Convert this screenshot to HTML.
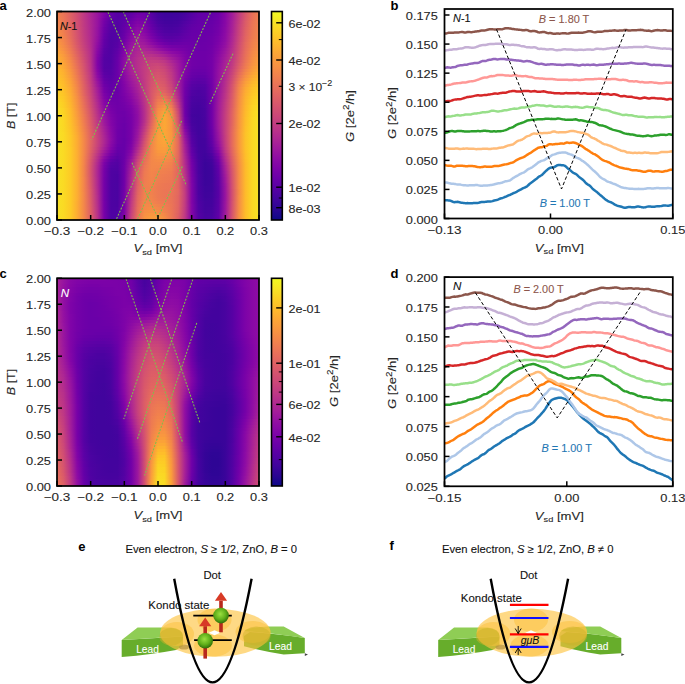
<!DOCTYPE html>
<html><head><meta charset="utf-8"><style>
html,body{margin:0;padding:0;background:#fff;width:685px;height:684px;overflow:hidden}
svg{display:block;font-family:"Liberation Sans", sans-serif}
</style></head><body>
<svg width="685" height="684" viewBox="0 0 685 684">
<defs><linearGradient id="ga0"><stop offset="0.000" stop-color="#f1814d"/><stop offset="0.033" stop-color="#ea7457"/><stop offset="0.067" stop-color="#df6263"/><stop offset="0.100" stop-color="#d14e72"/><stop offset="0.133" stop-color="#bf3984"/><stop offset="0.167" stop-color="#ac2694"/><stop offset="0.200" stop-color="#99159f"/><stop offset="0.233" stop-color="#8004a8"/><stop offset="0.267" stop-color="#6300a7"/><stop offset="0.300" stop-color="#5601a4"/><stop offset="0.333" stop-color="#5801a4"/><stop offset="0.367" stop-color="#6001a6"/><stop offset="0.400" stop-color="#6f00a8"/><stop offset="0.433" stop-color="#6e00a8"/><stop offset="0.467" stop-color="#5801a4"/><stop offset="0.500" stop-color="#44039e"/><stop offset="0.533" stop-color="#3e049c"/><stop offset="0.567" stop-color="#3e049c"/><stop offset="0.600" stop-color="#3f049c"/><stop offset="0.633" stop-color="#46039f"/><stop offset="0.667" stop-color="#5302a3"/><stop offset="0.700" stop-color="#6001a6"/><stop offset="0.733" stop-color="#6300a7"/><stop offset="0.767" stop-color="#6300a7"/><stop offset="0.800" stop-color="#6c00a8"/><stop offset="0.833" stop-color="#8606a6"/><stop offset="0.867" stop-color="#a21d9a"/><stop offset="0.900" stop-color="#c03a83"/><stop offset="0.933" stop-color="#d8576b"/><stop offset="0.967" stop-color="#e87059"/><stop offset="1.000" stop-color="#f0804e"/></linearGradient><linearGradient id="ga1"><stop offset="0.000" stop-color="#f1834c"/><stop offset="0.033" stop-color="#eb7556"/><stop offset="0.067" stop-color="#df6263"/><stop offset="0.100" stop-color="#d14e72"/><stop offset="0.133" stop-color="#bf3984"/><stop offset="0.167" stop-color="#ac2694"/><stop offset="0.200" stop-color="#99159f"/><stop offset="0.233" stop-color="#7d03a8"/><stop offset="0.267" stop-color="#6001a6"/><stop offset="0.300" stop-color="#5601a4"/><stop offset="0.333" stop-color="#5901a5"/><stop offset="0.367" stop-color="#6400a7"/><stop offset="0.400" stop-color="#7501a8"/><stop offset="0.433" stop-color="#7100a8"/><stop offset="0.467" stop-color="#5901a5"/><stop offset="0.500" stop-color="#46039f"/><stop offset="0.533" stop-color="#3f049c"/><stop offset="0.567" stop-color="#3f049c"/><stop offset="0.600" stop-color="#41049d"/><stop offset="0.633" stop-color="#4903a0"/><stop offset="0.667" stop-color="#5601a4"/><stop offset="0.700" stop-color="#6100a7"/><stop offset="0.733" stop-color="#6400a7"/><stop offset="0.767" stop-color="#6400a7"/><stop offset="0.800" stop-color="#6e00a8"/><stop offset="0.833" stop-color="#8606a6"/><stop offset="0.867" stop-color="#a21d9a"/><stop offset="0.900" stop-color="#c13b82"/><stop offset="0.933" stop-color="#d9586a"/><stop offset="0.967" stop-color="#e97158"/><stop offset="1.000" stop-color="#f0804e"/></linearGradient><linearGradient id="ga2"><stop offset="0.000" stop-color="#f2844b"/><stop offset="0.033" stop-color="#eb7655"/><stop offset="0.067" stop-color="#e06363"/><stop offset="0.100" stop-color="#d14e72"/><stop offset="0.133" stop-color="#bf3984"/><stop offset="0.167" stop-color="#ad2793"/><stop offset="0.200" stop-color="#9814a0"/><stop offset="0.233" stop-color="#7801a8"/><stop offset="0.267" stop-color="#5c01a6"/><stop offset="0.300" stop-color="#5502a4"/><stop offset="0.333" stop-color="#5c01a6"/><stop offset="0.367" stop-color="#6a00a8"/><stop offset="0.400" stop-color="#7b02a8"/><stop offset="0.433" stop-color="#7501a8"/><stop offset="0.467" stop-color="#5c01a6"/><stop offset="0.500" stop-color="#48039f"/><stop offset="0.533" stop-color="#41049d"/><stop offset="0.567" stop-color="#41049d"/><stop offset="0.600" stop-color="#43039e"/><stop offset="0.633" stop-color="#4c02a1"/><stop offset="0.667" stop-color="#5901a5"/><stop offset="0.700" stop-color="#6300a7"/><stop offset="0.733" stop-color="#6400a7"/><stop offset="0.767" stop-color="#6600a7"/><stop offset="0.800" stop-color="#6f00a8"/><stop offset="0.833" stop-color="#8707a6"/><stop offset="0.867" stop-color="#a31e9a"/><stop offset="0.900" stop-color="#c23c81"/><stop offset="0.933" stop-color="#da5a6a"/><stop offset="0.967" stop-color="#e97257"/><stop offset="1.000" stop-color="#f1814d"/></linearGradient><linearGradient id="ga3"><stop offset="0.000" stop-color="#f3854b"/><stop offset="0.033" stop-color="#ec7754"/><stop offset="0.067" stop-color="#e16462"/><stop offset="0.100" stop-color="#d24f71"/><stop offset="0.133" stop-color="#c03a83"/><stop offset="0.167" stop-color="#ad2793"/><stop offset="0.200" stop-color="#9814a0"/><stop offset="0.233" stop-color="#7501a8"/><stop offset="0.267" stop-color="#5901a5"/><stop offset="0.300" stop-color="#5502a4"/><stop offset="0.333" stop-color="#5e01a6"/><stop offset="0.367" stop-color="#7100a8"/><stop offset="0.400" stop-color="#8104a7"/><stop offset="0.433" stop-color="#7a02a8"/><stop offset="0.467" stop-color="#6100a7"/><stop offset="0.500" stop-color="#4b03a1"/><stop offset="0.533" stop-color="#44039e"/><stop offset="0.567" stop-color="#43039e"/><stop offset="0.600" stop-color="#46039f"/><stop offset="0.633" stop-color="#5102a3"/><stop offset="0.667" stop-color="#5c01a6"/><stop offset="0.700" stop-color="#6400a7"/><stop offset="0.733" stop-color="#6600a7"/><stop offset="0.767" stop-color="#6700a8"/><stop offset="0.800" stop-color="#7100a8"/><stop offset="0.833" stop-color="#8707a6"/><stop offset="0.867" stop-color="#a51f99"/><stop offset="0.900" stop-color="#c33d80"/><stop offset="0.933" stop-color="#db5c68"/><stop offset="0.967" stop-color="#ea7457"/><stop offset="1.000" stop-color="#f1814d"/></linearGradient><linearGradient id="ga4"><stop offset="0.000" stop-color="#f48849"/><stop offset="0.033" stop-color="#ed7a52"/><stop offset="0.067" stop-color="#e26561"/><stop offset="0.100" stop-color="#d24f71"/><stop offset="0.133" stop-color="#c03a83"/><stop offset="0.167" stop-color="#ae2892"/><stop offset="0.200" stop-color="#9814a0"/><stop offset="0.233" stop-color="#7201a8"/><stop offset="0.267" stop-color="#5601a4"/><stop offset="0.300" stop-color="#5302a3"/><stop offset="0.333" stop-color="#6100a7"/><stop offset="0.367" stop-color="#7501a8"/><stop offset="0.400" stop-color="#8707a6"/><stop offset="0.433" stop-color="#7e03a8"/><stop offset="0.467" stop-color="#6600a7"/><stop offset="0.500" stop-color="#5002a2"/><stop offset="0.533" stop-color="#48039f"/><stop offset="0.567" stop-color="#46039f"/><stop offset="0.600" stop-color="#4903a0"/><stop offset="0.633" stop-color="#5502a4"/><stop offset="0.667" stop-color="#6001a6"/><stop offset="0.700" stop-color="#6600a7"/><stop offset="0.733" stop-color="#6700a8"/><stop offset="0.767" stop-color="#6900a8"/><stop offset="0.800" stop-color="#7201a8"/><stop offset="0.833" stop-color="#8808a6"/><stop offset="0.867" stop-color="#a62098"/><stop offset="0.900" stop-color="#c5407e"/><stop offset="0.933" stop-color="#dc5d67"/><stop offset="0.967" stop-color="#eb7556"/><stop offset="1.000" stop-color="#f1834c"/></linearGradient><linearGradient id="ga5"><stop offset="0.000" stop-color="#f48948"/><stop offset="0.033" stop-color="#ee7b51"/><stop offset="0.067" stop-color="#e3685f"/><stop offset="0.100" stop-color="#d35171"/><stop offset="0.133" stop-color="#c13b82"/><stop offset="0.167" stop-color="#ae2892"/><stop offset="0.200" stop-color="#9613a1"/><stop offset="0.233" stop-color="#6f00a8"/><stop offset="0.267" stop-color="#5502a4"/><stop offset="0.300" stop-color="#5302a3"/><stop offset="0.333" stop-color="#6400a7"/><stop offset="0.367" stop-color="#7b02a8"/><stop offset="0.400" stop-color="#8d0ba5"/><stop offset="0.433" stop-color="#8305a7"/><stop offset="0.467" stop-color="#6a00a8"/><stop offset="0.500" stop-color="#5502a4"/><stop offset="0.533" stop-color="#4b03a1"/><stop offset="0.567" stop-color="#4903a0"/><stop offset="0.600" stop-color="#4e02a2"/><stop offset="0.633" stop-color="#5801a4"/><stop offset="0.667" stop-color="#6300a7"/><stop offset="0.700" stop-color="#6700a8"/><stop offset="0.733" stop-color="#6700a8"/><stop offset="0.767" stop-color="#6a00a8"/><stop offset="0.800" stop-color="#7401a8"/><stop offset="0.833" stop-color="#8a09a5"/><stop offset="0.867" stop-color="#a72197"/><stop offset="0.900" stop-color="#c6417d"/><stop offset="0.933" stop-color="#de5f65"/><stop offset="0.967" stop-color="#eb7655"/><stop offset="1.000" stop-color="#f2844b"/></linearGradient><linearGradient id="ga6"><stop offset="0.000" stop-color="#f58c46"/><stop offset="0.033" stop-color="#ef7e50"/><stop offset="0.067" stop-color="#e4695e"/><stop offset="0.100" stop-color="#d45270"/><stop offset="0.133" stop-color="#c13b82"/><stop offset="0.167" stop-color="#b02991"/><stop offset="0.200" stop-color="#9613a1"/><stop offset="0.233" stop-color="#6c00a8"/><stop offset="0.267" stop-color="#5302a3"/><stop offset="0.300" stop-color="#5302a3"/><stop offset="0.333" stop-color="#6600a7"/><stop offset="0.367" stop-color="#8004a8"/><stop offset="0.400" stop-color="#920fa3"/><stop offset="0.433" stop-color="#8707a6"/><stop offset="0.467" stop-color="#7100a8"/><stop offset="0.500" stop-color="#5b01a5"/><stop offset="0.533" stop-color="#5002a2"/><stop offset="0.567" stop-color="#4e02a2"/><stop offset="0.600" stop-color="#5102a3"/><stop offset="0.633" stop-color="#5c01a6"/><stop offset="0.667" stop-color="#6600a7"/><stop offset="0.700" stop-color="#6700a8"/><stop offset="0.733" stop-color="#6900a8"/><stop offset="0.767" stop-color="#6a00a8"/><stop offset="0.800" stop-color="#7501a8"/><stop offset="0.833" stop-color="#8b0aa5"/><stop offset="0.867" stop-color="#a82296"/><stop offset="0.900" stop-color="#c8437b"/><stop offset="0.933" stop-color="#df6263"/><stop offset="0.967" stop-color="#ed7953"/><stop offset="1.000" stop-color="#f3854b"/></linearGradient><linearGradient id="ga7"><stop offset="0.000" stop-color="#f68f44"/><stop offset="0.033" stop-color="#f0804e"/><stop offset="0.067" stop-color="#e56a5d"/><stop offset="0.100" stop-color="#d5536f"/><stop offset="0.133" stop-color="#c23c81"/><stop offset="0.167" stop-color="#b02991"/><stop offset="0.200" stop-color="#9613a1"/><stop offset="0.233" stop-color="#6900a8"/><stop offset="0.267" stop-color="#5102a3"/><stop offset="0.300" stop-color="#5302a3"/><stop offset="0.333" stop-color="#6900a8"/><stop offset="0.367" stop-color="#8606a6"/><stop offset="0.400" stop-color="#9613a1"/><stop offset="0.433" stop-color="#8d0ba5"/><stop offset="0.467" stop-color="#7701a8"/><stop offset="0.500" stop-color="#6100a7"/><stop offset="0.533" stop-color="#5502a4"/><stop offset="0.567" stop-color="#5302a3"/><stop offset="0.600" stop-color="#5601a4"/><stop offset="0.633" stop-color="#6001a6"/><stop offset="0.667" stop-color="#6700a8"/><stop offset="0.700" stop-color="#6900a8"/><stop offset="0.733" stop-color="#6900a8"/><stop offset="0.767" stop-color="#6c00a8"/><stop offset="0.800" stop-color="#7701a8"/><stop offset="0.833" stop-color="#8d0ba5"/><stop offset="0.867" stop-color="#ab2494"/><stop offset="0.900" stop-color="#c9447a"/><stop offset="0.933" stop-color="#e06363"/><stop offset="0.967" stop-color="#ed7a52"/><stop offset="1.000" stop-color="#f3874a"/></linearGradient><linearGradient id="ga8"><stop offset="0.000" stop-color="#f79143"/><stop offset="0.033" stop-color="#f1834c"/><stop offset="0.067" stop-color="#e66c5c"/><stop offset="0.100" stop-color="#d5546e"/><stop offset="0.133" stop-color="#c33d80"/><stop offset="0.167" stop-color="#b12a90"/><stop offset="0.200" stop-color="#9511a1"/><stop offset="0.233" stop-color="#6700a8"/><stop offset="0.267" stop-color="#5002a2"/><stop offset="0.300" stop-color="#5502a4"/><stop offset="0.333" stop-color="#6c00a8"/><stop offset="0.367" stop-color="#8a09a5"/><stop offset="0.400" stop-color="#9c179e"/><stop offset="0.433" stop-color="#920fa3"/><stop offset="0.467" stop-color="#7d03a8"/><stop offset="0.500" stop-color="#6900a8"/><stop offset="0.533" stop-color="#5b01a5"/><stop offset="0.567" stop-color="#5801a4"/><stop offset="0.600" stop-color="#5c01a6"/><stop offset="0.633" stop-color="#6300a7"/><stop offset="0.667" stop-color="#6900a8"/><stop offset="0.700" stop-color="#6a00a8"/><stop offset="0.733" stop-color="#6a00a8"/><stop offset="0.767" stop-color="#6e00a8"/><stop offset="0.800" stop-color="#7a02a8"/><stop offset="0.833" stop-color="#8e0ca4"/><stop offset="0.867" stop-color="#ac2694"/><stop offset="0.900" stop-color="#cb4679"/><stop offset="0.933" stop-color="#e26561"/><stop offset="0.967" stop-color="#ee7b51"/><stop offset="1.000" stop-color="#f48849"/></linearGradient><linearGradient id="ga9"><stop offset="0.000" stop-color="#f89441"/><stop offset="0.033" stop-color="#f3854b"/><stop offset="0.067" stop-color="#e76f5a"/><stop offset="0.100" stop-color="#d6556d"/><stop offset="0.133" stop-color="#c43e7f"/><stop offset="0.167" stop-color="#b12a90"/><stop offset="0.200" stop-color="#9410a2"/><stop offset="0.233" stop-color="#6400a7"/><stop offset="0.267" stop-color="#5002a2"/><stop offset="0.300" stop-color="#5502a4"/><stop offset="0.333" stop-color="#7100a8"/><stop offset="0.367" stop-color="#8e0ca4"/><stop offset="0.400" stop-color="#a01a9c"/><stop offset="0.433" stop-color="#9814a0"/><stop offset="0.467" stop-color="#8606a6"/><stop offset="0.500" stop-color="#7100a8"/><stop offset="0.533" stop-color="#6400a7"/><stop offset="0.567" stop-color="#5e01a6"/><stop offset="0.600" stop-color="#6100a7"/><stop offset="0.633" stop-color="#6700a8"/><stop offset="0.667" stop-color="#6a00a8"/><stop offset="0.700" stop-color="#6a00a8"/><stop offset="0.733" stop-color="#6a00a8"/><stop offset="0.767" stop-color="#6f00a8"/><stop offset="0.800" stop-color="#7b02a8"/><stop offset="0.833" stop-color="#8f0da4"/><stop offset="0.867" stop-color="#ad2793"/><stop offset="0.900" stop-color="#cc4778"/><stop offset="0.933" stop-color="#e26660"/><stop offset="0.967" stop-color="#ef7e50"/><stop offset="1.000" stop-color="#f48948"/></linearGradient><linearGradient id="ga10"><stop offset="0.000" stop-color="#f9983e"/><stop offset="0.033" stop-color="#f48849"/><stop offset="0.067" stop-color="#e97158"/><stop offset="0.100" stop-color="#d8576b"/><stop offset="0.133" stop-color="#c5407e"/><stop offset="0.167" stop-color="#b22b8f"/><stop offset="0.200" stop-color="#910ea3"/><stop offset="0.233" stop-color="#6300a7"/><stop offset="0.267" stop-color="#5002a2"/><stop offset="0.300" stop-color="#5801a4"/><stop offset="0.333" stop-color="#7501a8"/><stop offset="0.367" stop-color="#9410a2"/><stop offset="0.400" stop-color="#a31e9a"/><stop offset="0.433" stop-color="#9e199d"/><stop offset="0.467" stop-color="#8e0ca4"/><stop offset="0.500" stop-color="#7d03a8"/><stop offset="0.533" stop-color="#6f00a8"/><stop offset="0.567" stop-color="#6700a8"/><stop offset="0.600" stop-color="#6900a8"/><stop offset="0.633" stop-color="#6c00a8"/><stop offset="0.667" stop-color="#6c00a8"/><stop offset="0.700" stop-color="#6a00a8"/><stop offset="0.733" stop-color="#6c00a8"/><stop offset="0.767" stop-color="#6f00a8"/><stop offset="0.800" stop-color="#7e03a8"/><stop offset="0.833" stop-color="#920fa3"/><stop offset="0.867" stop-color="#b02991"/><stop offset="0.900" stop-color="#cd4a76"/><stop offset="0.933" stop-color="#e4695e"/><stop offset="0.967" stop-color="#f0804e"/><stop offset="1.000" stop-color="#f58c46"/></linearGradient><linearGradient id="ga11"><stop offset="0.000" stop-color="#fa9c3c"/><stop offset="0.033" stop-color="#f58c46"/><stop offset="0.067" stop-color="#eb7556"/><stop offset="0.100" stop-color="#da5a6a"/><stop offset="0.133" stop-color="#c7427c"/><stop offset="0.167" stop-color="#b32c8e"/><stop offset="0.200" stop-color="#8e0ca4"/><stop offset="0.233" stop-color="#6001a6"/><stop offset="0.267" stop-color="#5002a2"/><stop offset="0.300" stop-color="#5901a5"/><stop offset="0.333" stop-color="#7a02a8"/><stop offset="0.367" stop-color="#9814a0"/><stop offset="0.400" stop-color="#a82296"/><stop offset="0.433" stop-color="#a51f99"/><stop offset="0.467" stop-color="#99159f"/><stop offset="0.500" stop-color="#8a09a5"/><stop offset="0.533" stop-color="#7d03a8"/><stop offset="0.567" stop-color="#7401a8"/><stop offset="0.600" stop-color="#7201a8"/><stop offset="0.633" stop-color="#7100a8"/><stop offset="0.667" stop-color="#6e00a8"/><stop offset="0.700" stop-color="#6c00a8"/><stop offset="0.733" stop-color="#6c00a8"/><stop offset="0.767" stop-color="#7100a8"/><stop offset="0.800" stop-color="#8104a7"/><stop offset="0.833" stop-color="#9511a1"/><stop offset="0.867" stop-color="#b22b8f"/><stop offset="0.900" stop-color="#cf4c74"/><stop offset="0.933" stop-color="#e56a5d"/><stop offset="0.967" stop-color="#f1814d"/><stop offset="1.000" stop-color="#f68f44"/></linearGradient><linearGradient id="ga12"><stop offset="0.000" stop-color="#fba139"/><stop offset="0.033" stop-color="#f79044"/><stop offset="0.067" stop-color="#ed7953"/><stop offset="0.100" stop-color="#dc5d67"/><stop offset="0.133" stop-color="#c9447a"/><stop offset="0.167" stop-color="#b42e8d"/><stop offset="0.200" stop-color="#8b0aa5"/><stop offset="0.233" stop-color="#5c01a6"/><stop offset="0.267" stop-color="#5002a2"/><stop offset="0.300" stop-color="#5e01a6"/><stop offset="0.333" stop-color="#7e03a8"/><stop offset="0.367" stop-color="#9d189d"/><stop offset="0.400" stop-color="#ac2694"/><stop offset="0.433" stop-color="#ac2694"/><stop offset="0.467" stop-color="#a51f99"/><stop offset="0.500" stop-color="#9814a0"/><stop offset="0.533" stop-color="#8b0aa5"/><stop offset="0.567" stop-color="#8004a8"/><stop offset="0.600" stop-color="#7b02a8"/><stop offset="0.633" stop-color="#7501a8"/><stop offset="0.667" stop-color="#6e00a8"/><stop offset="0.700" stop-color="#6c00a8"/><stop offset="0.733" stop-color="#6c00a8"/><stop offset="0.767" stop-color="#7201a8"/><stop offset="0.800" stop-color="#8405a7"/><stop offset="0.833" stop-color="#99159f"/><stop offset="0.867" stop-color="#b42e8d"/><stop offset="0.900" stop-color="#d04d73"/><stop offset="0.933" stop-color="#e66c5c"/><stop offset="0.967" stop-color="#f2844b"/><stop offset="1.000" stop-color="#f79143"/></linearGradient><linearGradient id="ga13"><stop offset="0.000" stop-color="#fca537"/><stop offset="0.033" stop-color="#f89540"/><stop offset="0.067" stop-color="#ef7c51"/><stop offset="0.100" stop-color="#de6164"/><stop offset="0.133" stop-color="#cc4778"/><stop offset="0.167" stop-color="#b52f8c"/><stop offset="0.200" stop-color="#8808a6"/><stop offset="0.233" stop-color="#5b01a5"/><stop offset="0.267" stop-color="#5002a2"/><stop offset="0.300" stop-color="#6100a7"/><stop offset="0.333" stop-color="#8305a7"/><stop offset="0.367" stop-color="#a11b9b"/><stop offset="0.400" stop-color="#b02991"/><stop offset="0.433" stop-color="#b32c8e"/><stop offset="0.467" stop-color="#ae2892"/><stop offset="0.500" stop-color="#a62098"/><stop offset="0.533" stop-color="#9a169f"/><stop offset="0.567" stop-color="#8d0ba5"/><stop offset="0.600" stop-color="#8606a6"/><stop offset="0.633" stop-color="#7a02a8"/><stop offset="0.667" stop-color="#6f00a8"/><stop offset="0.700" stop-color="#6e00a8"/><stop offset="0.733" stop-color="#6e00a8"/><stop offset="0.767" stop-color="#7201a8"/><stop offset="0.800" stop-color="#8707a6"/><stop offset="0.833" stop-color="#9c179e"/><stop offset="0.867" stop-color="#b6308b"/><stop offset="0.900" stop-color="#d24f71"/><stop offset="0.933" stop-color="#e76e5b"/><stop offset="0.967" stop-color="#f3874a"/><stop offset="1.000" stop-color="#f89540"/></linearGradient><linearGradient id="ga14"><stop offset="0.000" stop-color="#fdab33"/><stop offset="0.033" stop-color="#f99a3e"/><stop offset="0.067" stop-color="#f1814d"/><stop offset="0.100" stop-color="#e16462"/><stop offset="0.133" stop-color="#cd4a76"/><stop offset="0.167" stop-color="#b6308b"/><stop offset="0.200" stop-color="#8606a6"/><stop offset="0.233" stop-color="#5801a4"/><stop offset="0.267" stop-color="#5102a3"/><stop offset="0.300" stop-color="#6400a7"/><stop offset="0.333" stop-color="#8707a6"/><stop offset="0.367" stop-color="#a31e9a"/><stop offset="0.400" stop-color="#b22b8f"/><stop offset="0.433" stop-color="#b7318a"/><stop offset="0.467" stop-color="#b83289"/><stop offset="0.500" stop-color="#b22b8f"/><stop offset="0.533" stop-color="#a82296"/><stop offset="0.567" stop-color="#99159f"/><stop offset="0.600" stop-color="#8e0ca4"/><stop offset="0.633" stop-color="#7e03a8"/><stop offset="0.667" stop-color="#6f00a8"/><stop offset="0.700" stop-color="#6e00a8"/><stop offset="0.733" stop-color="#6e00a8"/><stop offset="0.767" stop-color="#7401a8"/><stop offset="0.800" stop-color="#8a09a5"/><stop offset="0.833" stop-color="#a01a9c"/><stop offset="0.867" stop-color="#b83289"/><stop offset="0.900" stop-color="#d45270"/><stop offset="0.933" stop-color="#e87059"/><stop offset="0.967" stop-color="#f48948"/><stop offset="1.000" stop-color="#f9983e"/></linearGradient><linearGradient id="ga15"><stop offset="0.000" stop-color="#fdaf31"/><stop offset="0.033" stop-color="#fa9e3b"/><stop offset="0.067" stop-color="#f3854b"/><stop offset="0.100" stop-color="#e3685f"/><stop offset="0.133" stop-color="#cf4c74"/><stop offset="0.167" stop-color="#b7318a"/><stop offset="0.200" stop-color="#8305a7"/><stop offset="0.233" stop-color="#5601a4"/><stop offset="0.267" stop-color="#5102a3"/><stop offset="0.300" stop-color="#6600a7"/><stop offset="0.333" stop-color="#8b0aa5"/><stop offset="0.367" stop-color="#a72197"/><stop offset="0.400" stop-color="#b42e8d"/><stop offset="0.433" stop-color="#bd3786"/><stop offset="0.467" stop-color="#c03a83"/><stop offset="0.500" stop-color="#bd3786"/><stop offset="0.533" stop-color="#b42e8d"/><stop offset="0.567" stop-color="#a31e9a"/><stop offset="0.600" stop-color="#9511a1"/><stop offset="0.633" stop-color="#8104a7"/><stop offset="0.667" stop-color="#7100a8"/><stop offset="0.700" stop-color="#6e00a8"/><stop offset="0.733" stop-color="#6e00a8"/><stop offset="0.767" stop-color="#7501a8"/><stop offset="0.800" stop-color="#8d0ba5"/><stop offset="0.833" stop-color="#a21d9a"/><stop offset="0.867" stop-color="#bb3488"/><stop offset="0.900" stop-color="#d5546e"/><stop offset="0.933" stop-color="#e97257"/><stop offset="0.967" stop-color="#f58c46"/><stop offset="1.000" stop-color="#fa9c3c"/></linearGradient><linearGradient id="ga16"><stop offset="0.000" stop-color="#fdb42f"/><stop offset="0.033" stop-color="#fba238"/><stop offset="0.067" stop-color="#f48948"/><stop offset="0.100" stop-color="#e56b5d"/><stop offset="0.133" stop-color="#d24f71"/><stop offset="0.167" stop-color="#b83289"/><stop offset="0.200" stop-color="#8104a7"/><stop offset="0.233" stop-color="#5502a4"/><stop offset="0.267" stop-color="#5102a3"/><stop offset="0.300" stop-color="#6900a8"/><stop offset="0.333" stop-color="#8d0ba5"/><stop offset="0.367" stop-color="#a82296"/><stop offset="0.400" stop-color="#b6308b"/><stop offset="0.433" stop-color="#bf3984"/><stop offset="0.467" stop-color="#c5407e"/><stop offset="0.500" stop-color="#c43e7f"/><stop offset="0.533" stop-color="#bd3786"/><stop offset="0.567" stop-color="#ac2694"/><stop offset="0.600" stop-color="#9a169f"/><stop offset="0.633" stop-color="#8305a7"/><stop offset="0.667" stop-color="#7100a8"/><stop offset="0.700" stop-color="#6e00a8"/><stop offset="0.733" stop-color="#6e00a8"/><stop offset="0.767" stop-color="#7501a8"/><stop offset="0.800" stop-color="#8e0ca4"/><stop offset="0.833" stop-color="#a62098"/><stop offset="0.867" stop-color="#be3885"/><stop offset="0.900" stop-color="#d7566c"/><stop offset="0.933" stop-color="#eb7556"/><stop offset="0.967" stop-color="#f79044"/><stop offset="1.000" stop-color="#fba139"/></linearGradient><linearGradient id="ga17"><stop offset="0.000" stop-color="#feb72d"/><stop offset="0.033" stop-color="#fca636"/><stop offset="0.067" stop-color="#f68d45"/><stop offset="0.100" stop-color="#e76e5b"/><stop offset="0.133" stop-color="#d45270"/><stop offset="0.167" stop-color="#ba3388"/><stop offset="0.200" stop-color="#8104a7"/><stop offset="0.233" stop-color="#5502a4"/><stop offset="0.267" stop-color="#5302a3"/><stop offset="0.300" stop-color="#6900a8"/><stop offset="0.333" stop-color="#8e0ca4"/><stop offset="0.367" stop-color="#a82296"/><stop offset="0.400" stop-color="#b6308b"/><stop offset="0.433" stop-color="#c13b82"/><stop offset="0.467" stop-color="#c9447a"/><stop offset="0.500" stop-color="#cb4679"/><stop offset="0.533" stop-color="#c33d80"/><stop offset="0.567" stop-color="#b32c8e"/><stop offset="0.600" stop-color="#9e199d"/><stop offset="0.633" stop-color="#8405a7"/><stop offset="0.667" stop-color="#7100a8"/><stop offset="0.700" stop-color="#6e00a8"/><stop offset="0.733" stop-color="#6e00a8"/><stop offset="0.767" stop-color="#7501a8"/><stop offset="0.800" stop-color="#910ea3"/><stop offset="0.833" stop-color="#a82296"/><stop offset="0.867" stop-color="#c03a83"/><stop offset="0.900" stop-color="#da5a6a"/><stop offset="0.933" stop-color="#ed7953"/><stop offset="0.967" stop-color="#f79342"/><stop offset="1.000" stop-color="#fca338"/></linearGradient><linearGradient id="ga18"><stop offset="0.000" stop-color="#feba2c"/><stop offset="0.033" stop-color="#fca934"/><stop offset="0.067" stop-color="#f79044"/><stop offset="0.100" stop-color="#e97158"/><stop offset="0.133" stop-color="#d5546e"/><stop offset="0.167" stop-color="#bb3488"/><stop offset="0.200" stop-color="#8305a7"/><stop offset="0.233" stop-color="#5601a4"/><stop offset="0.267" stop-color="#5302a3"/><stop offset="0.300" stop-color="#6a00a8"/><stop offset="0.333" stop-color="#8e0ca4"/><stop offset="0.367" stop-color="#a82296"/><stop offset="0.400" stop-color="#b6308b"/><stop offset="0.433" stop-color="#c23c81"/><stop offset="0.467" stop-color="#cc4778"/><stop offset="0.500" stop-color="#ce4b75"/><stop offset="0.533" stop-color="#c8437b"/><stop offset="0.567" stop-color="#b7318a"/><stop offset="0.600" stop-color="#a01a9c"/><stop offset="0.633" stop-color="#8305a7"/><stop offset="0.667" stop-color="#6f00a8"/><stop offset="0.700" stop-color="#6c00a8"/><stop offset="0.733" stop-color="#6c00a8"/><stop offset="0.767" stop-color="#7501a8"/><stop offset="0.800" stop-color="#920fa3"/><stop offset="0.833" stop-color="#aa2395"/><stop offset="0.867" stop-color="#c33d80"/><stop offset="0.900" stop-color="#dd5e66"/><stop offset="0.933" stop-color="#ef7c51"/><stop offset="0.967" stop-color="#f9983e"/><stop offset="1.000" stop-color="#fca835"/></linearGradient><linearGradient id="ga19"><stop offset="0.000" stop-color="#febd2a"/><stop offset="0.033" stop-color="#fdae32"/><stop offset="0.067" stop-color="#f89441"/><stop offset="0.100" stop-color="#eb7556"/><stop offset="0.133" stop-color="#d6556d"/><stop offset="0.167" stop-color="#bc3587"/><stop offset="0.200" stop-color="#8606a6"/><stop offset="0.233" stop-color="#5801a4"/><stop offset="0.267" stop-color="#5502a4"/><stop offset="0.300" stop-color="#6a00a8"/><stop offset="0.333" stop-color="#8d0ba5"/><stop offset="0.367" stop-color="#a72197"/><stop offset="0.400" stop-color="#b52f8c"/><stop offset="0.433" stop-color="#c23c81"/><stop offset="0.467" stop-color="#cd4a76"/><stop offset="0.500" stop-color="#d24f71"/><stop offset="0.533" stop-color="#cc4778"/><stop offset="0.567" stop-color="#bb3488"/><stop offset="0.600" stop-color="#a11b9b"/><stop offset="0.633" stop-color="#8305a7"/><stop offset="0.667" stop-color="#6c00a8"/><stop offset="0.700" stop-color="#6900a8"/><stop offset="0.733" stop-color="#6a00a8"/><stop offset="0.767" stop-color="#7501a8"/><stop offset="0.800" stop-color="#9410a2"/><stop offset="0.833" stop-color="#ac2694"/><stop offset="0.867" stop-color="#c6417d"/><stop offset="0.900" stop-color="#e06363"/><stop offset="0.933" stop-color="#f1834c"/><stop offset="0.967" stop-color="#fa9c3c"/><stop offset="1.000" stop-color="#fdac33"/></linearGradient><linearGradient id="ga20"><stop offset="0.000" stop-color="#febe2a"/><stop offset="0.033" stop-color="#fdb130"/><stop offset="0.067" stop-color="#f9983e"/><stop offset="0.100" stop-color="#ec7754"/><stop offset="0.133" stop-color="#d8576b"/><stop offset="0.167" stop-color="#be3885"/><stop offset="0.200" stop-color="#8a09a5"/><stop offset="0.233" stop-color="#5c01a6"/><stop offset="0.267" stop-color="#5601a4"/><stop offset="0.300" stop-color="#6a00a8"/><stop offset="0.333" stop-color="#8b0aa5"/><stop offset="0.367" stop-color="#a51f99"/><stop offset="0.400" stop-color="#b42e8d"/><stop offset="0.433" stop-color="#c23c81"/><stop offset="0.467" stop-color="#cf4c74"/><stop offset="0.500" stop-color="#d5536f"/><stop offset="0.533" stop-color="#ce4b75"/><stop offset="0.567" stop-color="#be3885"/><stop offset="0.600" stop-color="#a21d9a"/><stop offset="0.633" stop-color="#8004a8"/><stop offset="0.667" stop-color="#6900a8"/><stop offset="0.700" stop-color="#6600a7"/><stop offset="0.733" stop-color="#6700a8"/><stop offset="0.767" stop-color="#7501a8"/><stop offset="0.800" stop-color="#9511a1"/><stop offset="0.833" stop-color="#ae2892"/><stop offset="0.867" stop-color="#c9447a"/><stop offset="0.900" stop-color="#e4695e"/><stop offset="0.933" stop-color="#f48948"/><stop offset="0.967" stop-color="#fba238"/><stop offset="1.000" stop-color="#fdb22f"/></linearGradient><linearGradient id="ga21"><stop offset="0.000" stop-color="#fdc229"/><stop offset="0.033" stop-color="#fdb42f"/><stop offset="0.067" stop-color="#fa9b3d"/><stop offset="0.100" stop-color="#ee7b51"/><stop offset="0.133" stop-color="#da5a6a"/><stop offset="0.167" stop-color="#c03a83"/><stop offset="0.200" stop-color="#8e0ca4"/><stop offset="0.233" stop-color="#6100a7"/><stop offset="0.267" stop-color="#5901a5"/><stop offset="0.300" stop-color="#6a00a8"/><stop offset="0.333" stop-color="#8808a6"/><stop offset="0.367" stop-color="#a11b9b"/><stop offset="0.400" stop-color="#b22b8f"/><stop offset="0.433" stop-color="#c23c81"/><stop offset="0.467" stop-color="#d14e72"/><stop offset="0.500" stop-color="#d7566c"/><stop offset="0.533" stop-color="#d14e72"/><stop offset="0.567" stop-color="#c03a83"/><stop offset="0.600" stop-color="#a31e9a"/><stop offset="0.633" stop-color="#7d03a8"/><stop offset="0.667" stop-color="#6600a7"/><stop offset="0.700" stop-color="#6100a7"/><stop offset="0.733" stop-color="#6300a7"/><stop offset="0.767" stop-color="#7401a8"/><stop offset="0.800" stop-color="#9511a1"/><stop offset="0.833" stop-color="#b02991"/><stop offset="0.867" stop-color="#cc4977"/><stop offset="0.900" stop-color="#e76f5a"/><stop offset="0.933" stop-color="#f79044"/><stop offset="0.967" stop-color="#fca934"/><stop offset="1.000" stop-color="#feb72d"/></linearGradient><linearGradient id="ga22"><stop offset="0.000" stop-color="#fdc527"/><stop offset="0.033" stop-color="#feb72d"/><stop offset="0.067" stop-color="#fb9f3a"/><stop offset="0.100" stop-color="#ef7e50"/><stop offset="0.133" stop-color="#db5c68"/><stop offset="0.167" stop-color="#c13b82"/><stop offset="0.200" stop-color="#9410a2"/><stop offset="0.233" stop-color="#6600a7"/><stop offset="0.267" stop-color="#5b01a5"/><stop offset="0.300" stop-color="#6a00a8"/><stop offset="0.333" stop-color="#8707a6"/><stop offset="0.367" stop-color="#9e199d"/><stop offset="0.400" stop-color="#b02991"/><stop offset="0.433" stop-color="#c13b82"/><stop offset="0.467" stop-color="#d24f71"/><stop offset="0.500" stop-color="#d9586a"/><stop offset="0.533" stop-color="#d45270"/><stop offset="0.567" stop-color="#c23c81"/><stop offset="0.600" stop-color="#a31e9a"/><stop offset="0.633" stop-color="#7a02a8"/><stop offset="0.667" stop-color="#6100a7"/><stop offset="0.700" stop-color="#5c01a6"/><stop offset="0.733" stop-color="#5e01a6"/><stop offset="0.767" stop-color="#7201a8"/><stop offset="0.800" stop-color="#9613a1"/><stop offset="0.833" stop-color="#b22b8f"/><stop offset="0.867" stop-color="#cf4c74"/><stop offset="0.900" stop-color="#eb7556"/><stop offset="0.933" stop-color="#f9973f"/><stop offset="0.967" stop-color="#fdaf31"/><stop offset="1.000" stop-color="#febd2a"/></linearGradient><linearGradient id="ga23"><stop offset="0.000" stop-color="#fdc627"/><stop offset="0.033" stop-color="#feba2c"/><stop offset="0.067" stop-color="#fba238"/><stop offset="0.100" stop-color="#f1814d"/><stop offset="0.133" stop-color="#dd5e66"/><stop offset="0.167" stop-color="#c33d80"/><stop offset="0.200" stop-color="#99159f"/><stop offset="0.233" stop-color="#6a00a8"/><stop offset="0.267" stop-color="#5e01a6"/><stop offset="0.300" stop-color="#6a00a8"/><stop offset="0.333" stop-color="#8405a7"/><stop offset="0.367" stop-color="#9a169f"/><stop offset="0.400" stop-color="#ad2793"/><stop offset="0.433" stop-color="#c13b82"/><stop offset="0.467" stop-color="#d35171"/><stop offset="0.500" stop-color="#db5c68"/><stop offset="0.533" stop-color="#d6556d"/><stop offset="0.567" stop-color="#c5407e"/><stop offset="0.600" stop-color="#a51f99"/><stop offset="0.633" stop-color="#7701a8"/><stop offset="0.667" stop-color="#5c01a6"/><stop offset="0.700" stop-color="#5801a4"/><stop offset="0.733" stop-color="#5b01a5"/><stop offset="0.767" stop-color="#7201a8"/><stop offset="0.800" stop-color="#9814a0"/><stop offset="0.833" stop-color="#b42e8d"/><stop offset="0.867" stop-color="#d24f71"/><stop offset="0.900" stop-color="#ee7b51"/><stop offset="0.933" stop-color="#fa9e3b"/><stop offset="0.967" stop-color="#fdb52e"/><stop offset="1.000" stop-color="#fdc229"/></linearGradient><linearGradient id="ga24"><stop offset="0.000" stop-color="#fdca26"/><stop offset="0.033" stop-color="#febd2a"/><stop offset="0.067" stop-color="#fca537"/><stop offset="0.100" stop-color="#f2844b"/><stop offset="0.133" stop-color="#de6164"/><stop offset="0.167" stop-color="#c5407e"/><stop offset="0.200" stop-color="#9d189d"/><stop offset="0.233" stop-color="#6f00a8"/><stop offset="0.267" stop-color="#6100a7"/><stop offset="0.300" stop-color="#6a00a8"/><stop offset="0.333" stop-color="#8104a7"/><stop offset="0.367" stop-color="#9814a0"/><stop offset="0.400" stop-color="#ab2494"/><stop offset="0.433" stop-color="#c03a83"/><stop offset="0.467" stop-color="#d45270"/><stop offset="0.500" stop-color="#de5f65"/><stop offset="0.533" stop-color="#d9586a"/><stop offset="0.567" stop-color="#c8437b"/><stop offset="0.600" stop-color="#a51f99"/><stop offset="0.633" stop-color="#7501a8"/><stop offset="0.667" stop-color="#5801a4"/><stop offset="0.700" stop-color="#5302a3"/><stop offset="0.733" stop-color="#5601a4"/><stop offset="0.767" stop-color="#7100a8"/><stop offset="0.800" stop-color="#9814a0"/><stop offset="0.833" stop-color="#b52f8c"/><stop offset="0.867" stop-color="#d5536f"/><stop offset="0.900" stop-color="#f0804e"/><stop offset="0.933" stop-color="#fca338"/><stop offset="0.967" stop-color="#febb2b"/><stop offset="1.000" stop-color="#fdc627"/></linearGradient><linearGradient id="ga25"><stop offset="0.000" stop-color="#fdcb26"/><stop offset="0.033" stop-color="#fec029"/><stop offset="0.067" stop-color="#fca934"/><stop offset="0.100" stop-color="#f3874a"/><stop offset="0.133" stop-color="#df6263"/><stop offset="0.167" stop-color="#c7427c"/><stop offset="0.200" stop-color="#a21d9a"/><stop offset="0.233" stop-color="#7401a8"/><stop offset="0.267" stop-color="#6300a7"/><stop offset="0.300" stop-color="#6a00a8"/><stop offset="0.333" stop-color="#8004a8"/><stop offset="0.367" stop-color="#9410a2"/><stop offset="0.400" stop-color="#a82296"/><stop offset="0.433" stop-color="#c03a83"/><stop offset="0.467" stop-color="#d5546e"/><stop offset="0.500" stop-color="#e06363"/><stop offset="0.533" stop-color="#dc5d67"/><stop offset="0.567" stop-color="#cb4679"/><stop offset="0.600" stop-color="#a72197"/><stop offset="0.633" stop-color="#7201a8"/><stop offset="0.667" stop-color="#5502a4"/><stop offset="0.700" stop-color="#5002a2"/><stop offset="0.733" stop-color="#5302a3"/><stop offset="0.767" stop-color="#7100a8"/><stop offset="0.800" stop-color="#99159f"/><stop offset="0.833" stop-color="#b7318a"/><stop offset="0.867" stop-color="#d6556d"/><stop offset="0.900" stop-color="#f2844b"/><stop offset="0.933" stop-color="#fca934"/><stop offset="0.967" stop-color="#fec029"/><stop offset="1.000" stop-color="#fdcb26"/></linearGradient><linearGradient id="ga26"><stop offset="0.000" stop-color="#fcce25"/><stop offset="0.033" stop-color="#fdc229"/><stop offset="0.067" stop-color="#fdab33"/><stop offset="0.100" stop-color="#f48948"/><stop offset="0.133" stop-color="#e16462"/><stop offset="0.167" stop-color="#c9447a"/><stop offset="0.200" stop-color="#a51f99"/><stop offset="0.233" stop-color="#7801a8"/><stop offset="0.267" stop-color="#6600a7"/><stop offset="0.300" stop-color="#6a00a8"/><stop offset="0.333" stop-color="#7d03a8"/><stop offset="0.367" stop-color="#910ea3"/><stop offset="0.400" stop-color="#a62098"/><stop offset="0.433" stop-color="#bf3984"/><stop offset="0.467" stop-color="#d6556d"/><stop offset="0.500" stop-color="#e3685f"/><stop offset="0.533" stop-color="#e06363"/><stop offset="0.567" stop-color="#cf4c74"/><stop offset="0.600" stop-color="#aa2395"/><stop offset="0.633" stop-color="#7100a8"/><stop offset="0.667" stop-color="#5102a3"/><stop offset="0.700" stop-color="#4c02a1"/><stop offset="0.733" stop-color="#5102a3"/><stop offset="0.767" stop-color="#7100a8"/><stop offset="0.800" stop-color="#9a169f"/><stop offset="0.833" stop-color="#b83289"/><stop offset="0.867" stop-color="#d8576b"/><stop offset="0.900" stop-color="#f3874a"/><stop offset="0.933" stop-color="#fdac33"/><stop offset="0.967" stop-color="#fdc328"/><stop offset="1.000" stop-color="#fcce25"/></linearGradient><linearGradient id="ga27"><stop offset="0.000" stop-color="#fcd025"/><stop offset="0.033" stop-color="#fdc527"/><stop offset="0.067" stop-color="#fdae32"/><stop offset="0.100" stop-color="#f58c46"/><stop offset="0.133" stop-color="#e26660"/><stop offset="0.167" stop-color="#cb4679"/><stop offset="0.200" stop-color="#a82296"/><stop offset="0.233" stop-color="#7d03a8"/><stop offset="0.267" stop-color="#6900a8"/><stop offset="0.300" stop-color="#6c00a8"/><stop offset="0.333" stop-color="#7b02a8"/><stop offset="0.367" stop-color="#8d0ba5"/><stop offset="0.400" stop-color="#a21d9a"/><stop offset="0.433" stop-color="#be3885"/><stop offset="0.467" stop-color="#d7566c"/><stop offset="0.500" stop-color="#e66c5c"/><stop offset="0.533" stop-color="#e56a5d"/><stop offset="0.567" stop-color="#d5536f"/><stop offset="0.600" stop-color="#ad2793"/><stop offset="0.633" stop-color="#7100a8"/><stop offset="0.667" stop-color="#5002a2"/><stop offset="0.700" stop-color="#4b03a1"/><stop offset="0.733" stop-color="#5002a2"/><stop offset="0.767" stop-color="#7100a8"/><stop offset="0.800" stop-color="#9c179e"/><stop offset="0.833" stop-color="#bb3488"/><stop offset="0.867" stop-color="#da5a6a"/><stop offset="0.900" stop-color="#f48948"/><stop offset="0.933" stop-color="#fdaf31"/><stop offset="0.967" stop-color="#fdc627"/><stop offset="1.000" stop-color="#fcd225"/></linearGradient><linearGradient id="ga28"><stop offset="0.000" stop-color="#fbd324"/><stop offset="0.033" stop-color="#fdc827"/><stop offset="0.067" stop-color="#fdb130"/><stop offset="0.100" stop-color="#f68f44"/><stop offset="0.133" stop-color="#e56a5d"/><stop offset="0.167" stop-color="#cc4977"/><stop offset="0.200" stop-color="#ab2494"/><stop offset="0.233" stop-color="#8104a7"/><stop offset="0.267" stop-color="#6c00a8"/><stop offset="0.300" stop-color="#6c00a8"/><stop offset="0.333" stop-color="#7801a8"/><stop offset="0.367" stop-color="#8a09a5"/><stop offset="0.400" stop-color="#a01a9c"/><stop offset="0.433" stop-color="#bc3587"/><stop offset="0.467" stop-color="#d7566c"/><stop offset="0.500" stop-color="#e97257"/><stop offset="0.533" stop-color="#ea7457"/><stop offset="0.567" stop-color="#db5c68"/><stop offset="0.600" stop-color="#b22b8f"/><stop offset="0.633" stop-color="#6f00a8"/><stop offset="0.667" stop-color="#4c02a1"/><stop offset="0.700" stop-color="#4903a0"/><stop offset="0.733" stop-color="#4e02a2"/><stop offset="0.767" stop-color="#7100a8"/><stop offset="0.800" stop-color="#9d189d"/><stop offset="0.833" stop-color="#bc3587"/><stop offset="0.867" stop-color="#da5b69"/><stop offset="0.900" stop-color="#f58b47"/><stop offset="0.933" stop-color="#fdb22f"/><stop offset="0.967" stop-color="#fdca26"/><stop offset="1.000" stop-color="#fbd524"/></linearGradient><linearGradient id="ga29"><stop offset="0.000" stop-color="#fbd724"/><stop offset="0.033" stop-color="#fdca26"/><stop offset="0.067" stop-color="#fdb22f"/><stop offset="0.100" stop-color="#f79143"/><stop offset="0.133" stop-color="#e66c5c"/><stop offset="0.167" stop-color="#ce4b75"/><stop offset="0.200" stop-color="#ad2793"/><stop offset="0.233" stop-color="#8606a6"/><stop offset="0.267" stop-color="#6f00a8"/><stop offset="0.300" stop-color="#6e00a8"/><stop offset="0.333" stop-color="#7701a8"/><stop offset="0.367" stop-color="#8606a6"/><stop offset="0.400" stop-color="#9c179e"/><stop offset="0.433" stop-color="#bb3488"/><stop offset="0.467" stop-color="#d8576b"/><stop offset="0.500" stop-color="#ed7953"/><stop offset="0.533" stop-color="#ef7e50"/><stop offset="0.567" stop-color="#e26660"/><stop offset="0.600" stop-color="#b7318a"/><stop offset="0.633" stop-color="#6f00a8"/><stop offset="0.667" stop-color="#4b03a1"/><stop offset="0.700" stop-color="#48039f"/><stop offset="0.733" stop-color="#4c02a1"/><stop offset="0.767" stop-color="#7100a8"/><stop offset="0.800" stop-color="#9e199d"/><stop offset="0.833" stop-color="#be3885"/><stop offset="0.867" stop-color="#dc5d67"/><stop offset="0.900" stop-color="#f58c46"/><stop offset="0.933" stop-color="#fdb42f"/><stop offset="0.967" stop-color="#fccd25"/><stop offset="1.000" stop-color="#fad824"/></linearGradient><linearGradient id="ga30"><stop offset="0.000" stop-color="#fada24"/><stop offset="0.033" stop-color="#fccd25"/><stop offset="0.067" stop-color="#fdb52e"/><stop offset="0.100" stop-color="#f79342"/><stop offset="0.133" stop-color="#e76f5a"/><stop offset="0.167" stop-color="#d04d73"/><stop offset="0.200" stop-color="#b12a90"/><stop offset="0.233" stop-color="#8808a6"/><stop offset="0.267" stop-color="#7201a8"/><stop offset="0.300" stop-color="#6e00a8"/><stop offset="0.333" stop-color="#7401a8"/><stop offset="0.367" stop-color="#8305a7"/><stop offset="0.400" stop-color="#99159f"/><stop offset="0.433" stop-color="#b83289"/><stop offset="0.467" stop-color="#d9586a"/><stop offset="0.500" stop-color="#f07f4f"/><stop offset="0.533" stop-color="#f48849"/><stop offset="0.567" stop-color="#e97158"/><stop offset="0.600" stop-color="#be3885"/><stop offset="0.633" stop-color="#6f00a8"/><stop offset="0.667" stop-color="#4903a0"/><stop offset="0.700" stop-color="#46039f"/><stop offset="0.733" stop-color="#4c02a1"/><stop offset="0.767" stop-color="#7100a8"/><stop offset="0.800" stop-color="#a01a9c"/><stop offset="0.833" stop-color="#c03a83"/><stop offset="0.867" stop-color="#dd5e66"/><stop offset="0.900" stop-color="#f68d45"/><stop offset="0.933" stop-color="#fdb52e"/><stop offset="0.967" stop-color="#fcce25"/><stop offset="1.000" stop-color="#fada24"/></linearGradient><linearGradient id="ga31"><stop offset="0.000" stop-color="#f9dc24"/><stop offset="0.033" stop-color="#fcce25"/><stop offset="0.067" stop-color="#feb72d"/><stop offset="0.100" stop-color="#f89540"/><stop offset="0.133" stop-color="#e97158"/><stop offset="0.167" stop-color="#d24f71"/><stop offset="0.200" stop-color="#b32c8e"/><stop offset="0.233" stop-color="#8d0ba5"/><stop offset="0.267" stop-color="#7501a8"/><stop offset="0.300" stop-color="#6f00a8"/><stop offset="0.333" stop-color="#7201a8"/><stop offset="0.367" stop-color="#7e03a8"/><stop offset="0.400" stop-color="#9511a1"/><stop offset="0.433" stop-color="#b6308b"/><stop offset="0.467" stop-color="#d9586a"/><stop offset="0.500" stop-color="#f2844b"/><stop offset="0.533" stop-color="#f79342"/><stop offset="0.567" stop-color="#ee7b51"/><stop offset="0.600" stop-color="#c33d80"/><stop offset="0.633" stop-color="#6f00a8"/><stop offset="0.667" stop-color="#48039f"/><stop offset="0.700" stop-color="#44039e"/><stop offset="0.733" stop-color="#4b03a1"/><stop offset="0.767" stop-color="#7100a8"/><stop offset="0.800" stop-color="#a11b9b"/><stop offset="0.833" stop-color="#c13b82"/><stop offset="0.867" stop-color="#de5f65"/><stop offset="0.900" stop-color="#f68f44"/><stop offset="0.933" stop-color="#feb72d"/><stop offset="0.967" stop-color="#fcd225"/><stop offset="1.000" stop-color="#f9dd25"/></linearGradient><linearGradient id="ga32"><stop offset="0.000" stop-color="#f8df25"/><stop offset="0.033" stop-color="#fcd225"/><stop offset="0.067" stop-color="#feba2c"/><stop offset="0.100" stop-color="#f9973f"/><stop offset="0.133" stop-color="#ea7457"/><stop offset="0.167" stop-color="#d45270"/><stop offset="0.200" stop-color="#b52f8c"/><stop offset="0.233" stop-color="#910ea3"/><stop offset="0.267" stop-color="#7801a8"/><stop offset="0.300" stop-color="#6f00a8"/><stop offset="0.333" stop-color="#7100a8"/><stop offset="0.367" stop-color="#7b02a8"/><stop offset="0.400" stop-color="#920fa3"/><stop offset="0.433" stop-color="#b52f8c"/><stop offset="0.467" stop-color="#da5a6a"/><stop offset="0.500" stop-color="#f58b47"/><stop offset="0.533" stop-color="#fa9b3d"/><stop offset="0.567" stop-color="#f3854b"/><stop offset="0.600" stop-color="#c9447a"/><stop offset="0.633" stop-color="#6f00a8"/><stop offset="0.667" stop-color="#46039f"/><stop offset="0.700" stop-color="#43039e"/><stop offset="0.733" stop-color="#4903a0"/><stop offset="0.767" stop-color="#7100a8"/><stop offset="0.800" stop-color="#a11b9b"/><stop offset="0.833" stop-color="#c23c81"/><stop offset="0.867" stop-color="#df6263"/><stop offset="0.900" stop-color="#f79044"/><stop offset="0.933" stop-color="#feb82c"/><stop offset="0.967" stop-color="#fbd324"/><stop offset="1.000" stop-color="#f8df25"/></linearGradient><linearGradient id="ga33"><stop offset="0.000" stop-color="#f8e125"/><stop offset="0.033" stop-color="#fbd324"/><stop offset="0.067" stop-color="#febb2b"/><stop offset="0.100" stop-color="#f99a3e"/><stop offset="0.133" stop-color="#eb7655"/><stop offset="0.167" stop-color="#d5546e"/><stop offset="0.200" stop-color="#b7318a"/><stop offset="0.233" stop-color="#9410a2"/><stop offset="0.267" stop-color="#7b02a8"/><stop offset="0.300" stop-color="#6f00a8"/><stop offset="0.333" stop-color="#6e00a8"/><stop offset="0.367" stop-color="#7a02a8"/><stop offset="0.400" stop-color="#910ea3"/><stop offset="0.433" stop-color="#b42e8d"/><stop offset="0.467" stop-color="#da5b69"/><stop offset="0.500" stop-color="#f68f44"/><stop offset="0.533" stop-color="#fba238"/><stop offset="0.567" stop-color="#f58c46"/><stop offset="0.600" stop-color="#cc4977"/><stop offset="0.633" stop-color="#6f00a8"/><stop offset="0.667" stop-color="#46039f"/><stop offset="0.700" stop-color="#43039e"/><stop offset="0.733" stop-color="#4903a0"/><stop offset="0.767" stop-color="#7100a8"/><stop offset="0.800" stop-color="#a21d9a"/><stop offset="0.833" stop-color="#c33d80"/><stop offset="0.867" stop-color="#e06363"/><stop offset="0.900" stop-color="#f79143"/><stop offset="0.933" stop-color="#feba2c"/><stop offset="0.967" stop-color="#fbd524"/><stop offset="1.000" stop-color="#f8e125"/></linearGradient><linearGradient id="ga34"><stop offset="0.000" stop-color="#f8e125"/><stop offset="0.033" stop-color="#fbd524"/><stop offset="0.067" stop-color="#febd2a"/><stop offset="0.100" stop-color="#fa9b3d"/><stop offset="0.133" stop-color="#ed7953"/><stop offset="0.167" stop-color="#d7566c"/><stop offset="0.200" stop-color="#ba3388"/><stop offset="0.233" stop-color="#9814a0"/><stop offset="0.267" stop-color="#7e03a8"/><stop offset="0.300" stop-color="#7100a8"/><stop offset="0.333" stop-color="#6e00a8"/><stop offset="0.367" stop-color="#7801a8"/><stop offset="0.400" stop-color="#8f0da4"/><stop offset="0.433" stop-color="#b42e8d"/><stop offset="0.467" stop-color="#db5c68"/><stop offset="0.500" stop-color="#f79143"/><stop offset="0.533" stop-color="#fca636"/><stop offset="0.567" stop-color="#f79044"/><stop offset="0.600" stop-color="#d04d73"/><stop offset="0.633" stop-color="#7100a8"/><stop offset="0.667" stop-color="#44039e"/><stop offset="0.700" stop-color="#41049d"/><stop offset="0.733" stop-color="#4903a0"/><stop offset="0.767" stop-color="#7100a8"/><stop offset="0.800" stop-color="#a21d9a"/><stop offset="0.833" stop-color="#c43e7f"/><stop offset="0.867" stop-color="#e16462"/><stop offset="0.900" stop-color="#f79342"/><stop offset="0.933" stop-color="#febb2b"/><stop offset="0.967" stop-color="#fbd524"/><stop offset="1.000" stop-color="#f8e125"/></linearGradient><linearGradient id="ga35"><stop offset="0.000" stop-color="#f8e125"/><stop offset="0.033" stop-color="#fbd524"/><stop offset="0.067" stop-color="#febe2a"/><stop offset="0.100" stop-color="#fa9e3b"/><stop offset="0.133" stop-color="#ee7b51"/><stop offset="0.167" stop-color="#d9586a"/><stop offset="0.200" stop-color="#bc3587"/><stop offset="0.233" stop-color="#9a169f"/><stop offset="0.267" stop-color="#8004a8"/><stop offset="0.300" stop-color="#7100a8"/><stop offset="0.333" stop-color="#6c00a8"/><stop offset="0.367" stop-color="#7701a8"/><stop offset="0.400" stop-color="#8f0da4"/><stop offset="0.433" stop-color="#b42e8d"/><stop offset="0.467" stop-color="#dd5e66"/><stop offset="0.500" stop-color="#f89441"/><stop offset="0.533" stop-color="#fca835"/><stop offset="0.567" stop-color="#f79342"/><stop offset="0.600" stop-color="#d35171"/><stop offset="0.633" stop-color="#7401a8"/><stop offset="0.667" stop-color="#46039f"/><stop offset="0.700" stop-color="#41049d"/><stop offset="0.733" stop-color="#48039f"/><stop offset="0.767" stop-color="#7100a8"/><stop offset="0.800" stop-color="#a21d9a"/><stop offset="0.833" stop-color="#c43e7f"/><stop offset="0.867" stop-color="#e16462"/><stop offset="0.900" stop-color="#f79342"/><stop offset="0.933" stop-color="#febd2a"/><stop offset="0.967" stop-color="#fbd724"/><stop offset="1.000" stop-color="#f7e225"/></linearGradient><linearGradient id="ga36"><stop offset="0.000" stop-color="#f7e225"/><stop offset="0.033" stop-color="#fbd724"/><stop offset="0.067" stop-color="#fec029"/><stop offset="0.100" stop-color="#fba139"/><stop offset="0.133" stop-color="#ef7c51"/><stop offset="0.167" stop-color="#da5b69"/><stop offset="0.200" stop-color="#be3885"/><stop offset="0.233" stop-color="#9e199d"/><stop offset="0.267" stop-color="#8305a7"/><stop offset="0.300" stop-color="#7100a8"/><stop offset="0.333" stop-color="#6c00a8"/><stop offset="0.367" stop-color="#7701a8"/><stop offset="0.400" stop-color="#910ea3"/><stop offset="0.433" stop-color="#b6308b"/><stop offset="0.467" stop-color="#df6263"/><stop offset="0.500" stop-color="#f89540"/><stop offset="0.533" stop-color="#fca835"/><stop offset="0.567" stop-color="#f89441"/><stop offset="0.600" stop-color="#d5546e"/><stop offset="0.633" stop-color="#7701a8"/><stop offset="0.667" stop-color="#46039f"/><stop offset="0.700" stop-color="#41049d"/><stop offset="0.733" stop-color="#48039f"/><stop offset="0.767" stop-color="#6f00a8"/><stop offset="0.800" stop-color="#a11b9b"/><stop offset="0.833" stop-color="#c5407e"/><stop offset="0.867" stop-color="#e26561"/><stop offset="0.900" stop-color="#f89441"/><stop offset="0.933" stop-color="#febd2a"/><stop offset="0.967" stop-color="#fbd724"/><stop offset="1.000" stop-color="#f7e225"/></linearGradient><linearGradient id="ga37"><stop offset="0.000" stop-color="#f7e225"/><stop offset="0.033" stop-color="#fbd724"/><stop offset="0.067" stop-color="#fdc229"/><stop offset="0.100" stop-color="#fba238"/><stop offset="0.133" stop-color="#f07f4f"/><stop offset="0.167" stop-color="#db5c68"/><stop offset="0.200" stop-color="#c03a83"/><stop offset="0.233" stop-color="#a11b9b"/><stop offset="0.267" stop-color="#8405a7"/><stop offset="0.300" stop-color="#7100a8"/><stop offset="0.333" stop-color="#6a00a8"/><stop offset="0.367" stop-color="#7701a8"/><stop offset="0.400" stop-color="#920fa3"/><stop offset="0.433" stop-color="#ba3388"/><stop offset="0.467" stop-color="#e26660"/><stop offset="0.500" stop-color="#f9983e"/><stop offset="0.533" stop-color="#fca835"/><stop offset="0.567" stop-color="#f89540"/><stop offset="0.600" stop-color="#d9586a"/><stop offset="0.633" stop-color="#7d03a8"/><stop offset="0.667" stop-color="#48039f"/><stop offset="0.700" stop-color="#41049d"/><stop offset="0.733" stop-color="#48039f"/><stop offset="0.767" stop-color="#6e00a8"/><stop offset="0.800" stop-color="#a11b9b"/><stop offset="0.833" stop-color="#c5407e"/><stop offset="0.867" stop-color="#e26660"/><stop offset="0.900" stop-color="#f89540"/><stop offset="0.933" stop-color="#febe2a"/><stop offset="0.967" stop-color="#fbd724"/><stop offset="1.000" stop-color="#f7e225"/></linearGradient><linearGradient id="ga38"><stop offset="0.000" stop-color="#f7e225"/><stop offset="0.033" stop-color="#fad824"/><stop offset="0.067" stop-color="#fdc328"/><stop offset="0.100" stop-color="#fca537"/><stop offset="0.133" stop-color="#f1814d"/><stop offset="0.167" stop-color="#dd5e66"/><stop offset="0.200" stop-color="#c33d80"/><stop offset="0.233" stop-color="#a51f99"/><stop offset="0.267" stop-color="#8707a6"/><stop offset="0.300" stop-color="#7100a8"/><stop offset="0.333" stop-color="#6a00a8"/><stop offset="0.367" stop-color="#7701a8"/><stop offset="0.400" stop-color="#9511a1"/><stop offset="0.433" stop-color="#be3885"/><stop offset="0.467" stop-color="#e56b5d"/><stop offset="0.500" stop-color="#f99a3e"/><stop offset="0.533" stop-color="#fca835"/><stop offset="0.567" stop-color="#f89540"/><stop offset="0.600" stop-color="#db5c68"/><stop offset="0.633" stop-color="#8405a7"/><stop offset="0.667" stop-color="#4b03a1"/><stop offset="0.700" stop-color="#41049d"/><stop offset="0.733" stop-color="#48039f"/><stop offset="0.767" stop-color="#6c00a8"/><stop offset="0.800" stop-color="#a01a9c"/><stop offset="0.833" stop-color="#c5407e"/><stop offset="0.867" stop-color="#e3685f"/><stop offset="0.900" stop-color="#f89540"/><stop offset="0.933" stop-color="#fec029"/><stop offset="0.967" stop-color="#fad824"/><stop offset="1.000" stop-color="#f7e225"/></linearGradient><linearGradient id="ga39"><stop offset="0.000" stop-color="#f7e225"/><stop offset="0.033" stop-color="#fad824"/><stop offset="0.067" stop-color="#fdc527"/><stop offset="0.100" stop-color="#fca636"/><stop offset="0.133" stop-color="#f1834c"/><stop offset="0.167" stop-color="#de6164"/><stop offset="0.200" stop-color="#c5407e"/><stop offset="0.233" stop-color="#a72197"/><stop offset="0.267" stop-color="#8808a6"/><stop offset="0.300" stop-color="#6f00a8"/><stop offset="0.333" stop-color="#6900a8"/><stop offset="0.367" stop-color="#7701a8"/><stop offset="0.400" stop-color="#9814a0"/><stop offset="0.433" stop-color="#c23c81"/><stop offset="0.467" stop-color="#e97158"/><stop offset="0.500" stop-color="#fa9b3d"/><stop offset="0.533" stop-color="#fca636"/><stop offset="0.567" stop-color="#f89540"/><stop offset="0.600" stop-color="#de6164"/><stop offset="0.633" stop-color="#8b0aa5"/><stop offset="0.667" stop-color="#4c02a1"/><stop offset="0.700" stop-color="#41049d"/><stop offset="0.733" stop-color="#46039f"/><stop offset="0.767" stop-color="#6a00a8"/><stop offset="0.800" stop-color="#9e199d"/><stop offset="0.833" stop-color="#c5407e"/><stop offset="0.867" stop-color="#e4695e"/><stop offset="0.900" stop-color="#f9973f"/><stop offset="0.933" stop-color="#fec029"/><stop offset="0.967" stop-color="#fad824"/><stop offset="1.000" stop-color="#f7e225"/></linearGradient><linearGradient id="ga40"><stop offset="0.000" stop-color="#f7e225"/><stop offset="0.033" stop-color="#fada24"/><stop offset="0.067" stop-color="#fdc627"/><stop offset="0.100" stop-color="#fca934"/><stop offset="0.133" stop-color="#f3854b"/><stop offset="0.167" stop-color="#df6263"/><stop offset="0.200" stop-color="#c7427c"/><stop offset="0.233" stop-color="#aa2395"/><stop offset="0.267" stop-color="#8a09a5"/><stop offset="0.300" stop-color="#6f00a8"/><stop offset="0.333" stop-color="#6900a8"/><stop offset="0.367" stop-color="#7701a8"/><stop offset="0.400" stop-color="#9a169f"/><stop offset="0.433" stop-color="#c7427c"/><stop offset="0.467" stop-color="#eb7655"/><stop offset="0.500" stop-color="#fa9c3c"/><stop offset="0.533" stop-color="#fca636"/><stop offset="0.567" stop-color="#f9973f"/><stop offset="0.600" stop-color="#e16462"/><stop offset="0.633" stop-color="#920fa3"/><stop offset="0.667" stop-color="#5002a2"/><stop offset="0.700" stop-color="#41049d"/><stop offset="0.733" stop-color="#46039f"/><stop offset="0.767" stop-color="#6900a8"/><stop offset="0.800" stop-color="#9c179e"/><stop offset="0.833" stop-color="#c5407e"/><stop offset="0.867" stop-color="#e56a5d"/><stop offset="0.900" stop-color="#f9983e"/><stop offset="0.933" stop-color="#fdc229"/><stop offset="0.967" stop-color="#fad824"/><stop offset="1.000" stop-color="#f7e225"/></linearGradient><linearGradient id="ga41"><stop offset="0.000" stop-color="#f7e225"/><stop offset="0.033" stop-color="#fada24"/><stop offset="0.067" stop-color="#fdc827"/><stop offset="0.100" stop-color="#fdab33"/><stop offset="0.133" stop-color="#f3874a"/><stop offset="0.167" stop-color="#e06363"/><stop offset="0.200" stop-color="#c8437b"/><stop offset="0.233" stop-color="#ac2694"/><stop offset="0.267" stop-color="#8b0aa5"/><stop offset="0.300" stop-color="#6f00a8"/><stop offset="0.333" stop-color="#6900a8"/><stop offset="0.367" stop-color="#7801a8"/><stop offset="0.400" stop-color="#9d189d"/><stop offset="0.433" stop-color="#cc4778"/><stop offset="0.467" stop-color="#ee7b51"/><stop offset="0.500" stop-color="#fa9e3b"/><stop offset="0.533" stop-color="#fca537"/><stop offset="0.567" stop-color="#f9973f"/><stop offset="0.600" stop-color="#e26660"/><stop offset="0.633" stop-color="#9814a0"/><stop offset="0.667" stop-color="#5302a3"/><stop offset="0.700" stop-color="#43039e"/><stop offset="0.733" stop-color="#46039f"/><stop offset="0.767" stop-color="#6600a7"/><stop offset="0.800" stop-color="#9a169f"/><stop offset="0.833" stop-color="#c43e7f"/><stop offset="0.867" stop-color="#e56a5d"/><stop offset="0.900" stop-color="#f9983e"/><stop offset="0.933" stop-color="#fdc229"/><stop offset="0.967" stop-color="#fad824"/><stop offset="1.000" stop-color="#f7e225"/></linearGradient><linearGradient id="ga42"><stop offset="0.000" stop-color="#f7e225"/><stop offset="0.033" stop-color="#fada24"/><stop offset="0.067" stop-color="#fdc827"/><stop offset="0.100" stop-color="#fdac33"/><stop offset="0.133" stop-color="#f48849"/><stop offset="0.167" stop-color="#e16462"/><stop offset="0.200" stop-color="#c9447a"/><stop offset="0.233" stop-color="#ad2793"/><stop offset="0.267" stop-color="#8d0ba5"/><stop offset="0.300" stop-color="#6e00a8"/><stop offset="0.333" stop-color="#6700a8"/><stop offset="0.367" stop-color="#7801a8"/><stop offset="0.400" stop-color="#a11b9b"/><stop offset="0.433" stop-color="#cf4c74"/><stop offset="0.467" stop-color="#f07f4f"/><stop offset="0.500" stop-color="#fa9e3b"/><stop offset="0.533" stop-color="#fca537"/><stop offset="0.567" stop-color="#f9973f"/><stop offset="0.600" stop-color="#e4695e"/><stop offset="0.633" stop-color="#9d189d"/><stop offset="0.667" stop-color="#5601a4"/><stop offset="0.700" stop-color="#43039e"/><stop offset="0.733" stop-color="#44039e"/><stop offset="0.767" stop-color="#6400a7"/><stop offset="0.800" stop-color="#9814a0"/><stop offset="0.833" stop-color="#c43e7f"/><stop offset="0.867" stop-color="#e56a5d"/><stop offset="0.900" stop-color="#f9983e"/><stop offset="0.933" stop-color="#fdc229"/><stop offset="0.967" stop-color="#fad824"/><stop offset="1.000" stop-color="#f7e225"/></linearGradient><linearGradient id="ga43"><stop offset="0.000" stop-color="#f7e225"/><stop offset="0.033" stop-color="#fada24"/><stop offset="0.067" stop-color="#fdc827"/><stop offset="0.100" stop-color="#fdac33"/><stop offset="0.133" stop-color="#f48849"/><stop offset="0.167" stop-color="#e16462"/><stop offset="0.200" stop-color="#c9447a"/><stop offset="0.233" stop-color="#ad2793"/><stop offset="0.267" stop-color="#8b0aa5"/><stop offset="0.300" stop-color="#6e00a8"/><stop offset="0.333" stop-color="#6700a8"/><stop offset="0.367" stop-color="#7a02a8"/><stop offset="0.400" stop-color="#a51f99"/><stop offset="0.433" stop-color="#d35171"/><stop offset="0.467" stop-color="#f1834c"/><stop offset="0.500" stop-color="#fa9e3b"/><stop offset="0.533" stop-color="#fca338"/><stop offset="0.567" stop-color="#f89540"/><stop offset="0.600" stop-color="#e56a5d"/><stop offset="0.633" stop-color="#a11b9b"/><stop offset="0.667" stop-color="#5801a4"/><stop offset="0.700" stop-color="#43039e"/><stop offset="0.733" stop-color="#44039e"/><stop offset="0.767" stop-color="#6100a7"/><stop offset="0.800" stop-color="#9511a1"/><stop offset="0.833" stop-color="#c33d80"/><stop offset="0.867" stop-color="#e56a5d"/><stop offset="0.900" stop-color="#f9983e"/><stop offset="0.933" stop-color="#fdc229"/><stop offset="0.967" stop-color="#fad824"/><stop offset="1.000" stop-color="#f7e225"/></linearGradient><linearGradient id="ga44"><stop offset="0.000" stop-color="#f7e225"/><stop offset="0.033" stop-color="#fada24"/><stop offset="0.067" stop-color="#fdc827"/><stop offset="0.100" stop-color="#fdac33"/><stop offset="0.133" stop-color="#f48849"/><stop offset="0.167" stop-color="#e06363"/><stop offset="0.200" stop-color="#c8437b"/><stop offset="0.233" stop-color="#ab2494"/><stop offset="0.267" stop-color="#8808a6"/><stop offset="0.300" stop-color="#6a00a8"/><stop offset="0.333" stop-color="#6700a8"/><stop offset="0.367" stop-color="#7d03a8"/><stop offset="0.400" stop-color="#aa2395"/><stop offset="0.433" stop-color="#d6556d"/><stop offset="0.467" stop-color="#f2844b"/><stop offset="0.500" stop-color="#fa9c3c"/><stop offset="0.533" stop-color="#fba139"/><stop offset="0.567" stop-color="#f89441"/><stop offset="0.600" stop-color="#e56a5d"/><stop offset="0.633" stop-color="#a51f99"/><stop offset="0.667" stop-color="#5b01a5"/><stop offset="0.700" stop-color="#43039e"/><stop offset="0.733" stop-color="#43039e"/><stop offset="0.767" stop-color="#5e01a6"/><stop offset="0.800" stop-color="#910ea3"/><stop offset="0.833" stop-color="#c23c81"/><stop offset="0.867" stop-color="#e56a5d"/><stop offset="0.900" stop-color="#f9983e"/><stop offset="0.933" stop-color="#fdc229"/><stop offset="0.967" stop-color="#fad824"/><stop offset="1.000" stop-color="#f7e225"/></linearGradient><linearGradient id="ga45"><stop offset="0.000" stop-color="#f7e225"/><stop offset="0.033" stop-color="#fada24"/><stop offset="0.067" stop-color="#fdca26"/><stop offset="0.100" stop-color="#fdac33"/><stop offset="0.133" stop-color="#f48849"/><stop offset="0.167" stop-color="#df6263"/><stop offset="0.200" stop-color="#c5407e"/><stop offset="0.233" stop-color="#a62098"/><stop offset="0.267" stop-color="#8405a7"/><stop offset="0.300" stop-color="#6700a8"/><stop offset="0.333" stop-color="#6700a8"/><stop offset="0.367" stop-color="#8004a8"/><stop offset="0.400" stop-color="#b02991"/><stop offset="0.433" stop-color="#da5a6a"/><stop offset="0.467" stop-color="#f3854b"/><stop offset="0.500" stop-color="#fa9b3d"/><stop offset="0.533" stop-color="#fa9e3b"/><stop offset="0.567" stop-color="#f79342"/><stop offset="0.600" stop-color="#e56a5d"/><stop offset="0.633" stop-color="#a72197"/><stop offset="0.667" stop-color="#6001a6"/><stop offset="0.700" stop-color="#44039e"/><stop offset="0.733" stop-color="#43039e"/><stop offset="0.767" stop-color="#5901a5"/><stop offset="0.800" stop-color="#8b0aa5"/><stop offset="0.833" stop-color="#c03a83"/><stop offset="0.867" stop-color="#e3685f"/><stop offset="0.900" stop-color="#f9973f"/><stop offset="0.933" stop-color="#fdc229"/><stop offset="0.967" stop-color="#fad824"/><stop offset="1.000" stop-color="#f7e225"/></linearGradient><linearGradient id="ga46"><stop offset="0.000" stop-color="#f7e225"/><stop offset="0.033" stop-color="#fada24"/><stop offset="0.067" stop-color="#fdca26"/><stop offset="0.100" stop-color="#fdae32"/><stop offset="0.133" stop-color="#f3874a"/><stop offset="0.167" stop-color="#de5f65"/><stop offset="0.200" stop-color="#c23c81"/><stop offset="0.233" stop-color="#a01a9c"/><stop offset="0.267" stop-color="#7d03a8"/><stop offset="0.300" stop-color="#6400a7"/><stop offset="0.333" stop-color="#6900a8"/><stop offset="0.367" stop-color="#8606a6"/><stop offset="0.400" stop-color="#b6308b"/><stop offset="0.433" stop-color="#de5f65"/><stop offset="0.467" stop-color="#f3854b"/><stop offset="0.500" stop-color="#f9983e"/><stop offset="0.533" stop-color="#f99a3e"/><stop offset="0.567" stop-color="#f79044"/><stop offset="0.600" stop-color="#e4695e"/><stop offset="0.633" stop-color="#aa2395"/><stop offset="0.667" stop-color="#6300a7"/><stop offset="0.700" stop-color="#44039e"/><stop offset="0.733" stop-color="#41049d"/><stop offset="0.767" stop-color="#5502a4"/><stop offset="0.800" stop-color="#8606a6"/><stop offset="0.833" stop-color="#bd3786"/><stop offset="0.867" stop-color="#e26561"/><stop offset="0.900" stop-color="#f89540"/><stop offset="0.933" stop-color="#fec029"/><stop offset="0.967" stop-color="#fad824"/><stop offset="1.000" stop-color="#f7e225"/></linearGradient><linearGradient id="ga47"><stop offset="0.000" stop-color="#f7e225"/><stop offset="0.033" stop-color="#fada24"/><stop offset="0.067" stop-color="#fdca26"/><stop offset="0.100" stop-color="#fdae32"/><stop offset="0.133" stop-color="#f3874a"/><stop offset="0.167" stop-color="#db5c68"/><stop offset="0.200" stop-color="#bd3786"/><stop offset="0.233" stop-color="#9814a0"/><stop offset="0.267" stop-color="#7401a8"/><stop offset="0.300" stop-color="#6001a6"/><stop offset="0.333" stop-color="#6900a8"/><stop offset="0.367" stop-color="#8b0aa5"/><stop offset="0.400" stop-color="#bd3786"/><stop offset="0.433" stop-color="#e16462"/><stop offset="0.467" stop-color="#f3874a"/><stop offset="0.500" stop-color="#f89441"/><stop offset="0.533" stop-color="#f89540"/><stop offset="0.567" stop-color="#f58c46"/><stop offset="0.600" stop-color="#e4695e"/><stop offset="0.633" stop-color="#ad2793"/><stop offset="0.667" stop-color="#6700a8"/><stop offset="0.700" stop-color="#46039f"/><stop offset="0.733" stop-color="#3f049c"/><stop offset="0.767" stop-color="#4e02a2"/><stop offset="0.800" stop-color="#7e03a8"/><stop offset="0.833" stop-color="#b83289"/><stop offset="0.867" stop-color="#e06363"/><stop offset="0.900" stop-color="#f79342"/><stop offset="0.933" stop-color="#febe2a"/><stop offset="0.967" stop-color="#fad824"/><stop offset="1.000" stop-color="#f7e225"/></linearGradient><linearGradient id="ga48"><stop offset="0.000" stop-color="#f7e225"/><stop offset="0.033" stop-color="#fada24"/><stop offset="0.067" stop-color="#fdca26"/><stop offset="0.100" stop-color="#fdae32"/><stop offset="0.133" stop-color="#f3854b"/><stop offset="0.167" stop-color="#da5a6a"/><stop offset="0.200" stop-color="#b83289"/><stop offset="0.233" stop-color="#8e0ca4"/><stop offset="0.267" stop-color="#6a00a8"/><stop offset="0.300" stop-color="#5b01a5"/><stop offset="0.333" stop-color="#6a00a8"/><stop offset="0.367" stop-color="#910ea3"/><stop offset="0.400" stop-color="#c43e7f"/><stop offset="0.433" stop-color="#e4695e"/><stop offset="0.467" stop-color="#f3874a"/><stop offset="0.500" stop-color="#f79044"/><stop offset="0.533" stop-color="#f79044"/><stop offset="0.567" stop-color="#f48849"/><stop offset="0.600" stop-color="#e3685f"/><stop offset="0.633" stop-color="#b02991"/><stop offset="0.667" stop-color="#6c00a8"/><stop offset="0.700" stop-color="#46039f"/><stop offset="0.733" stop-color="#3e049c"/><stop offset="0.767" stop-color="#4903a0"/><stop offset="0.800" stop-color="#7501a8"/><stop offset="0.833" stop-color="#b42e8d"/><stop offset="0.867" stop-color="#de5f65"/><stop offset="0.900" stop-color="#f79143"/><stop offset="0.933" stop-color="#febe2a"/><stop offset="0.967" stop-color="#fad824"/><stop offset="1.000" stop-color="#f7e225"/></linearGradient><linearGradient id="ga49"><stop offset="0.000" stop-color="#f7e225"/><stop offset="0.033" stop-color="#fada24"/><stop offset="0.067" stop-color="#fdca26"/><stop offset="0.100" stop-color="#fdae32"/><stop offset="0.133" stop-color="#f3854b"/><stop offset="0.167" stop-color="#d8576b"/><stop offset="0.200" stop-color="#b42e8d"/><stop offset="0.233" stop-color="#8606a6"/><stop offset="0.267" stop-color="#6100a7"/><stop offset="0.300" stop-color="#5601a4"/><stop offset="0.333" stop-color="#6c00a8"/><stop offset="0.367" stop-color="#9814a0"/><stop offset="0.400" stop-color="#ca457a"/><stop offset="0.433" stop-color="#e76e5b"/><stop offset="0.467" stop-color="#f3874a"/><stop offset="0.500" stop-color="#f58c46"/><stop offset="0.533" stop-color="#f58b47"/><stop offset="0.567" stop-color="#f3854b"/><stop offset="0.600" stop-color="#e26660"/><stop offset="0.633" stop-color="#b22b8f"/><stop offset="0.667" stop-color="#7100a8"/><stop offset="0.700" stop-color="#48039f"/><stop offset="0.733" stop-color="#3c049b"/><stop offset="0.767" stop-color="#44039e"/><stop offset="0.800" stop-color="#6f00a8"/><stop offset="0.833" stop-color="#b12a90"/><stop offset="0.867" stop-color="#dc5d67"/><stop offset="0.900" stop-color="#f68f44"/><stop offset="0.933" stop-color="#febd2a"/><stop offset="0.967" stop-color="#fad824"/><stop offset="1.000" stop-color="#f7e225"/></linearGradient><linearGradient id="ga50"><stop offset="0.000" stop-color="#f7e225"/><stop offset="0.033" stop-color="#fada24"/><stop offset="0.067" stop-color="#fdca26"/><stop offset="0.100" stop-color="#fdae32"/><stop offset="0.133" stop-color="#f3854b"/><stop offset="0.167" stop-color="#d6556d"/><stop offset="0.200" stop-color="#b12a90"/><stop offset="0.233" stop-color="#7e03a8"/><stop offset="0.267" stop-color="#5901a5"/><stop offset="0.300" stop-color="#5302a3"/><stop offset="0.333" stop-color="#6c00a8"/><stop offset="0.367" stop-color="#9d189d"/><stop offset="0.400" stop-color="#cf4c74"/><stop offset="0.433" stop-color="#e97257"/><stop offset="0.467" stop-color="#f3874a"/><stop offset="0.500" stop-color="#f48948"/><stop offset="0.533" stop-color="#f3874a"/><stop offset="0.567" stop-color="#f1814d"/><stop offset="0.600" stop-color="#e26561"/><stop offset="0.633" stop-color="#b32c8e"/><stop offset="0.667" stop-color="#7401a8"/><stop offset="0.700" stop-color="#4903a0"/><stop offset="0.733" stop-color="#3a049a"/><stop offset="0.767" stop-color="#41049d"/><stop offset="0.800" stop-color="#6900a8"/><stop offset="0.833" stop-color="#ac2694"/><stop offset="0.867" stop-color="#da5b69"/><stop offset="0.900" stop-color="#f68d45"/><stop offset="0.933" stop-color="#febb2b"/><stop offset="0.967" stop-color="#fad824"/><stop offset="1.000" stop-color="#f7e225"/></linearGradient><linearGradient id="ga51"><stop offset="0.000" stop-color="#f7e225"/><stop offset="0.033" stop-color="#fada24"/><stop offset="0.067" stop-color="#fdca26"/><stop offset="0.100" stop-color="#fdae32"/><stop offset="0.133" stop-color="#f2844b"/><stop offset="0.167" stop-color="#d5546e"/><stop offset="0.200" stop-color="#ae2892"/><stop offset="0.233" stop-color="#7a02a8"/><stop offset="0.267" stop-color="#5502a4"/><stop offset="0.300" stop-color="#5102a3"/><stop offset="0.333" stop-color="#6e00a8"/><stop offset="0.367" stop-color="#a11b9b"/><stop offset="0.400" stop-color="#d35171"/><stop offset="0.433" stop-color="#eb7556"/><stop offset="0.467" stop-color="#f3874a"/><stop offset="0.500" stop-color="#f3874a"/><stop offset="0.533" stop-color="#f2844b"/><stop offset="0.567" stop-color="#f07f4f"/><stop offset="0.600" stop-color="#e26561"/><stop offset="0.633" stop-color="#b52f8c"/><stop offset="0.667" stop-color="#7701a8"/><stop offset="0.700" stop-color="#4903a0"/><stop offset="0.733" stop-color="#3a049a"/><stop offset="0.767" stop-color="#3f049c"/><stop offset="0.800" stop-color="#6400a7"/><stop offset="0.833" stop-color="#a82296"/><stop offset="0.867" stop-color="#d9586a"/><stop offset="0.900" stop-color="#f58c46"/><stop offset="0.933" stop-color="#febb2b"/><stop offset="0.967" stop-color="#fad824"/><stop offset="1.000" stop-color="#f7e225"/></linearGradient><linearGradient id="ga52"><stop offset="0.000" stop-color="#f7e225"/><stop offset="0.033" stop-color="#fada24"/><stop offset="0.067" stop-color="#fdca26"/><stop offset="0.100" stop-color="#fdae32"/><stop offset="0.133" stop-color="#f2844b"/><stop offset="0.167" stop-color="#d5536f"/><stop offset="0.200" stop-color="#ad2793"/><stop offset="0.233" stop-color="#7801a8"/><stop offset="0.267" stop-color="#5102a3"/><stop offset="0.300" stop-color="#5002a2"/><stop offset="0.333" stop-color="#6e00a8"/><stop offset="0.367" stop-color="#a51f99"/><stop offset="0.400" stop-color="#d6556d"/><stop offset="0.433" stop-color="#ec7754"/><stop offset="0.467" stop-color="#f3874a"/><stop offset="0.500" stop-color="#f2844b"/><stop offset="0.533" stop-color="#f0804e"/><stop offset="0.567" stop-color="#ef7e50"/><stop offset="0.600" stop-color="#e26561"/><stop offset="0.633" stop-color="#b7318a"/><stop offset="0.667" stop-color="#7801a8"/><stop offset="0.700" stop-color="#4903a0"/><stop offset="0.733" stop-color="#3a049a"/><stop offset="0.767" stop-color="#3e049c"/><stop offset="0.800" stop-color="#6100a7"/><stop offset="0.833" stop-color="#a62098"/><stop offset="0.867" stop-color="#d7566c"/><stop offset="0.900" stop-color="#f58c46"/><stop offset="0.933" stop-color="#febb2b"/><stop offset="0.967" stop-color="#fad824"/><stop offset="1.000" stop-color="#f7e225"/></linearGradient><linearGradient id="ga53"><stop offset="0.000" stop-color="#f7e225"/><stop offset="0.033" stop-color="#fada24"/><stop offset="0.067" stop-color="#fdca26"/><stop offset="0.100" stop-color="#fdae32"/><stop offset="0.133" stop-color="#f2844b"/><stop offset="0.167" stop-color="#d5536f"/><stop offset="0.200" stop-color="#ad2793"/><stop offset="0.233" stop-color="#7701a8"/><stop offset="0.267" stop-color="#5002a2"/><stop offset="0.300" stop-color="#4e02a2"/><stop offset="0.333" stop-color="#6e00a8"/><stop offset="0.367" stop-color="#a82296"/><stop offset="0.400" stop-color="#d8576b"/><stop offset="0.433" stop-color="#ed7953"/><stop offset="0.467" stop-color="#f3854b"/><stop offset="0.500" stop-color="#f1814d"/><stop offset="0.533" stop-color="#f07f4f"/><stop offset="0.567" stop-color="#ee7b51"/><stop offset="0.600" stop-color="#e26561"/><stop offset="0.633" stop-color="#b83289"/><stop offset="0.667" stop-color="#7a02a8"/><stop offset="0.700" stop-color="#4903a0"/><stop offset="0.733" stop-color="#3a049a"/><stop offset="0.767" stop-color="#3e049c"/><stop offset="0.800" stop-color="#6001a6"/><stop offset="0.833" stop-color="#a31e9a"/><stop offset="0.867" stop-color="#d6556d"/><stop offset="0.900" stop-color="#f58b47"/><stop offset="0.933" stop-color="#febb2b"/><stop offset="0.967" stop-color="#fad824"/><stop offset="1.000" stop-color="#f7e225"/></linearGradient><linearGradient id="ga54"><stop offset="0.000" stop-color="#f7e225"/><stop offset="0.033" stop-color="#fada24"/><stop offset="0.067" stop-color="#fdca26"/><stop offset="0.100" stop-color="#fdae32"/><stop offset="0.133" stop-color="#f2844b"/><stop offset="0.167" stop-color="#d5546e"/><stop offset="0.200" stop-color="#ad2793"/><stop offset="0.233" stop-color="#7701a8"/><stop offset="0.267" stop-color="#5002a2"/><stop offset="0.300" stop-color="#4c02a1"/><stop offset="0.333" stop-color="#6f00a8"/><stop offset="0.367" stop-color="#ab2494"/><stop offset="0.400" stop-color="#da5a6a"/><stop offset="0.433" stop-color="#ed7a52"/><stop offset="0.467" stop-color="#f3854b"/><stop offset="0.500" stop-color="#f0804e"/><stop offset="0.533" stop-color="#ef7c51"/><stop offset="0.567" stop-color="#ed7a52"/><stop offset="0.600" stop-color="#e26561"/><stop offset="0.633" stop-color="#bb3488"/><stop offset="0.667" stop-color="#7b02a8"/><stop offset="0.700" stop-color="#4b03a1"/><stop offset="0.733" stop-color="#3a049a"/><stop offset="0.767" stop-color="#3e049c"/><stop offset="0.800" stop-color="#5e01a6"/><stop offset="0.833" stop-color="#a11b9b"/><stop offset="0.867" stop-color="#d5546e"/><stop offset="0.900" stop-color="#f58b47"/><stop offset="0.933" stop-color="#febb2b"/><stop offset="0.967" stop-color="#fad824"/><stop offset="1.000" stop-color="#f7e225"/></linearGradient><linearGradient id="ga55"><stop offset="0.000" stop-color="#f7e225"/><stop offset="0.033" stop-color="#fada24"/><stop offset="0.067" stop-color="#fdca26"/><stop offset="0.100" stop-color="#fdae32"/><stop offset="0.133" stop-color="#f3854b"/><stop offset="0.167" stop-color="#d6556d"/><stop offset="0.200" stop-color="#ae2892"/><stop offset="0.233" stop-color="#7501a8"/><stop offset="0.267" stop-color="#5002a2"/><stop offset="0.300" stop-color="#4c02a1"/><stop offset="0.333" stop-color="#6f00a8"/><stop offset="0.367" stop-color="#ad2793"/><stop offset="0.400" stop-color="#db5c68"/><stop offset="0.433" stop-color="#ee7b51"/><stop offset="0.467" stop-color="#f2844b"/><stop offset="0.500" stop-color="#f07f4f"/><stop offset="0.533" stop-color="#ee7b51"/><stop offset="0.567" stop-color="#ed7953"/><stop offset="0.600" stop-color="#e26561"/><stop offset="0.633" stop-color="#bd3786"/><stop offset="0.667" stop-color="#7d03a8"/><stop offset="0.700" stop-color="#4b03a1"/><stop offset="0.733" stop-color="#3a049a"/><stop offset="0.767" stop-color="#3e049c"/><stop offset="0.800" stop-color="#5c01a6"/><stop offset="0.833" stop-color="#9e199d"/><stop offset="0.867" stop-color="#d5536f"/><stop offset="0.900" stop-color="#f58b47"/><stop offset="0.933" stop-color="#febb2b"/><stop offset="0.967" stop-color="#fad824"/><stop offset="1.000" stop-color="#f7e225"/></linearGradient><linearGradient id="ga56"><stop offset="0.000" stop-color="#f7e225"/><stop offset="0.033" stop-color="#fada24"/><stop offset="0.067" stop-color="#fdca26"/><stop offset="0.100" stop-color="#fdae32"/><stop offset="0.133" stop-color="#f3854b"/><stop offset="0.167" stop-color="#d7566c"/><stop offset="0.200" stop-color="#b02991"/><stop offset="0.233" stop-color="#7501a8"/><stop offset="0.267" stop-color="#4e02a2"/><stop offset="0.300" stop-color="#4c02a1"/><stop offset="0.333" stop-color="#6f00a8"/><stop offset="0.367" stop-color="#b02991"/><stop offset="0.400" stop-color="#dd5e66"/><stop offset="0.433" stop-color="#ef7c51"/><stop offset="0.467" stop-color="#f2844b"/><stop offset="0.500" stop-color="#ef7c51"/><stop offset="0.533" stop-color="#ed7a52"/><stop offset="0.567" stop-color="#ec7754"/><stop offset="0.600" stop-color="#e26660"/><stop offset="0.633" stop-color="#bf3984"/><stop offset="0.667" stop-color="#7e03a8"/><stop offset="0.700" stop-color="#4b03a1"/><stop offset="0.733" stop-color="#3c049b"/><stop offset="0.767" stop-color="#3e049c"/><stop offset="0.800" stop-color="#5b01a5"/><stop offset="0.833" stop-color="#9d189d"/><stop offset="0.867" stop-color="#d45270"/><stop offset="0.900" stop-color="#f58b47"/><stop offset="0.933" stop-color="#febb2b"/><stop offset="0.967" stop-color="#fad824"/><stop offset="1.000" stop-color="#f7e225"/></linearGradient><linearGradient id="ga57"><stop offset="0.000" stop-color="#f7e225"/><stop offset="0.033" stop-color="#fada24"/><stop offset="0.067" stop-color="#fdca26"/><stop offset="0.100" stop-color="#fdae32"/><stop offset="0.133" stop-color="#f3854b"/><stop offset="0.167" stop-color="#d8576b"/><stop offset="0.200" stop-color="#b02991"/><stop offset="0.233" stop-color="#7501a8"/><stop offset="0.267" stop-color="#4e02a2"/><stop offset="0.300" stop-color="#4b03a1"/><stop offset="0.333" stop-color="#6f00a8"/><stop offset="0.367" stop-color="#b22b8f"/><stop offset="0.400" stop-color="#de5f65"/><stop offset="0.433" stop-color="#ef7e50"/><stop offset="0.467" stop-color="#f1834c"/><stop offset="0.500" stop-color="#ee7b51"/><stop offset="0.533" stop-color="#ec7754"/><stop offset="0.567" stop-color="#eb7655"/><stop offset="0.600" stop-color="#e26660"/><stop offset="0.633" stop-color="#c03a83"/><stop offset="0.667" stop-color="#8004a8"/><stop offset="0.700" stop-color="#4b03a1"/><stop offset="0.733" stop-color="#3c049b"/><stop offset="0.767" stop-color="#3f049c"/><stop offset="0.800" stop-color="#5b01a5"/><stop offset="0.833" stop-color="#9a169f"/><stop offset="0.867" stop-color="#d35171"/><stop offset="0.900" stop-color="#f58b47"/><stop offset="0.933" stop-color="#febb2b"/><stop offset="0.967" stop-color="#fad824"/><stop offset="1.000" stop-color="#f7e225"/></linearGradient><linearGradient id="ga58"><stop offset="0.000" stop-color="#f7e225"/><stop offset="0.033" stop-color="#fada24"/><stop offset="0.067" stop-color="#fdca26"/><stop offset="0.100" stop-color="#fdae32"/><stop offset="0.133" stop-color="#f3854b"/><stop offset="0.167" stop-color="#d9586a"/><stop offset="0.200" stop-color="#b12a90"/><stop offset="0.233" stop-color="#7501a8"/><stop offset="0.267" stop-color="#4e02a2"/><stop offset="0.300" stop-color="#4b03a1"/><stop offset="0.333" stop-color="#7100a8"/><stop offset="0.367" stop-color="#b42e8d"/><stop offset="0.400" stop-color="#df6263"/><stop offset="0.433" stop-color="#ef7e50"/><stop offset="0.467" stop-color="#f1814d"/><stop offset="0.500" stop-color="#ed7a52"/><stop offset="0.533" stop-color="#ec7754"/><stop offset="0.567" stop-color="#eb7556"/><stop offset="0.600" stop-color="#e26660"/><stop offset="0.633" stop-color="#c13b82"/><stop offset="0.667" stop-color="#8004a8"/><stop offset="0.700" stop-color="#4c02a1"/><stop offset="0.733" stop-color="#3e049c"/><stop offset="0.767" stop-color="#3f049c"/><stop offset="0.800" stop-color="#5901a5"/><stop offset="0.833" stop-color="#99159f"/><stop offset="0.867" stop-color="#d35171"/><stop offset="0.900" stop-color="#f58b47"/><stop offset="0.933" stop-color="#febb2b"/><stop offset="0.967" stop-color="#fad824"/><stop offset="1.000" stop-color="#f7e225"/></linearGradient><linearGradient id="ga59"><stop offset="0.000" stop-color="#f7e225"/><stop offset="0.033" stop-color="#fada24"/><stop offset="0.067" stop-color="#fdca26"/><stop offset="0.100" stop-color="#fdae32"/><stop offset="0.133" stop-color="#f3854b"/><stop offset="0.167" stop-color="#da5a6a"/><stop offset="0.200" stop-color="#b22b8f"/><stop offset="0.233" stop-color="#7501a8"/><stop offset="0.267" stop-color="#4e02a2"/><stop offset="0.300" stop-color="#4b03a1"/><stop offset="0.333" stop-color="#7100a8"/><stop offset="0.367" stop-color="#b52f8c"/><stop offset="0.400" stop-color="#e06363"/><stop offset="0.433" stop-color="#f07f4f"/><stop offset="0.467" stop-color="#f1814d"/><stop offset="0.500" stop-color="#ed7a52"/><stop offset="0.533" stop-color="#eb7655"/><stop offset="0.567" stop-color="#eb7556"/><stop offset="0.600" stop-color="#e3685f"/><stop offset="0.633" stop-color="#c23c81"/><stop offset="0.667" stop-color="#8104a7"/><stop offset="0.700" stop-color="#4c02a1"/><stop offset="0.733" stop-color="#3e049c"/><stop offset="0.767" stop-color="#3f049c"/><stop offset="0.800" stop-color="#5901a5"/><stop offset="0.833" stop-color="#99159f"/><stop offset="0.867" stop-color="#d24f71"/><stop offset="0.900" stop-color="#f48948"/><stop offset="0.933" stop-color="#febb2b"/><stop offset="0.967" stop-color="#fad824"/><stop offset="1.000" stop-color="#f7e225"/></linearGradient><linearGradient id="ga60"><stop offset="0.000" stop-color="#f7e225"/><stop offset="0.033" stop-color="#fada24"/><stop offset="0.067" stop-color="#fdca26"/><stop offset="0.100" stop-color="#fdae32"/><stop offset="0.133" stop-color="#f3874a"/><stop offset="0.167" stop-color="#da5a6a"/><stop offset="0.200" stop-color="#b32c8e"/><stop offset="0.233" stop-color="#7501a8"/><stop offset="0.267" stop-color="#4e02a2"/><stop offset="0.300" stop-color="#4b03a1"/><stop offset="0.333" stop-color="#7201a8"/><stop offset="0.367" stop-color="#b7318a"/><stop offset="0.400" stop-color="#e26561"/><stop offset="0.433" stop-color="#f0804e"/><stop offset="0.467" stop-color="#f1814d"/><stop offset="0.500" stop-color="#ed7a52"/><stop offset="0.533" stop-color="#eb7655"/><stop offset="0.567" stop-color="#ea7457"/><stop offset="0.600" stop-color="#e3685f"/><stop offset="0.633" stop-color="#c33d80"/><stop offset="0.667" stop-color="#8104a7"/><stop offset="0.700" stop-color="#4c02a1"/><stop offset="0.733" stop-color="#3f049c"/><stop offset="0.767" stop-color="#41049d"/><stop offset="0.800" stop-color="#5901a5"/><stop offset="0.833" stop-color="#9814a0"/><stop offset="0.867" stop-color="#d24f71"/><stop offset="0.900" stop-color="#f48948"/><stop offset="0.933" stop-color="#febb2b"/><stop offset="0.967" stop-color="#fad824"/><stop offset="1.000" stop-color="#f7e225"/></linearGradient><linearGradient id="ga61"><stop offset="0.000" stop-color="#f7e225"/><stop offset="0.033" stop-color="#fada24"/><stop offset="0.067" stop-color="#fdca26"/><stop offset="0.100" stop-color="#fdae32"/><stop offset="0.133" stop-color="#f3874a"/><stop offset="0.167" stop-color="#da5b69"/><stop offset="0.200" stop-color="#b42e8d"/><stop offset="0.233" stop-color="#7501a8"/><stop offset="0.267" stop-color="#4e02a2"/><stop offset="0.300" stop-color="#4b03a1"/><stop offset="0.333" stop-color="#7201a8"/><stop offset="0.367" stop-color="#ba3388"/><stop offset="0.400" stop-color="#e3685f"/><stop offset="0.433" stop-color="#f1814d"/><stop offset="0.467" stop-color="#f1834c"/><stop offset="0.500" stop-color="#ed7a52"/><stop offset="0.533" stop-color="#eb7655"/><stop offset="0.567" stop-color="#ea7457"/><stop offset="0.600" stop-color="#e26660"/><stop offset="0.633" stop-color="#c33d80"/><stop offset="0.667" stop-color="#8104a7"/><stop offset="0.700" stop-color="#4e02a2"/><stop offset="0.733" stop-color="#3f049c"/><stop offset="0.767" stop-color="#41049d"/><stop offset="0.800" stop-color="#5901a5"/><stop offset="0.833" stop-color="#9814a0"/><stop offset="0.867" stop-color="#d24f71"/><stop offset="0.900" stop-color="#f58b47"/><stop offset="0.933" stop-color="#febb2b"/><stop offset="0.967" stop-color="#fad824"/><stop offset="1.000" stop-color="#f7e225"/></linearGradient><linearGradient id="ga62"><stop offset="0.000" stop-color="#f7e225"/><stop offset="0.033" stop-color="#fada24"/><stop offset="0.067" stop-color="#fdca26"/><stop offset="0.100" stop-color="#fdae32"/><stop offset="0.133" stop-color="#f3874a"/><stop offset="0.167" stop-color="#db5c68"/><stop offset="0.200" stop-color="#b42e8d"/><stop offset="0.233" stop-color="#7501a8"/><stop offset="0.267" stop-color="#4e02a2"/><stop offset="0.300" stop-color="#4b03a1"/><stop offset="0.333" stop-color="#7401a8"/><stop offset="0.367" stop-color="#bc3587"/><stop offset="0.400" stop-color="#e4695e"/><stop offset="0.433" stop-color="#f1834c"/><stop offset="0.467" stop-color="#f2844b"/><stop offset="0.500" stop-color="#ee7b51"/><stop offset="0.533" stop-color="#ec7754"/><stop offset="0.567" stop-color="#ea7457"/><stop offset="0.600" stop-color="#e26660"/><stop offset="0.633" stop-color="#c33d80"/><stop offset="0.667" stop-color="#8104a7"/><stop offset="0.700" stop-color="#4e02a2"/><stop offset="0.733" stop-color="#41049d"/><stop offset="0.767" stop-color="#43039e"/><stop offset="0.800" stop-color="#5b01a5"/><stop offset="0.833" stop-color="#9814a0"/><stop offset="0.867" stop-color="#d24f71"/><stop offset="0.900" stop-color="#f58b47"/><stop offset="0.933" stop-color="#febb2b"/><stop offset="0.967" stop-color="#fad824"/><stop offset="1.000" stop-color="#f7e225"/></linearGradient><linearGradient id="ga63"><stop offset="0.000" stop-color="#f7e225"/><stop offset="0.033" stop-color="#fada24"/><stop offset="0.067" stop-color="#fdca26"/><stop offset="0.100" stop-color="#fdac33"/><stop offset="0.133" stop-color="#f3874a"/><stop offset="0.167" stop-color="#db5c68"/><stop offset="0.200" stop-color="#b52f8c"/><stop offset="0.233" stop-color="#7701a8"/><stop offset="0.267" stop-color="#4e02a2"/><stop offset="0.300" stop-color="#4c02a1"/><stop offset="0.333" stop-color="#7501a8"/><stop offset="0.367" stop-color="#be3885"/><stop offset="0.400" stop-color="#e56b5d"/><stop offset="0.433" stop-color="#f3854b"/><stop offset="0.467" stop-color="#f3854b"/><stop offset="0.500" stop-color="#ef7e50"/><stop offset="0.533" stop-color="#ed7953"/><stop offset="0.567" stop-color="#ea7457"/><stop offset="0.600" stop-color="#e26561"/><stop offset="0.633" stop-color="#c23c81"/><stop offset="0.667" stop-color="#8104a7"/><stop offset="0.700" stop-color="#5002a2"/><stop offset="0.733" stop-color="#43039e"/><stop offset="0.767" stop-color="#43039e"/><stop offset="0.800" stop-color="#5b01a5"/><stop offset="0.833" stop-color="#99159f"/><stop offset="0.867" stop-color="#d35171"/><stop offset="0.900" stop-color="#f58b47"/><stop offset="0.933" stop-color="#febb2b"/><stop offset="0.967" stop-color="#fad824"/><stop offset="1.000" stop-color="#f7e225"/></linearGradient><linearGradient id="ga64"><stop offset="0.000" stop-color="#f7e225"/><stop offset="0.033" stop-color="#fada24"/><stop offset="0.067" stop-color="#fdca26"/><stop offset="0.100" stop-color="#fdac33"/><stop offset="0.133" stop-color="#f3874a"/><stop offset="0.167" stop-color="#dc5d67"/><stop offset="0.200" stop-color="#b6308b"/><stop offset="0.233" stop-color="#7701a8"/><stop offset="0.267" stop-color="#4e02a2"/><stop offset="0.300" stop-color="#4c02a1"/><stop offset="0.333" stop-color="#7801a8"/><stop offset="0.367" stop-color="#c03a83"/><stop offset="0.400" stop-color="#e66c5c"/><stop offset="0.433" stop-color="#f48849"/><stop offset="0.467" stop-color="#f48948"/><stop offset="0.500" stop-color="#f1834c"/><stop offset="0.533" stop-color="#ef7c51"/><stop offset="0.567" stop-color="#eb7556"/><stop offset="0.600" stop-color="#e26561"/><stop offset="0.633" stop-color="#c23c81"/><stop offset="0.667" stop-color="#8305a7"/><stop offset="0.700" stop-color="#5102a3"/><stop offset="0.733" stop-color="#43039e"/><stop offset="0.767" stop-color="#44039e"/><stop offset="0.800" stop-color="#5c01a6"/><stop offset="0.833" stop-color="#9a169f"/><stop offset="0.867" stop-color="#d35171"/><stop offset="0.900" stop-color="#f58c46"/><stop offset="0.933" stop-color="#febb2b"/><stop offset="0.967" stop-color="#fad824"/><stop offset="1.000" stop-color="#f7e225"/></linearGradient><linearGradient id="ga65"><stop offset="0.000" stop-color="#f7e225"/><stop offset="0.033" stop-color="#fada24"/><stop offset="0.067" stop-color="#fdca26"/><stop offset="0.100" stop-color="#fdac33"/><stop offset="0.133" stop-color="#f3874a"/><stop offset="0.167" stop-color="#dd5e66"/><stop offset="0.200" stop-color="#b7318a"/><stop offset="0.233" stop-color="#7701a8"/><stop offset="0.267" stop-color="#4e02a2"/><stop offset="0.300" stop-color="#4e02a2"/><stop offset="0.333" stop-color="#7a02a8"/><stop offset="0.367" stop-color="#c23c81"/><stop offset="0.400" stop-color="#e76f5a"/><stop offset="0.433" stop-color="#f48948"/><stop offset="0.467" stop-color="#f68d45"/><stop offset="0.500" stop-color="#f3874a"/><stop offset="0.533" stop-color="#f07f4f"/><stop offset="0.567" stop-color="#eb7556"/><stop offset="0.600" stop-color="#e16462"/><stop offset="0.633" stop-color="#c13b82"/><stop offset="0.667" stop-color="#8305a7"/><stop offset="0.700" stop-color="#5102a3"/><stop offset="0.733" stop-color="#44039e"/><stop offset="0.767" stop-color="#46039f"/><stop offset="0.800" stop-color="#5c01a6"/><stop offset="0.833" stop-color="#9a169f"/><stop offset="0.867" stop-color="#d45270"/><stop offset="0.900" stop-color="#f58c46"/><stop offset="0.933" stop-color="#febb2b"/><stop offset="0.967" stop-color="#fad824"/><stop offset="1.000" stop-color="#f7e225"/></linearGradient><linearGradient id="ga66"><stop offset="0.000" stop-color="#f7e225"/><stop offset="0.033" stop-color="#fada24"/><stop offset="0.067" stop-color="#fdca26"/><stop offset="0.100" stop-color="#fdac33"/><stop offset="0.133" stop-color="#f3874a"/><stop offset="0.167" stop-color="#dd5e66"/><stop offset="0.200" stop-color="#b7318a"/><stop offset="0.233" stop-color="#7701a8"/><stop offset="0.267" stop-color="#4e02a2"/><stop offset="0.300" stop-color="#4e02a2"/><stop offset="0.333" stop-color="#7d03a8"/><stop offset="0.367" stop-color="#c43e7f"/><stop offset="0.400" stop-color="#e87059"/><stop offset="0.433" stop-color="#f68d45"/><stop offset="0.467" stop-color="#f79143"/><stop offset="0.500" stop-color="#f68d45"/><stop offset="0.533" stop-color="#f1834c"/><stop offset="0.567" stop-color="#eb7655"/><stop offset="0.600" stop-color="#e06363"/><stop offset="0.633" stop-color="#c03a83"/><stop offset="0.667" stop-color="#8305a7"/><stop offset="0.700" stop-color="#5302a3"/><stop offset="0.733" stop-color="#46039f"/><stop offset="0.767" stop-color="#48039f"/><stop offset="0.800" stop-color="#5e01a6"/><stop offset="0.833" stop-color="#9d189d"/><stop offset="0.867" stop-color="#d5536f"/><stop offset="0.900" stop-color="#f68d45"/><stop offset="0.933" stop-color="#febd2a"/><stop offset="0.967" stop-color="#fad824"/><stop offset="1.000" stop-color="#f7e225"/></linearGradient><linearGradient id="ga67"><stop offset="0.000" stop-color="#f7e225"/><stop offset="0.033" stop-color="#fada24"/><stop offset="0.067" stop-color="#fdca26"/><stop offset="0.100" stop-color="#fdac33"/><stop offset="0.133" stop-color="#f3874a"/><stop offset="0.167" stop-color="#de5f65"/><stop offset="0.200" stop-color="#b83289"/><stop offset="0.233" stop-color="#7801a8"/><stop offset="0.267" stop-color="#4e02a2"/><stop offset="0.300" stop-color="#5002a2"/><stop offset="0.333" stop-color="#8004a8"/><stop offset="0.367" stop-color="#c6417d"/><stop offset="0.400" stop-color="#e97257"/><stop offset="0.433" stop-color="#f79044"/><stop offset="0.467" stop-color="#f9973f"/><stop offset="0.500" stop-color="#f89441"/><stop offset="0.533" stop-color="#f48849"/><stop offset="0.567" stop-color="#eb7655"/><stop offset="0.600" stop-color="#de6164"/><stop offset="0.633" stop-color="#bf3984"/><stop offset="0.667" stop-color="#8305a7"/><stop offset="0.700" stop-color="#5502a4"/><stop offset="0.733" stop-color="#48039f"/><stop offset="0.767" stop-color="#4903a0"/><stop offset="0.800" stop-color="#6001a6"/><stop offset="0.833" stop-color="#9e199d"/><stop offset="0.867" stop-color="#d5546e"/><stop offset="0.900" stop-color="#f68f44"/><stop offset="0.933" stop-color="#febd2a"/><stop offset="0.967" stop-color="#fad824"/><stop offset="1.000" stop-color="#f7e225"/></linearGradient><linearGradient id="ga68"><stop offset="0.000" stop-color="#f7e225"/><stop offset="0.033" stop-color="#fada24"/><stop offset="0.067" stop-color="#fdca26"/><stop offset="0.100" stop-color="#fdac33"/><stop offset="0.133" stop-color="#f48849"/><stop offset="0.167" stop-color="#de5f65"/><stop offset="0.200" stop-color="#ba3388"/><stop offset="0.233" stop-color="#7801a8"/><stop offset="0.267" stop-color="#4e02a2"/><stop offset="0.300" stop-color="#5102a3"/><stop offset="0.333" stop-color="#8305a7"/><stop offset="0.367" stop-color="#c8437b"/><stop offset="0.400" stop-color="#ea7457"/><stop offset="0.433" stop-color="#f79342"/><stop offset="0.467" stop-color="#fa9c3c"/><stop offset="0.500" stop-color="#fa9b3d"/><stop offset="0.533" stop-color="#f58c46"/><stop offset="0.567" stop-color="#ec7754"/><stop offset="0.600" stop-color="#de5f65"/><stop offset="0.633" stop-color="#be3885"/><stop offset="0.667" stop-color="#8305a7"/><stop offset="0.700" stop-color="#5601a4"/><stop offset="0.733" stop-color="#4903a0"/><stop offset="0.767" stop-color="#4b03a1"/><stop offset="0.800" stop-color="#6100a7"/><stop offset="0.833" stop-color="#a11b9b"/><stop offset="0.867" stop-color="#d6556d"/><stop offset="0.900" stop-color="#f68f44"/><stop offset="0.933" stop-color="#febd2a"/><stop offset="0.967" stop-color="#fad824"/><stop offset="1.000" stop-color="#f7e225"/></linearGradient><linearGradient id="ga69"><stop offset="0.000" stop-color="#f7e225"/><stop offset="0.033" stop-color="#fada24"/><stop offset="0.067" stop-color="#fdca26"/><stop offset="0.100" stop-color="#fdac33"/><stop offset="0.133" stop-color="#f48849"/><stop offset="0.167" stop-color="#de5f65"/><stop offset="0.200" stop-color="#ba3388"/><stop offset="0.233" stop-color="#7801a8"/><stop offset="0.267" stop-color="#4e02a2"/><stop offset="0.300" stop-color="#5102a3"/><stop offset="0.333" stop-color="#8405a7"/><stop offset="0.367" stop-color="#c9447a"/><stop offset="0.400" stop-color="#eb7556"/><stop offset="0.433" stop-color="#f89441"/><stop offset="0.467" stop-color="#fba139"/><stop offset="0.500" stop-color="#fba139"/><stop offset="0.533" stop-color="#f79044"/><stop offset="0.567" stop-color="#ed7953"/><stop offset="0.600" stop-color="#dd5e66"/><stop offset="0.633" stop-color="#bd3786"/><stop offset="0.667" stop-color="#8305a7"/><stop offset="0.700" stop-color="#5601a4"/><stop offset="0.733" stop-color="#4b03a1"/><stop offset="0.767" stop-color="#4c02a1"/><stop offset="0.800" stop-color="#6300a7"/><stop offset="0.833" stop-color="#a21d9a"/><stop offset="0.867" stop-color="#d7566c"/><stop offset="0.900" stop-color="#f79044"/><stop offset="0.933" stop-color="#febd2a"/><stop offset="0.967" stop-color="#fad824"/><stop offset="1.000" stop-color="#f7e225"/></linearGradient><linearGradient id="gc0"><stop offset="0.000" stop-color="#a72197"/><stop offset="0.033" stop-color="#9814a0"/><stop offset="0.067" stop-color="#8808a6"/><stop offset="0.100" stop-color="#8305a7"/><stop offset="0.133" stop-color="#8004a8"/><stop offset="0.167" stop-color="#7e03a8"/><stop offset="0.200" stop-color="#7d03a8"/><stop offset="0.233" stop-color="#7d03a8"/><stop offset="0.267" stop-color="#7b02a8"/><stop offset="0.300" stop-color="#7a02a8"/><stop offset="0.333" stop-color="#7701a8"/><stop offset="0.367" stop-color="#6f00a8"/><stop offset="0.400" stop-color="#5801a4"/><stop offset="0.433" stop-color="#48039f"/><stop offset="0.467" stop-color="#5102a3"/><stop offset="0.500" stop-color="#6c00a8"/><stop offset="0.533" stop-color="#7a02a8"/><stop offset="0.567" stop-color="#7e03a8"/><stop offset="0.600" stop-color="#7e03a8"/><stop offset="0.633" stop-color="#7a02a8"/><stop offset="0.667" stop-color="#6c00a8"/><stop offset="0.700" stop-color="#6300a7"/><stop offset="0.733" stop-color="#6001a6"/><stop offset="0.767" stop-color="#6001a6"/><stop offset="0.800" stop-color="#5e01a6"/><stop offset="0.833" stop-color="#6001a6"/><stop offset="0.867" stop-color="#6700a8"/><stop offset="0.900" stop-color="#7501a8"/><stop offset="0.933" stop-color="#8104a7"/><stop offset="0.967" stop-color="#8a09a5"/><stop offset="1.000" stop-color="#8e0ca4"/></linearGradient><linearGradient id="gc1"><stop offset="0.000" stop-color="#a72197"/><stop offset="0.033" stop-color="#9613a1"/><stop offset="0.067" stop-color="#8707a6"/><stop offset="0.100" stop-color="#8004a8"/><stop offset="0.133" stop-color="#7d03a8"/><stop offset="0.167" stop-color="#7b02a8"/><stop offset="0.200" stop-color="#7b02a8"/><stop offset="0.233" stop-color="#7b02a8"/><stop offset="0.267" stop-color="#7b02a8"/><stop offset="0.300" stop-color="#7a02a8"/><stop offset="0.333" stop-color="#7801a8"/><stop offset="0.367" stop-color="#7100a8"/><stop offset="0.400" stop-color="#5901a5"/><stop offset="0.433" stop-color="#48039f"/><stop offset="0.467" stop-color="#5302a3"/><stop offset="0.500" stop-color="#6c00a8"/><stop offset="0.533" stop-color="#7b02a8"/><stop offset="0.567" stop-color="#8004a8"/><stop offset="0.600" stop-color="#8004a8"/><stop offset="0.633" stop-color="#7a02a8"/><stop offset="0.667" stop-color="#6a00a8"/><stop offset="0.700" stop-color="#6100a7"/><stop offset="0.733" stop-color="#5e01a6"/><stop offset="0.767" stop-color="#5b01a5"/><stop offset="0.800" stop-color="#5b01a5"/><stop offset="0.833" stop-color="#5c01a6"/><stop offset="0.867" stop-color="#6600a7"/><stop offset="0.900" stop-color="#7401a8"/><stop offset="0.933" stop-color="#8004a8"/><stop offset="0.967" stop-color="#8808a6"/><stop offset="1.000" stop-color="#8e0ca4"/></linearGradient><linearGradient id="gc2"><stop offset="0.000" stop-color="#a72197"/><stop offset="0.033" stop-color="#9511a1"/><stop offset="0.067" stop-color="#8606a6"/><stop offset="0.100" stop-color="#7e03a8"/><stop offset="0.133" stop-color="#7a02a8"/><stop offset="0.167" stop-color="#7801a8"/><stop offset="0.200" stop-color="#7801a8"/><stop offset="0.233" stop-color="#7a02a8"/><stop offset="0.267" stop-color="#7a02a8"/><stop offset="0.300" stop-color="#7a02a8"/><stop offset="0.333" stop-color="#7801a8"/><stop offset="0.367" stop-color="#7100a8"/><stop offset="0.400" stop-color="#5b01a5"/><stop offset="0.433" stop-color="#4903a0"/><stop offset="0.467" stop-color="#5302a3"/><stop offset="0.500" stop-color="#6e00a8"/><stop offset="0.533" stop-color="#7d03a8"/><stop offset="0.567" stop-color="#8104a7"/><stop offset="0.600" stop-color="#8104a7"/><stop offset="0.633" stop-color="#7a02a8"/><stop offset="0.667" stop-color="#6900a8"/><stop offset="0.700" stop-color="#5e01a6"/><stop offset="0.733" stop-color="#5b01a5"/><stop offset="0.767" stop-color="#5801a4"/><stop offset="0.800" stop-color="#5601a4"/><stop offset="0.833" stop-color="#5801a4"/><stop offset="0.867" stop-color="#6300a7"/><stop offset="0.900" stop-color="#7201a8"/><stop offset="0.933" stop-color="#8004a8"/><stop offset="0.967" stop-color="#8808a6"/><stop offset="1.000" stop-color="#8e0ca4"/></linearGradient><linearGradient id="gc3"><stop offset="0.000" stop-color="#a82296"/><stop offset="0.033" stop-color="#9410a2"/><stop offset="0.067" stop-color="#8405a7"/><stop offset="0.100" stop-color="#7b02a8"/><stop offset="0.133" stop-color="#7701a8"/><stop offset="0.167" stop-color="#7401a8"/><stop offset="0.200" stop-color="#7501a8"/><stop offset="0.233" stop-color="#7701a8"/><stop offset="0.267" stop-color="#7801a8"/><stop offset="0.300" stop-color="#7a02a8"/><stop offset="0.333" stop-color="#7801a8"/><stop offset="0.367" stop-color="#7201a8"/><stop offset="0.400" stop-color="#5c01a6"/><stop offset="0.433" stop-color="#4b03a1"/><stop offset="0.467" stop-color="#5502a4"/><stop offset="0.500" stop-color="#6f00a8"/><stop offset="0.533" stop-color="#7e03a8"/><stop offset="0.567" stop-color="#8405a7"/><stop offset="0.600" stop-color="#8305a7"/><stop offset="0.633" stop-color="#7a02a8"/><stop offset="0.667" stop-color="#6700a8"/><stop offset="0.700" stop-color="#5c01a6"/><stop offset="0.733" stop-color="#5801a4"/><stop offset="0.767" stop-color="#5302a3"/><stop offset="0.800" stop-color="#5102a3"/><stop offset="0.833" stop-color="#5502a4"/><stop offset="0.867" stop-color="#6001a6"/><stop offset="0.900" stop-color="#6f00a8"/><stop offset="0.933" stop-color="#7e03a8"/><stop offset="0.967" stop-color="#8808a6"/><stop offset="1.000" stop-color="#8e0ca4"/></linearGradient><linearGradient id="gc4"><stop offset="0.000" stop-color="#a82296"/><stop offset="0.033" stop-color="#9410a2"/><stop offset="0.067" stop-color="#8305a7"/><stop offset="0.100" stop-color="#7a02a8"/><stop offset="0.133" stop-color="#7401a8"/><stop offset="0.167" stop-color="#7201a8"/><stop offset="0.200" stop-color="#7201a8"/><stop offset="0.233" stop-color="#7501a8"/><stop offset="0.267" stop-color="#7801a8"/><stop offset="0.300" stop-color="#7a02a8"/><stop offset="0.333" stop-color="#7a02a8"/><stop offset="0.367" stop-color="#7401a8"/><stop offset="0.400" stop-color="#5e01a6"/><stop offset="0.433" stop-color="#4e02a2"/><stop offset="0.467" stop-color="#5801a4"/><stop offset="0.500" stop-color="#7100a8"/><stop offset="0.533" stop-color="#8104a7"/><stop offset="0.567" stop-color="#8606a6"/><stop offset="0.600" stop-color="#8405a7"/><stop offset="0.633" stop-color="#7b02a8"/><stop offset="0.667" stop-color="#6700a8"/><stop offset="0.700" stop-color="#5b01a5"/><stop offset="0.733" stop-color="#5601a4"/><stop offset="0.767" stop-color="#5002a2"/><stop offset="0.800" stop-color="#4c02a1"/><stop offset="0.833" stop-color="#5102a3"/><stop offset="0.867" stop-color="#5c01a6"/><stop offset="0.900" stop-color="#6e00a8"/><stop offset="0.933" stop-color="#7e03a8"/><stop offset="0.967" stop-color="#8808a6"/><stop offset="1.000" stop-color="#8e0ca4"/></linearGradient><linearGradient id="gc5"><stop offset="0.000" stop-color="#a82296"/><stop offset="0.033" stop-color="#920fa3"/><stop offset="0.067" stop-color="#8104a7"/><stop offset="0.100" stop-color="#7701a8"/><stop offset="0.133" stop-color="#7100a8"/><stop offset="0.167" stop-color="#6f00a8"/><stop offset="0.200" stop-color="#7100a8"/><stop offset="0.233" stop-color="#7401a8"/><stop offset="0.267" stop-color="#7701a8"/><stop offset="0.300" stop-color="#7a02a8"/><stop offset="0.333" stop-color="#7a02a8"/><stop offset="0.367" stop-color="#7501a8"/><stop offset="0.400" stop-color="#6100a7"/><stop offset="0.433" stop-color="#5002a2"/><stop offset="0.467" stop-color="#5901a5"/><stop offset="0.500" stop-color="#7401a8"/><stop offset="0.533" stop-color="#8305a7"/><stop offset="0.567" stop-color="#8808a6"/><stop offset="0.600" stop-color="#8606a6"/><stop offset="0.633" stop-color="#7b02a8"/><stop offset="0.667" stop-color="#6600a7"/><stop offset="0.700" stop-color="#5901a5"/><stop offset="0.733" stop-color="#5302a3"/><stop offset="0.767" stop-color="#4c02a1"/><stop offset="0.800" stop-color="#4903a0"/><stop offset="0.833" stop-color="#4e02a2"/><stop offset="0.867" stop-color="#5b01a5"/><stop offset="0.900" stop-color="#6c00a8"/><stop offset="0.933" stop-color="#7d03a8"/><stop offset="0.967" stop-color="#8808a6"/><stop offset="1.000" stop-color="#8e0ca4"/></linearGradient><linearGradient id="gc6"><stop offset="0.000" stop-color="#aa2395"/><stop offset="0.033" stop-color="#920fa3"/><stop offset="0.067" stop-color="#8004a8"/><stop offset="0.100" stop-color="#7501a8"/><stop offset="0.133" stop-color="#6f00a8"/><stop offset="0.167" stop-color="#6e00a8"/><stop offset="0.200" stop-color="#6f00a8"/><stop offset="0.233" stop-color="#7201a8"/><stop offset="0.267" stop-color="#7501a8"/><stop offset="0.300" stop-color="#7801a8"/><stop offset="0.333" stop-color="#7b02a8"/><stop offset="0.367" stop-color="#7701a8"/><stop offset="0.400" stop-color="#6400a7"/><stop offset="0.433" stop-color="#5302a3"/><stop offset="0.467" stop-color="#5c01a6"/><stop offset="0.500" stop-color="#7501a8"/><stop offset="0.533" stop-color="#8606a6"/><stop offset="0.567" stop-color="#8a09a5"/><stop offset="0.600" stop-color="#8707a6"/><stop offset="0.633" stop-color="#7b02a8"/><stop offset="0.667" stop-color="#6600a7"/><stop offset="0.700" stop-color="#5901a5"/><stop offset="0.733" stop-color="#5102a3"/><stop offset="0.767" stop-color="#4b03a1"/><stop offset="0.800" stop-color="#46039f"/><stop offset="0.833" stop-color="#4c02a1"/><stop offset="0.867" stop-color="#5901a5"/><stop offset="0.900" stop-color="#6c00a8"/><stop offset="0.933" stop-color="#7d03a8"/><stop offset="0.967" stop-color="#8808a6"/><stop offset="1.000" stop-color="#8e0ca4"/></linearGradient><linearGradient id="gc7"><stop offset="0.000" stop-color="#aa2395"/><stop offset="0.033" stop-color="#920fa3"/><stop offset="0.067" stop-color="#8004a8"/><stop offset="0.100" stop-color="#7501a8"/><stop offset="0.133" stop-color="#6e00a8"/><stop offset="0.167" stop-color="#6c00a8"/><stop offset="0.200" stop-color="#6e00a8"/><stop offset="0.233" stop-color="#7100a8"/><stop offset="0.267" stop-color="#7501a8"/><stop offset="0.300" stop-color="#7801a8"/><stop offset="0.333" stop-color="#7b02a8"/><stop offset="0.367" stop-color="#7801a8"/><stop offset="0.400" stop-color="#6600a7"/><stop offset="0.433" stop-color="#5601a4"/><stop offset="0.467" stop-color="#6001a6"/><stop offset="0.500" stop-color="#7801a8"/><stop offset="0.533" stop-color="#8808a6"/><stop offset="0.567" stop-color="#8d0ba5"/><stop offset="0.600" stop-color="#8a09a5"/><stop offset="0.633" stop-color="#7d03a8"/><stop offset="0.667" stop-color="#6400a7"/><stop offset="0.700" stop-color="#5801a4"/><stop offset="0.733" stop-color="#5002a2"/><stop offset="0.767" stop-color="#48039f"/><stop offset="0.800" stop-color="#44039e"/><stop offset="0.833" stop-color="#4b03a1"/><stop offset="0.867" stop-color="#5801a4"/><stop offset="0.900" stop-color="#6a00a8"/><stop offset="0.933" stop-color="#7d03a8"/><stop offset="0.967" stop-color="#8808a6"/><stop offset="1.000" stop-color="#8e0ca4"/></linearGradient><linearGradient id="gc8"><stop offset="0.000" stop-color="#aa2395"/><stop offset="0.033" stop-color="#920fa3"/><stop offset="0.067" stop-color="#7e03a8"/><stop offset="0.100" stop-color="#7401a8"/><stop offset="0.133" stop-color="#6e00a8"/><stop offset="0.167" stop-color="#6a00a8"/><stop offset="0.200" stop-color="#6c00a8"/><stop offset="0.233" stop-color="#7100a8"/><stop offset="0.267" stop-color="#7401a8"/><stop offset="0.300" stop-color="#7801a8"/><stop offset="0.333" stop-color="#7b02a8"/><stop offset="0.367" stop-color="#7a02a8"/><stop offset="0.400" stop-color="#6a00a8"/><stop offset="0.433" stop-color="#5b01a5"/><stop offset="0.467" stop-color="#6300a7"/><stop offset="0.500" stop-color="#7b02a8"/><stop offset="0.533" stop-color="#8b0aa5"/><stop offset="0.567" stop-color="#8e0ca4"/><stop offset="0.600" stop-color="#8b0aa5"/><stop offset="0.633" stop-color="#7d03a8"/><stop offset="0.667" stop-color="#6400a7"/><stop offset="0.700" stop-color="#5601a4"/><stop offset="0.733" stop-color="#4e02a2"/><stop offset="0.767" stop-color="#46039f"/><stop offset="0.800" stop-color="#43039e"/><stop offset="0.833" stop-color="#4903a0"/><stop offset="0.867" stop-color="#5801a4"/><stop offset="0.900" stop-color="#6a00a8"/><stop offset="0.933" stop-color="#7d03a8"/><stop offset="0.967" stop-color="#8808a6"/><stop offset="1.000" stop-color="#8e0ca4"/></linearGradient><linearGradient id="gc9"><stop offset="0.000" stop-color="#ab2494"/><stop offset="0.033" stop-color="#920fa3"/><stop offset="0.067" stop-color="#7e03a8"/><stop offset="0.100" stop-color="#7401a8"/><stop offset="0.133" stop-color="#6e00a8"/><stop offset="0.167" stop-color="#6a00a8"/><stop offset="0.200" stop-color="#6c00a8"/><stop offset="0.233" stop-color="#6f00a8"/><stop offset="0.267" stop-color="#7401a8"/><stop offset="0.300" stop-color="#7801a8"/><stop offset="0.333" stop-color="#7b02a8"/><stop offset="0.367" stop-color="#7d03a8"/><stop offset="0.400" stop-color="#6e00a8"/><stop offset="0.433" stop-color="#6100a7"/><stop offset="0.467" stop-color="#6700a8"/><stop offset="0.500" stop-color="#8004a8"/><stop offset="0.533" stop-color="#8e0ca4"/><stop offset="0.567" stop-color="#910ea3"/><stop offset="0.600" stop-color="#8d0ba5"/><stop offset="0.633" stop-color="#7d03a8"/><stop offset="0.667" stop-color="#6400a7"/><stop offset="0.700" stop-color="#5601a4"/><stop offset="0.733" stop-color="#4c02a1"/><stop offset="0.767" stop-color="#46039f"/><stop offset="0.800" stop-color="#43039e"/><stop offset="0.833" stop-color="#4903a0"/><stop offset="0.867" stop-color="#5601a4"/><stop offset="0.900" stop-color="#6a00a8"/><stop offset="0.933" stop-color="#7d03a8"/><stop offset="0.967" stop-color="#8808a6"/><stop offset="1.000" stop-color="#8e0ca4"/></linearGradient><linearGradient id="gc10"><stop offset="0.000" stop-color="#ab2494"/><stop offset="0.033" stop-color="#920fa3"/><stop offset="0.067" stop-color="#7e03a8"/><stop offset="0.100" stop-color="#7401a8"/><stop offset="0.133" stop-color="#6e00a8"/><stop offset="0.167" stop-color="#6a00a8"/><stop offset="0.200" stop-color="#6c00a8"/><stop offset="0.233" stop-color="#6f00a8"/><stop offset="0.267" stop-color="#7201a8"/><stop offset="0.300" stop-color="#7701a8"/><stop offset="0.333" stop-color="#7d03a8"/><stop offset="0.367" stop-color="#7e03a8"/><stop offset="0.400" stop-color="#7401a8"/><stop offset="0.433" stop-color="#6900a8"/><stop offset="0.467" stop-color="#6f00a8"/><stop offset="0.500" stop-color="#8606a6"/><stop offset="0.533" stop-color="#920fa3"/><stop offset="0.567" stop-color="#9410a2"/><stop offset="0.600" stop-color="#8e0ca4"/><stop offset="0.633" stop-color="#7e03a8"/><stop offset="0.667" stop-color="#6600a7"/><stop offset="0.700" stop-color="#5502a4"/><stop offset="0.733" stop-color="#4b03a1"/><stop offset="0.767" stop-color="#44039e"/><stop offset="0.800" stop-color="#43039e"/><stop offset="0.833" stop-color="#4903a0"/><stop offset="0.867" stop-color="#5601a4"/><stop offset="0.900" stop-color="#6a00a8"/><stop offset="0.933" stop-color="#7d03a8"/><stop offset="0.967" stop-color="#8808a6"/><stop offset="1.000" stop-color="#8e0ca4"/></linearGradient><linearGradient id="gc11"><stop offset="0.000" stop-color="#ac2694"/><stop offset="0.033" stop-color="#9410a2"/><stop offset="0.067" stop-color="#7e03a8"/><stop offset="0.100" stop-color="#7401a8"/><stop offset="0.133" stop-color="#6e00a8"/><stop offset="0.167" stop-color="#6a00a8"/><stop offset="0.200" stop-color="#6c00a8"/><stop offset="0.233" stop-color="#6e00a8"/><stop offset="0.267" stop-color="#7100a8"/><stop offset="0.300" stop-color="#7701a8"/><stop offset="0.333" stop-color="#7d03a8"/><stop offset="0.367" stop-color="#8104a7"/><stop offset="0.400" stop-color="#7a02a8"/><stop offset="0.433" stop-color="#7201a8"/><stop offset="0.467" stop-color="#7a02a8"/><stop offset="0.500" stop-color="#8b0aa5"/><stop offset="0.533" stop-color="#9613a1"/><stop offset="0.567" stop-color="#9613a1"/><stop offset="0.600" stop-color="#8f0da4"/><stop offset="0.633" stop-color="#7e03a8"/><stop offset="0.667" stop-color="#6600a7"/><stop offset="0.700" stop-color="#5502a4"/><stop offset="0.733" stop-color="#4903a0"/><stop offset="0.767" stop-color="#44039e"/><stop offset="0.800" stop-color="#43039e"/><stop offset="0.833" stop-color="#4903a0"/><stop offset="0.867" stop-color="#5601a4"/><stop offset="0.900" stop-color="#6a00a8"/><stop offset="0.933" stop-color="#7d03a8"/><stop offset="0.967" stop-color="#8808a6"/><stop offset="1.000" stop-color="#8e0ca4"/></linearGradient><linearGradient id="gc12"><stop offset="0.000" stop-color="#ad2793"/><stop offset="0.033" stop-color="#9410a2"/><stop offset="0.067" stop-color="#8004a8"/><stop offset="0.100" stop-color="#7401a8"/><stop offset="0.133" stop-color="#6e00a8"/><stop offset="0.167" stop-color="#6a00a8"/><stop offset="0.200" stop-color="#6c00a8"/><stop offset="0.233" stop-color="#6e00a8"/><stop offset="0.267" stop-color="#7100a8"/><stop offset="0.300" stop-color="#7501a8"/><stop offset="0.333" stop-color="#7d03a8"/><stop offset="0.367" stop-color="#8305a7"/><stop offset="0.400" stop-color="#8104a7"/><stop offset="0.433" stop-color="#7e03a8"/><stop offset="0.467" stop-color="#8606a6"/><stop offset="0.500" stop-color="#9410a2"/><stop offset="0.533" stop-color="#9a169f"/><stop offset="0.567" stop-color="#9814a0"/><stop offset="0.600" stop-color="#910ea3"/><stop offset="0.633" stop-color="#8004a8"/><stop offset="0.667" stop-color="#6600a7"/><stop offset="0.700" stop-color="#5302a3"/><stop offset="0.733" stop-color="#48039f"/><stop offset="0.767" stop-color="#43039e"/><stop offset="0.800" stop-color="#43039e"/><stop offset="0.833" stop-color="#4903a0"/><stop offset="0.867" stop-color="#5601a4"/><stop offset="0.900" stop-color="#6a00a8"/><stop offset="0.933" stop-color="#7d03a8"/><stop offset="0.967" stop-color="#8808a6"/><stop offset="1.000" stop-color="#8e0ca4"/></linearGradient><linearGradient id="gc13"><stop offset="0.000" stop-color="#ad2793"/><stop offset="0.033" stop-color="#9511a1"/><stop offset="0.067" stop-color="#8004a8"/><stop offset="0.100" stop-color="#7401a8"/><stop offset="0.133" stop-color="#6e00a8"/><stop offset="0.167" stop-color="#6a00a8"/><stop offset="0.200" stop-color="#6a00a8"/><stop offset="0.233" stop-color="#6e00a8"/><stop offset="0.267" stop-color="#6f00a8"/><stop offset="0.300" stop-color="#7501a8"/><stop offset="0.333" stop-color="#7d03a8"/><stop offset="0.367" stop-color="#8606a6"/><stop offset="0.400" stop-color="#8808a6"/><stop offset="0.433" stop-color="#8a09a5"/><stop offset="0.467" stop-color="#910ea3"/><stop offset="0.500" stop-color="#9c179e"/><stop offset="0.533" stop-color="#9e199d"/><stop offset="0.567" stop-color="#9a169f"/><stop offset="0.600" stop-color="#920fa3"/><stop offset="0.633" stop-color="#8004a8"/><stop offset="0.667" stop-color="#6700a8"/><stop offset="0.700" stop-color="#5302a3"/><stop offset="0.733" stop-color="#46039f"/><stop offset="0.767" stop-color="#43039e"/><stop offset="0.800" stop-color="#43039e"/><stop offset="0.833" stop-color="#4903a0"/><stop offset="0.867" stop-color="#5601a4"/><stop offset="0.900" stop-color="#6a00a8"/><stop offset="0.933" stop-color="#7d03a8"/><stop offset="0.967" stop-color="#8808a6"/><stop offset="1.000" stop-color="#8e0ca4"/></linearGradient><linearGradient id="gc14"><stop offset="0.000" stop-color="#ae2892"/><stop offset="0.033" stop-color="#9511a1"/><stop offset="0.067" stop-color="#8004a8"/><stop offset="0.100" stop-color="#7401a8"/><stop offset="0.133" stop-color="#6e00a8"/><stop offset="0.167" stop-color="#6a00a8"/><stop offset="0.200" stop-color="#6a00a8"/><stop offset="0.233" stop-color="#6c00a8"/><stop offset="0.267" stop-color="#6f00a8"/><stop offset="0.300" stop-color="#7401a8"/><stop offset="0.333" stop-color="#7d03a8"/><stop offset="0.367" stop-color="#8808a6"/><stop offset="0.400" stop-color="#8f0da4"/><stop offset="0.433" stop-color="#9511a1"/><stop offset="0.467" stop-color="#9c179e"/><stop offset="0.500" stop-color="#a21d9a"/><stop offset="0.533" stop-color="#a31e9a"/><stop offset="0.567" stop-color="#9d189d"/><stop offset="0.600" stop-color="#9410a2"/><stop offset="0.633" stop-color="#8104a7"/><stop offset="0.667" stop-color="#6700a8"/><stop offset="0.700" stop-color="#5302a3"/><stop offset="0.733" stop-color="#44039e"/><stop offset="0.767" stop-color="#43039e"/><stop offset="0.800" stop-color="#43039e"/><stop offset="0.833" stop-color="#4903a0"/><stop offset="0.867" stop-color="#5601a4"/><stop offset="0.900" stop-color="#6a00a8"/><stop offset="0.933" stop-color="#7d03a8"/><stop offset="0.967" stop-color="#8808a6"/><stop offset="1.000" stop-color="#8e0ca4"/></linearGradient><linearGradient id="gc15"><stop offset="0.000" stop-color="#b02991"/><stop offset="0.033" stop-color="#9613a1"/><stop offset="0.067" stop-color="#8004a8"/><stop offset="0.100" stop-color="#7401a8"/><stop offset="0.133" stop-color="#6e00a8"/><stop offset="0.167" stop-color="#6a00a8"/><stop offset="0.200" stop-color="#6a00a8"/><stop offset="0.233" stop-color="#6c00a8"/><stop offset="0.267" stop-color="#6e00a8"/><stop offset="0.300" stop-color="#7401a8"/><stop offset="0.333" stop-color="#7e03a8"/><stop offset="0.367" stop-color="#8b0aa5"/><stop offset="0.400" stop-color="#9613a1"/><stop offset="0.433" stop-color="#9e199d"/><stop offset="0.467" stop-color="#a62098"/><stop offset="0.500" stop-color="#aa2395"/><stop offset="0.533" stop-color="#a72197"/><stop offset="0.567" stop-color="#a11b9b"/><stop offset="0.600" stop-color="#9511a1"/><stop offset="0.633" stop-color="#8305a7"/><stop offset="0.667" stop-color="#6900a8"/><stop offset="0.700" stop-color="#5302a3"/><stop offset="0.733" stop-color="#44039e"/><stop offset="0.767" stop-color="#41049d"/><stop offset="0.800" stop-color="#43039e"/><stop offset="0.833" stop-color="#4903a0"/><stop offset="0.867" stop-color="#5601a4"/><stop offset="0.900" stop-color="#6a00a8"/><stop offset="0.933" stop-color="#7d03a8"/><stop offset="0.967" stop-color="#8808a6"/><stop offset="1.000" stop-color="#8e0ca4"/></linearGradient><linearGradient id="gc16"><stop offset="0.000" stop-color="#b02991"/><stop offset="0.033" stop-color="#9814a0"/><stop offset="0.067" stop-color="#8004a8"/><stop offset="0.100" stop-color="#7401a8"/><stop offset="0.133" stop-color="#6e00a8"/><stop offset="0.167" stop-color="#6a00a8"/><stop offset="0.200" stop-color="#6a00a8"/><stop offset="0.233" stop-color="#6a00a8"/><stop offset="0.267" stop-color="#6c00a8"/><stop offset="0.300" stop-color="#7201a8"/><stop offset="0.333" stop-color="#7e03a8"/><stop offset="0.367" stop-color="#8e0ca4"/><stop offset="0.400" stop-color="#9c179e"/><stop offset="0.433" stop-color="#a62098"/><stop offset="0.467" stop-color="#ae2892"/><stop offset="0.500" stop-color="#b02991"/><stop offset="0.533" stop-color="#ab2494"/><stop offset="0.567" stop-color="#a31e9a"/><stop offset="0.600" stop-color="#9613a1"/><stop offset="0.633" stop-color="#8305a7"/><stop offset="0.667" stop-color="#6900a8"/><stop offset="0.700" stop-color="#5102a3"/><stop offset="0.733" stop-color="#44039e"/><stop offset="0.767" stop-color="#41049d"/><stop offset="0.800" stop-color="#43039e"/><stop offset="0.833" stop-color="#4903a0"/><stop offset="0.867" stop-color="#5601a4"/><stop offset="0.900" stop-color="#6a00a8"/><stop offset="0.933" stop-color="#7d03a8"/><stop offset="0.967" stop-color="#8808a6"/><stop offset="1.000" stop-color="#8e0ca4"/></linearGradient><linearGradient id="gc17"><stop offset="0.000" stop-color="#b12a90"/><stop offset="0.033" stop-color="#9814a0"/><stop offset="0.067" stop-color="#8004a8"/><stop offset="0.100" stop-color="#7401a8"/><stop offset="0.133" stop-color="#6c00a8"/><stop offset="0.167" stop-color="#6900a8"/><stop offset="0.200" stop-color="#6900a8"/><stop offset="0.233" stop-color="#6900a8"/><stop offset="0.267" stop-color="#6a00a8"/><stop offset="0.300" stop-color="#7100a8"/><stop offset="0.333" stop-color="#7e03a8"/><stop offset="0.367" stop-color="#910ea3"/><stop offset="0.400" stop-color="#a11b9b"/><stop offset="0.433" stop-color="#ad2793"/><stop offset="0.467" stop-color="#b42e8d"/><stop offset="0.500" stop-color="#b52f8c"/><stop offset="0.533" stop-color="#b02991"/><stop offset="0.567" stop-color="#a62098"/><stop offset="0.600" stop-color="#9814a0"/><stop offset="0.633" stop-color="#8405a7"/><stop offset="0.667" stop-color="#6a00a8"/><stop offset="0.700" stop-color="#5102a3"/><stop offset="0.733" stop-color="#43039e"/><stop offset="0.767" stop-color="#41049d"/><stop offset="0.800" stop-color="#43039e"/><stop offset="0.833" stop-color="#4903a0"/><stop offset="0.867" stop-color="#5601a4"/><stop offset="0.900" stop-color="#6900a8"/><stop offset="0.933" stop-color="#7d03a8"/><stop offset="0.967" stop-color="#8808a6"/><stop offset="1.000" stop-color="#8e0ca4"/></linearGradient><linearGradient id="gc18"><stop offset="0.000" stop-color="#b12a90"/><stop offset="0.033" stop-color="#99159f"/><stop offset="0.067" stop-color="#8004a8"/><stop offset="0.100" stop-color="#7201a8"/><stop offset="0.133" stop-color="#6c00a8"/><stop offset="0.167" stop-color="#6900a8"/><stop offset="0.200" stop-color="#6700a8"/><stop offset="0.233" stop-color="#6700a8"/><stop offset="0.267" stop-color="#6700a8"/><stop offset="0.300" stop-color="#7100a8"/><stop offset="0.333" stop-color="#8004a8"/><stop offset="0.367" stop-color="#9410a2"/><stop offset="0.400" stop-color="#a51f99"/><stop offset="0.433" stop-color="#b22b8f"/><stop offset="0.467" stop-color="#ba3388"/><stop offset="0.500" stop-color="#ba3388"/><stop offset="0.533" stop-color="#b32c8e"/><stop offset="0.567" stop-color="#a82296"/><stop offset="0.600" stop-color="#9a169f"/><stop offset="0.633" stop-color="#8606a6"/><stop offset="0.667" stop-color="#6a00a8"/><stop offset="0.700" stop-color="#5102a3"/><stop offset="0.733" stop-color="#43039e"/><stop offset="0.767" stop-color="#41049d"/><stop offset="0.800" stop-color="#43039e"/><stop offset="0.833" stop-color="#4903a0"/><stop offset="0.867" stop-color="#5601a4"/><stop offset="0.900" stop-color="#6900a8"/><stop offset="0.933" stop-color="#7b02a8"/><stop offset="0.967" stop-color="#8808a6"/><stop offset="1.000" stop-color="#8e0ca4"/></linearGradient><linearGradient id="gc19"><stop offset="0.000" stop-color="#b22b8f"/><stop offset="0.033" stop-color="#99159f"/><stop offset="0.067" stop-color="#8004a8"/><stop offset="0.100" stop-color="#7201a8"/><stop offset="0.133" stop-color="#6900a8"/><stop offset="0.167" stop-color="#6600a7"/><stop offset="0.200" stop-color="#6400a7"/><stop offset="0.233" stop-color="#6400a7"/><stop offset="0.267" stop-color="#6600a7"/><stop offset="0.300" stop-color="#6f00a8"/><stop offset="0.333" stop-color="#8104a7"/><stop offset="0.367" stop-color="#9613a1"/><stop offset="0.400" stop-color="#aa2395"/><stop offset="0.433" stop-color="#b6308b"/><stop offset="0.467" stop-color="#bf3984"/><stop offset="0.500" stop-color="#be3885"/><stop offset="0.533" stop-color="#b6308b"/><stop offset="0.567" stop-color="#ac2694"/><stop offset="0.600" stop-color="#9c179e"/><stop offset="0.633" stop-color="#8707a6"/><stop offset="0.667" stop-color="#6c00a8"/><stop offset="0.700" stop-color="#5102a3"/><stop offset="0.733" stop-color="#43039e"/><stop offset="0.767" stop-color="#41049d"/><stop offset="0.800" stop-color="#43039e"/><stop offset="0.833" stop-color="#48039f"/><stop offset="0.867" stop-color="#5502a4"/><stop offset="0.900" stop-color="#6700a8"/><stop offset="0.933" stop-color="#7a02a8"/><stop offset="0.967" stop-color="#8707a6"/><stop offset="1.000" stop-color="#8e0ca4"/></linearGradient><linearGradient id="gc20"><stop offset="0.000" stop-color="#b22b8f"/><stop offset="0.033" stop-color="#99159f"/><stop offset="0.067" stop-color="#8004a8"/><stop offset="0.100" stop-color="#7100a8"/><stop offset="0.133" stop-color="#6600a7"/><stop offset="0.167" stop-color="#6300a7"/><stop offset="0.200" stop-color="#6100a7"/><stop offset="0.233" stop-color="#6001a6"/><stop offset="0.267" stop-color="#6300a7"/><stop offset="0.300" stop-color="#6e00a8"/><stop offset="0.333" stop-color="#8104a7"/><stop offset="0.367" stop-color="#99159f"/><stop offset="0.400" stop-color="#ad2793"/><stop offset="0.433" stop-color="#bb3488"/><stop offset="0.467" stop-color="#c33d80"/><stop offset="0.500" stop-color="#c23c81"/><stop offset="0.533" stop-color="#ba3388"/><stop offset="0.567" stop-color="#ae2892"/><stop offset="0.600" stop-color="#9e199d"/><stop offset="0.633" stop-color="#8808a6"/><stop offset="0.667" stop-color="#6c00a8"/><stop offset="0.700" stop-color="#5002a2"/><stop offset="0.733" stop-color="#44039e"/><stop offset="0.767" stop-color="#41049d"/><stop offset="0.800" stop-color="#43039e"/><stop offset="0.833" stop-color="#48039f"/><stop offset="0.867" stop-color="#5302a3"/><stop offset="0.900" stop-color="#6600a7"/><stop offset="0.933" stop-color="#7801a8"/><stop offset="0.967" stop-color="#8606a6"/><stop offset="1.000" stop-color="#8e0ca4"/></linearGradient><linearGradient id="gc21"><stop offset="0.000" stop-color="#b22b8f"/><stop offset="0.033" stop-color="#9a169f"/><stop offset="0.067" stop-color="#8104a7"/><stop offset="0.100" stop-color="#6f00a8"/><stop offset="0.133" stop-color="#6300a7"/><stop offset="0.167" stop-color="#5e01a6"/><stop offset="0.200" stop-color="#5c01a6"/><stop offset="0.233" stop-color="#5c01a6"/><stop offset="0.267" stop-color="#6001a6"/><stop offset="0.300" stop-color="#6c00a8"/><stop offset="0.333" stop-color="#8305a7"/><stop offset="0.367" stop-color="#9c179e"/><stop offset="0.400" stop-color="#b12a90"/><stop offset="0.433" stop-color="#bf3984"/><stop offset="0.467" stop-color="#c7427c"/><stop offset="0.500" stop-color="#c6417d"/><stop offset="0.533" stop-color="#bd3786"/><stop offset="0.567" stop-color="#b22b8f"/><stop offset="0.600" stop-color="#a11b9b"/><stop offset="0.633" stop-color="#8a09a5"/><stop offset="0.667" stop-color="#6c00a8"/><stop offset="0.700" stop-color="#5002a2"/><stop offset="0.733" stop-color="#44039e"/><stop offset="0.767" stop-color="#41049d"/><stop offset="0.800" stop-color="#43039e"/><stop offset="0.833" stop-color="#48039f"/><stop offset="0.867" stop-color="#5102a3"/><stop offset="0.900" stop-color="#6400a7"/><stop offset="0.933" stop-color="#7701a8"/><stop offset="0.967" stop-color="#8606a6"/><stop offset="1.000" stop-color="#8e0ca4"/></linearGradient><linearGradient id="gc22"><stop offset="0.000" stop-color="#b32c8e"/><stop offset="0.033" stop-color="#9a169f"/><stop offset="0.067" stop-color="#8104a7"/><stop offset="0.100" stop-color="#6c00a8"/><stop offset="0.133" stop-color="#6001a6"/><stop offset="0.167" stop-color="#5b01a5"/><stop offset="0.200" stop-color="#5801a4"/><stop offset="0.233" stop-color="#5801a4"/><stop offset="0.267" stop-color="#5b01a5"/><stop offset="0.300" stop-color="#6a00a8"/><stop offset="0.333" stop-color="#8405a7"/><stop offset="0.367" stop-color="#9e199d"/><stop offset="0.400" stop-color="#b32c8e"/><stop offset="0.433" stop-color="#c23c81"/><stop offset="0.467" stop-color="#cb4679"/><stop offset="0.500" stop-color="#ca457a"/><stop offset="0.533" stop-color="#c13b82"/><stop offset="0.567" stop-color="#b42e8d"/><stop offset="0.600" stop-color="#a31e9a"/><stop offset="0.633" stop-color="#8b0aa5"/><stop offset="0.667" stop-color="#6e00a8"/><stop offset="0.700" stop-color="#5002a2"/><stop offset="0.733" stop-color="#44039e"/><stop offset="0.767" stop-color="#41049d"/><stop offset="0.800" stop-color="#43039e"/><stop offset="0.833" stop-color="#46039f"/><stop offset="0.867" stop-color="#5002a2"/><stop offset="0.900" stop-color="#6300a7"/><stop offset="0.933" stop-color="#7501a8"/><stop offset="0.967" stop-color="#8405a7"/><stop offset="1.000" stop-color="#8e0ca4"/></linearGradient><linearGradient id="gc23"><stop offset="0.000" stop-color="#b32c8e"/><stop offset="0.033" stop-color="#9c179e"/><stop offset="0.067" stop-color="#8104a7"/><stop offset="0.100" stop-color="#6a00a8"/><stop offset="0.133" stop-color="#5c01a6"/><stop offset="0.167" stop-color="#5601a4"/><stop offset="0.200" stop-color="#5302a3"/><stop offset="0.233" stop-color="#5302a3"/><stop offset="0.267" stop-color="#5801a4"/><stop offset="0.300" stop-color="#6900a8"/><stop offset="0.333" stop-color="#8606a6"/><stop offset="0.367" stop-color="#a11b9b"/><stop offset="0.400" stop-color="#b6308b"/><stop offset="0.433" stop-color="#c5407e"/><stop offset="0.467" stop-color="#cd4a76"/><stop offset="0.500" stop-color="#cc4977"/><stop offset="0.533" stop-color="#c43e7f"/><stop offset="0.567" stop-color="#b7318a"/><stop offset="0.600" stop-color="#a51f99"/><stop offset="0.633" stop-color="#8e0ca4"/><stop offset="0.667" stop-color="#6e00a8"/><stop offset="0.700" stop-color="#5002a2"/><stop offset="0.733" stop-color="#44039e"/><stop offset="0.767" stop-color="#41049d"/><stop offset="0.800" stop-color="#43039e"/><stop offset="0.833" stop-color="#46039f"/><stop offset="0.867" stop-color="#4e02a2"/><stop offset="0.900" stop-color="#6100a7"/><stop offset="0.933" stop-color="#7401a8"/><stop offset="0.967" stop-color="#8305a7"/><stop offset="1.000" stop-color="#8e0ca4"/></linearGradient><linearGradient id="gc24"><stop offset="0.000" stop-color="#b32c8e"/><stop offset="0.033" stop-color="#9d189d"/><stop offset="0.067" stop-color="#8104a7"/><stop offset="0.100" stop-color="#6a00a8"/><stop offset="0.133" stop-color="#5b01a5"/><stop offset="0.167" stop-color="#5302a3"/><stop offset="0.200" stop-color="#5002a2"/><stop offset="0.233" stop-color="#5002a2"/><stop offset="0.267" stop-color="#5601a4"/><stop offset="0.300" stop-color="#6700a8"/><stop offset="0.333" stop-color="#8707a6"/><stop offset="0.367" stop-color="#a31e9a"/><stop offset="0.400" stop-color="#b83289"/><stop offset="0.433" stop-color="#c8437b"/><stop offset="0.467" stop-color="#d04d73"/><stop offset="0.500" stop-color="#cf4c74"/><stop offset="0.533" stop-color="#c7427c"/><stop offset="0.567" stop-color="#ba3388"/><stop offset="0.600" stop-color="#a72197"/><stop offset="0.633" stop-color="#8f0da4"/><stop offset="0.667" stop-color="#6f00a8"/><stop offset="0.700" stop-color="#4e02a2"/><stop offset="0.733" stop-color="#44039e"/><stop offset="0.767" stop-color="#41049d"/><stop offset="0.800" stop-color="#41049d"/><stop offset="0.833" stop-color="#46039f"/><stop offset="0.867" stop-color="#4c02a1"/><stop offset="0.900" stop-color="#6001a6"/><stop offset="0.933" stop-color="#7201a8"/><stop offset="0.967" stop-color="#8305a7"/><stop offset="1.000" stop-color="#8e0ca4"/></linearGradient><linearGradient id="gc25"><stop offset="0.000" stop-color="#b42e8d"/><stop offset="0.033" stop-color="#9d189d"/><stop offset="0.067" stop-color="#8305a7"/><stop offset="0.100" stop-color="#6900a8"/><stop offset="0.133" stop-color="#5801a4"/><stop offset="0.167" stop-color="#5102a3"/><stop offset="0.200" stop-color="#4c02a1"/><stop offset="0.233" stop-color="#4c02a1"/><stop offset="0.267" stop-color="#5302a3"/><stop offset="0.300" stop-color="#6700a8"/><stop offset="0.333" stop-color="#8808a6"/><stop offset="0.367" stop-color="#a62098"/><stop offset="0.400" stop-color="#bb3488"/><stop offset="0.433" stop-color="#ca457a"/><stop offset="0.467" stop-color="#d35171"/><stop offset="0.500" stop-color="#d24f71"/><stop offset="0.533" stop-color="#ca457a"/><stop offset="0.567" stop-color="#bd3786"/><stop offset="0.600" stop-color="#aa2395"/><stop offset="0.633" stop-color="#920fa3"/><stop offset="0.667" stop-color="#6f00a8"/><stop offset="0.700" stop-color="#4e02a2"/><stop offset="0.733" stop-color="#44039e"/><stop offset="0.767" stop-color="#43039e"/><stop offset="0.800" stop-color="#41049d"/><stop offset="0.833" stop-color="#44039e"/><stop offset="0.867" stop-color="#4c02a1"/><stop offset="0.900" stop-color="#5e01a6"/><stop offset="0.933" stop-color="#7201a8"/><stop offset="0.967" stop-color="#8305a7"/><stop offset="1.000" stop-color="#8e0ca4"/></linearGradient><linearGradient id="gc26"><stop offset="0.000" stop-color="#b42e8d"/><stop offset="0.033" stop-color="#9e199d"/><stop offset="0.067" stop-color="#8305a7"/><stop offset="0.100" stop-color="#6900a8"/><stop offset="0.133" stop-color="#5801a4"/><stop offset="0.167" stop-color="#4e02a2"/><stop offset="0.200" stop-color="#4b03a1"/><stop offset="0.233" stop-color="#4b03a1"/><stop offset="0.267" stop-color="#5102a3"/><stop offset="0.300" stop-color="#6600a7"/><stop offset="0.333" stop-color="#8808a6"/><stop offset="0.367" stop-color="#a72197"/><stop offset="0.400" stop-color="#bd3786"/><stop offset="0.433" stop-color="#cc4778"/><stop offset="0.467" stop-color="#d5536f"/><stop offset="0.500" stop-color="#d45270"/><stop offset="0.533" stop-color="#cc4778"/><stop offset="0.567" stop-color="#bf3984"/><stop offset="0.600" stop-color="#ad2793"/><stop offset="0.633" stop-color="#9410a2"/><stop offset="0.667" stop-color="#7100a8"/><stop offset="0.700" stop-color="#5002a2"/><stop offset="0.733" stop-color="#44039e"/><stop offset="0.767" stop-color="#43039e"/><stop offset="0.800" stop-color="#41049d"/><stop offset="0.833" stop-color="#44039e"/><stop offset="0.867" stop-color="#4c02a1"/><stop offset="0.900" stop-color="#5e01a6"/><stop offset="0.933" stop-color="#7201a8"/><stop offset="0.967" stop-color="#8305a7"/><stop offset="1.000" stop-color="#8e0ca4"/></linearGradient><linearGradient id="gc27"><stop offset="0.000" stop-color="#b52f8c"/><stop offset="0.033" stop-color="#a11b9b"/><stop offset="0.067" stop-color="#8405a7"/><stop offset="0.100" stop-color="#6900a8"/><stop offset="0.133" stop-color="#5601a4"/><stop offset="0.167" stop-color="#4c02a1"/><stop offset="0.200" stop-color="#4903a0"/><stop offset="0.233" stop-color="#4903a0"/><stop offset="0.267" stop-color="#5002a2"/><stop offset="0.300" stop-color="#6600a7"/><stop offset="0.333" stop-color="#8a09a5"/><stop offset="0.367" stop-color="#a82296"/><stop offset="0.400" stop-color="#bf3984"/><stop offset="0.433" stop-color="#cd4a76"/><stop offset="0.467" stop-color="#d6556d"/><stop offset="0.500" stop-color="#d6556d"/><stop offset="0.533" stop-color="#ce4b75"/><stop offset="0.567" stop-color="#c23c81"/><stop offset="0.600" stop-color="#b02991"/><stop offset="0.633" stop-color="#9613a1"/><stop offset="0.667" stop-color="#7201a8"/><stop offset="0.700" stop-color="#5002a2"/><stop offset="0.733" stop-color="#46039f"/><stop offset="0.767" stop-color="#43039e"/><stop offset="0.800" stop-color="#41049d"/><stop offset="0.833" stop-color="#44039e"/><stop offset="0.867" stop-color="#4c02a1"/><stop offset="0.900" stop-color="#6001a6"/><stop offset="0.933" stop-color="#7201a8"/><stop offset="0.967" stop-color="#8305a7"/><stop offset="1.000" stop-color="#8f0da4"/></linearGradient><linearGradient id="gc28"><stop offset="0.000" stop-color="#b6308b"/><stop offset="0.033" stop-color="#a21d9a"/><stop offset="0.067" stop-color="#8707a6"/><stop offset="0.100" stop-color="#6900a8"/><stop offset="0.133" stop-color="#5601a4"/><stop offset="0.167" stop-color="#4c02a1"/><stop offset="0.200" stop-color="#48039f"/><stop offset="0.233" stop-color="#48039f"/><stop offset="0.267" stop-color="#4e02a2"/><stop offset="0.300" stop-color="#6600a7"/><stop offset="0.333" stop-color="#8a09a5"/><stop offset="0.367" stop-color="#aa2395"/><stop offset="0.400" stop-color="#c03a83"/><stop offset="0.433" stop-color="#cf4c74"/><stop offset="0.467" stop-color="#d8576b"/><stop offset="0.500" stop-color="#d8576b"/><stop offset="0.533" stop-color="#d14e72"/><stop offset="0.567" stop-color="#c43e7f"/><stop offset="0.600" stop-color="#b32c8e"/><stop offset="0.633" stop-color="#99159f"/><stop offset="0.667" stop-color="#7501a8"/><stop offset="0.700" stop-color="#5302a3"/><stop offset="0.733" stop-color="#46039f"/><stop offset="0.767" stop-color="#43039e"/><stop offset="0.800" stop-color="#41049d"/><stop offset="0.833" stop-color="#44039e"/><stop offset="0.867" stop-color="#4c02a1"/><stop offset="0.900" stop-color="#6001a6"/><stop offset="0.933" stop-color="#7401a8"/><stop offset="0.967" stop-color="#8405a7"/><stop offset="1.000" stop-color="#910ea3"/></linearGradient><linearGradient id="gc29"><stop offset="0.000" stop-color="#b7318a"/><stop offset="0.033" stop-color="#a51f99"/><stop offset="0.067" stop-color="#8a09a5"/><stop offset="0.100" stop-color="#6a00a8"/><stop offset="0.133" stop-color="#5601a4"/><stop offset="0.167" stop-color="#4b03a1"/><stop offset="0.200" stop-color="#46039f"/><stop offset="0.233" stop-color="#46039f"/><stop offset="0.267" stop-color="#4e02a2"/><stop offset="0.300" stop-color="#6600a7"/><stop offset="0.333" stop-color="#8b0aa5"/><stop offset="0.367" stop-color="#ab2494"/><stop offset="0.400" stop-color="#c23c81"/><stop offset="0.433" stop-color="#d14e72"/><stop offset="0.467" stop-color="#da5a6a"/><stop offset="0.500" stop-color="#da5a6a"/><stop offset="0.533" stop-color="#d35171"/><stop offset="0.567" stop-color="#c7427c"/><stop offset="0.600" stop-color="#b52f8c"/><stop offset="0.633" stop-color="#9d189d"/><stop offset="0.667" stop-color="#7801a8"/><stop offset="0.700" stop-color="#5502a4"/><stop offset="0.733" stop-color="#46039f"/><stop offset="0.767" stop-color="#43039e"/><stop offset="0.800" stop-color="#41049d"/><stop offset="0.833" stop-color="#44039e"/><stop offset="0.867" stop-color="#4e02a2"/><stop offset="0.900" stop-color="#6100a7"/><stop offset="0.933" stop-color="#7501a8"/><stop offset="0.967" stop-color="#8606a6"/><stop offset="1.000" stop-color="#920fa3"/></linearGradient><linearGradient id="gc30"><stop offset="0.000" stop-color="#b83289"/><stop offset="0.033" stop-color="#a72197"/><stop offset="0.067" stop-color="#8d0ba5"/><stop offset="0.100" stop-color="#6c00a8"/><stop offset="0.133" stop-color="#5502a4"/><stop offset="0.167" stop-color="#4903a0"/><stop offset="0.200" stop-color="#46039f"/><stop offset="0.233" stop-color="#44039e"/><stop offset="0.267" stop-color="#4c02a1"/><stop offset="0.300" stop-color="#6600a7"/><stop offset="0.333" stop-color="#8b0aa5"/><stop offset="0.367" stop-color="#ac2694"/><stop offset="0.400" stop-color="#c33d80"/><stop offset="0.433" stop-color="#d35171"/><stop offset="0.467" stop-color="#da5b69"/><stop offset="0.500" stop-color="#da5b69"/><stop offset="0.533" stop-color="#d5546e"/><stop offset="0.567" stop-color="#ca457a"/><stop offset="0.600" stop-color="#b83289"/><stop offset="0.633" stop-color="#a01a9c"/><stop offset="0.667" stop-color="#7b02a8"/><stop offset="0.700" stop-color="#5801a4"/><stop offset="0.733" stop-color="#48039f"/><stop offset="0.767" stop-color="#43039e"/><stop offset="0.800" stop-color="#41049d"/><stop offset="0.833" stop-color="#44039e"/><stop offset="0.867" stop-color="#4e02a2"/><stop offset="0.900" stop-color="#6300a7"/><stop offset="0.933" stop-color="#7701a8"/><stop offset="0.967" stop-color="#8808a6"/><stop offset="1.000" stop-color="#9511a1"/></linearGradient><linearGradient id="gc31"><stop offset="0.000" stop-color="#ba3388"/><stop offset="0.033" stop-color="#aa2395"/><stop offset="0.067" stop-color="#8f0da4"/><stop offset="0.100" stop-color="#6c00a8"/><stop offset="0.133" stop-color="#5502a4"/><stop offset="0.167" stop-color="#4903a0"/><stop offset="0.200" stop-color="#44039e"/><stop offset="0.233" stop-color="#44039e"/><stop offset="0.267" stop-color="#4c02a1"/><stop offset="0.300" stop-color="#6600a7"/><stop offset="0.333" stop-color="#8b0aa5"/><stop offset="0.367" stop-color="#ad2793"/><stop offset="0.400" stop-color="#c43e7f"/><stop offset="0.433" stop-color="#d45270"/><stop offset="0.467" stop-color="#dc5d67"/><stop offset="0.500" stop-color="#dc5d67"/><stop offset="0.533" stop-color="#d7566c"/><stop offset="0.567" stop-color="#cc4778"/><stop offset="0.600" stop-color="#bc3587"/><stop offset="0.633" stop-color="#a31e9a"/><stop offset="0.667" stop-color="#7e03a8"/><stop offset="0.700" stop-color="#5901a5"/><stop offset="0.733" stop-color="#48039f"/><stop offset="0.767" stop-color="#43039e"/><stop offset="0.800" stop-color="#41049d"/><stop offset="0.833" stop-color="#44039e"/><stop offset="0.867" stop-color="#5002a2"/><stop offset="0.900" stop-color="#6400a7"/><stop offset="0.933" stop-color="#7801a8"/><stop offset="0.967" stop-color="#8a09a5"/><stop offset="1.000" stop-color="#9814a0"/></linearGradient><linearGradient id="gc32"><stop offset="0.000" stop-color="#bb3488"/><stop offset="0.033" stop-color="#ac2694"/><stop offset="0.067" stop-color="#910ea3"/><stop offset="0.100" stop-color="#6e00a8"/><stop offset="0.133" stop-color="#5502a4"/><stop offset="0.167" stop-color="#48039f"/><stop offset="0.200" stop-color="#44039e"/><stop offset="0.233" stop-color="#43039e"/><stop offset="0.267" stop-color="#4b03a1"/><stop offset="0.300" stop-color="#6600a7"/><stop offset="0.333" stop-color="#8d0ba5"/><stop offset="0.367" stop-color="#ae2892"/><stop offset="0.400" stop-color="#c5407e"/><stop offset="0.433" stop-color="#d5536f"/><stop offset="0.467" stop-color="#dd5e66"/><stop offset="0.500" stop-color="#de5f65"/><stop offset="0.533" stop-color="#da5a6a"/><stop offset="0.567" stop-color="#ce4b75"/><stop offset="0.600" stop-color="#be3885"/><stop offset="0.633" stop-color="#a51f99"/><stop offset="0.667" stop-color="#8004a8"/><stop offset="0.700" stop-color="#5b01a5"/><stop offset="0.733" stop-color="#48039f"/><stop offset="0.767" stop-color="#43039e"/><stop offset="0.800" stop-color="#41049d"/><stop offset="0.833" stop-color="#44039e"/><stop offset="0.867" stop-color="#5002a2"/><stop offset="0.900" stop-color="#6400a7"/><stop offset="0.933" stop-color="#7a02a8"/><stop offset="0.967" stop-color="#8b0aa5"/><stop offset="1.000" stop-color="#99159f"/></linearGradient><linearGradient id="gc33"><stop offset="0.000" stop-color="#bc3587"/><stop offset="0.033" stop-color="#ae2892"/><stop offset="0.067" stop-color="#9410a2"/><stop offset="0.100" stop-color="#6e00a8"/><stop offset="0.133" stop-color="#5502a4"/><stop offset="0.167" stop-color="#48039f"/><stop offset="0.200" stop-color="#43039e"/><stop offset="0.233" stop-color="#43039e"/><stop offset="0.267" stop-color="#4b03a1"/><stop offset="0.300" stop-color="#6600a7"/><stop offset="0.333" stop-color="#8d0ba5"/><stop offset="0.367" stop-color="#ae2892"/><stop offset="0.400" stop-color="#c6417d"/><stop offset="0.433" stop-color="#d6556d"/><stop offset="0.467" stop-color="#de6164"/><stop offset="0.500" stop-color="#df6263"/><stop offset="0.533" stop-color="#db5c68"/><stop offset="0.567" stop-color="#d04d73"/><stop offset="0.600" stop-color="#c03a83"/><stop offset="0.633" stop-color="#a72197"/><stop offset="0.667" stop-color="#8305a7"/><stop offset="0.700" stop-color="#5c01a6"/><stop offset="0.733" stop-color="#48039f"/><stop offset="0.767" stop-color="#43039e"/><stop offset="0.800" stop-color="#41049d"/><stop offset="0.833" stop-color="#43039e"/><stop offset="0.867" stop-color="#5002a2"/><stop offset="0.900" stop-color="#6600a7"/><stop offset="0.933" stop-color="#7a02a8"/><stop offset="0.967" stop-color="#8d0ba5"/><stop offset="1.000" stop-color="#9c179e"/></linearGradient><linearGradient id="gc34"><stop offset="0.000" stop-color="#bd3786"/><stop offset="0.033" stop-color="#b12a90"/><stop offset="0.067" stop-color="#9613a1"/><stop offset="0.100" stop-color="#6f00a8"/><stop offset="0.133" stop-color="#5502a4"/><stop offset="0.167" stop-color="#48039f"/><stop offset="0.200" stop-color="#43039e"/><stop offset="0.233" stop-color="#43039e"/><stop offset="0.267" stop-color="#4903a0"/><stop offset="0.300" stop-color="#6400a7"/><stop offset="0.333" stop-color="#8d0ba5"/><stop offset="0.367" stop-color="#b02991"/><stop offset="0.400" stop-color="#c6417d"/><stop offset="0.433" stop-color="#d7566c"/><stop offset="0.467" stop-color="#df6263"/><stop offset="0.500" stop-color="#e16462"/><stop offset="0.533" stop-color="#de5f65"/><stop offset="0.567" stop-color="#d24f71"/><stop offset="0.600" stop-color="#c13b82"/><stop offset="0.633" stop-color="#a72197"/><stop offset="0.667" stop-color="#8305a7"/><stop offset="0.700" stop-color="#5e01a6"/><stop offset="0.733" stop-color="#48039f"/><stop offset="0.767" stop-color="#43039e"/><stop offset="0.800" stop-color="#41049d"/><stop offset="0.833" stop-color="#43039e"/><stop offset="0.867" stop-color="#5002a2"/><stop offset="0.900" stop-color="#6600a7"/><stop offset="0.933" stop-color="#7a02a8"/><stop offset="0.967" stop-color="#8e0ca4"/><stop offset="1.000" stop-color="#9d189d"/></linearGradient><linearGradient id="gc35"><stop offset="0.000" stop-color="#be3885"/><stop offset="0.033" stop-color="#b22b8f"/><stop offset="0.067" stop-color="#9814a0"/><stop offset="0.100" stop-color="#7100a8"/><stop offset="0.133" stop-color="#5502a4"/><stop offset="0.167" stop-color="#46039f"/><stop offset="0.200" stop-color="#43039e"/><stop offset="0.233" stop-color="#41049d"/><stop offset="0.267" stop-color="#4903a0"/><stop offset="0.300" stop-color="#6400a7"/><stop offset="0.333" stop-color="#8b0aa5"/><stop offset="0.367" stop-color="#b02991"/><stop offset="0.400" stop-color="#c7427c"/><stop offset="0.433" stop-color="#d8576b"/><stop offset="0.467" stop-color="#e16462"/><stop offset="0.500" stop-color="#e26660"/><stop offset="0.533" stop-color="#df6263"/><stop offset="0.567" stop-color="#d5536f"/><stop offset="0.600" stop-color="#c23c81"/><stop offset="0.633" stop-color="#a72197"/><stop offset="0.667" stop-color="#8104a7"/><stop offset="0.700" stop-color="#5c01a6"/><stop offset="0.733" stop-color="#48039f"/><stop offset="0.767" stop-color="#43039e"/><stop offset="0.800" stop-color="#41049d"/><stop offset="0.833" stop-color="#43039e"/><stop offset="0.867" stop-color="#5002a2"/><stop offset="0.900" stop-color="#6600a7"/><stop offset="0.933" stop-color="#7a02a8"/><stop offset="0.967" stop-color="#8e0ca4"/><stop offset="1.000" stop-color="#9e199d"/></linearGradient><linearGradient id="gc36"><stop offset="0.000" stop-color="#bf3984"/><stop offset="0.033" stop-color="#b32c8e"/><stop offset="0.067" stop-color="#99159f"/><stop offset="0.100" stop-color="#7100a8"/><stop offset="0.133" stop-color="#5502a4"/><stop offset="0.167" stop-color="#46039f"/><stop offset="0.200" stop-color="#43039e"/><stop offset="0.233" stop-color="#41049d"/><stop offset="0.267" stop-color="#4903a0"/><stop offset="0.300" stop-color="#6300a7"/><stop offset="0.333" stop-color="#8b0aa5"/><stop offset="0.367" stop-color="#ae2892"/><stop offset="0.400" stop-color="#c7427c"/><stop offset="0.433" stop-color="#d9586a"/><stop offset="0.467" stop-color="#e26660"/><stop offset="0.500" stop-color="#e4695e"/><stop offset="0.533" stop-color="#e26561"/><stop offset="0.567" stop-color="#d6556d"/><stop offset="0.600" stop-color="#c23c81"/><stop offset="0.633" stop-color="#a51f99"/><stop offset="0.667" stop-color="#7e03a8"/><stop offset="0.700" stop-color="#5b01a5"/><stop offset="0.733" stop-color="#46039f"/><stop offset="0.767" stop-color="#43039e"/><stop offset="0.800" stop-color="#41049d"/><stop offset="0.833" stop-color="#41049d"/><stop offset="0.867" stop-color="#4e02a2"/><stop offset="0.900" stop-color="#6400a7"/><stop offset="0.933" stop-color="#7a02a8"/><stop offset="0.967" stop-color="#8e0ca4"/><stop offset="1.000" stop-color="#a01a9c"/></linearGradient><linearGradient id="gc37"><stop offset="0.000" stop-color="#c03a83"/><stop offset="0.033" stop-color="#b42e8d"/><stop offset="0.067" stop-color="#9a169f"/><stop offset="0.100" stop-color="#7201a8"/><stop offset="0.133" stop-color="#5502a4"/><stop offset="0.167" stop-color="#46039f"/><stop offset="0.200" stop-color="#43039e"/><stop offset="0.233" stop-color="#41049d"/><stop offset="0.267" stop-color="#48039f"/><stop offset="0.300" stop-color="#6100a7"/><stop offset="0.333" stop-color="#8a09a5"/><stop offset="0.367" stop-color="#ae2892"/><stop offset="0.400" stop-color="#c7427c"/><stop offset="0.433" stop-color="#da5a6a"/><stop offset="0.467" stop-color="#e4695e"/><stop offset="0.500" stop-color="#e56b5d"/><stop offset="0.533" stop-color="#e3685f"/><stop offset="0.567" stop-color="#d8576b"/><stop offset="0.600" stop-color="#c23c81"/><stop offset="0.633" stop-color="#a21d9a"/><stop offset="0.667" stop-color="#7b02a8"/><stop offset="0.700" stop-color="#5801a4"/><stop offset="0.733" stop-color="#46039f"/><stop offset="0.767" stop-color="#41049d"/><stop offset="0.800" stop-color="#3f049c"/><stop offset="0.833" stop-color="#41049d"/><stop offset="0.867" stop-color="#4c02a1"/><stop offset="0.900" stop-color="#6300a7"/><stop offset="0.933" stop-color="#7801a8"/><stop offset="0.967" stop-color="#8e0ca4"/><stop offset="1.000" stop-color="#a01a9c"/></linearGradient><linearGradient id="gc38"><stop offset="0.000" stop-color="#c23c81"/><stop offset="0.033" stop-color="#b6308b"/><stop offset="0.067" stop-color="#9c179e"/><stop offset="0.100" stop-color="#7201a8"/><stop offset="0.133" stop-color="#5502a4"/><stop offset="0.167" stop-color="#44039e"/><stop offset="0.200" stop-color="#43039e"/><stop offset="0.233" stop-color="#41049d"/><stop offset="0.267" stop-color="#48039f"/><stop offset="0.300" stop-color="#6001a6"/><stop offset="0.333" stop-color="#8808a6"/><stop offset="0.367" stop-color="#ae2892"/><stop offset="0.400" stop-color="#c8437b"/><stop offset="0.433" stop-color="#da5b69"/><stop offset="0.467" stop-color="#e56b5d"/><stop offset="0.500" stop-color="#e76f5a"/><stop offset="0.533" stop-color="#e56a5d"/><stop offset="0.567" stop-color="#da5a6a"/><stop offset="0.600" stop-color="#c23c81"/><stop offset="0.633" stop-color="#a01a9c"/><stop offset="0.667" stop-color="#7501a8"/><stop offset="0.700" stop-color="#5502a4"/><stop offset="0.733" stop-color="#44039e"/><stop offset="0.767" stop-color="#3f049c"/><stop offset="0.800" stop-color="#3e049c"/><stop offset="0.833" stop-color="#3f049c"/><stop offset="0.867" stop-color="#4b03a1"/><stop offset="0.900" stop-color="#6100a7"/><stop offset="0.933" stop-color="#7801a8"/><stop offset="0.967" stop-color="#8e0ca4"/><stop offset="1.000" stop-color="#a11b9b"/></linearGradient><linearGradient id="gc39"><stop offset="0.000" stop-color="#c33d80"/><stop offset="0.033" stop-color="#b7318a"/><stop offset="0.067" stop-color="#9c179e"/><stop offset="0.100" stop-color="#7401a8"/><stop offset="0.133" stop-color="#5502a4"/><stop offset="0.167" stop-color="#44039e"/><stop offset="0.200" stop-color="#41049d"/><stop offset="0.233" stop-color="#41049d"/><stop offset="0.267" stop-color="#46039f"/><stop offset="0.300" stop-color="#5e01a6"/><stop offset="0.333" stop-color="#8606a6"/><stop offset="0.367" stop-color="#ad2793"/><stop offset="0.400" stop-color="#c8437b"/><stop offset="0.433" stop-color="#da5b69"/><stop offset="0.467" stop-color="#e76e5b"/><stop offset="0.500" stop-color="#e97158"/><stop offset="0.533" stop-color="#e76e5b"/><stop offset="0.567" stop-color="#dc5d67"/><stop offset="0.600" stop-color="#c23c81"/><stop offset="0.633" stop-color="#9c179e"/><stop offset="0.667" stop-color="#7100a8"/><stop offset="0.700" stop-color="#5002a2"/><stop offset="0.733" stop-color="#43039e"/><stop offset="0.767" stop-color="#3e049c"/><stop offset="0.800" stop-color="#3c049b"/><stop offset="0.833" stop-color="#3e049c"/><stop offset="0.867" stop-color="#4903a0"/><stop offset="0.900" stop-color="#6001a6"/><stop offset="0.933" stop-color="#7701a8"/><stop offset="0.967" stop-color="#8e0ca4"/><stop offset="1.000" stop-color="#a21d9a"/></linearGradient><linearGradient id="gc40"><stop offset="0.000" stop-color="#c5407e"/><stop offset="0.033" stop-color="#b83289"/><stop offset="0.067" stop-color="#9d189d"/><stop offset="0.100" stop-color="#7501a8"/><stop offset="0.133" stop-color="#5502a4"/><stop offset="0.167" stop-color="#44039e"/><stop offset="0.200" stop-color="#41049d"/><stop offset="0.233" stop-color="#41049d"/><stop offset="0.267" stop-color="#46039f"/><stop offset="0.300" stop-color="#5c01a6"/><stop offset="0.333" stop-color="#8405a7"/><stop offset="0.367" stop-color="#ad2793"/><stop offset="0.400" stop-color="#c8437b"/><stop offset="0.433" stop-color="#db5c68"/><stop offset="0.467" stop-color="#e87059"/><stop offset="0.500" stop-color="#ea7457"/><stop offset="0.533" stop-color="#e87059"/><stop offset="0.567" stop-color="#de5f65"/><stop offset="0.600" stop-color="#c23c81"/><stop offset="0.633" stop-color="#9814a0"/><stop offset="0.667" stop-color="#6a00a8"/><stop offset="0.700" stop-color="#4c02a1"/><stop offset="0.733" stop-color="#41049d"/><stop offset="0.767" stop-color="#3e049c"/><stop offset="0.800" stop-color="#3c049b"/><stop offset="0.833" stop-color="#3c049b"/><stop offset="0.867" stop-color="#48039f"/><stop offset="0.900" stop-color="#5e01a6"/><stop offset="0.933" stop-color="#7501a8"/><stop offset="0.967" stop-color="#8e0ca4"/><stop offset="1.000" stop-color="#a21d9a"/></linearGradient><linearGradient id="gc41"><stop offset="0.000" stop-color="#c6417d"/><stop offset="0.033" stop-color="#ba3388"/><stop offset="0.067" stop-color="#9e199d"/><stop offset="0.100" stop-color="#7501a8"/><stop offset="0.133" stop-color="#5502a4"/><stop offset="0.167" stop-color="#44039e"/><stop offset="0.200" stop-color="#41049d"/><stop offset="0.233" stop-color="#41049d"/><stop offset="0.267" stop-color="#44039e"/><stop offset="0.300" stop-color="#5901a5"/><stop offset="0.333" stop-color="#8104a7"/><stop offset="0.367" stop-color="#ac2694"/><stop offset="0.400" stop-color="#c8437b"/><stop offset="0.433" stop-color="#dc5d67"/><stop offset="0.467" stop-color="#e97158"/><stop offset="0.500" stop-color="#ec7754"/><stop offset="0.533" stop-color="#ea7457"/><stop offset="0.567" stop-color="#df6263"/><stop offset="0.600" stop-color="#c23c81"/><stop offset="0.633" stop-color="#9511a1"/><stop offset="0.667" stop-color="#6600a7"/><stop offset="0.700" stop-color="#4903a0"/><stop offset="0.733" stop-color="#3f049c"/><stop offset="0.767" stop-color="#3c049b"/><stop offset="0.800" stop-color="#3a049a"/><stop offset="0.833" stop-color="#3c049b"/><stop offset="0.867" stop-color="#48039f"/><stop offset="0.900" stop-color="#5c01a6"/><stop offset="0.933" stop-color="#7501a8"/><stop offset="0.967" stop-color="#8e0ca4"/><stop offset="1.000" stop-color="#a31e9a"/></linearGradient><linearGradient id="gc42"><stop offset="0.000" stop-color="#c8437b"/><stop offset="0.033" stop-color="#bb3488"/><stop offset="0.067" stop-color="#a01a9c"/><stop offset="0.100" stop-color="#7701a8"/><stop offset="0.133" stop-color="#5502a4"/><stop offset="0.167" stop-color="#44039e"/><stop offset="0.200" stop-color="#41049d"/><stop offset="0.233" stop-color="#41049d"/><stop offset="0.267" stop-color="#44039e"/><stop offset="0.300" stop-color="#5801a4"/><stop offset="0.333" stop-color="#7e03a8"/><stop offset="0.367" stop-color="#ab2494"/><stop offset="0.400" stop-color="#c8437b"/><stop offset="0.433" stop-color="#dc5d67"/><stop offset="0.467" stop-color="#ea7457"/><stop offset="0.500" stop-color="#ed7a52"/><stop offset="0.533" stop-color="#eb7655"/><stop offset="0.567" stop-color="#e16462"/><stop offset="0.600" stop-color="#c33d80"/><stop offset="0.633" stop-color="#920fa3"/><stop offset="0.667" stop-color="#6300a7"/><stop offset="0.700" stop-color="#46039f"/><stop offset="0.733" stop-color="#3e049c"/><stop offset="0.767" stop-color="#3c049b"/><stop offset="0.800" stop-color="#3a049a"/><stop offset="0.833" stop-color="#3a049a"/><stop offset="0.867" stop-color="#46039f"/><stop offset="0.900" stop-color="#5c01a6"/><stop offset="0.933" stop-color="#7501a8"/><stop offset="0.967" stop-color="#8f0da4"/><stop offset="1.000" stop-color="#a51f99"/></linearGradient><linearGradient id="gc43"><stop offset="0.000" stop-color="#c9447a"/><stop offset="0.033" stop-color="#bc3587"/><stop offset="0.067" stop-color="#a01a9c"/><stop offset="0.100" stop-color="#7701a8"/><stop offset="0.133" stop-color="#5502a4"/><stop offset="0.167" stop-color="#44039e"/><stop offset="0.200" stop-color="#41049d"/><stop offset="0.233" stop-color="#41049d"/><stop offset="0.267" stop-color="#44039e"/><stop offset="0.300" stop-color="#5601a4"/><stop offset="0.333" stop-color="#7d03a8"/><stop offset="0.367" stop-color="#aa2395"/><stop offset="0.400" stop-color="#c8437b"/><stop offset="0.433" stop-color="#dc5d67"/><stop offset="0.467" stop-color="#eb7556"/><stop offset="0.500" stop-color="#ef7c51"/><stop offset="0.533" stop-color="#ed7953"/><stop offset="0.567" stop-color="#e26660"/><stop offset="0.600" stop-color="#c33d80"/><stop offset="0.633" stop-color="#910ea3"/><stop offset="0.667" stop-color="#6001a6"/><stop offset="0.700" stop-color="#44039e"/><stop offset="0.733" stop-color="#3e049c"/><stop offset="0.767" stop-color="#3a049a"/><stop offset="0.800" stop-color="#38049a"/><stop offset="0.833" stop-color="#3a049a"/><stop offset="0.867" stop-color="#46039f"/><stop offset="0.900" stop-color="#5c01a6"/><stop offset="0.933" stop-color="#7501a8"/><stop offset="0.967" stop-color="#8f0da4"/><stop offset="1.000" stop-color="#a62098"/></linearGradient><linearGradient id="gc44"><stop offset="0.000" stop-color="#cb4679"/><stop offset="0.033" stop-color="#bd3786"/><stop offset="0.067" stop-color="#a11b9b"/><stop offset="0.100" stop-color="#7701a8"/><stop offset="0.133" stop-color="#5502a4"/><stop offset="0.167" stop-color="#43039e"/><stop offset="0.200" stop-color="#41049d"/><stop offset="0.233" stop-color="#41049d"/><stop offset="0.267" stop-color="#43039e"/><stop offset="0.300" stop-color="#5302a3"/><stop offset="0.333" stop-color="#7a02a8"/><stop offset="0.367" stop-color="#a82296"/><stop offset="0.400" stop-color="#c7427c"/><stop offset="0.433" stop-color="#dc5d67"/><stop offset="0.467" stop-color="#eb7655"/><stop offset="0.500" stop-color="#f07f4f"/><stop offset="0.533" stop-color="#ef7c51"/><stop offset="0.567" stop-color="#e4695e"/><stop offset="0.600" stop-color="#c43e7f"/><stop offset="0.633" stop-color="#910ea3"/><stop offset="0.667" stop-color="#5e01a6"/><stop offset="0.700" stop-color="#44039e"/><stop offset="0.733" stop-color="#3e049c"/><stop offset="0.767" stop-color="#3a049a"/><stop offset="0.800" stop-color="#38049a"/><stop offset="0.833" stop-color="#3a049a"/><stop offset="0.867" stop-color="#46039f"/><stop offset="0.900" stop-color="#5c01a6"/><stop offset="0.933" stop-color="#7501a8"/><stop offset="0.967" stop-color="#910ea3"/><stop offset="1.000" stop-color="#a72197"/></linearGradient><linearGradient id="gc45"><stop offset="0.000" stop-color="#cd4a76"/><stop offset="0.033" stop-color="#be3885"/><stop offset="0.067" stop-color="#a11b9b"/><stop offset="0.100" stop-color="#7701a8"/><stop offset="0.133" stop-color="#5502a4"/><stop offset="0.167" stop-color="#43039e"/><stop offset="0.200" stop-color="#41049d"/><stop offset="0.233" stop-color="#41049d"/><stop offset="0.267" stop-color="#43039e"/><stop offset="0.300" stop-color="#5102a3"/><stop offset="0.333" stop-color="#7501a8"/><stop offset="0.367" stop-color="#a51f99"/><stop offset="0.400" stop-color="#c6417d"/><stop offset="0.433" stop-color="#db5c68"/><stop offset="0.467" stop-color="#ec7754"/><stop offset="0.500" stop-color="#f1814d"/><stop offset="0.533" stop-color="#f07f4f"/><stop offset="0.567" stop-color="#e56b5d"/><stop offset="0.600" stop-color="#c5407e"/><stop offset="0.633" stop-color="#910ea3"/><stop offset="0.667" stop-color="#5c01a6"/><stop offset="0.700" stop-color="#43039e"/><stop offset="0.733" stop-color="#3e049c"/><stop offset="0.767" stop-color="#3a049a"/><stop offset="0.800" stop-color="#38049a"/><stop offset="0.833" stop-color="#3a049a"/><stop offset="0.867" stop-color="#46039f"/><stop offset="0.900" stop-color="#5e01a6"/><stop offset="0.933" stop-color="#7801a8"/><stop offset="0.967" stop-color="#920fa3"/><stop offset="1.000" stop-color="#aa2395"/></linearGradient><linearGradient id="gc46"><stop offset="0.000" stop-color="#cf4c74"/><stop offset="0.033" stop-color="#c03a83"/><stop offset="0.067" stop-color="#a21d9a"/><stop offset="0.100" stop-color="#7701a8"/><stop offset="0.133" stop-color="#5502a4"/><stop offset="0.167" stop-color="#43039e"/><stop offset="0.200" stop-color="#41049d"/><stop offset="0.233" stop-color="#41049d"/><stop offset="0.267" stop-color="#43039e"/><stop offset="0.300" stop-color="#5002a2"/><stop offset="0.333" stop-color="#7201a8"/><stop offset="0.367" stop-color="#a21d9a"/><stop offset="0.400" stop-color="#c43e7f"/><stop offset="0.433" stop-color="#da5b69"/><stop offset="0.467" stop-color="#ed7953"/><stop offset="0.500" stop-color="#f2844b"/><stop offset="0.533" stop-color="#f1814d"/><stop offset="0.567" stop-color="#e76f5a"/><stop offset="0.600" stop-color="#c6417d"/><stop offset="0.633" stop-color="#910ea3"/><stop offset="0.667" stop-color="#5c01a6"/><stop offset="0.700" stop-color="#43039e"/><stop offset="0.733" stop-color="#3e049c"/><stop offset="0.767" stop-color="#3a049a"/><stop offset="0.800" stop-color="#38049a"/><stop offset="0.833" stop-color="#3a049a"/><stop offset="0.867" stop-color="#48039f"/><stop offset="0.900" stop-color="#6001a6"/><stop offset="0.933" stop-color="#7a02a8"/><stop offset="0.967" stop-color="#9511a1"/><stop offset="1.000" stop-color="#ac2694"/></linearGradient><linearGradient id="gc47"><stop offset="0.000" stop-color="#d14e72"/><stop offset="0.033" stop-color="#c13b82"/><stop offset="0.067" stop-color="#a21d9a"/><stop offset="0.100" stop-color="#7701a8"/><stop offset="0.133" stop-color="#5502a4"/><stop offset="0.167" stop-color="#43039e"/><stop offset="0.200" stop-color="#41049d"/><stop offset="0.233" stop-color="#41049d"/><stop offset="0.267" stop-color="#43039e"/><stop offset="0.300" stop-color="#4c02a1"/><stop offset="0.333" stop-color="#6e00a8"/><stop offset="0.367" stop-color="#9d189d"/><stop offset="0.400" stop-color="#c13b82"/><stop offset="0.433" stop-color="#d9586a"/><stop offset="0.467" stop-color="#ed7a52"/><stop offset="0.500" stop-color="#f3874a"/><stop offset="0.533" stop-color="#f2844b"/><stop offset="0.567" stop-color="#e97158"/><stop offset="0.600" stop-color="#c7427c"/><stop offset="0.633" stop-color="#910ea3"/><stop offset="0.667" stop-color="#5b01a5"/><stop offset="0.700" stop-color="#43039e"/><stop offset="0.733" stop-color="#3e049c"/><stop offset="0.767" stop-color="#3a049a"/><stop offset="0.800" stop-color="#38049a"/><stop offset="0.833" stop-color="#3a049a"/><stop offset="0.867" stop-color="#48039f"/><stop offset="0.900" stop-color="#6300a7"/><stop offset="0.933" stop-color="#7e03a8"/><stop offset="0.967" stop-color="#99159f"/><stop offset="1.000" stop-color="#b02991"/></linearGradient><linearGradient id="gc48"><stop offset="0.000" stop-color="#d35171"/><stop offset="0.033" stop-color="#c23c81"/><stop offset="0.067" stop-color="#a21d9a"/><stop offset="0.100" stop-color="#7701a8"/><stop offset="0.133" stop-color="#5502a4"/><stop offset="0.167" stop-color="#43039e"/><stop offset="0.200" stop-color="#41049d"/><stop offset="0.233" stop-color="#41049d"/><stop offset="0.267" stop-color="#43039e"/><stop offset="0.300" stop-color="#4b03a1"/><stop offset="0.333" stop-color="#6a00a8"/><stop offset="0.367" stop-color="#99159f"/><stop offset="0.400" stop-color="#bf3984"/><stop offset="0.433" stop-color="#d8576b"/><stop offset="0.467" stop-color="#ed7a52"/><stop offset="0.500" stop-color="#f48948"/><stop offset="0.533" stop-color="#f48849"/><stop offset="0.567" stop-color="#ea7457"/><stop offset="0.600" stop-color="#c8437b"/><stop offset="0.633" stop-color="#910ea3"/><stop offset="0.667" stop-color="#5b01a5"/><stop offset="0.700" stop-color="#41049d"/><stop offset="0.733" stop-color="#3c049b"/><stop offset="0.767" stop-color="#3a049a"/><stop offset="0.800" stop-color="#38049a"/><stop offset="0.833" stop-color="#3a049a"/><stop offset="0.867" stop-color="#4903a0"/><stop offset="0.900" stop-color="#6400a7"/><stop offset="0.933" stop-color="#8104a7"/><stop offset="0.967" stop-color="#9c179e"/><stop offset="1.000" stop-color="#b22b8f"/></linearGradient><linearGradient id="gc49"><stop offset="0.000" stop-color="#d5546e"/><stop offset="0.033" stop-color="#c43e7f"/><stop offset="0.067" stop-color="#a31e9a"/><stop offset="0.100" stop-color="#7701a8"/><stop offset="0.133" stop-color="#5502a4"/><stop offset="0.167" stop-color="#43039e"/><stop offset="0.200" stop-color="#41049d"/><stop offset="0.233" stop-color="#41049d"/><stop offset="0.267" stop-color="#41049d"/><stop offset="0.300" stop-color="#48039f"/><stop offset="0.333" stop-color="#6600a7"/><stop offset="0.367" stop-color="#9511a1"/><stop offset="0.400" stop-color="#bc3587"/><stop offset="0.433" stop-color="#d6556d"/><stop offset="0.467" stop-color="#ee7b51"/><stop offset="0.500" stop-color="#f58c46"/><stop offset="0.533" stop-color="#f58b47"/><stop offset="0.567" stop-color="#eb7655"/><stop offset="0.600" stop-color="#c9447a"/><stop offset="0.633" stop-color="#910ea3"/><stop offset="0.667" stop-color="#5901a5"/><stop offset="0.700" stop-color="#41049d"/><stop offset="0.733" stop-color="#3c049b"/><stop offset="0.767" stop-color="#3a049a"/><stop offset="0.800" stop-color="#38049a"/><stop offset="0.833" stop-color="#3a049a"/><stop offset="0.867" stop-color="#4903a0"/><stop offset="0.900" stop-color="#6600a7"/><stop offset="0.933" stop-color="#8405a7"/><stop offset="0.967" stop-color="#a01a9c"/><stop offset="1.000" stop-color="#b42e8d"/></linearGradient><linearGradient id="gc50"><stop offset="0.000" stop-color="#d7566c"/><stop offset="0.033" stop-color="#c5407e"/><stop offset="0.067" stop-color="#a31e9a"/><stop offset="0.100" stop-color="#7701a8"/><stop offset="0.133" stop-color="#5502a4"/><stop offset="0.167" stop-color="#43039e"/><stop offset="0.200" stop-color="#41049d"/><stop offset="0.233" stop-color="#41049d"/><stop offset="0.267" stop-color="#41049d"/><stop offset="0.300" stop-color="#46039f"/><stop offset="0.333" stop-color="#6300a7"/><stop offset="0.367" stop-color="#910ea3"/><stop offset="0.400" stop-color="#b83289"/><stop offset="0.433" stop-color="#d5546e"/><stop offset="0.467" stop-color="#ef7c51"/><stop offset="0.500" stop-color="#f68f44"/><stop offset="0.533" stop-color="#f68f44"/><stop offset="0.567" stop-color="#ed7953"/><stop offset="0.600" stop-color="#ca457a"/><stop offset="0.633" stop-color="#910ea3"/><stop offset="0.667" stop-color="#5901a5"/><stop offset="0.700" stop-color="#41049d"/><stop offset="0.733" stop-color="#3c049b"/><stop offset="0.767" stop-color="#3a049a"/><stop offset="0.800" stop-color="#38049a"/><stop offset="0.833" stop-color="#3a049a"/><stop offset="0.867" stop-color="#4b03a1"/><stop offset="0.900" stop-color="#6900a8"/><stop offset="0.933" stop-color="#8606a6"/><stop offset="0.967" stop-color="#a21d9a"/><stop offset="1.000" stop-color="#b6308b"/></linearGradient><linearGradient id="gc51"><stop offset="0.000" stop-color="#d9586a"/><stop offset="0.033" stop-color="#c6417d"/><stop offset="0.067" stop-color="#a51f99"/><stop offset="0.100" stop-color="#7701a8"/><stop offset="0.133" stop-color="#5502a4"/><stop offset="0.167" stop-color="#43039e"/><stop offset="0.200" stop-color="#41049d"/><stop offset="0.233" stop-color="#41049d"/><stop offset="0.267" stop-color="#41049d"/><stop offset="0.300" stop-color="#46039f"/><stop offset="0.333" stop-color="#6001a6"/><stop offset="0.367" stop-color="#8d0ba5"/><stop offset="0.400" stop-color="#b6308b"/><stop offset="0.433" stop-color="#d5536f"/><stop offset="0.467" stop-color="#ef7e50"/><stop offset="0.500" stop-color="#f79342"/><stop offset="0.533" stop-color="#f79342"/><stop offset="0.567" stop-color="#ee7b51"/><stop offset="0.600" stop-color="#cb4679"/><stop offset="0.633" stop-color="#910ea3"/><stop offset="0.667" stop-color="#5901a5"/><stop offset="0.700" stop-color="#41049d"/><stop offset="0.733" stop-color="#3c049b"/><stop offset="0.767" stop-color="#3a049a"/><stop offset="0.800" stop-color="#38049a"/><stop offset="0.833" stop-color="#3a049a"/><stop offset="0.867" stop-color="#4b03a1"/><stop offset="0.900" stop-color="#6900a8"/><stop offset="0.933" stop-color="#8808a6"/><stop offset="0.967" stop-color="#a31e9a"/><stop offset="1.000" stop-color="#b83289"/></linearGradient><linearGradient id="gc52"><stop offset="0.000" stop-color="#da5a6a"/><stop offset="0.033" stop-color="#c8437b"/><stop offset="0.067" stop-color="#a62098"/><stop offset="0.100" stop-color="#7701a8"/><stop offset="0.133" stop-color="#5502a4"/><stop offset="0.167" stop-color="#44039e"/><stop offset="0.200" stop-color="#41049d"/><stop offset="0.233" stop-color="#41049d"/><stop offset="0.267" stop-color="#41049d"/><stop offset="0.300" stop-color="#44039e"/><stop offset="0.333" stop-color="#5e01a6"/><stop offset="0.367" stop-color="#8808a6"/><stop offset="0.400" stop-color="#b32c8e"/><stop offset="0.433" stop-color="#d45270"/><stop offset="0.467" stop-color="#f0804e"/><stop offset="0.500" stop-color="#f9973f"/><stop offset="0.533" stop-color="#f9973f"/><stop offset="0.567" stop-color="#ef7e50"/><stop offset="0.600" stop-color="#cc4778"/><stop offset="0.633" stop-color="#920fa3"/><stop offset="0.667" stop-color="#5901a5"/><stop offset="0.700" stop-color="#41049d"/><stop offset="0.733" stop-color="#3c049b"/><stop offset="0.767" stop-color="#3a049a"/><stop offset="0.800" stop-color="#38049a"/><stop offset="0.833" stop-color="#3a049a"/><stop offset="0.867" stop-color="#4b03a1"/><stop offset="0.900" stop-color="#6a00a8"/><stop offset="0.933" stop-color="#8a09a5"/><stop offset="0.967" stop-color="#a62098"/><stop offset="1.000" stop-color="#bb3488"/></linearGradient><linearGradient id="gc53"><stop offset="0.000" stop-color="#db5c68"/><stop offset="0.033" stop-color="#c9447a"/><stop offset="0.067" stop-color="#a72197"/><stop offset="0.100" stop-color="#7801a8"/><stop offset="0.133" stop-color="#5502a4"/><stop offset="0.167" stop-color="#44039e"/><stop offset="0.200" stop-color="#41049d"/><stop offset="0.233" stop-color="#41049d"/><stop offset="0.267" stop-color="#41049d"/><stop offset="0.300" stop-color="#44039e"/><stop offset="0.333" stop-color="#5b01a5"/><stop offset="0.367" stop-color="#8405a7"/><stop offset="0.400" stop-color="#b02991"/><stop offset="0.433" stop-color="#d35171"/><stop offset="0.467" stop-color="#f1814d"/><stop offset="0.500" stop-color="#fa9c3c"/><stop offset="0.533" stop-color="#fa9c3c"/><stop offset="0.567" stop-color="#f0804e"/><stop offset="0.600" stop-color="#cd4a76"/><stop offset="0.633" stop-color="#9410a2"/><stop offset="0.667" stop-color="#5b01a5"/><stop offset="0.700" stop-color="#41049d"/><stop offset="0.733" stop-color="#3c049b"/><stop offset="0.767" stop-color="#38049a"/><stop offset="0.800" stop-color="#38049a"/><stop offset="0.833" stop-color="#3a049a"/><stop offset="0.867" stop-color="#4c02a1"/><stop offset="0.900" stop-color="#6a00a8"/><stop offset="0.933" stop-color="#8a09a5"/><stop offset="0.967" stop-color="#a72197"/><stop offset="1.000" stop-color="#bd3786"/></linearGradient><linearGradient id="gc54"><stop offset="0.000" stop-color="#dc5d67"/><stop offset="0.033" stop-color="#ca457a"/><stop offset="0.067" stop-color="#a82296"/><stop offset="0.100" stop-color="#7a02a8"/><stop offset="0.133" stop-color="#5601a4"/><stop offset="0.167" stop-color="#44039e"/><stop offset="0.200" stop-color="#43039e"/><stop offset="0.233" stop-color="#41049d"/><stop offset="0.267" stop-color="#41049d"/><stop offset="0.300" stop-color="#44039e"/><stop offset="0.333" stop-color="#5901a5"/><stop offset="0.367" stop-color="#8104a7"/><stop offset="0.400" stop-color="#ad2793"/><stop offset="0.433" stop-color="#d24f71"/><stop offset="0.467" stop-color="#f2844b"/><stop offset="0.500" stop-color="#fba238"/><stop offset="0.533" stop-color="#fba238"/><stop offset="0.567" stop-color="#f2844b"/><stop offset="0.600" stop-color="#ce4b75"/><stop offset="0.633" stop-color="#9613a1"/><stop offset="0.667" stop-color="#5e01a6"/><stop offset="0.700" stop-color="#43039e"/><stop offset="0.733" stop-color="#3a049a"/><stop offset="0.767" stop-color="#370499"/><stop offset="0.800" stop-color="#370499"/><stop offset="0.833" stop-color="#3a049a"/><stop offset="0.867" stop-color="#4c02a1"/><stop offset="0.900" stop-color="#6c00a8"/><stop offset="0.933" stop-color="#8a09a5"/><stop offset="0.967" stop-color="#a82296"/><stop offset="1.000" stop-color="#be3885"/></linearGradient><linearGradient id="gc55"><stop offset="0.000" stop-color="#dd5e66"/><stop offset="0.033" stop-color="#cc4778"/><stop offset="0.067" stop-color="#aa2395"/><stop offset="0.100" stop-color="#7b02a8"/><stop offset="0.133" stop-color="#5801a4"/><stop offset="0.167" stop-color="#46039f"/><stop offset="0.200" stop-color="#43039e"/><stop offset="0.233" stop-color="#41049d"/><stop offset="0.267" stop-color="#41049d"/><stop offset="0.300" stop-color="#44039e"/><stop offset="0.333" stop-color="#5801a4"/><stop offset="0.367" stop-color="#7d03a8"/><stop offset="0.400" stop-color="#aa2395"/><stop offset="0.433" stop-color="#d24f71"/><stop offset="0.467" stop-color="#f3874a"/><stop offset="0.500" stop-color="#fca934"/><stop offset="0.533" stop-color="#fca934"/><stop offset="0.567" stop-color="#f3874a"/><stop offset="0.600" stop-color="#d04d73"/><stop offset="0.633" stop-color="#9a169f"/><stop offset="0.667" stop-color="#6100a7"/><stop offset="0.700" stop-color="#43039e"/><stop offset="0.733" stop-color="#38049a"/><stop offset="0.767" stop-color="#350498"/><stop offset="0.800" stop-color="#350498"/><stop offset="0.833" stop-color="#3a049a"/><stop offset="0.867" stop-color="#4e02a2"/><stop offset="0.900" stop-color="#6c00a8"/><stop offset="0.933" stop-color="#8b0aa5"/><stop offset="0.967" stop-color="#a82296"/><stop offset="1.000" stop-color="#bf3984"/></linearGradient><linearGradient id="gc56"><stop offset="0.000" stop-color="#de5f65"/><stop offset="0.033" stop-color="#cc4977"/><stop offset="0.067" stop-color="#ab2494"/><stop offset="0.100" stop-color="#7d03a8"/><stop offset="0.133" stop-color="#5901a5"/><stop offset="0.167" stop-color="#48039f"/><stop offset="0.200" stop-color="#43039e"/><stop offset="0.233" stop-color="#43039e"/><stop offset="0.267" stop-color="#41049d"/><stop offset="0.300" stop-color="#44039e"/><stop offset="0.333" stop-color="#5601a4"/><stop offset="0.367" stop-color="#7a02a8"/><stop offset="0.400" stop-color="#a62098"/><stop offset="0.433" stop-color="#d14e72"/><stop offset="0.467" stop-color="#f48948"/><stop offset="0.500" stop-color="#fdb130"/><stop offset="0.533" stop-color="#fdb130"/><stop offset="0.567" stop-color="#f48948"/><stop offset="0.600" stop-color="#d24f71"/><stop offset="0.633" stop-color="#9e199d"/><stop offset="0.667" stop-color="#6400a7"/><stop offset="0.700" stop-color="#43039e"/><stop offset="0.733" stop-color="#38049a"/><stop offset="0.767" stop-color="#330597"/><stop offset="0.800" stop-color="#330597"/><stop offset="0.833" stop-color="#3a049a"/><stop offset="0.867" stop-color="#4e02a2"/><stop offset="0.900" stop-color="#6c00a8"/><stop offset="0.933" stop-color="#8b0aa5"/><stop offset="0.967" stop-color="#aa2395"/><stop offset="1.000" stop-color="#c13b82"/></linearGradient><linearGradient id="gc57"><stop offset="0.000" stop-color="#de6164"/><stop offset="0.033" stop-color="#ce4b75"/><stop offset="0.067" stop-color="#ad2793"/><stop offset="0.100" stop-color="#7e03a8"/><stop offset="0.133" stop-color="#5b01a5"/><stop offset="0.167" stop-color="#48039f"/><stop offset="0.200" stop-color="#44039e"/><stop offset="0.233" stop-color="#43039e"/><stop offset="0.267" stop-color="#41049d"/><stop offset="0.300" stop-color="#43039e"/><stop offset="0.333" stop-color="#5502a4"/><stop offset="0.367" stop-color="#7701a8"/><stop offset="0.400" stop-color="#a21d9a"/><stop offset="0.433" stop-color="#d04d73"/><stop offset="0.467" stop-color="#f58b47"/><stop offset="0.500" stop-color="#feb82c"/><stop offset="0.533" stop-color="#feb82c"/><stop offset="0.567" stop-color="#f58c46"/><stop offset="0.600" stop-color="#d35171"/><stop offset="0.633" stop-color="#a11b9b"/><stop offset="0.667" stop-color="#6900a8"/><stop offset="0.700" stop-color="#44039e"/><stop offset="0.733" stop-color="#370499"/><stop offset="0.767" stop-color="#310597"/><stop offset="0.800" stop-color="#310597"/><stop offset="0.833" stop-color="#3a049a"/><stop offset="0.867" stop-color="#4e02a2"/><stop offset="0.900" stop-color="#6c00a8"/><stop offset="0.933" stop-color="#8b0aa5"/><stop offset="0.967" stop-color="#ab2494"/><stop offset="1.000" stop-color="#c23c81"/></linearGradient><linearGradient id="gc58"><stop offset="0.000" stop-color="#e06363"/><stop offset="0.033" stop-color="#cf4c74"/><stop offset="0.067" stop-color="#b02991"/><stop offset="0.100" stop-color="#8004a8"/><stop offset="0.133" stop-color="#5c01a6"/><stop offset="0.167" stop-color="#4903a0"/><stop offset="0.200" stop-color="#44039e"/><stop offset="0.233" stop-color="#43039e"/><stop offset="0.267" stop-color="#41049d"/><stop offset="0.300" stop-color="#43039e"/><stop offset="0.333" stop-color="#5302a3"/><stop offset="0.367" stop-color="#7401a8"/><stop offset="0.400" stop-color="#a01a9c"/><stop offset="0.433" stop-color="#d04d73"/><stop offset="0.467" stop-color="#f68d45"/><stop offset="0.500" stop-color="#febe2a"/><stop offset="0.533" stop-color="#febe2a"/><stop offset="0.567" stop-color="#f68f44"/><stop offset="0.600" stop-color="#d5536f"/><stop offset="0.633" stop-color="#a51f99"/><stop offset="0.667" stop-color="#6a00a8"/><stop offset="0.700" stop-color="#44039e"/><stop offset="0.733" stop-color="#350498"/><stop offset="0.767" stop-color="#2f0596"/><stop offset="0.800" stop-color="#2f0596"/><stop offset="0.833" stop-color="#3a049a"/><stop offset="0.867" stop-color="#4e02a2"/><stop offset="0.900" stop-color="#6c00a8"/><stop offset="0.933" stop-color="#8d0ba5"/><stop offset="0.967" stop-color="#ac2694"/><stop offset="1.000" stop-color="#c33d80"/></linearGradient><linearGradient id="gc59"><stop offset="0.000" stop-color="#e16462"/><stop offset="0.033" stop-color="#d14e72"/><stop offset="0.067" stop-color="#b12a90"/><stop offset="0.100" stop-color="#8104a7"/><stop offset="0.133" stop-color="#5c01a6"/><stop offset="0.167" stop-color="#4b03a1"/><stop offset="0.200" stop-color="#46039f"/><stop offset="0.233" stop-color="#43039e"/><stop offset="0.267" stop-color="#41049d"/><stop offset="0.300" stop-color="#43039e"/><stop offset="0.333" stop-color="#5302a3"/><stop offset="0.367" stop-color="#7201a8"/><stop offset="0.400" stop-color="#9e199d"/><stop offset="0.433" stop-color="#d04d73"/><stop offset="0.467" stop-color="#f79044"/><stop offset="0.500" stop-color="#fdc527"/><stop offset="0.533" stop-color="#fdc527"/><stop offset="0.567" stop-color="#f79143"/><stop offset="0.600" stop-color="#d5546e"/><stop offset="0.633" stop-color="#a62098"/><stop offset="0.667" stop-color="#6e00a8"/><stop offset="0.700" stop-color="#44039e"/><stop offset="0.733" stop-color="#350498"/><stop offset="0.767" stop-color="#2e0595"/><stop offset="0.800" stop-color="#2f0596"/><stop offset="0.833" stop-color="#3a049a"/><stop offset="0.867" stop-color="#5002a2"/><stop offset="0.900" stop-color="#6e00a8"/><stop offset="0.933" stop-color="#8d0ba5"/><stop offset="0.967" stop-color="#ac2694"/><stop offset="1.000" stop-color="#c43e7f"/></linearGradient><linearGradient id="gc60"><stop offset="0.000" stop-color="#e26561"/><stop offset="0.033" stop-color="#d24f71"/><stop offset="0.067" stop-color="#b32c8e"/><stop offset="0.100" stop-color="#8305a7"/><stop offset="0.133" stop-color="#5e01a6"/><stop offset="0.167" stop-color="#4b03a1"/><stop offset="0.200" stop-color="#46039f"/><stop offset="0.233" stop-color="#43039e"/><stop offset="0.267" stop-color="#43039e"/><stop offset="0.300" stop-color="#43039e"/><stop offset="0.333" stop-color="#5102a3"/><stop offset="0.367" stop-color="#7100a8"/><stop offset="0.400" stop-color="#9d189d"/><stop offset="0.433" stop-color="#cf4c74"/><stop offset="0.467" stop-color="#f79342"/><stop offset="0.500" stop-color="#fdca26"/><stop offset="0.533" stop-color="#fdc827"/><stop offset="0.567" stop-color="#f89441"/><stop offset="0.600" stop-color="#d6556d"/><stop offset="0.633" stop-color="#a72197"/><stop offset="0.667" stop-color="#6f00a8"/><stop offset="0.700" stop-color="#46039f"/><stop offset="0.733" stop-color="#350498"/><stop offset="0.767" stop-color="#2e0595"/><stop offset="0.800" stop-color="#2e0595"/><stop offset="0.833" stop-color="#3a049a"/><stop offset="0.867" stop-color="#5002a2"/><stop offset="0.900" stop-color="#6e00a8"/><stop offset="0.933" stop-color="#8e0ca4"/><stop offset="0.967" stop-color="#ad2793"/><stop offset="1.000" stop-color="#c6417d"/></linearGradient><linearGradient id="gc61"><stop offset="0.000" stop-color="#e3685f"/><stop offset="0.033" stop-color="#d45270"/><stop offset="0.067" stop-color="#b42e8d"/><stop offset="0.100" stop-color="#8606a6"/><stop offset="0.133" stop-color="#6001a6"/><stop offset="0.167" stop-color="#4c02a1"/><stop offset="0.200" stop-color="#46039f"/><stop offset="0.233" stop-color="#44039e"/><stop offset="0.267" stop-color="#43039e"/><stop offset="0.300" stop-color="#43039e"/><stop offset="0.333" stop-color="#5102a3"/><stop offset="0.367" stop-color="#7100a8"/><stop offset="0.400" stop-color="#9d189d"/><stop offset="0.433" stop-color="#d04d73"/><stop offset="0.467" stop-color="#f89441"/><stop offset="0.500" stop-color="#fcce25"/><stop offset="0.533" stop-color="#fdcb26"/><stop offset="0.567" stop-color="#f89540"/><stop offset="0.600" stop-color="#d6556d"/><stop offset="0.633" stop-color="#a72197"/><stop offset="0.667" stop-color="#6f00a8"/><stop offset="0.700" stop-color="#46039f"/><stop offset="0.733" stop-color="#350498"/><stop offset="0.767" stop-color="#2e0595"/><stop offset="0.800" stop-color="#2e0595"/><stop offset="0.833" stop-color="#3a049a"/><stop offset="0.867" stop-color="#5002a2"/><stop offset="0.900" stop-color="#6e00a8"/><stop offset="0.933" stop-color="#8e0ca4"/><stop offset="0.967" stop-color="#ae2892"/><stop offset="1.000" stop-color="#c7427c"/></linearGradient><linearGradient id="gc62"><stop offset="0.000" stop-color="#e4695e"/><stop offset="0.033" stop-color="#d5536f"/><stop offset="0.067" stop-color="#b6308b"/><stop offset="0.100" stop-color="#8707a6"/><stop offset="0.133" stop-color="#6100a7"/><stop offset="0.167" stop-color="#4c02a1"/><stop offset="0.200" stop-color="#48039f"/><stop offset="0.233" stop-color="#44039e"/><stop offset="0.267" stop-color="#43039e"/><stop offset="0.300" stop-color="#44039e"/><stop offset="0.333" stop-color="#5102a3"/><stop offset="0.367" stop-color="#7100a8"/><stop offset="0.400" stop-color="#9c179e"/><stop offset="0.433" stop-color="#d04d73"/><stop offset="0.467" stop-color="#f9973f"/><stop offset="0.500" stop-color="#fcd225"/><stop offset="0.533" stop-color="#fcce25"/><stop offset="0.567" stop-color="#f9973f"/><stop offset="0.600" stop-color="#d7566c"/><stop offset="0.633" stop-color="#a72197"/><stop offset="0.667" stop-color="#6f00a8"/><stop offset="0.700" stop-color="#46039f"/><stop offset="0.733" stop-color="#350498"/><stop offset="0.767" stop-color="#2e0595"/><stop offset="0.800" stop-color="#2e0595"/><stop offset="0.833" stop-color="#3a049a"/><stop offset="0.867" stop-color="#5002a2"/><stop offset="0.900" stop-color="#6f00a8"/><stop offset="0.933" stop-color="#8f0da4"/><stop offset="0.967" stop-color="#b12a90"/><stop offset="1.000" stop-color="#c9447a"/></linearGradient><linearGradient id="gc63"><stop offset="0.000" stop-color="#e56b5d"/><stop offset="0.033" stop-color="#d6556d"/><stop offset="0.067" stop-color="#b7318a"/><stop offset="0.100" stop-color="#8808a6"/><stop offset="0.133" stop-color="#6300a7"/><stop offset="0.167" stop-color="#4e02a2"/><stop offset="0.200" stop-color="#48039f"/><stop offset="0.233" stop-color="#44039e"/><stop offset="0.267" stop-color="#43039e"/><stop offset="0.300" stop-color="#44039e"/><stop offset="0.333" stop-color="#5302a3"/><stop offset="0.367" stop-color="#7100a8"/><stop offset="0.400" stop-color="#9c179e"/><stop offset="0.433" stop-color="#d04d73"/><stop offset="0.467" stop-color="#f9983e"/><stop offset="0.500" stop-color="#fbd524"/><stop offset="0.533" stop-color="#fcd225"/><stop offset="0.567" stop-color="#f9983e"/><stop offset="0.600" stop-color="#d7566c"/><stop offset="0.633" stop-color="#a72197"/><stop offset="0.667" stop-color="#6e00a8"/><stop offset="0.700" stop-color="#46039f"/><stop offset="0.733" stop-color="#350498"/><stop offset="0.767" stop-color="#2e0595"/><stop offset="0.800" stop-color="#2f0596"/><stop offset="0.833" stop-color="#3a049a"/><stop offset="0.867" stop-color="#5102a3"/><stop offset="0.900" stop-color="#7100a8"/><stop offset="0.933" stop-color="#910ea3"/><stop offset="0.967" stop-color="#b22b8f"/><stop offset="1.000" stop-color="#ca457a"/></linearGradient><linearGradient id="gc64"><stop offset="0.000" stop-color="#e76e5b"/><stop offset="0.033" stop-color="#d7566c"/><stop offset="0.067" stop-color="#b83289"/><stop offset="0.100" stop-color="#8b0aa5"/><stop offset="0.133" stop-color="#6300a7"/><stop offset="0.167" stop-color="#4e02a2"/><stop offset="0.200" stop-color="#4903a0"/><stop offset="0.233" stop-color="#46039f"/><stop offset="0.267" stop-color="#44039e"/><stop offset="0.300" stop-color="#46039f"/><stop offset="0.333" stop-color="#5302a3"/><stop offset="0.367" stop-color="#7100a8"/><stop offset="0.400" stop-color="#9c179e"/><stop offset="0.433" stop-color="#d04d73"/><stop offset="0.467" stop-color="#f99a3e"/><stop offset="0.500" stop-color="#fad824"/><stop offset="0.533" stop-color="#fbd324"/><stop offset="0.567" stop-color="#fa9b3d"/><stop offset="0.600" stop-color="#d7566c"/><stop offset="0.633" stop-color="#a72197"/><stop offset="0.667" stop-color="#6e00a8"/><stop offset="0.700" stop-color="#46039f"/><stop offset="0.733" stop-color="#350498"/><stop offset="0.767" stop-color="#2e0595"/><stop offset="0.800" stop-color="#2f0596"/><stop offset="0.833" stop-color="#3a049a"/><stop offset="0.867" stop-color="#5102a3"/><stop offset="0.900" stop-color="#7100a8"/><stop offset="0.933" stop-color="#920fa3"/><stop offset="0.967" stop-color="#b32c8e"/><stop offset="1.000" stop-color="#cb4679"/></linearGradient><linearGradient id="gc65"><stop offset="0.000" stop-color="#e76f5a"/><stop offset="0.033" stop-color="#d9586a"/><stop offset="0.067" stop-color="#bb3488"/><stop offset="0.100" stop-color="#8d0ba5"/><stop offset="0.133" stop-color="#6400a7"/><stop offset="0.167" stop-color="#4e02a2"/><stop offset="0.200" stop-color="#4903a0"/><stop offset="0.233" stop-color="#46039f"/><stop offset="0.267" stop-color="#46039f"/><stop offset="0.300" stop-color="#46039f"/><stop offset="0.333" stop-color="#5302a3"/><stop offset="0.367" stop-color="#7100a8"/><stop offset="0.400" stop-color="#9c179e"/><stop offset="0.433" stop-color="#d14e72"/><stop offset="0.467" stop-color="#fa9c3c"/><stop offset="0.500" stop-color="#fada24"/><stop offset="0.533" stop-color="#fbd724"/><stop offset="0.567" stop-color="#fa9c3c"/><stop offset="0.600" stop-color="#d8576b"/><stop offset="0.633" stop-color="#a62098"/><stop offset="0.667" stop-color="#6c00a8"/><stop offset="0.700" stop-color="#46039f"/><stop offset="0.733" stop-color="#370499"/><stop offset="0.767" stop-color="#2f0596"/><stop offset="0.800" stop-color="#2f0596"/><stop offset="0.833" stop-color="#3a049a"/><stop offset="0.867" stop-color="#5102a3"/><stop offset="0.900" stop-color="#7201a8"/><stop offset="0.933" stop-color="#9410a2"/><stop offset="0.967" stop-color="#b42e8d"/><stop offset="1.000" stop-color="#cc4977"/></linearGradient><linearGradient id="gc66"><stop offset="0.000" stop-color="#e97158"/><stop offset="0.033" stop-color="#da5b69"/><stop offset="0.067" stop-color="#bd3786"/><stop offset="0.100" stop-color="#8e0ca4"/><stop offset="0.133" stop-color="#6600a7"/><stop offset="0.167" stop-color="#5002a2"/><stop offset="0.200" stop-color="#4903a0"/><stop offset="0.233" stop-color="#48039f"/><stop offset="0.267" stop-color="#46039f"/><stop offset="0.300" stop-color="#48039f"/><stop offset="0.333" stop-color="#5502a4"/><stop offset="0.367" stop-color="#7100a8"/><stop offset="0.400" stop-color="#9c179e"/><stop offset="0.433" stop-color="#d14e72"/><stop offset="0.467" stop-color="#fa9e3b"/><stop offset="0.500" stop-color="#f9dd25"/><stop offset="0.533" stop-color="#fad824"/><stop offset="0.567" stop-color="#fa9c3c"/><stop offset="0.600" stop-color="#d8576b"/><stop offset="0.633" stop-color="#a51f99"/><stop offset="0.667" stop-color="#6a00a8"/><stop offset="0.700" stop-color="#46039f"/><stop offset="0.733" stop-color="#370499"/><stop offset="0.767" stop-color="#310597"/><stop offset="0.800" stop-color="#310597"/><stop offset="0.833" stop-color="#3a049a"/><stop offset="0.867" stop-color="#5102a3"/><stop offset="0.900" stop-color="#7401a8"/><stop offset="0.933" stop-color="#9613a1"/><stop offset="0.967" stop-color="#b6308b"/><stop offset="1.000" stop-color="#cd4a76"/></linearGradient><linearGradient id="gc67"><stop offset="0.000" stop-color="#ea7457"/><stop offset="0.033" stop-color="#db5c68"/><stop offset="0.067" stop-color="#be3885"/><stop offset="0.100" stop-color="#910ea3"/><stop offset="0.133" stop-color="#6700a8"/><stop offset="0.167" stop-color="#5002a2"/><stop offset="0.200" stop-color="#4b03a1"/><stop offset="0.233" stop-color="#4903a0"/><stop offset="0.267" stop-color="#48039f"/><stop offset="0.300" stop-color="#4903a0"/><stop offset="0.333" stop-color="#5502a4"/><stop offset="0.367" stop-color="#7100a8"/><stop offset="0.400" stop-color="#9c179e"/><stop offset="0.433" stop-color="#d24f71"/><stop offset="0.467" stop-color="#fb9f3a"/><stop offset="0.500" stop-color="#f8df25"/><stop offset="0.533" stop-color="#fada24"/><stop offset="0.567" stop-color="#fa9e3b"/><stop offset="0.600" stop-color="#d8576b"/><stop offset="0.633" stop-color="#a31e9a"/><stop offset="0.667" stop-color="#6900a8"/><stop offset="0.700" stop-color="#46039f"/><stop offset="0.733" stop-color="#38049a"/><stop offset="0.767" stop-color="#310597"/><stop offset="0.800" stop-color="#330597"/><stop offset="0.833" stop-color="#3a049a"/><stop offset="0.867" stop-color="#5302a3"/><stop offset="0.900" stop-color="#7501a8"/><stop offset="0.933" stop-color="#9814a0"/><stop offset="0.967" stop-color="#b7318a"/><stop offset="1.000" stop-color="#cf4c74"/></linearGradient><linearGradient id="gc68"><stop offset="0.000" stop-color="#eb7655"/><stop offset="0.033" stop-color="#dd5e66"/><stop offset="0.067" stop-color="#bf3984"/><stop offset="0.100" stop-color="#920fa3"/><stop offset="0.133" stop-color="#6700a8"/><stop offset="0.167" stop-color="#5002a2"/><stop offset="0.200" stop-color="#4b03a1"/><stop offset="0.233" stop-color="#4903a0"/><stop offset="0.267" stop-color="#4903a0"/><stop offset="0.300" stop-color="#4903a0"/><stop offset="0.333" stop-color="#5601a4"/><stop offset="0.367" stop-color="#7201a8"/><stop offset="0.400" stop-color="#9c179e"/><stop offset="0.433" stop-color="#d24f71"/><stop offset="0.467" stop-color="#fba139"/><stop offset="0.500" stop-color="#f8e125"/><stop offset="0.533" stop-color="#fada24"/><stop offset="0.567" stop-color="#fb9f3a"/><stop offset="0.600" stop-color="#d8576b"/><stop offset="0.633" stop-color="#a11b9b"/><stop offset="0.667" stop-color="#6600a7"/><stop offset="0.700" stop-color="#44039e"/><stop offset="0.733" stop-color="#38049a"/><stop offset="0.767" stop-color="#330597"/><stop offset="0.800" stop-color="#330597"/><stop offset="0.833" stop-color="#3a049a"/><stop offset="0.867" stop-color="#5302a3"/><stop offset="0.900" stop-color="#7701a8"/><stop offset="0.933" stop-color="#99159f"/><stop offset="0.967" stop-color="#ba3388"/><stop offset="1.000" stop-color="#d04d73"/></linearGradient><linearGradient id="gc69"><stop offset="0.000" stop-color="#eb7655"/><stop offset="0.033" stop-color="#dd5e66"/><stop offset="0.067" stop-color="#c03a83"/><stop offset="0.100" stop-color="#9410a2"/><stop offset="0.133" stop-color="#6900a8"/><stop offset="0.167" stop-color="#5102a3"/><stop offset="0.200" stop-color="#4b03a1"/><stop offset="0.233" stop-color="#4b03a1"/><stop offset="0.267" stop-color="#4903a0"/><stop offset="0.300" stop-color="#4b03a1"/><stop offset="0.333" stop-color="#5601a4"/><stop offset="0.367" stop-color="#7201a8"/><stop offset="0.400" stop-color="#9c179e"/><stop offset="0.433" stop-color="#d24f71"/><stop offset="0.467" stop-color="#fba238"/><stop offset="0.500" stop-color="#f8e125"/><stop offset="0.533" stop-color="#fada24"/><stop offset="0.567" stop-color="#fb9f3a"/><stop offset="0.600" stop-color="#d7566c"/><stop offset="0.633" stop-color="#a01a9c"/><stop offset="0.667" stop-color="#6600a7"/><stop offset="0.700" stop-color="#44039e"/><stop offset="0.733" stop-color="#3a049a"/><stop offset="0.767" stop-color="#350498"/><stop offset="0.800" stop-color="#350498"/><stop offset="0.833" stop-color="#3c049b"/><stop offset="0.867" stop-color="#5302a3"/><stop offset="0.900" stop-color="#7701a8"/><stop offset="0.933" stop-color="#9a169f"/><stop offset="0.967" stop-color="#ba3388"/><stop offset="1.000" stop-color="#d14e72"/></linearGradient><linearGradient id="cba" x1="0" x2="0" y1="0" y2="1"><stop offset="0.000" stop-color="#f0f921"/><stop offset="0.050" stop-color="#f7e425"/><stop offset="0.100" stop-color="#fcce25"/><stop offset="0.150" stop-color="#feba2c"/><stop offset="0.200" stop-color="#fca636"/><stop offset="0.250" stop-color="#f89540"/><stop offset="0.300" stop-color="#f2844b"/><stop offset="0.350" stop-color="#ea7457"/><stop offset="0.400" stop-color="#e16462"/><stop offset="0.450" stop-color="#d6556d"/><stop offset="0.500" stop-color="#cc4778"/><stop offset="0.550" stop-color="#bf3984"/><stop offset="0.600" stop-color="#b12a90"/><stop offset="0.650" stop-color="#a11b9b"/><stop offset="0.700" stop-color="#8f0da4"/><stop offset="0.750" stop-color="#7e03a8"/><stop offset="0.800" stop-color="#6a00a8"/><stop offset="0.850" stop-color="#5601a4"/><stop offset="0.900" stop-color="#41049d"/><stop offset="0.950" stop-color="#2a0593"/><stop offset="1.000" stop-color="#0d0887"/></linearGradient><linearGradient id="cbc" x1="0" x2="0" y1="0" y2="1"><stop offset="0.000" stop-color="#f0f921"/><stop offset="0.050" stop-color="#f7e425"/><stop offset="0.100" stop-color="#fcce25"/><stop offset="0.150" stop-color="#feba2c"/><stop offset="0.200" stop-color="#fca636"/><stop offset="0.250" stop-color="#f89540"/><stop offset="0.300" stop-color="#f2844b"/><stop offset="0.350" stop-color="#ea7457"/><stop offset="0.400" stop-color="#e16462"/><stop offset="0.450" stop-color="#d6556d"/><stop offset="0.500" stop-color="#cc4778"/><stop offset="0.550" stop-color="#bf3984"/><stop offset="0.600" stop-color="#b12a90"/><stop offset="0.650" stop-color="#a11b9b"/><stop offset="0.700" stop-color="#8f0da4"/><stop offset="0.750" stop-color="#7e03a8"/><stop offset="0.800" stop-color="#6a00a8"/><stop offset="0.850" stop-color="#5601a4"/><stop offset="0.900" stop-color="#41049d"/><stop offset="0.950" stop-color="#2a0593"/><stop offset="1.000" stop-color="#0d0887"/></linearGradient><clipPath id="clb"><rect x="444.5" y="9" width="228.29999999999995" height="209.5"/></clipPath><clipPath id="cld"><rect x="444.5" y="277.1" width="228.29999999999995" height="209.2"/></clipPath><radialGradient id="ball" cx="0.45" cy="0.4" r="0.6"><stop offset="0" stop-color="#9be040"/><stop offset="0.6" stop-color="#5fae1a"/><stop offset="1" stop-color="#2f6e08"/></radialGradient></defs>
<rect width="685" height="684" fill="#fff"/>
<rect x="57" y="11.50" width="202" height="3.60" fill="url(#ga0)" shape-rendering="crispEdges"/><rect x="57" y="14.50" width="202" height="3.60" fill="url(#ga1)" shape-rendering="crispEdges"/><rect x="57" y="17.50" width="202" height="3.60" fill="url(#ga2)" shape-rendering="crispEdges"/><rect x="57" y="20.50" width="202" height="3.60" fill="url(#ga3)" shape-rendering="crispEdges"/><rect x="57" y="23.50" width="202" height="3.60" fill="url(#ga4)" shape-rendering="crispEdges"/><rect x="57" y="26.50" width="202" height="3.60" fill="url(#ga5)" shape-rendering="crispEdges"/><rect x="57" y="29.50" width="202" height="3.60" fill="url(#ga6)" shape-rendering="crispEdges"/><rect x="57" y="32.50" width="202" height="3.60" fill="url(#ga7)" shape-rendering="crispEdges"/><rect x="57" y="35.50" width="202" height="3.60" fill="url(#ga8)" shape-rendering="crispEdges"/><rect x="57" y="38.50" width="202" height="3.60" fill="url(#ga9)" shape-rendering="crispEdges"/><rect x="57" y="41.50" width="202" height="3.60" fill="url(#ga10)" shape-rendering="crispEdges"/><rect x="57" y="44.50" width="202" height="3.60" fill="url(#ga11)" shape-rendering="crispEdges"/><rect x="57" y="47.50" width="202" height="3.60" fill="url(#ga12)" shape-rendering="crispEdges"/><rect x="57" y="50.50" width="202" height="3.60" fill="url(#ga13)" shape-rendering="crispEdges"/><rect x="57" y="53.50" width="202" height="3.60" fill="url(#ga14)" shape-rendering="crispEdges"/><rect x="57" y="56.50" width="202" height="3.60" fill="url(#ga15)" shape-rendering="crispEdges"/><rect x="57" y="59.50" width="202" height="3.60" fill="url(#ga16)" shape-rendering="crispEdges"/><rect x="57" y="62.50" width="202" height="3.60" fill="url(#ga17)" shape-rendering="crispEdges"/><rect x="57" y="65.50" width="202" height="3.60" fill="url(#ga18)" shape-rendering="crispEdges"/><rect x="57" y="68.50" width="202" height="3.60" fill="url(#ga19)" shape-rendering="crispEdges"/><rect x="57" y="71.50" width="202" height="3.60" fill="url(#ga20)" shape-rendering="crispEdges"/><rect x="57" y="74.50" width="202" height="3.60" fill="url(#ga21)" shape-rendering="crispEdges"/><rect x="57" y="77.50" width="202" height="3.60" fill="url(#ga22)" shape-rendering="crispEdges"/><rect x="57" y="80.50" width="202" height="3.60" fill="url(#ga23)" shape-rendering="crispEdges"/><rect x="57" y="83.50" width="202" height="3.60" fill="url(#ga24)" shape-rendering="crispEdges"/><rect x="57" y="86.50" width="202" height="3.60" fill="url(#ga25)" shape-rendering="crispEdges"/><rect x="57" y="89.50" width="202" height="3.60" fill="url(#ga26)" shape-rendering="crispEdges"/><rect x="57" y="92.50" width="202" height="3.60" fill="url(#ga27)" shape-rendering="crispEdges"/><rect x="57" y="95.50" width="202" height="3.60" fill="url(#ga28)" shape-rendering="crispEdges"/><rect x="57" y="98.50" width="202" height="3.60" fill="url(#ga29)" shape-rendering="crispEdges"/><rect x="57" y="101.50" width="202" height="3.60" fill="url(#ga30)" shape-rendering="crispEdges"/><rect x="57" y="104.50" width="202" height="3.60" fill="url(#ga31)" shape-rendering="crispEdges"/><rect x="57" y="107.50" width="202" height="3.60" fill="url(#ga32)" shape-rendering="crispEdges"/><rect x="57" y="110.50" width="202" height="3.60" fill="url(#ga33)" shape-rendering="crispEdges"/><rect x="57" y="113.50" width="202" height="3.60" fill="url(#ga34)" shape-rendering="crispEdges"/><rect x="57" y="116.50" width="202" height="3.60" fill="url(#ga35)" shape-rendering="crispEdges"/><rect x="57" y="119.50" width="202" height="3.60" fill="url(#ga36)" shape-rendering="crispEdges"/><rect x="57" y="122.50" width="202" height="3.60" fill="url(#ga37)" shape-rendering="crispEdges"/><rect x="57" y="125.50" width="202" height="3.60" fill="url(#ga38)" shape-rendering="crispEdges"/><rect x="57" y="128.50" width="202" height="3.60" fill="url(#ga39)" shape-rendering="crispEdges"/><rect x="57" y="131.50" width="202" height="3.60" fill="url(#ga40)" shape-rendering="crispEdges"/><rect x="57" y="134.50" width="202" height="3.60" fill="url(#ga41)" shape-rendering="crispEdges"/><rect x="57" y="137.50" width="202" height="3.60" fill="url(#ga42)" shape-rendering="crispEdges"/><rect x="57" y="140.50" width="202" height="3.60" fill="url(#ga43)" shape-rendering="crispEdges"/><rect x="57" y="143.50" width="202" height="3.60" fill="url(#ga44)" shape-rendering="crispEdges"/><rect x="57" y="146.50" width="202" height="3.60" fill="url(#ga45)" shape-rendering="crispEdges"/><rect x="57" y="149.50" width="202" height="3.60" fill="url(#ga46)" shape-rendering="crispEdges"/><rect x="57" y="152.50" width="202" height="3.60" fill="url(#ga47)" shape-rendering="crispEdges"/><rect x="57" y="155.50" width="202" height="3.60" fill="url(#ga48)" shape-rendering="crispEdges"/><rect x="57" y="158.50" width="202" height="3.60" fill="url(#ga49)" shape-rendering="crispEdges"/><rect x="57" y="161.50" width="202" height="3.60" fill="url(#ga50)" shape-rendering="crispEdges"/><rect x="57" y="164.50" width="202" height="3.60" fill="url(#ga51)" shape-rendering="crispEdges"/><rect x="57" y="167.50" width="202" height="3.60" fill="url(#ga52)" shape-rendering="crispEdges"/><rect x="57" y="170.50" width="202" height="3.60" fill="url(#ga53)" shape-rendering="crispEdges"/><rect x="57" y="173.50" width="202" height="3.60" fill="url(#ga54)" shape-rendering="crispEdges"/><rect x="57" y="176.50" width="202" height="3.60" fill="url(#ga55)" shape-rendering="crispEdges"/><rect x="57" y="179.50" width="202" height="3.60" fill="url(#ga56)" shape-rendering="crispEdges"/><rect x="57" y="182.50" width="202" height="3.60" fill="url(#ga57)" shape-rendering="crispEdges"/><rect x="57" y="185.50" width="202" height="3.60" fill="url(#ga58)" shape-rendering="crispEdges"/><rect x="57" y="188.50" width="202" height="3.60" fill="url(#ga59)" shape-rendering="crispEdges"/><rect x="57" y="191.50" width="202" height="3.60" fill="url(#ga60)" shape-rendering="crispEdges"/><rect x="57" y="194.50" width="202" height="3.60" fill="url(#ga61)" shape-rendering="crispEdges"/><rect x="57" y="197.50" width="202" height="3.60" fill="url(#ga62)" shape-rendering="crispEdges"/><rect x="57" y="200.50" width="202" height="3.60" fill="url(#ga63)" shape-rendering="crispEdges"/><rect x="57" y="203.50" width="202" height="3.60" fill="url(#ga64)" shape-rendering="crispEdges"/><rect x="57" y="206.50" width="202" height="3.60" fill="url(#ga65)" shape-rendering="crispEdges"/><rect x="57" y="209.50" width="202" height="3.60" fill="url(#ga66)" shape-rendering="crispEdges"/><rect x="57" y="212.50" width="202" height="3.60" fill="url(#ga67)" shape-rendering="crispEdges"/><rect x="57" y="215.50" width="202" height="3.60" fill="url(#ga68)" shape-rendering="crispEdges"/><rect x="57" y="218.50" width="202" height="1.50" fill="url(#ga69)" shape-rendering="crispEdges"/><line x1="108" y1="12" x2="186.5" y2="185.6" stroke="#80bf4a" stroke-width="1.05" stroke-dasharray="2 1.4" fill="none"/><line x1="123.2" y1="11.5" x2="180.5" y2="136.2" stroke="#80bf4a" stroke-width="1.05" stroke-dasharray="2 1.4" fill="none"/><line x1="149.6" y1="12.2" x2="91.7" y2="139.7" stroke="#80bf4a" stroke-width="1.05" stroke-dasharray="2 1.4" fill="none"/><line x1="210.4" y1="12.7" x2="116.2" y2="219.6" stroke="#80bf4a" stroke-width="1.05" stroke-dasharray="2 1.4" fill="none"/><line x1="233" y1="53.6" x2="209.7" y2="103.8" stroke="#80bf4a" stroke-width="1.05" stroke-dasharray="2 1.4" fill="none"/><line x1="181.6" y1="121" x2="137.4" y2="219.4" stroke="#80bf4a" stroke-width="1.05" stroke-dasharray="2 1.4" fill="none"/><line x1="132" y1="162.8" x2="157.5" y2="217" stroke="#80bf4a" stroke-width="1.05" stroke-dasharray="2 1.4" fill="none"/><line x1="182.3" y1="166.4" x2="158.4" y2="216.7" stroke="#80bf4a" stroke-width="1.05" stroke-dasharray="2 1.4" fill="none"/><rect x="57" y="11.5" width="202" height="208.5" fill="none" stroke="#000" stroke-width="1.75"/><line x1="57" y1="11.50" x2="62" y2="11.50" stroke="#000" stroke-width="1.5"/><text x="51" y="16.50" font-size="11.3" text-anchor="end" fill="#262626" font-weight="normal" font-style="normal" stroke="#262626" stroke-width="0.1" textLength="25" lengthAdjust="spacingAndGlyphs">2.00</text><line x1="57" y1="37.56" x2="62" y2="37.56" stroke="#000" stroke-width="1.5"/><text x="51" y="42.56" font-size="11.3" text-anchor="end" fill="#262626" font-weight="normal" font-style="normal" stroke="#262626" stroke-width="0.1" textLength="25" lengthAdjust="spacingAndGlyphs">1.75</text><line x1="57" y1="63.62" x2="62" y2="63.62" stroke="#000" stroke-width="1.5"/><text x="51" y="68.62" font-size="11.3" text-anchor="end" fill="#262626" font-weight="normal" font-style="normal" stroke="#262626" stroke-width="0.1" textLength="25" lengthAdjust="spacingAndGlyphs">1.50</text><line x1="57" y1="89.69" x2="62" y2="89.69" stroke="#000" stroke-width="1.5"/><text x="51" y="94.69" font-size="11.3" text-anchor="end" fill="#262626" font-weight="normal" font-style="normal" stroke="#262626" stroke-width="0.1" textLength="25" lengthAdjust="spacingAndGlyphs">1.25</text><line x1="57" y1="115.75" x2="62" y2="115.75" stroke="#000" stroke-width="1.5"/><text x="51" y="120.75" font-size="11.3" text-anchor="end" fill="#262626" font-weight="normal" font-style="normal" stroke="#262626" stroke-width="0.1" textLength="25" lengthAdjust="spacingAndGlyphs">1.00</text><line x1="57" y1="141.81" x2="62" y2="141.81" stroke="#000" stroke-width="1.5"/><text x="51" y="146.81" font-size="11.3" text-anchor="end" fill="#262626" font-weight="normal" font-style="normal" stroke="#262626" stroke-width="0.1" textLength="25" lengthAdjust="spacingAndGlyphs">0.75</text><line x1="57" y1="167.88" x2="62" y2="167.88" stroke="#000" stroke-width="1.5"/><text x="51" y="172.88" font-size="11.3" text-anchor="end" fill="#262626" font-weight="normal" font-style="normal" stroke="#262626" stroke-width="0.1" textLength="25" lengthAdjust="spacingAndGlyphs">0.50</text><line x1="57" y1="193.94" x2="62" y2="193.94" stroke="#000" stroke-width="1.5"/><text x="51" y="198.94" font-size="11.3" text-anchor="end" fill="#262626" font-weight="normal" font-style="normal" stroke="#262626" stroke-width="0.1" textLength="25" lengthAdjust="spacingAndGlyphs">0.25</text><line x1="57" y1="220.00" x2="62" y2="220.00" stroke="#000" stroke-width="1.5"/><text x="51" y="225.00" font-size="11.3" text-anchor="end" fill="#262626" font-weight="normal" font-style="normal" stroke="#262626" stroke-width="0.1" textLength="25" lengthAdjust="spacingAndGlyphs">0.00</text><line x1="57.00" y1="220" x2="57.00" y2="215" stroke="#000" stroke-width="1.5"/><text x="57.00" y="234.9" font-size="11.3" text-anchor="middle" fill="#262626" font-weight="normal" font-style="normal" stroke="#262626" stroke-width="0.1" textLength="26.6" lengthAdjust="spacingAndGlyphs">−0.3</text><line x1="90.67" y1="220" x2="90.67" y2="215" stroke="#000" stroke-width="1.5"/><text x="90.67" y="234.9" font-size="11.3" text-anchor="middle" fill="#262626" font-weight="normal" font-style="normal" stroke="#262626" stroke-width="0.1" textLength="26.6" lengthAdjust="spacingAndGlyphs">−0.2</text><line x1="124.33" y1="220" x2="124.33" y2="215" stroke="#000" stroke-width="1.5"/><text x="124.33" y="234.9" font-size="11.3" text-anchor="middle" fill="#262626" font-weight="normal" font-style="normal" stroke="#262626" stroke-width="0.1" textLength="26.6" lengthAdjust="spacingAndGlyphs">−0.1</text><line x1="158.00" y1="220" x2="158.00" y2="215" stroke="#000" stroke-width="1.5"/><text x="158.00" y="234.9" font-size="11.3" text-anchor="middle" fill="#262626" font-weight="normal" font-style="normal" stroke="#262626" stroke-width="0.1" textLength="17.8" lengthAdjust="spacingAndGlyphs">0.0</text><line x1="191.67" y1="220" x2="191.67" y2="215" stroke="#000" stroke-width="1.5"/><text x="191.67" y="234.9" font-size="11.3" text-anchor="middle" fill="#262626" font-weight="normal" font-style="normal" stroke="#262626" stroke-width="0.1" textLength="17.8" lengthAdjust="spacingAndGlyphs">0.1</text><line x1="225.33" y1="220" x2="225.33" y2="215" stroke="#000" stroke-width="1.5"/><text x="225.33" y="234.9" font-size="11.3" text-anchor="middle" fill="#262626" font-weight="normal" font-style="normal" stroke="#262626" stroke-width="0.1" textLength="17.8" lengthAdjust="spacingAndGlyphs">0.2</text><line x1="259.00" y1="220" x2="259.00" y2="215" stroke="#000" stroke-width="1.5"/><text x="259.00" y="234.9" font-size="11.3" text-anchor="middle" fill="#262626" font-weight="normal" font-style="normal" stroke="#262626" stroke-width="0.1" textLength="17.8" lengthAdjust="spacingAndGlyphs">0.3</text><text x="59.9" y="29.8" font-size="11" text-anchor="start" fill="#111" font-weight="normal" font-style="normal" stroke="#111" stroke-width="0.1" textLength="17.5" lengthAdjust="spacingAndGlyphs"><tspan font-style="italic">N</tspan>-1</text><rect x="57" y="278.30" width="202" height="3.60" fill="url(#gc0)" shape-rendering="crispEdges"/><rect x="57" y="281.30" width="202" height="3.60" fill="url(#gc1)" shape-rendering="crispEdges"/><rect x="57" y="284.30" width="202" height="3.60" fill="url(#gc2)" shape-rendering="crispEdges"/><rect x="57" y="287.30" width="202" height="3.60" fill="url(#gc3)" shape-rendering="crispEdges"/><rect x="57" y="290.30" width="202" height="3.60" fill="url(#gc4)" shape-rendering="crispEdges"/><rect x="57" y="293.30" width="202" height="3.60" fill="url(#gc5)" shape-rendering="crispEdges"/><rect x="57" y="296.30" width="202" height="3.60" fill="url(#gc6)" shape-rendering="crispEdges"/><rect x="57" y="299.30" width="202" height="3.60" fill="url(#gc7)" shape-rendering="crispEdges"/><rect x="57" y="302.30" width="202" height="3.60" fill="url(#gc8)" shape-rendering="crispEdges"/><rect x="57" y="305.30" width="202" height="3.60" fill="url(#gc9)" shape-rendering="crispEdges"/><rect x="57" y="308.30" width="202" height="3.60" fill="url(#gc10)" shape-rendering="crispEdges"/><rect x="57" y="311.30" width="202" height="3.60" fill="url(#gc11)" shape-rendering="crispEdges"/><rect x="57" y="314.30" width="202" height="3.60" fill="url(#gc12)" shape-rendering="crispEdges"/><rect x="57" y="317.30" width="202" height="3.60" fill="url(#gc13)" shape-rendering="crispEdges"/><rect x="57" y="320.30" width="202" height="3.60" fill="url(#gc14)" shape-rendering="crispEdges"/><rect x="57" y="323.30" width="202" height="3.60" fill="url(#gc15)" shape-rendering="crispEdges"/><rect x="57" y="326.30" width="202" height="3.60" fill="url(#gc16)" shape-rendering="crispEdges"/><rect x="57" y="329.30" width="202" height="3.60" fill="url(#gc17)" shape-rendering="crispEdges"/><rect x="57" y="332.30" width="202" height="3.60" fill="url(#gc18)" shape-rendering="crispEdges"/><rect x="57" y="335.30" width="202" height="3.60" fill="url(#gc19)" shape-rendering="crispEdges"/><rect x="57" y="338.30" width="202" height="3.60" fill="url(#gc20)" shape-rendering="crispEdges"/><rect x="57" y="341.30" width="202" height="3.60" fill="url(#gc21)" shape-rendering="crispEdges"/><rect x="57" y="344.30" width="202" height="3.60" fill="url(#gc22)" shape-rendering="crispEdges"/><rect x="57" y="347.30" width="202" height="3.60" fill="url(#gc23)" shape-rendering="crispEdges"/><rect x="57" y="350.30" width="202" height="3.60" fill="url(#gc24)" shape-rendering="crispEdges"/><rect x="57" y="353.30" width="202" height="3.60" fill="url(#gc25)" shape-rendering="crispEdges"/><rect x="57" y="356.30" width="202" height="3.60" fill="url(#gc26)" shape-rendering="crispEdges"/><rect x="57" y="359.30" width="202" height="3.60" fill="url(#gc27)" shape-rendering="crispEdges"/><rect x="57" y="362.30" width="202" height="3.60" fill="url(#gc28)" shape-rendering="crispEdges"/><rect x="57" y="365.30" width="202" height="3.60" fill="url(#gc29)" shape-rendering="crispEdges"/><rect x="57" y="368.30" width="202" height="3.60" fill="url(#gc30)" shape-rendering="crispEdges"/><rect x="57" y="371.30" width="202" height="3.60" fill="url(#gc31)" shape-rendering="crispEdges"/><rect x="57" y="374.30" width="202" height="3.60" fill="url(#gc32)" shape-rendering="crispEdges"/><rect x="57" y="377.30" width="202" height="3.60" fill="url(#gc33)" shape-rendering="crispEdges"/><rect x="57" y="380.30" width="202" height="3.60" fill="url(#gc34)" shape-rendering="crispEdges"/><rect x="57" y="383.30" width="202" height="3.60" fill="url(#gc35)" shape-rendering="crispEdges"/><rect x="57" y="386.30" width="202" height="3.60" fill="url(#gc36)" shape-rendering="crispEdges"/><rect x="57" y="389.30" width="202" height="3.60" fill="url(#gc37)" shape-rendering="crispEdges"/><rect x="57" y="392.30" width="202" height="3.60" fill="url(#gc38)" shape-rendering="crispEdges"/><rect x="57" y="395.30" width="202" height="3.60" fill="url(#gc39)" shape-rendering="crispEdges"/><rect x="57" y="398.30" width="202" height="3.60" fill="url(#gc40)" shape-rendering="crispEdges"/><rect x="57" y="401.30" width="202" height="3.60" fill="url(#gc41)" shape-rendering="crispEdges"/><rect x="57" y="404.30" width="202" height="3.60" fill="url(#gc42)" shape-rendering="crispEdges"/><rect x="57" y="407.30" width="202" height="3.60" fill="url(#gc43)" shape-rendering="crispEdges"/><rect x="57" y="410.30" width="202" height="3.60" fill="url(#gc44)" shape-rendering="crispEdges"/><rect x="57" y="413.30" width="202" height="3.60" fill="url(#gc45)" shape-rendering="crispEdges"/><rect x="57" y="416.30" width="202" height="3.60" fill="url(#gc46)" shape-rendering="crispEdges"/><rect x="57" y="419.30" width="202" height="3.60" fill="url(#gc47)" shape-rendering="crispEdges"/><rect x="57" y="422.30" width="202" height="3.60" fill="url(#gc48)" shape-rendering="crispEdges"/><rect x="57" y="425.30" width="202" height="3.60" fill="url(#gc49)" shape-rendering="crispEdges"/><rect x="57" y="428.30" width="202" height="3.60" fill="url(#gc50)" shape-rendering="crispEdges"/><rect x="57" y="431.30" width="202" height="3.60" fill="url(#gc51)" shape-rendering="crispEdges"/><rect x="57" y="434.30" width="202" height="3.60" fill="url(#gc52)" shape-rendering="crispEdges"/><rect x="57" y="437.30" width="202" height="3.60" fill="url(#gc53)" shape-rendering="crispEdges"/><rect x="57" y="440.30" width="202" height="3.60" fill="url(#gc54)" shape-rendering="crispEdges"/><rect x="57" y="443.30" width="202" height="3.60" fill="url(#gc55)" shape-rendering="crispEdges"/><rect x="57" y="446.30" width="202" height="3.60" fill="url(#gc56)" shape-rendering="crispEdges"/><rect x="57" y="449.30" width="202" height="3.60" fill="url(#gc57)" shape-rendering="crispEdges"/><rect x="57" y="452.30" width="202" height="3.60" fill="url(#gc58)" shape-rendering="crispEdges"/><rect x="57" y="455.30" width="202" height="3.60" fill="url(#gc59)" shape-rendering="crispEdges"/><rect x="57" y="458.30" width="202" height="3.60" fill="url(#gc60)" shape-rendering="crispEdges"/><rect x="57" y="461.30" width="202" height="3.60" fill="url(#gc61)" shape-rendering="crispEdges"/><rect x="57" y="464.30" width="202" height="3.60" fill="url(#gc62)" shape-rendering="crispEdges"/><rect x="57" y="467.30" width="202" height="3.60" fill="url(#gc63)" shape-rendering="crispEdges"/><rect x="57" y="470.30" width="202" height="3.60" fill="url(#gc64)" shape-rendering="crispEdges"/><rect x="57" y="473.30" width="202" height="3.60" fill="url(#gc65)" shape-rendering="crispEdges"/><rect x="57" y="476.30" width="202" height="3.60" fill="url(#gc66)" shape-rendering="crispEdges"/><rect x="57" y="479.30" width="202" height="3.60" fill="url(#gc67)" shape-rendering="crispEdges"/><rect x="57" y="482.30" width="202" height="3.60" fill="url(#gc68)" shape-rendering="crispEdges"/><rect x="57" y="485.30" width="202" height="0.70" fill="url(#gc69)" shape-rendering="crispEdges"/><line x1="126.1" y1="279" x2="182.3" y2="441.7" stroke="#80bf4a" stroke-width="1.05" stroke-dasharray="2 1.4" fill="none"/><line x1="150.5" y1="279" x2="200" y2="423.2" stroke="#80bf4a" stroke-width="1.05" stroke-dasharray="2 1.4" fill="none"/><line x1="171.6" y1="279.5" x2="123.7" y2="419.2" stroke="#80bf4a" stroke-width="1.05" stroke-dasharray="2 1.4" fill="none"/><line x1="192.8" y1="279.5" x2="137.3" y2="439.3" stroke="#80bf4a" stroke-width="1.05" stroke-dasharray="2 1.4" fill="none"/><line x1="196.8" y1="322.9" x2="144.6" y2="475.5" stroke="#80bf4a" stroke-width="1.05" stroke-dasharray="2 1.4" fill="none"/><rect x="57" y="278.3" width="202" height="207.7" fill="none" stroke="#000" stroke-width="1.75"/><line x1="57" y1="278.30" x2="62" y2="278.30" stroke="#000" stroke-width="1.5"/><text x="51" y="283.30" font-size="11.3" text-anchor="end" fill="#262626" font-weight="normal" font-style="normal" stroke="#262626" stroke-width="0.1" textLength="25" lengthAdjust="spacingAndGlyphs">2.00</text><line x1="57" y1="304.26" x2="62" y2="304.26" stroke="#000" stroke-width="1.5"/><text x="51" y="309.26" font-size="11.3" text-anchor="end" fill="#262626" font-weight="normal" font-style="normal" stroke="#262626" stroke-width="0.1" textLength="25" lengthAdjust="spacingAndGlyphs">1.75</text><line x1="57" y1="330.23" x2="62" y2="330.23" stroke="#000" stroke-width="1.5"/><text x="51" y="335.23" font-size="11.3" text-anchor="end" fill="#262626" font-weight="normal" font-style="normal" stroke="#262626" stroke-width="0.1" textLength="25" lengthAdjust="spacingAndGlyphs">1.50</text><line x1="57" y1="356.19" x2="62" y2="356.19" stroke="#000" stroke-width="1.5"/><text x="51" y="361.19" font-size="11.3" text-anchor="end" fill="#262626" font-weight="normal" font-style="normal" stroke="#262626" stroke-width="0.1" textLength="25" lengthAdjust="spacingAndGlyphs">1.25</text><line x1="57" y1="382.15" x2="62" y2="382.15" stroke="#000" stroke-width="1.5"/><text x="51" y="387.15" font-size="11.3" text-anchor="end" fill="#262626" font-weight="normal" font-style="normal" stroke="#262626" stroke-width="0.1" textLength="25" lengthAdjust="spacingAndGlyphs">1.00</text><line x1="57" y1="408.11" x2="62" y2="408.11" stroke="#000" stroke-width="1.5"/><text x="51" y="413.11" font-size="11.3" text-anchor="end" fill="#262626" font-weight="normal" font-style="normal" stroke="#262626" stroke-width="0.1" textLength="25" lengthAdjust="spacingAndGlyphs">0.75</text><line x1="57" y1="434.07" x2="62" y2="434.07" stroke="#000" stroke-width="1.5"/><text x="51" y="439.07" font-size="11.3" text-anchor="end" fill="#262626" font-weight="normal" font-style="normal" stroke="#262626" stroke-width="0.1" textLength="25" lengthAdjust="spacingAndGlyphs">0.50</text><line x1="57" y1="460.04" x2="62" y2="460.04" stroke="#000" stroke-width="1.5"/><text x="51" y="465.04" font-size="11.3" text-anchor="end" fill="#262626" font-weight="normal" font-style="normal" stroke="#262626" stroke-width="0.1" textLength="25" lengthAdjust="spacingAndGlyphs">0.25</text><line x1="57" y1="486.00" x2="62" y2="486.00" stroke="#000" stroke-width="1.5"/><text x="51" y="491.00" font-size="11.3" text-anchor="end" fill="#262626" font-weight="normal" font-style="normal" stroke="#262626" stroke-width="0.1" textLength="25" lengthAdjust="spacingAndGlyphs">0.00</text><line x1="57.00" y1="486" x2="57.00" y2="481" stroke="#000" stroke-width="1.5"/><text x="57.00" y="500.9" font-size="11.3" text-anchor="middle" fill="#262626" font-weight="normal" font-style="normal" stroke="#262626" stroke-width="0.1" textLength="26.6" lengthAdjust="spacingAndGlyphs">−0.3</text><line x1="90.67" y1="486" x2="90.67" y2="481" stroke="#000" stroke-width="1.5"/><text x="90.67" y="500.9" font-size="11.3" text-anchor="middle" fill="#262626" font-weight="normal" font-style="normal" stroke="#262626" stroke-width="0.1" textLength="26.6" lengthAdjust="spacingAndGlyphs">−0.2</text><line x1="124.33" y1="486" x2="124.33" y2="481" stroke="#000" stroke-width="1.5"/><text x="124.33" y="500.9" font-size="11.3" text-anchor="middle" fill="#262626" font-weight="normal" font-style="normal" stroke="#262626" stroke-width="0.1" textLength="26.6" lengthAdjust="spacingAndGlyphs">−0.1</text><line x1="158.00" y1="486" x2="158.00" y2="481" stroke="#000" stroke-width="1.5"/><text x="158.00" y="500.9" font-size="11.3" text-anchor="middle" fill="#262626" font-weight="normal" font-style="normal" stroke="#262626" stroke-width="0.1" textLength="17.8" lengthAdjust="spacingAndGlyphs">0.0</text><line x1="191.67" y1="486" x2="191.67" y2="481" stroke="#000" stroke-width="1.5"/><text x="191.67" y="500.9" font-size="11.3" text-anchor="middle" fill="#262626" font-weight="normal" font-style="normal" stroke="#262626" stroke-width="0.1" textLength="17.8" lengthAdjust="spacingAndGlyphs">0.1</text><line x1="225.33" y1="486" x2="225.33" y2="481" stroke="#000" stroke-width="1.5"/><text x="225.33" y="500.9" font-size="11.3" text-anchor="middle" fill="#262626" font-weight="normal" font-style="normal" stroke="#262626" stroke-width="0.1" textLength="17.8" lengthAdjust="spacingAndGlyphs">0.2</text><line x1="259.00" y1="486" x2="259.00" y2="481" stroke="#000" stroke-width="1.5"/><text x="259.00" y="500.9" font-size="11.3" text-anchor="middle" fill="#262626" font-weight="normal" font-style="normal" stroke="#262626" stroke-width="0.1" textLength="17.8" lengthAdjust="spacingAndGlyphs">0.3</text><text x="60.8" y="297.2" font-size="11" text-anchor="start" fill="#fff" font-weight="normal" font-style="normal" stroke="#fff" stroke-width="0.1" textLength="8.4" lengthAdjust="spacingAndGlyphs"><tspan font-style="italic">N</tspan></text><rect x="271.5" y="11.5" width="10.800000000000011" height="208.5" fill="url(#cba)" stroke="#000" stroke-width="1.6"/><line x1="276.2" y1="22.8" x2="282.3" y2="22.8" stroke="#000" stroke-width="1.4"/><text x="288.4" y="27.700000000000003" font-size="11.3" text-anchor="start" fill="#262626" font-weight="normal" font-style="normal" stroke="#262626" stroke-width="0.1" textLength="32.2" lengthAdjust="spacingAndGlyphs">6e-02</text><line x1="276.2" y1="60" x2="282.3" y2="60" stroke="#000" stroke-width="1.4"/><text x="288.4" y="64.9" font-size="11.3" text-anchor="start" fill="#262626" font-weight="normal" font-style="normal" stroke="#262626" stroke-width="0.1" textLength="32.2" lengthAdjust="spacingAndGlyphs">4e-02</text><line x1="276.2" y1="123.5" x2="282.3" y2="123.5" stroke="#000" stroke-width="1.4"/><text x="288.4" y="128.4" font-size="11.3" text-anchor="start" fill="#262626" font-weight="normal" font-style="normal" stroke="#262626" stroke-width="0.1" textLength="32.2" lengthAdjust="spacingAndGlyphs">2e-02</text><line x1="276.2" y1="187.2" x2="282.3" y2="187.2" stroke="#000" stroke-width="1.4"/><text x="288.4" y="192.1" font-size="11.3" text-anchor="start" fill="#262626" font-weight="normal" font-style="normal" stroke="#262626" stroke-width="0.1" textLength="32.2" lengthAdjust="spacingAndGlyphs">1e-02</text><line x1="276.2" y1="207.7" x2="282.3" y2="207.7" stroke="#000" stroke-width="1.4"/><text x="288.4" y="212.6" font-size="11.3" text-anchor="start" fill="#262626" font-weight="normal" font-style="normal" stroke="#262626" stroke-width="0.1" textLength="32.2" lengthAdjust="spacingAndGlyphs">8e-03</text><line x1="278.8" y1="86.3" x2="282.3" y2="86.3" stroke="#000" stroke-width="1.1"/><text x="288.4" y="90.6" font-size="11.3" text-anchor="start" fill="#262626" font-weight="normal" font-style="normal" stroke="#262626" stroke-width="0.1" textLength="44" lengthAdjust="spacingAndGlyphs">3 × 10<tspan dy="-4.8" font-size="8.5">−2</tspan></text><line x1="278.8" y1="39.6" x2="282.3" y2="39.6" stroke="#000" stroke-width="1"/><line x1="278.8" y1="198" x2="282.3" y2="198" stroke="#000" stroke-width="1"/><text transform="translate(353.5,116) rotate(-90)" font-size="11.3" text-anchor="middle" fill="#262626" stroke="#262626" stroke-width="0.1" textLength="52" lengthAdjust="spacingAndGlyphs"><tspan font-style="italic">G</tspan> [2e<tspan dy="-4.5" font-size="8.5">2</tspan><tspan dy="4.5">/h]</tspan></text><rect x="271.5" y="278.3" width="10.800000000000011" height="207.7" fill="url(#cbc)" stroke="#000" stroke-width="1.6"/><line x1="276.2" y1="307.9" x2="282.3" y2="307.9" stroke="#000" stroke-width="1.4"/><text x="288.4" y="312.79999999999995" font-size="11.3" text-anchor="start" fill="#262626" font-weight="normal" font-style="normal" stroke="#262626" stroke-width="0.1" textLength="32.2" lengthAdjust="spacingAndGlyphs">2e-01</text><line x1="276.2" y1="363.2" x2="282.3" y2="363.2" stroke="#000" stroke-width="1.4"/><text x="288.4" y="368.09999999999997" font-size="11.3" text-anchor="start" fill="#262626" font-weight="normal" font-style="normal" stroke="#262626" stroke-width="0.1" textLength="32.2" lengthAdjust="spacingAndGlyphs">1e-01</text><line x1="276.2" y1="404.4" x2="282.3" y2="404.4" stroke="#000" stroke-width="1.4"/><text x="288.4" y="409.29999999999995" font-size="11.3" text-anchor="start" fill="#262626" font-weight="normal" font-style="normal" stroke="#262626" stroke-width="0.1" textLength="32.2" lengthAdjust="spacingAndGlyphs">6e-02</text><line x1="276.2" y1="436.8" x2="282.3" y2="436.8" stroke="#000" stroke-width="1.4"/><text x="288.4" y="441.7" font-size="11.3" text-anchor="start" fill="#262626" font-weight="normal" font-style="normal" stroke="#262626" stroke-width="0.1" textLength="32.2" lengthAdjust="spacingAndGlyphs">4e-02</text><line x1="278.8" y1="371.9" x2="282.3" y2="371.9" stroke="#000" stroke-width="1"/><line x1="278.8" y1="381.6" x2="282.3" y2="381.6" stroke="#000" stroke-width="1"/><line x1="278.8" y1="392.1" x2="282.3" y2="392.1" stroke="#000" stroke-width="1"/><line x1="278.8" y1="419.3" x2="282.3" y2="419.3" stroke="#000" stroke-width="1"/><line x1="278.8" y1="459.6" x2="282.3" y2="459.6" stroke="#000" stroke-width="1"/><text transform="translate(337.8,381) rotate(-90)" font-size="11.3" text-anchor="middle" fill="#262626" stroke="#262626" stroke-width="0.1" textLength="52" lengthAdjust="spacingAndGlyphs"><tspan font-style="italic">G</tspan> [2e<tspan dy="-4.5" font-size="8.5">2</tspan><tspan dy="4.5">/h]</tspan></text><text x="158" y="252.4" font-size="11.3" text-anchor="middle" fill="#262626" stroke="#262626" stroke-width="0.1" textLength="49" lengthAdjust="spacingAndGlyphs"><tspan font-style="italic">V</tspan><tspan font-size="8" dy="2.5">sd</tspan><tspan dy="-2.5"> [mV]</tspan></text><text x="158" y="519.4" font-size="11.3" text-anchor="middle" fill="#262626" stroke="#262626" stroke-width="0.1" textLength="49" lengthAdjust="spacingAndGlyphs"><tspan font-style="italic">V</tspan><tspan font-size="8" dy="2.5">sd</tspan><tspan dy="-2.5"> [mV]</tspan></text><text transform="translate(15.2,115.8) rotate(-90)" font-size="11.3" text-anchor="middle" fill="#262626" stroke="#262626" stroke-width="0.1" textLength="26.3" lengthAdjust="spacingAndGlyphs"><tspan font-style="italic">B</tspan> [T]</text><text transform="translate(15.2,382) rotate(-90)" font-size="11.3" text-anchor="middle" fill="#262626" stroke="#262626" stroke-width="0.1" textLength="26.3" lengthAdjust="spacingAndGlyphs"><tspan font-style="italic">B</tspan> [T]</text><g clip-path="url(#clb)"><path d="M444.5,200.13 L445.5,200.16 L446.5,200.20 L447.5,200.34 L448.5,200.46 L449.5,200.56 L450.5,200.74 L451.5,201.14 L452.5,201.69 L453.5,202.12 L454.5,202.20 L455.5,202.04 L456.5,201.89 L457.5,201.84 L458.5,201.95 L459.5,202.18 L460.5,202.45 L461.5,202.67 L462.5,202.82 L463.5,202.94 L464.5,203.08 L465.5,203.17 L466.5,203.13 L467.5,203.07 L468.5,203.13 L469.5,203.29 L470.5,203.36 L471.5,203.29 L472.5,203.15 L473.5,203.05 L474.5,203.00 L475.5,203.03 L476.5,203.11 L477.5,203.08 L478.5,202.87 L479.5,202.54 L480.5,202.25 L481.5,202.07 L482.5,201.95 L483.5,201.89 L484.5,201.90 L485.5,201.85 L486.5,201.66 L487.5,201.47 L488.5,201.43 L489.5,201.49 L490.5,201.50 L491.5,201.38 L492.5,201.13 L493.5,200.79 L494.5,200.43 L495.5,200.15 L496.5,199.97 L497.5,199.74 L498.5,199.38 L499.5,198.93 L500.5,198.50 L501.5,198.18 L502.5,197.93 L503.5,197.62 L504.5,197.20 L505.5,196.76 L506.5,196.34 L507.5,195.86 L508.5,195.39 L509.5,195.04 L510.5,194.73 L511.5,194.24 L512.5,193.63 L513.5,193.11 L514.5,192.73 L515.5,192.36 L516.5,191.87 L517.5,191.28 L518.5,190.71 L519.5,190.22 L520.5,189.73 L521.5,189.12 L522.5,188.49 L523.5,188.01 L524.5,187.67 L525.5,187.28 L526.5,186.69 L527.5,185.91 L528.5,184.97 L529.5,184.00 L530.5,183.15 L531.5,182.44 L532.5,181.71 L533.5,180.91 L534.5,180.15 L535.5,179.47 L536.5,178.77 L537.5,177.93 L538.5,177.02 L539.5,176.29 L540.5,175.78 L541.5,175.22 L542.5,174.42 L543.5,173.41 L544.5,172.35 L545.5,171.37 L546.5,170.45 L547.5,169.58 L548.5,168.76 L549.5,168.10 L550.5,167.66 L551.5,167.46 L552.5,167.44 L553.5,167.35 L554.5,166.99 L555.5,166.34 L556.5,165.67 L557.5,165.24 L558.5,165.05 L559.5,164.98 L560.5,165.02 L561.5,165.14 L562.5,165.26 L563.5,165.36 L564.5,165.64 L565.5,166.27 L566.5,167.17 L567.5,168.16 L568.5,169.04 L569.5,169.79 L570.5,170.54 L571.5,171.37 L572.5,172.19 L573.5,172.83 L574.5,173.30 L575.5,173.77 L576.5,174.43 L577.5,175.34 L578.5,176.32 L579.5,177.19 L580.5,177.94 L581.5,178.70 L582.5,179.51 L583.5,180.41 L584.5,181.45 L585.5,182.61 L586.5,183.61 L587.5,184.29 L588.5,184.84 L589.5,185.51 L590.5,186.43 L591.5,187.51 L592.5,188.57 L593.5,189.50 L594.5,190.33 L595.5,191.09 L596.5,191.81 L597.5,192.57 L598.5,193.44 L599.5,194.34 L600.5,195.19 L601.5,196.02 L602.5,196.89 L603.5,197.80 L604.5,198.66 L605.5,199.42 L606.5,200.15 L607.5,200.84 L608.5,201.39 L609.5,201.76 L610.5,202.07 L611.5,202.49 L612.5,203.06 L613.5,203.72 L614.5,204.38 L615.5,204.97 L616.5,205.42 L617.5,205.77 L618.5,206.03 L619.5,206.23 L620.5,206.46 L621.5,206.78 L622.5,207.18 L623.5,207.57 L624.5,207.78 L625.5,207.70 L626.5,207.43 L627.5,207.20 L628.5,207.11 L629.5,207.09 L630.5,207.10 L631.5,207.15 L632.5,207.24 L633.5,207.27 L634.5,207.19 L635.5,207.01 L636.5,206.77 L637.5,206.57 L638.5,206.51 L639.5,206.64 L640.5,206.90 L641.5,207.15 L642.5,207.31 L643.5,207.40 L644.5,207.37 L645.5,207.20 L646.5,206.91 L647.5,206.64 L648.5,206.48 L649.5,206.44 L650.5,206.51 L651.5,206.66 L652.5,206.79 L653.5,206.79 L654.5,206.64 L655.5,206.48 L656.5,206.37 L657.5,206.31 L658.5,206.27 L659.5,206.22 L660.5,206.12 L661.5,205.96 L662.5,205.75 L663.5,205.54 L664.5,205.41 L665.5,205.46 L666.5,205.63 L667.5,205.76 L668.5,205.67 L669.5,205.43 L670.5,205.19 L671.5,205.00 L672.5,204.83" stroke="#1f77b4" stroke-width="2.5" fill="none" stroke-linejoin="round"/><path d="M444.5,182.49 L445.5,182.52 L446.5,182.57 L447.5,182.78 L448.5,183.04 L449.5,183.27 L450.5,183.49 L451.5,183.69 L452.5,183.79 L453.5,183.81 L454.5,183.88 L455.5,184.09 L456.5,184.38 L457.5,184.56 L458.5,184.55 L459.5,184.48 L460.5,184.58 L461.5,184.86 L462.5,185.11 L463.5,185.18 L464.5,185.18 L465.5,185.25 L466.5,185.38 L467.5,185.46 L468.5,185.43 L469.5,185.36 L470.5,185.30 L471.5,185.27 L472.5,185.29 L473.5,185.32 L474.5,185.25 L475.5,185.10 L476.5,185.01 L477.5,185.11 L478.5,185.36 L479.5,185.61 L480.5,185.75 L481.5,185.75 L482.5,185.68 L483.5,185.60 L484.5,185.55 L485.5,185.51 L486.5,185.48 L487.5,185.45 L488.5,185.37 L489.5,185.21 L490.5,185.07 L491.5,185.00 L492.5,184.86 L493.5,184.57 L494.5,184.24 L495.5,183.95 L496.5,183.68 L497.5,183.44 L498.5,183.29 L499.5,183.19 L500.5,183.05 L501.5,182.83 L502.5,182.48 L503.5,182.04 L504.5,181.60 L505.5,181.31 L506.5,181.17 L507.5,181.07 L508.5,180.87 L509.5,180.54 L510.5,180.05 L511.5,179.39 L512.5,178.60 L513.5,177.84 L514.5,177.25 L515.5,176.71 L516.5,176.15 L517.5,175.58 L518.5,175.00 L519.5,174.37 L520.5,173.77 L521.5,173.31 L522.5,172.94 L523.5,172.55 L524.5,172.07 L525.5,171.40 L526.5,170.52 L527.5,169.63 L528.5,168.97 L529.5,168.56 L530.5,168.19 L531.5,167.71 L532.5,167.07 L533.5,166.34 L534.5,165.59 L535.5,164.79 L536.5,163.94 L537.5,163.11 L538.5,162.38 L539.5,161.78 L540.5,161.27 L541.5,160.89 L542.5,160.63 L543.5,160.39 L544.5,160.00 L545.5,159.36 L546.5,158.63 L547.5,157.98 L548.5,157.43 L549.5,156.86 L550.5,156.20 L551.5,155.48 L552.5,154.91 L553.5,154.61 L554.5,154.39 L555.5,154.06 L556.5,153.62 L557.5,153.21 L558.5,152.93 L559.5,152.74 L560.5,152.63 L561.5,152.56 L562.5,152.46 L563.5,152.39 L564.5,152.43 L565.5,152.57 L566.5,152.84 L567.5,153.27 L568.5,153.76 L569.5,154.15 L570.5,154.40 L571.5,154.70 L572.5,155.17 L573.5,155.76 L574.5,156.41 L575.5,157.04 L576.5,157.58 L577.5,157.96 L578.5,158.30 L579.5,158.81 L580.5,159.55 L581.5,160.32 L582.5,160.92 L583.5,161.47 L584.5,162.17 L585.5,163.00 L586.5,163.86 L587.5,164.74 L588.5,165.71 L589.5,166.71 L590.5,167.70 L591.5,168.69 L592.5,169.66 L593.5,170.53 L594.5,171.32 L595.5,172.18 L596.5,173.16 L597.5,174.21 L598.5,175.26 L599.5,176.29 L600.5,177.24 L601.5,178.02 L602.5,178.59 L603.5,179.04 L604.5,179.58 L605.5,180.29 L606.5,181.01 L607.5,181.56 L608.5,181.89 L609.5,182.16 L610.5,182.50 L611.5,182.96 L612.5,183.44 L613.5,183.78 L614.5,184.02 L615.5,184.37 L616.5,184.91 L617.5,185.47 L618.5,185.92 L619.5,186.34 L620.5,186.82 L621.5,187.27 L622.5,187.59 L623.5,187.81 L624.5,187.98 L625.5,188.10 L626.5,188.21 L627.5,188.38 L628.5,188.60 L629.5,188.76 L630.5,188.77 L631.5,188.73 L632.5,188.78 L633.5,188.88 L634.5,188.93 L635.5,188.96 L636.5,188.95 L637.5,188.89 L638.5,188.84 L639.5,188.91 L640.5,189.04 L641.5,189.09 L642.5,189.02 L643.5,188.91 L644.5,188.82 L645.5,188.66 L646.5,188.43 L647.5,188.27 L648.5,188.22 L649.5,188.26 L650.5,188.36 L651.5,188.46 L652.5,188.49 L653.5,188.44 L654.5,188.33 L655.5,188.20 L656.5,188.09 L657.5,188.02 L658.5,188.05 L659.5,188.14 L660.5,188.16 L661.5,188.16 L662.5,188.20 L663.5,188.28 L664.5,188.33 L665.5,188.32 L666.5,188.23 L667.5,188.08 L668.5,188.01 L669.5,188.12 L670.5,188.34 L671.5,188.52 L672.5,188.59" stroke="#aec7e8" stroke-width="2.5" fill="none" stroke-linejoin="round"/><path d="M444.5,165.23 L445.5,165.36 L446.5,165.51 L447.5,165.63 L448.5,165.71 L449.5,165.71 L450.5,165.71 L451.5,165.83 L452.5,166.13 L453.5,166.44 L454.5,166.49 L455.5,166.22 L456.5,165.85 L457.5,165.65 L458.5,165.68 L459.5,165.79 L460.5,165.86 L461.5,165.87 L462.5,165.87 L463.5,165.91 L464.5,166.01 L465.5,166.14 L466.5,166.25 L467.5,166.21 L468.5,166.07 L469.5,166.00 L470.5,166.05 L471.5,166.09 L472.5,166.08 L473.5,166.13 L474.5,166.28 L475.5,166.48 L476.5,166.71 L477.5,166.94 L478.5,167.11 L479.5,167.16 L480.5,167.13 L481.5,167.06 L482.5,166.92 L483.5,166.72 L484.5,166.58 L485.5,166.61 L486.5,166.73 L487.5,166.81 L488.5,166.81 L489.5,166.78 L490.5,166.77 L491.5,166.70 L492.5,166.51 L493.5,166.28 L494.5,166.09 L495.5,165.97 L496.5,165.91 L497.5,165.92 L498.5,165.93 L499.5,165.83 L500.5,165.59 L501.5,165.30 L502.5,165.05 L503.5,164.79 L504.5,164.54 L505.5,164.37 L506.5,164.26 L507.5,164.07 L508.5,163.74 L509.5,163.36 L510.5,163.06 L511.5,162.85 L512.5,162.57 L513.5,162.10 L514.5,161.48 L515.5,160.81 L516.5,160.17 L517.5,159.62 L518.5,159.15 L519.5,158.69 L520.5,158.23 L521.5,157.86 L522.5,157.57 L523.5,157.18 L524.5,156.61 L525.5,155.95 L526.5,155.28 L527.5,154.61 L528.5,153.97 L529.5,153.40 L530.5,152.83 L531.5,152.19 L532.5,151.48 L533.5,150.77 L534.5,150.13 L535.5,149.50 L536.5,148.85 L537.5,148.22 L538.5,147.73 L539.5,147.45 L540.5,147.32 L541.5,147.18 L542.5,146.94 L543.5,146.61 L544.5,146.32 L545.5,146.13 L546.5,145.85 L547.5,145.29 L548.5,144.59 L549.5,144.16 L550.5,144.18 L551.5,144.35 L552.5,144.39 L553.5,144.30 L554.5,144.15 L555.5,144.04 L556.5,144.00 L557.5,143.98 L558.5,143.88 L559.5,143.70 L560.5,143.54 L561.5,143.50 L562.5,143.57 L563.5,143.63 L564.5,143.43 L565.5,142.98 L566.5,142.62 L567.5,142.61 L568.5,142.81 L569.5,142.95 L570.5,142.87 L571.5,142.68 L572.5,142.59 L573.5,142.61 L574.5,142.75 L575.5,143.02 L576.5,143.41 L577.5,143.89 L578.5,144.41 L579.5,144.91 L580.5,145.37 L581.5,145.89 L582.5,146.55 L583.5,147.34 L584.5,148.14 L585.5,148.84 L586.5,149.40 L587.5,149.94 L588.5,150.58 L589.5,151.31 L590.5,152.03 L591.5,152.68 L592.5,153.28 L593.5,153.77 L594.5,154.21 L595.5,154.73 L596.5,155.36 L597.5,156.05 L598.5,156.80 L599.5,157.64 L600.5,158.46 L601.5,159.19 L602.5,159.87 L603.5,160.46 L604.5,160.85 L605.5,161.12 L606.5,161.43 L607.5,161.81 L608.5,162.22 L609.5,162.70 L610.5,163.29 L611.5,163.90 L612.5,164.47 L613.5,164.96 L614.5,165.36 L615.5,165.68 L616.5,166.04 L617.5,166.47 L618.5,166.89 L619.5,167.23 L620.5,167.49 L621.5,167.71 L622.5,167.94 L623.5,168.19 L624.5,168.43 L625.5,168.64 L626.5,168.79 L627.5,168.92 L628.5,169.10 L629.5,169.41 L630.5,169.78 L631.5,170.06 L632.5,170.20 L633.5,170.27 L634.5,170.28 L635.5,170.29 L636.5,170.36 L637.5,170.51 L638.5,170.68 L639.5,170.85 L640.5,171.05 L641.5,171.29 L642.5,171.56 L643.5,171.79 L644.5,171.86 L645.5,171.71 L646.5,171.38 L647.5,171.03 L648.5,170.77 L649.5,170.66 L650.5,170.74 L651.5,171.04 L652.5,171.42 L653.5,171.62 L654.5,171.54 L655.5,171.33 L656.5,171.17 L657.5,171.15 L658.5,171.24 L659.5,171.42 L660.5,171.64 L661.5,171.81 L662.5,171.79 L663.5,171.57 L664.5,171.27 L665.5,171.07 L666.5,170.96 L667.5,170.76 L668.5,170.40 L669.5,170.02 L670.5,169.81 L671.5,169.78 L672.5,169.79" stroke="#ff7f0e" stroke-width="2.5" fill="none" stroke-linejoin="round"/><path d="M444.5,148.01 L445.5,148.03 L446.5,148.16 L447.5,148.41 L448.5,148.65 L449.5,148.73 L450.5,148.70 L451.5,148.72 L452.5,148.79 L453.5,148.80 L454.5,148.69 L455.5,148.53 L456.5,148.43 L457.5,148.52 L458.5,148.76 L459.5,149.00 L460.5,149.04 L461.5,148.86 L462.5,148.66 L463.5,148.61 L464.5,148.64 L465.5,148.58 L466.5,148.49 L467.5,148.53 L468.5,148.71 L469.5,148.83 L470.5,148.80 L471.5,148.71 L472.5,148.63 L473.5,148.66 L474.5,148.87 L475.5,149.11 L476.5,149.16 L477.5,149.05 L478.5,148.95 L479.5,148.92 L480.5,148.90 L481.5,148.88 L482.5,148.86 L483.5,148.82 L484.5,148.74 L485.5,148.67 L486.5,148.67 L487.5,148.79 L488.5,148.95 L489.5,149.07 L490.5,149.03 L491.5,148.84 L492.5,148.63 L493.5,148.52 L494.5,148.52 L495.5,148.52 L496.5,148.44 L497.5,148.26 L498.5,148.04 L499.5,147.84 L500.5,147.68 L501.5,147.56 L502.5,147.45 L503.5,147.26 L504.5,146.91 L505.5,146.49 L506.5,146.06 L507.5,145.68 L508.5,145.39 L509.5,145.16 L510.5,144.99 L511.5,144.83 L512.5,144.53 L513.5,144.04 L514.5,143.37 L515.5,142.60 L516.5,141.80 L517.5,141.09 L518.5,140.63 L519.5,140.39 L520.5,140.17 L521.5,139.79 L522.5,139.30 L523.5,138.70 L524.5,137.97 L525.5,137.19 L526.5,136.54 L527.5,136.14 L528.5,135.90 L529.5,135.57 L530.5,135.02 L531.5,134.39 L532.5,133.90 L533.5,133.61 L534.5,133.53 L535.5,133.63 L536.5,133.72 L537.5,133.64 L538.5,133.37 L539.5,133.11 L540.5,133.05 L541.5,133.15 L542.5,133.15 L543.5,133.03 L544.5,132.95 L545.5,132.97 L546.5,132.96 L547.5,132.88 L548.5,132.78 L549.5,132.66 L550.5,132.46 L551.5,132.09 L552.5,131.66 L553.5,131.43 L554.5,131.51 L555.5,131.81 L556.5,132.16 L557.5,132.37 L558.5,132.39 L559.5,132.34 L560.5,132.32 L561.5,132.31 L562.5,132.29 L563.5,132.29 L564.5,132.29 L565.5,132.24 L566.5,132.09 L567.5,131.87 L568.5,131.59 L569.5,131.31 L570.5,131.12 L571.5,131.06 L572.5,131.08 L573.5,131.10 L574.5,131.16 L575.5,131.36 L576.5,131.66 L577.5,131.93 L578.5,132.14 L579.5,132.35 L580.5,132.56 L581.5,132.71 L582.5,132.81 L583.5,133.01 L584.5,133.37 L585.5,133.73 L586.5,134.05 L587.5,134.45 L588.5,135.03 L589.5,135.79 L590.5,136.65 L591.5,137.41 L592.5,137.90 L593.5,138.18 L594.5,138.52 L595.5,139.03 L596.5,139.67 L597.5,140.34 L598.5,140.95 L599.5,141.48 L600.5,142.08 L601.5,142.78 L602.5,143.44 L603.5,143.91 L604.5,144.19 L605.5,144.40 L606.5,144.65 L607.5,144.96 L608.5,145.32 L609.5,145.67 L610.5,146.02 L611.5,146.45 L612.5,146.94 L613.5,147.38 L614.5,147.77 L615.5,148.20 L616.5,148.68 L617.5,149.13 L618.5,149.53 L619.5,149.98 L620.5,150.47 L621.5,150.83 L622.5,150.93 L623.5,150.94 L624.5,151.15 L625.5,151.65 L626.5,152.19 L627.5,152.51 L628.5,152.59 L629.5,152.57 L630.5,152.64 L631.5,152.83 L632.5,152.96 L633.5,152.95 L634.5,152.85 L635.5,152.83 L636.5,152.88 L637.5,152.89 L638.5,152.85 L639.5,152.84 L640.5,152.93 L641.5,153.00 L642.5,152.90 L643.5,152.70 L644.5,152.59 L645.5,152.61 L646.5,152.64 L647.5,152.64 L648.5,152.75 L649.5,152.97 L650.5,153.16 L651.5,153.23 L652.5,153.26 L653.5,153.28 L654.5,153.28 L655.5,153.27 L656.5,153.24 L657.5,153.14 L658.5,152.92 L659.5,152.64 L660.5,152.33 L661.5,152.07 L662.5,151.95 L663.5,151.96 L664.5,152.01 L665.5,152.04 L666.5,152.07 L667.5,152.03 L668.5,151.88 L669.5,151.71 L670.5,151.59 L671.5,151.48 L672.5,151.32" stroke="#ffbb78" stroke-width="2.5" fill="none" stroke-linejoin="round"/><path d="M444.5,132.93 L445.5,132.81 L446.5,132.57 L447.5,132.23 L448.5,131.87 L449.5,131.48 L450.5,131.10 L451.5,130.89 L452.5,131.01 L453.5,131.32 L454.5,131.52 L455.5,131.46 L456.5,131.25 L457.5,131.10 L458.5,131.05 L459.5,131.04 L460.5,131.04 L461.5,131.10 L462.5,131.19 L463.5,131.31 L464.5,131.45 L465.5,131.54 L466.5,131.54 L467.5,131.52 L468.5,131.53 L469.5,131.50 L470.5,131.37 L471.5,131.23 L472.5,131.17 L473.5,131.20 L474.5,131.26 L475.5,131.26 L476.5,131.17 L477.5,131.08 L478.5,131.10 L479.5,131.18 L480.5,131.17 L481.5,131.05 L482.5,130.89 L483.5,130.76 L484.5,130.73 L485.5,130.84 L486.5,131.00 L487.5,131.08 L488.5,131.12 L489.5,131.24 L490.5,131.43 L491.5,131.50 L492.5,131.41 L493.5,131.31 L494.5,131.33 L495.5,131.41 L496.5,131.41 L497.5,131.37 L498.5,131.35 L499.5,131.33 L500.5,131.25 L501.5,131.11 L502.5,130.90 L503.5,130.66 L504.5,130.39 L505.5,130.07 L506.5,129.71 L507.5,129.28 L508.5,128.75 L509.5,128.21 L510.5,127.86 L511.5,127.61 L512.5,127.29 L513.5,126.79 L514.5,126.12 L515.5,125.43 L516.5,124.86 L517.5,124.42 L518.5,124.03 L519.5,123.65 L520.5,123.32 L521.5,123.03 L522.5,122.68 L523.5,122.31 L524.5,121.94 L525.5,121.47 L526.5,120.88 L527.5,120.41 L528.5,120.21 L529.5,120.13 L530.5,119.96 L531.5,119.75 L532.5,119.71 L533.5,119.79 L534.5,119.79 L535.5,119.62 L536.5,119.41 L537.5,119.24 L538.5,119.14 L539.5,119.16 L540.5,119.28 L541.5,119.36 L542.5,119.32 L543.5,119.14 L544.5,118.93 L545.5,118.75 L546.5,118.65 L547.5,118.67 L548.5,118.77 L549.5,118.85 L550.5,118.88 L551.5,118.87 L552.5,118.89 L553.5,118.96 L554.5,119.01 L555.5,118.97 L556.5,118.80 L557.5,118.59 L558.5,118.50 L559.5,118.62 L560.5,118.88 L561.5,119.12 L562.5,119.26 L563.5,119.37 L564.5,119.56 L565.5,119.77 L566.5,119.87 L567.5,119.82 L568.5,119.72 L569.5,119.67 L570.5,119.69 L571.5,119.75 L572.5,119.73 L573.5,119.59 L574.5,119.39 L575.5,119.32 L576.5,119.51 L577.5,119.94 L578.5,120.32 L579.5,120.43 L580.5,120.35 L581.5,120.36 L582.5,120.52 L583.5,120.72 L584.5,120.91 L585.5,121.16 L586.5,121.45 L587.5,121.67 L588.5,121.80 L589.5,121.86 L590.5,121.88 L591.5,121.94 L592.5,122.13 L593.5,122.43 L594.5,122.73 L595.5,123.04 L596.5,123.49 L597.5,124.15 L598.5,124.80 L599.5,125.22 L600.5,125.36 L601.5,125.39 L602.5,125.54 L603.5,125.83 L604.5,126.15 L605.5,126.51 L606.5,126.94 L607.5,127.39 L608.5,127.82 L609.5,128.28 L610.5,128.77 L611.5,129.20 L612.5,129.59 L613.5,129.90 L614.5,130.14 L615.5,130.36 L616.5,130.63 L617.5,130.89 L618.5,131.14 L619.5,131.41 L620.5,131.76 L621.5,132.17 L622.5,132.61 L623.5,133.01 L624.5,133.34 L625.5,133.62 L626.5,133.83 L627.5,133.91 L628.5,133.99 L629.5,134.20 L630.5,134.48 L631.5,134.58 L632.5,134.57 L633.5,134.67 L634.5,134.93 L635.5,135.24 L636.5,135.51 L637.5,135.66 L638.5,135.73 L639.5,135.81 L640.5,135.96 L641.5,136.09 L642.5,136.15 L643.5,136.17 L644.5,136.12 L645.5,135.94 L646.5,135.67 L647.5,135.51 L648.5,135.59 L649.5,135.85 L650.5,136.11 L651.5,136.21 L652.5,136.11 L653.5,135.86 L654.5,135.57 L655.5,135.40 L656.5,135.38 L657.5,135.34 L658.5,135.17 L659.5,134.92 L660.5,134.75 L661.5,134.70 L662.5,134.72 L663.5,134.77 L664.5,134.84 L665.5,134.91 L666.5,134.88 L667.5,134.66 L668.5,134.36 L669.5,134.26 L670.5,134.45 L671.5,134.71 L672.5,134.79" stroke="#2ca02c" stroke-width="2.5" fill="none" stroke-linejoin="round"/><path d="M444.5,117.23 L445.5,117.00 L446.5,116.69 L447.5,116.43 L448.5,116.34 L449.5,116.38 L450.5,116.39 L451.5,116.27 L452.5,116.06 L453.5,115.89 L454.5,115.72 L455.5,115.44 L456.5,115.14 L457.5,115.06 L458.5,115.23 L459.5,115.44 L460.5,115.48 L461.5,115.32 L462.5,115.12 L463.5,114.91 L464.5,114.67 L465.5,114.46 L466.5,114.40 L467.5,114.48 L468.5,114.54 L469.5,114.54 L470.5,114.45 L471.5,114.22 L472.5,113.88 L473.5,113.65 L474.5,113.60 L475.5,113.56 L476.5,113.43 L477.5,113.26 L478.5,113.12 L479.5,112.99 L480.5,112.83 L481.5,112.59 L482.5,112.32 L483.5,112.16 L484.5,112.13 L485.5,112.14 L486.5,112.10 L487.5,111.95 L488.5,111.73 L489.5,111.45 L490.5,111.12 L491.5,110.82 L492.5,110.68 L493.5,110.72 L494.5,110.88 L495.5,111.10 L496.5,111.30 L497.5,111.43 L498.5,111.43 L499.5,111.30 L500.5,111.11 L501.5,110.93 L502.5,110.69 L503.5,110.44 L504.5,110.28 L505.5,110.21 L506.5,110.14 L507.5,110.01 L508.5,109.82 L509.5,109.58 L510.5,109.33 L511.5,109.10 L512.5,108.89 L513.5,108.69 L514.5,108.59 L515.5,108.64 L516.5,108.71 L517.5,108.62 L518.5,108.36 L519.5,108.02 L520.5,107.69 L521.5,107.48 L522.5,107.44 L523.5,107.46 L524.5,107.42 L525.5,107.25 L526.5,106.98 L527.5,106.72 L528.5,106.61 L529.5,106.58 L530.5,106.44 L531.5,106.12 L532.5,105.82 L533.5,105.65 L534.5,105.49 L535.5,105.27 L536.5,105.11 L537.5,105.12 L538.5,105.21 L539.5,105.31 L540.5,105.41 L541.5,105.50 L542.5,105.53 L543.5,105.55 L544.5,105.72 L545.5,106.00 L546.5,106.19 L547.5,106.13 L548.5,105.91 L549.5,105.75 L550.5,105.78 L551.5,105.98 L552.5,106.24 L553.5,106.50 L554.5,106.68 L555.5,106.73 L556.5,106.66 L557.5,106.52 L558.5,106.41 L559.5,106.47 L560.5,106.68 L561.5,106.86 L562.5,106.91 L563.5,106.85 L564.5,106.69 L565.5,106.50 L566.5,106.39 L567.5,106.47 L568.5,106.66 L569.5,106.86 L570.5,107.08 L571.5,107.27 L572.5,107.28 L573.5,107.10 L574.5,106.92 L575.5,106.86 L576.5,106.94 L577.5,107.09 L578.5,107.26 L579.5,107.43 L580.5,107.64 L581.5,107.83 L582.5,107.85 L583.5,107.63 L584.5,107.28 L585.5,107.00 L586.5,106.85 L587.5,106.86 L588.5,106.98 L589.5,107.13 L590.5,107.25 L591.5,107.31 L592.5,107.33 L593.5,107.45 L594.5,107.70 L595.5,107.89 L596.5,107.89 L597.5,107.87 L598.5,108.10 L599.5,108.61 L600.5,109.18 L601.5,109.58 L602.5,109.79 L603.5,109.89 L604.5,109.97 L605.5,110.08 L606.5,110.21 L607.5,110.39 L608.5,110.65 L609.5,110.98 L610.5,111.37 L611.5,111.82 L612.5,112.21 L613.5,112.47 L614.5,112.69 L615.5,113.00 L616.5,113.34 L617.5,113.56 L618.5,113.73 L619.5,113.99 L620.5,114.32 L621.5,114.65 L622.5,114.94 L623.5,115.10 L624.5,115.02 L625.5,114.83 L626.5,114.80 L627.5,114.97 L628.5,115.17 L629.5,115.20 L630.5,115.17 L631.5,115.28 L632.5,115.56 L633.5,115.83 L634.5,116.01 L635.5,116.16 L636.5,116.32 L637.5,116.51 L638.5,116.66 L639.5,116.72 L640.5,116.72 L641.5,116.72 L642.5,116.75 L643.5,116.85 L644.5,117.06 L645.5,117.31 L646.5,117.44 L647.5,117.40 L648.5,117.30 L649.5,117.23 L650.5,117.23 L651.5,117.29 L652.5,117.33 L653.5,117.24 L654.5,117.04 L655.5,116.89 L656.5,116.90 L657.5,117.03 L658.5,117.12 L659.5,117.12 L660.5,117.12 L661.5,117.20 L662.5,117.29 L663.5,117.26 L664.5,117.15 L665.5,117.04 L666.5,116.94 L667.5,116.85 L668.5,116.77 L669.5,116.66 L670.5,116.54 L671.5,116.46 L672.5,116.40" stroke="#98df8a" stroke-width="2.5" fill="none" stroke-linejoin="round"/><path d="M444.5,101.65 L445.5,101.37 L446.5,101.14 L447.5,101.06 L448.5,101.09 L449.5,101.07 L450.5,100.92 L451.5,100.62 L452.5,100.23 L453.5,99.86 L454.5,99.62 L455.5,99.50 L456.5,99.44 L457.5,99.36 L458.5,99.26 L459.5,99.21 L460.5,99.13 L461.5,98.93 L462.5,98.62 L463.5,98.31 L464.5,97.99 L465.5,97.66 L466.5,97.33 L467.5,97.09 L468.5,96.92 L469.5,96.77 L470.5,96.64 L471.5,96.54 L472.5,96.37 L473.5,96.14 L474.5,95.89 L475.5,95.63 L476.5,95.40 L477.5,95.28 L478.5,95.33 L479.5,95.45 L480.5,95.53 L481.5,95.50 L482.5,95.35 L483.5,95.11 L484.5,94.94 L485.5,94.90 L486.5,94.90 L487.5,94.79 L488.5,94.60 L489.5,94.42 L490.5,94.29 L491.5,94.13 L492.5,93.91 L493.5,93.66 L494.5,93.48 L495.5,93.47 L496.5,93.57 L497.5,93.64 L498.5,93.54 L499.5,93.32 L500.5,93.11 L501.5,92.97 L502.5,92.84 L503.5,92.75 L504.5,92.76 L505.5,92.75 L506.5,92.54 L507.5,92.17 L508.5,91.83 L509.5,91.59 L510.5,91.36 L511.5,91.16 L512.5,90.99 L513.5,90.91 L514.5,91.00 L515.5,91.24 L516.5,91.49 L517.5,91.60 L518.5,91.59 L519.5,91.58 L520.5,91.60 L521.5,91.51 L522.5,91.28 L523.5,91.02 L524.5,90.88 L525.5,90.88 L526.5,90.94 L527.5,90.99 L528.5,91.08 L529.5,91.27 L530.5,91.46 L531.5,91.50 L532.5,91.35 L533.5,91.15 L534.5,91.07 L535.5,91.21 L536.5,91.51 L537.5,91.76 L538.5,91.81 L539.5,91.72 L540.5,91.63 L541.5,91.57 L542.5,91.44 L543.5,91.32 L544.5,91.38 L545.5,91.68 L546.5,92.07 L547.5,92.35 L548.5,92.41 L549.5,92.42 L550.5,92.53 L551.5,92.71 L552.5,92.87 L553.5,93.04 L554.5,93.22 L555.5,93.30 L556.5,93.25 L557.5,93.18 L558.5,93.18 L559.5,93.27 L560.5,93.39 L561.5,93.49 L562.5,93.51 L563.5,93.40 L564.5,93.23 L565.5,93.12 L566.5,93.12 L567.5,93.20 L568.5,93.26 L569.5,93.24 L570.5,93.17 L571.5,93.15 L572.5,93.19 L573.5,93.23 L574.5,93.27 L575.5,93.25 L576.5,93.09 L577.5,92.95 L578.5,93.04 L579.5,93.29 L580.5,93.47 L581.5,93.51 L582.5,93.45 L583.5,93.34 L584.5,93.30 L585.5,93.37 L586.5,93.52 L587.5,93.67 L588.5,93.75 L589.5,93.73 L590.5,93.66 L591.5,93.61 L592.5,93.67 L593.5,93.78 L594.5,93.81 L595.5,93.71 L596.5,93.56 L597.5,93.46 L598.5,93.45 L599.5,93.51 L600.5,93.61 L601.5,93.78 L602.5,93.99 L603.5,94.14 L604.5,94.19 L605.5,94.15 L606.5,94.03 L607.5,93.95 L608.5,94.10 L609.5,94.44 L610.5,94.68 L611.5,94.67 L612.5,94.50 L613.5,94.36 L614.5,94.35 L615.5,94.51 L616.5,94.76 L617.5,95.05 L618.5,95.41 L619.5,95.83 L620.5,96.20 L621.5,96.34 L622.5,96.26 L623.5,96.10 L624.5,96.03 L625.5,96.16 L626.5,96.42 L627.5,96.64 L628.5,96.73 L629.5,96.74 L630.5,96.73 L631.5,96.83 L632.5,97.08 L633.5,97.36 L634.5,97.55 L635.5,97.65 L636.5,97.74 L637.5,97.92 L638.5,98.20 L639.5,98.47 L640.5,98.53 L641.5,98.33 L642.5,97.99 L643.5,97.71 L644.5,97.60 L645.5,97.71 L646.5,98.00 L647.5,98.33 L648.5,98.50 L649.5,98.45 L650.5,98.28 L651.5,98.09 L652.5,97.96 L653.5,97.93 L654.5,98.02 L655.5,98.22 L656.5,98.37 L657.5,98.41 L658.5,98.39 L659.5,98.40 L660.5,98.48 L661.5,98.58 L662.5,98.66 L663.5,98.79 L664.5,99.03 L665.5,99.32 L666.5,99.49 L667.5,99.43 L668.5,99.17 L669.5,98.90 L670.5,98.89 L671.5,99.17 L672.5,99.47" stroke="#d62728" stroke-width="2.5" fill="none" stroke-linejoin="round"/><path d="M444.5,85.92 L445.5,85.53 L446.5,85.20 L447.5,85.02 L448.5,84.92 L449.5,84.82 L450.5,84.65 L451.5,84.38 L452.5,84.06 L453.5,83.76 L454.5,83.56 L455.5,83.45 L456.5,83.34 L457.5,83.21 L458.5,83.12 L459.5,83.05 L460.5,82.94 L461.5,82.76 L462.5,82.60 L463.5,82.55 L464.5,82.56 L465.5,82.50 L466.5,82.29 L467.5,81.98 L468.5,81.68 L469.5,81.49 L470.5,81.38 L471.5,81.27 L472.5,81.15 L473.5,81.04 L474.5,80.86 L475.5,80.57 L476.5,80.19 L477.5,79.84 L478.5,79.50 L479.5,79.15 L480.5,78.77 L481.5,78.38 L482.5,77.99 L483.5,77.70 L484.5,77.57 L485.5,77.54 L486.5,77.46 L487.5,77.24 L488.5,76.86 L489.5,76.46 L490.5,76.20 L491.5,76.12 L492.5,76.13 L493.5,76.09 L494.5,75.92 L495.5,75.60 L496.5,75.25 L497.5,75.04 L498.5,74.99 L499.5,74.99 L500.5,74.95 L501.5,74.90 L502.5,74.94 L503.5,75.12 L504.5,75.36 L505.5,75.51 L506.5,75.54 L507.5,75.54 L508.5,75.57 L509.5,75.64 L510.5,75.69 L511.5,75.64 L512.5,75.50 L513.5,75.29 L514.5,75.09 L515.5,75.05 L516.5,75.31 L517.5,75.73 L518.5,76.01 L519.5,76.08 L520.5,76.09 L521.5,76.14 L522.5,76.21 L523.5,76.22 L524.5,76.13 L525.5,76.06 L526.5,76.20 L527.5,76.53 L528.5,76.84 L529.5,76.97 L530.5,77.00 L531.5,77.08 L532.5,77.31 L533.5,77.66 L534.5,78.02 L535.5,78.22 L536.5,78.23 L537.5,78.21 L538.5,78.29 L539.5,78.43 L540.5,78.52 L541.5,78.54 L542.5,78.56 L543.5,78.64 L544.5,78.80 L545.5,78.96 L546.5,79.04 L547.5,79.09 L548.5,79.11 L549.5,79.08 L550.5,79.03 L551.5,79.02 L552.5,79.07 L553.5,79.18 L554.5,79.33 L555.5,79.49 L556.5,79.59 L557.5,79.64 L558.5,79.72 L559.5,79.82 L560.5,79.83 L561.5,79.77 L562.5,79.74 L563.5,79.73 L564.5,79.73 L565.5,79.74 L566.5,79.80 L567.5,79.86 L568.5,79.90 L569.5,79.95 L570.5,80.00 L571.5,80.01 L572.5,79.96 L573.5,79.83 L574.5,79.72 L575.5,79.70 L576.5,79.76 L577.5,79.87 L578.5,80.01 L579.5,80.07 L580.5,80.00 L581.5,79.86 L582.5,79.75 L583.5,79.64 L584.5,79.46 L585.5,79.28 L586.5,79.22 L587.5,79.24 L588.5,79.21 L589.5,79.14 L590.5,79.15 L591.5,79.22 L592.5,79.22 L593.5,79.14 L594.5,79.08 L595.5,79.06 L596.5,78.99 L597.5,78.87 L598.5,78.78 L599.5,78.77 L600.5,78.82 L601.5,78.86 L602.5,78.91 L603.5,79.04 L604.5,79.18 L605.5,79.25 L606.5,79.24 L607.5,79.22 L608.5,79.23 L609.5,79.24 L610.5,79.21 L611.5,79.08 L612.5,78.95 L613.5,78.90 L614.5,78.95 L615.5,79.07 L616.5,79.24 L617.5,79.47 L618.5,79.72 L619.5,79.90 L620.5,79.97 L621.5,79.93 L622.5,79.85 L623.5,79.82 L624.5,79.90 L625.5,80.04 L626.5,80.22 L627.5,80.55 L628.5,80.98 L629.5,81.28 L630.5,81.33 L631.5,81.28 L632.5,81.31 L633.5,81.38 L634.5,81.38 L635.5,81.31 L636.5,81.32 L637.5,81.49 L638.5,81.82 L639.5,82.12 L640.5,82.19 L641.5,82.09 L642.5,82.08 L643.5,82.23 L644.5,82.41 L645.5,82.51 L646.5,82.55 L647.5,82.54 L648.5,82.45 L649.5,82.30 L650.5,82.19 L651.5,82.22 L652.5,82.38 L653.5,82.56 L654.5,82.70 L655.5,82.79 L656.5,82.87 L657.5,83.02 L658.5,83.20 L659.5,83.30 L660.5,83.27 L661.5,83.21 L662.5,83.15 L663.5,83.06 L664.5,82.90 L665.5,82.71 L666.5,82.61 L667.5,82.66 L668.5,82.78 L669.5,82.84 L670.5,82.80 L671.5,82.77 L672.5,82.78" stroke="#ff9896" stroke-width="2.5" fill="none" stroke-linejoin="round"/><path d="M444.5,67.89 L445.5,67.67 L446.5,67.44 L447.5,67.32 L448.5,67.39 L449.5,67.57 L450.5,67.65 L451.5,67.52 L452.5,67.29 L453.5,67.17 L454.5,67.11 L455.5,66.91 L456.5,66.49 L457.5,65.99 L458.5,65.61 L459.5,65.42 L460.5,65.35 L461.5,65.29 L462.5,65.14 L463.5,64.94 L464.5,64.83 L465.5,64.83 L466.5,64.77 L467.5,64.53 L468.5,64.17 L469.5,63.89 L470.5,63.73 L471.5,63.60 L472.5,63.43 L473.5,63.25 L474.5,63.08 L475.5,62.94 L476.5,62.92 L477.5,62.97 L478.5,62.84 L479.5,62.42 L480.5,61.85 L481.5,61.35 L482.5,61.04 L483.5,60.94 L484.5,60.95 L485.5,60.91 L486.5,60.68 L487.5,60.31 L488.5,60.01 L489.5,59.82 L490.5,59.66 L491.5,59.44 L492.5,59.19 L493.5,58.98 L494.5,58.88 L495.5,58.98 L496.5,59.23 L497.5,59.41 L498.5,59.36 L499.5,59.14 L500.5,58.96 L501.5,58.94 L502.5,58.93 L503.5,58.90 L504.5,58.99 L505.5,59.22 L506.5,59.43 L507.5,59.50 L508.5,59.51 L509.5,59.55 L510.5,59.64 L511.5,59.77 L512.5,59.93 L513.5,60.07 L514.5,60.16 L515.5,60.28 L516.5,60.42 L517.5,60.53 L518.5,60.59 L519.5,60.69 L520.5,60.84 L521.5,61.05 L522.5,61.29 L523.5,61.44 L524.5,61.38 L525.5,61.21 L526.5,61.11 L527.5,61.11 L528.5,61.14 L529.5,61.24 L530.5,61.47 L531.5,61.82 L532.5,62.21 L533.5,62.58 L534.5,62.90 L535.5,63.20 L536.5,63.49 L537.5,63.78 L538.5,63.97 L539.5,63.98 L540.5,63.87 L541.5,63.83 L542.5,63.96 L543.5,64.21 L544.5,64.51 L545.5,64.70 L546.5,64.68 L547.5,64.55 L548.5,64.44 L549.5,64.38 L550.5,64.34 L551.5,64.31 L552.5,64.32 L553.5,64.37 L554.5,64.47 L555.5,64.61 L556.5,64.73 L557.5,64.75 L558.5,64.70 L559.5,64.70 L560.5,64.82 L561.5,64.93 L562.5,64.95 L563.5,64.88 L564.5,64.79 L565.5,64.66 L566.5,64.53 L567.5,64.49 L568.5,64.55 L569.5,64.60 L570.5,64.56 L571.5,64.50 L572.5,64.54 L573.5,64.73 L574.5,64.93 L575.5,65.01 L576.5,65.08 L577.5,65.30 L578.5,65.53 L579.5,65.49 L580.5,65.19 L581.5,64.88 L582.5,64.77 L583.5,64.83 L584.5,64.89 L585.5,64.89 L586.5,64.87 L587.5,64.85 L588.5,64.86 L589.5,64.93 L590.5,64.95 L591.5,64.84 L592.5,64.67 L593.5,64.59 L594.5,64.71 L595.5,64.99 L596.5,65.18 L597.5,65.14 L598.5,64.95 L599.5,64.75 L600.5,64.65 L601.5,64.67 L602.5,64.70 L603.5,64.65 L604.5,64.52 L605.5,64.40 L606.5,64.36 L607.5,64.33 L608.5,64.21 L609.5,64.03 L610.5,63.88 L611.5,63.78 L612.5,63.74 L613.5,63.73 L614.5,63.72 L615.5,63.68 L616.5,63.65 L617.5,63.63 L618.5,63.59 L619.5,63.57 L620.5,63.64 L621.5,63.76 L622.5,63.77 L623.5,63.68 L624.5,63.58 L625.5,63.51 L626.5,63.44 L627.5,63.36 L628.5,63.24 L629.5,63.06 L630.5,62.85 L631.5,62.78 L632.5,62.91 L633.5,63.14 L634.5,63.35 L635.5,63.51 L636.5,63.62 L637.5,63.67 L638.5,63.70 L639.5,63.74 L640.5,63.78 L641.5,63.77 L642.5,63.68 L643.5,63.57 L644.5,63.53 L645.5,63.61 L646.5,63.80 L647.5,64.01 L648.5,64.26 L649.5,64.57 L650.5,64.84 L651.5,64.93 L652.5,64.88 L653.5,64.83 L654.5,64.85 L655.5,64.92 L656.5,64.98 L657.5,65.01 L658.5,65.00 L659.5,64.99 L660.5,65.03 L661.5,65.18 L662.5,65.40 L663.5,65.60 L664.5,65.73 L665.5,65.79 L666.5,65.76 L667.5,65.69 L668.5,65.71 L669.5,65.80 L670.5,65.93 L671.5,66.10 L672.5,66.29" stroke="#9467bd" stroke-width="2.5" fill="none" stroke-linejoin="round"/><path d="M444.5,50.45 L445.5,50.39 L446.5,50.29 L447.5,50.12 L448.5,49.94 L449.5,49.83 L450.5,49.77 L451.5,49.66 L452.5,49.51 L453.5,49.35 L454.5,49.25 L455.5,49.21 L456.5,49.18 L457.5,49.05 L458.5,48.83 L459.5,48.63 L460.5,48.52 L461.5,48.44 L462.5,48.28 L463.5,47.96 L464.5,47.56 L465.5,47.29 L466.5,47.22 L467.5,47.26 L468.5,47.35 L469.5,47.47 L470.5,47.60 L471.5,47.69 L472.5,47.72 L473.5,47.64 L474.5,47.48 L475.5,47.25 L476.5,46.93 L477.5,46.52 L478.5,46.06 L479.5,45.68 L480.5,45.42 L481.5,45.25 L482.5,45.12 L483.5,45.07 L484.5,45.08 L485.5,45.03 L486.5,44.85 L487.5,44.57 L488.5,44.28 L489.5,44.11 L490.5,44.06 L491.5,44.02 L492.5,43.97 L493.5,43.94 L494.5,43.88 L495.5,43.78 L496.5,43.73 L497.5,43.76 L498.5,43.78 L499.5,43.77 L500.5,43.82 L501.5,43.98 L502.5,44.15 L503.5,44.22 L504.5,44.19 L505.5,44.18 L506.5,44.27 L507.5,44.50 L508.5,44.79 L509.5,44.97 L510.5,44.95 L511.5,44.83 L512.5,44.77 L513.5,44.83 L514.5,44.96 L515.5,45.08 L516.5,45.11 L517.5,45.14 L518.5,45.26 L519.5,45.52 L520.5,45.85 L521.5,46.14 L522.5,46.27 L523.5,46.34 L524.5,46.55 L525.5,46.88 L526.5,47.13 L527.5,47.21 L528.5,47.22 L529.5,47.30 L530.5,47.46 L531.5,47.57 L532.5,47.50 L533.5,47.32 L534.5,47.27 L535.5,47.49 L536.5,47.96 L537.5,48.48 L538.5,48.82 L539.5,48.90 L540.5,48.85 L541.5,48.86 L542.5,48.95 L543.5,49.03 L544.5,49.11 L545.5,49.24 L546.5,49.39 L547.5,49.45 L548.5,49.39 L549.5,49.28 L550.5,49.22 L551.5,49.24 L552.5,49.36 L553.5,49.57 L554.5,49.85 L555.5,50.10 L556.5,50.25 L557.5,50.24 L558.5,50.10 L559.5,49.97 L560.5,49.90 L561.5,49.78 L562.5,49.56 L563.5,49.37 L564.5,49.30 L565.5,49.34 L566.5,49.43 L567.5,49.50 L568.5,49.53 L569.5,49.52 L570.5,49.52 L571.5,49.57 L572.5,49.69 L573.5,49.83 L574.5,49.92 L575.5,49.93 L576.5,49.93 L577.5,49.91 L578.5,49.82 L579.5,49.68 L580.5,49.64 L581.5,49.75 L582.5,49.86 L583.5,49.89 L584.5,49.83 L585.5,49.73 L586.5,49.62 L587.5,49.54 L588.5,49.52 L589.5,49.52 L590.5,49.56 L591.5,49.66 L592.5,49.76 L593.5,49.67 L594.5,49.35 L595.5,48.95 L596.5,48.69 L597.5,48.70 L598.5,48.84 L599.5,48.91 L600.5,48.90 L601.5,48.98 L602.5,49.14 L603.5,49.20 L604.5,49.11 L605.5,48.92 L606.5,48.72 L607.5,48.57 L608.5,48.46 L609.5,48.32 L610.5,48.13 L611.5,47.94 L612.5,47.84 L613.5,47.89 L614.5,47.95 L615.5,47.83 L616.5,47.54 L617.5,47.26 L618.5,47.09 L619.5,47.07 L620.5,47.22 L621.5,47.45 L622.5,47.62 L623.5,47.64 L624.5,47.55 L625.5,47.45 L626.5,47.41 L627.5,47.39 L628.5,47.30 L629.5,47.20 L630.5,47.19 L631.5,47.23 L632.5,47.19 L633.5,47.07 L634.5,46.99 L635.5,47.02 L636.5,47.10 L637.5,47.11 L638.5,47.06 L639.5,47.02 L640.5,47.03 L641.5,47.09 L642.5,47.13 L643.5,47.04 L644.5,46.81 L645.5,46.58 L646.5,46.53 L647.5,46.67 L648.5,46.90 L649.5,47.13 L650.5,47.32 L651.5,47.41 L652.5,47.43 L653.5,47.51 L654.5,47.70 L655.5,47.87 L656.5,47.95 L657.5,48.01 L658.5,48.14 L659.5,48.33 L660.5,48.50 L661.5,48.62 L662.5,48.67 L663.5,48.62 L664.5,48.56 L665.5,48.60 L666.5,48.72 L667.5,48.78 L668.5,48.79 L669.5,48.85 L670.5,49.00 L671.5,49.18 L672.5,49.36" stroke="#c5b0d5" stroke-width="2.5" fill="none" stroke-linejoin="round"/><path d="M444.5,33.60 L445.5,33.57 L446.5,33.40 L447.5,33.09 L448.5,32.79 L449.5,32.63 L450.5,32.65 L451.5,32.74 L452.5,32.77 L453.5,32.69 L454.5,32.58 L455.5,32.51 L456.5,32.47 L457.5,32.44 L458.5,32.42 L459.5,32.31 L460.5,32.12 L461.5,32.00 L462.5,32.07 L463.5,32.25 L464.5,32.43 L465.5,32.46 L466.5,32.25 L467.5,31.97 L468.5,31.87 L469.5,31.97 L470.5,32.13 L471.5,32.19 L472.5,32.07 L473.5,31.86 L474.5,31.67 L475.5,31.54 L476.5,31.43 L477.5,31.34 L478.5,31.23 L479.5,31.00 L480.5,30.71 L481.5,30.51 L482.5,30.44 L483.5,30.43 L484.5,30.41 L485.5,30.28 L486.5,30.02 L487.5,29.72 L488.5,29.45 L489.5,29.28 L490.5,29.24 L491.5,29.26 L492.5,29.29 L493.5,29.38 L494.5,29.50 L495.5,29.53 L496.5,29.41 L497.5,29.23 L498.5,29.13 L499.5,29.18 L500.5,29.32 L501.5,29.36 L502.5,29.18 L503.5,28.85 L504.5,28.54 L505.5,28.31 L506.5,28.19 L507.5,28.23 L508.5,28.31 L509.5,28.38 L510.5,28.55 L511.5,28.81 L512.5,28.99 L513.5,29.08 L514.5,29.19 L515.5,29.36 L516.5,29.51 L517.5,29.58 L518.5,29.63 L519.5,29.73 L520.5,29.88 L521.5,30.08 L522.5,30.28 L523.5,30.36 L524.5,30.26 L525.5,30.05 L526.5,29.94 L527.5,30.13 L528.5,30.57 L529.5,31.02 L530.5,31.24 L531.5,31.18 L532.5,31.02 L533.5,30.96 L534.5,31.04 L535.5,31.20 L536.5,31.51 L537.5,31.97 L538.5,32.37 L539.5,32.48 L540.5,32.34 L541.5,32.15 L542.5,32.02 L543.5,31.97 L544.5,32.07 L545.5,32.37 L546.5,32.77 L547.5,33.07 L548.5,33.15 L549.5,33.07 L550.5,33.06 L551.5,33.24 L552.5,33.52 L553.5,33.72 L554.5,33.76 L555.5,33.68 L556.5,33.58 L557.5,33.55 L558.5,33.60 L559.5,33.64 L560.5,33.56 L561.5,33.38 L562.5,33.21 L563.5,33.13 L564.5,33.15 L565.5,33.25 L566.5,33.47 L567.5,33.62 L568.5,33.52 L569.5,33.25 L570.5,33.01 L571.5,32.83 L572.5,32.70 L573.5,32.72 L574.5,32.82 L575.5,32.84 L576.5,32.75 L577.5,32.65 L578.5,32.62 L579.5,32.63 L580.5,32.64 L581.5,32.65 L582.5,32.64 L583.5,32.54 L584.5,32.34 L585.5,32.09 L586.5,31.84 L587.5,31.57 L588.5,31.30 L589.5,31.18 L590.5,31.28 L591.5,31.52 L592.5,31.82 L593.5,32.15 L594.5,32.36 L595.5,32.28 L596.5,31.99 L597.5,31.78 L598.5,31.71 L599.5,31.74 L600.5,31.78 L601.5,31.77 L602.5,31.61 L603.5,31.33 L604.5,31.04 L605.5,30.88 L606.5,30.90 L607.5,30.96 L608.5,30.88 L609.5,30.75 L610.5,30.70 L611.5,30.66 L612.5,30.54 L613.5,30.39 L614.5,30.35 L615.5,30.47 L616.5,30.64 L617.5,30.75 L618.5,30.70 L619.5,30.53 L620.5,30.40 L621.5,30.41 L622.5,30.42 L623.5,30.27 L624.5,30.07 L625.5,29.96 L626.5,30.03 L627.5,30.26 L628.5,30.49 L629.5,30.59 L630.5,30.53 L631.5,30.36 L632.5,30.25 L633.5,30.24 L634.5,30.26 L635.5,30.21 L636.5,30.15 L637.5,30.12 L638.5,30.06 L639.5,29.93 L640.5,29.84 L641.5,29.90 L642.5,30.09 L643.5,30.33 L644.5,30.52 L645.5,30.62 L646.5,30.65 L647.5,30.63 L648.5,30.60 L649.5,30.71 L650.5,30.97 L651.5,31.15 L652.5,31.08 L653.5,30.83 L654.5,30.57 L655.5,30.35 L656.5,30.16 L657.5,30.07 L658.5,30.15 L659.5,30.34 L660.5,30.49 L661.5,30.52 L662.5,30.43 L663.5,30.26 L664.5,30.14 L665.5,30.25 L666.5,30.56 L667.5,30.78 L668.5,30.78 L669.5,30.70 L670.5,30.72 L671.5,30.87 L672.5,31.02" stroke="#8c564b" stroke-width="2.5" fill="none" stroke-linejoin="round"/></g><g clip-path="url(#cld)"><path d="M444.5,478.54 L445.5,477.69 L446.5,476.81 L447.5,476.07 L448.5,475.51 L449.5,475.04 L450.5,474.59 L451.5,474.08 L452.5,473.51 L453.5,472.93 L454.5,472.34 L455.5,471.70 L456.5,471.08 L457.5,470.58 L458.5,470.17 L459.5,469.69 L460.5,468.96 L461.5,468.06 L462.5,467.18 L463.5,466.45 L464.5,465.86 L465.5,465.37 L466.5,464.92 L467.5,464.42 L468.5,463.81 L469.5,463.12 L470.5,462.43 L471.5,461.75 L472.5,461.08 L473.5,460.49 L474.5,459.96 L475.5,459.43 L476.5,458.93 L477.5,458.42 L478.5,457.74 L479.5,456.82 L480.5,455.88 L481.5,455.16 L482.5,454.68 L483.5,454.26 L484.5,453.77 L485.5,453.10 L486.5,452.17 L487.5,451.10 L488.5,450.19 L489.5,449.58 L490.5,449.10 L491.5,448.48 L492.5,447.67 L493.5,446.89 L494.5,446.26 L495.5,445.70 L496.5,445.11 L497.5,444.51 L498.5,443.96 L499.5,443.31 L500.5,442.47 L501.5,441.60 L502.5,440.89 L503.5,440.29 L504.5,439.69 L505.5,439.02 L506.5,438.36 L507.5,437.78 L508.5,437.29 L509.5,436.86 L510.5,436.39 L511.5,435.70 L512.5,434.90 L513.5,434.28 L514.5,433.87 L515.5,433.35 L516.5,432.48 L517.5,431.45 L518.5,430.59 L519.5,430.00 L520.5,429.53 L521.5,429.08 L522.5,428.64 L523.5,428.15 L524.5,427.54 L525.5,426.89 L526.5,426.31 L527.5,425.83 L528.5,425.37 L529.5,424.87 L530.5,424.30 L531.5,423.66 L532.5,422.99 L533.5,422.23 L534.5,421.28 L535.5,420.16 L536.5,419.02 L537.5,417.93 L538.5,416.89 L539.5,415.87 L540.5,414.78 L541.5,413.64 L542.5,412.52 L543.5,411.40 L544.5,410.09 L545.5,408.60 L546.5,407.03 L547.5,405.45 L548.5,403.96 L549.5,402.56 L550.5,401.23 L551.5,400.19 L552.5,399.55 L553.5,399.12 L554.5,398.81 L555.5,398.52 L556.5,398.23 L557.5,397.98 L558.5,397.83 L559.5,397.75 L560.5,397.72 L561.5,397.86 L562.5,398.18 L563.5,398.54 L564.5,398.87 L565.5,399.23 L566.5,399.80 L567.5,400.65 L568.5,401.76 L569.5,402.90 L570.5,403.98 L571.5,405.05 L572.5,406.18 L573.5,407.37 L574.5,408.67 L575.5,410.08 L576.5,411.43 L577.5,412.63 L578.5,413.71 L579.5,414.83 L580.5,415.95 L581.5,416.95 L582.5,417.85 L583.5,418.74 L584.5,419.56 L585.5,420.25 L586.5,420.91 L587.5,421.63 L588.5,422.40 L589.5,423.19 L590.5,424.05 L591.5,425.01 L592.5,425.98 L593.5,426.88 L594.5,427.79 L595.5,428.81 L596.5,429.96 L597.5,431.12 L598.5,432.13 L599.5,432.85 L600.5,433.30 L601.5,433.73 L602.5,434.33 L603.5,435.07 L604.5,435.76 L605.5,436.31 L606.5,436.85 L607.5,437.60 L608.5,438.66 L609.5,439.93 L610.5,441.16 L611.5,442.23 L612.5,443.21 L613.5,444.18 L614.5,445.26 L615.5,446.52 L616.5,447.85 L617.5,449.11 L618.5,450.33 L619.5,451.50 L620.5,452.59 L621.5,453.55 L622.5,454.32 L623.5,454.94 L624.5,455.60 L625.5,456.45 L626.5,457.40 L627.5,458.24 L628.5,458.95 L629.5,459.66 L630.5,460.36 L631.5,460.98 L632.5,461.59 L633.5,462.15 L634.5,462.56 L635.5,462.88 L636.5,463.27 L637.5,463.75 L638.5,464.26 L639.5,464.68 L640.5,465.02 L641.5,465.33 L642.5,465.67 L643.5,466.12 L644.5,466.71 L645.5,467.36 L646.5,467.97 L647.5,468.52 L648.5,468.99 L649.5,469.43 L650.5,469.85 L651.5,470.18 L652.5,470.41 L653.5,470.71 L654.5,471.18 L655.5,471.75 L656.5,472.30 L657.5,472.74 L658.5,473.07 L659.5,473.38 L660.5,473.70 L661.5,474.06 L662.5,474.49 L663.5,475.01 L664.5,475.51 L665.5,475.96 L666.5,476.35 L667.5,476.73 L668.5,477.22 L669.5,477.94 L670.5,478.76 L671.5,479.50 L672.5,480.08" stroke="#1f77b4" stroke-width="2.5" fill="none" stroke-linejoin="round"/><path d="M444.5,462.28 L445.5,461.71 L446.5,461.16 L447.5,460.41 L448.5,459.44 L449.5,458.44 L450.5,457.62 L451.5,456.98 L452.5,456.46 L453.5,456.03 L454.5,455.63 L455.5,455.04 L456.5,454.18 L457.5,453.27 L458.5,452.49 L459.5,451.82 L460.5,451.06 L461.5,450.11 L462.5,449.09 L463.5,448.22 L464.5,447.59 L465.5,447.04 L466.5,446.41 L467.5,445.66 L468.5,444.89 L469.5,444.22 L470.5,443.67 L471.5,443.14 L472.5,442.49 L473.5,441.74 L474.5,440.94 L475.5,440.16 L476.5,439.50 L477.5,439.00 L478.5,438.53 L479.5,437.96 L480.5,437.25 L481.5,436.42 L482.5,435.51 L483.5,434.62 L484.5,433.86 L485.5,433.25 L486.5,432.66 L487.5,432.00 L488.5,431.22 L489.5,430.38 L490.5,429.55 L491.5,428.80 L492.5,428.18 L493.5,427.65 L494.5,427.03 L495.5,426.27 L496.5,425.59 L497.5,425.12 L498.5,424.78 L499.5,424.35 L500.5,423.76 L501.5,422.97 L502.5,422.00 L503.5,421.05 L504.5,420.35 L505.5,419.89 L506.5,419.43 L507.5,418.85 L508.5,418.21 L509.5,417.60 L510.5,417.04 L511.5,416.48 L512.5,415.87 L513.5,415.20 L514.5,414.56 L515.5,414.00 L516.5,413.55 L517.5,413.22 L518.5,412.97 L519.5,412.75 L520.5,412.56 L521.5,412.37 L522.5,412.09 L523.5,411.75 L524.5,411.46 L525.5,411.28 L526.5,411.15 L527.5,411.03 L528.5,410.85 L529.5,410.58 L530.5,410.27 L531.5,409.89 L532.5,409.27 L533.5,408.32 L534.5,407.16 L535.5,405.90 L536.5,404.60 L537.5,403.34 L538.5,402.15 L539.5,400.96 L540.5,399.67 L541.5,398.25 L542.5,396.87 L543.5,395.69 L544.5,394.67 L545.5,393.73 L546.5,392.79 L547.5,391.74 L548.5,390.55 L549.5,389.41 L550.5,388.64 L551.5,388.38 L552.5,388.50 L553.5,388.74 L554.5,388.98 L555.5,389.26 L556.5,389.52 L557.5,389.72 L558.5,389.87 L559.5,390.12 L560.5,390.58 L561.5,391.22 L562.5,392.10 L563.5,393.19 L564.5,394.39 L565.5,395.55 L566.5,396.65 L567.5,397.83 L568.5,399.26 L569.5,400.79 L570.5,402.21 L571.5,403.51 L572.5,404.86 L573.5,406.36 L574.5,407.94 L575.5,409.50 L576.5,411.00 L577.5,412.35 L578.5,413.39 L579.5,414.10 L580.5,414.68 L581.5,415.27 L582.5,415.90 L583.5,416.44 L584.5,416.82 L585.5,417.15 L586.5,417.62 L587.5,418.33 L588.5,419.21 L589.5,420.03 L590.5,420.71 L591.5,421.30 L592.5,421.95 L593.5,422.76 L594.5,423.73 L595.5,424.71 L596.5,425.49 L597.5,426.02 L598.5,426.42 L599.5,426.85 L600.5,427.32 L601.5,427.80 L602.5,428.33 L603.5,428.86 L604.5,429.29 L605.5,429.58 L606.5,429.88 L607.5,430.27 L608.5,430.71 L609.5,431.18 L610.5,431.69 L611.5,432.24 L612.5,432.67 L613.5,432.92 L614.5,433.10 L615.5,433.37 L616.5,433.75 L617.5,434.11 L618.5,434.37 L619.5,434.58 L620.5,434.76 L621.5,435.08 L622.5,435.65 L623.5,436.40 L624.5,437.08 L625.5,437.55 L626.5,437.93 L627.5,438.40 L628.5,438.98 L629.5,439.57 L630.5,440.21 L631.5,440.96 L632.5,441.82 L633.5,442.73 L634.5,443.63 L635.5,444.47 L636.5,445.17 L637.5,445.73 L638.5,446.29 L639.5,446.99 L640.5,447.74 L641.5,448.38 L642.5,448.97 L643.5,449.77 L644.5,450.81 L645.5,451.74 L646.5,452.31 L647.5,452.56 L648.5,452.73 L649.5,453.04 L650.5,453.59 L651.5,454.26 L652.5,454.81 L653.5,455.29 L654.5,455.82 L655.5,456.36 L656.5,456.74 L657.5,456.99 L658.5,457.24 L659.5,457.58 L660.5,458.00 L661.5,458.40 L662.5,458.73 L663.5,459.07 L664.5,459.46 L665.5,459.79 L666.5,459.98 L667.5,460.16 L668.5,460.45 L669.5,460.76 L670.5,460.98 L671.5,461.13 L672.5,461.29" stroke="#aec7e8" stroke-width="2.5" fill="none" stroke-linejoin="round"/><path d="M444.5,443.38 L445.5,443.16 L446.5,443.00 L447.5,442.74 L448.5,442.34 L449.5,441.83 L450.5,441.26 L451.5,440.73 L452.5,440.29 L453.5,439.82 L454.5,439.15 L455.5,438.30 L456.5,437.44 L457.5,436.76 L458.5,436.19 L459.5,435.62 L460.5,435.06 L461.5,434.59 L462.5,434.18 L463.5,433.76 L464.5,433.33 L465.5,432.80 L466.5,432.07 L467.5,431.26 L468.5,430.60 L469.5,430.11 L470.5,429.59 L471.5,428.95 L472.5,428.22 L473.5,427.47 L474.5,426.72 L475.5,425.98 L476.5,425.24 L477.5,424.58 L478.5,424.08 L479.5,423.61 L480.5,423.08 L481.5,422.55 L482.5,422.02 L483.5,421.32 L484.5,420.40 L485.5,419.44 L486.5,418.56 L487.5,417.74 L488.5,416.95 L489.5,416.15 L490.5,415.28 L491.5,414.30 L492.5,413.33 L493.5,412.47 L494.5,411.69 L495.5,410.94 L496.5,410.31 L497.5,409.76 L498.5,409.12 L499.5,408.36 L500.5,407.62 L501.5,406.97 L502.5,406.27 L503.5,405.46 L504.5,404.62 L505.5,403.79 L506.5,402.96 L507.5,402.17 L508.5,401.54 L509.5,401.12 L510.5,400.77 L511.5,400.40 L512.5,400.02 L513.5,399.65 L514.5,399.28 L515.5,398.87 L516.5,398.43 L517.5,397.98 L518.5,397.51 L519.5,397.03 L520.5,396.53 L521.5,396.12 L522.5,395.89 L523.5,395.75 L524.5,395.59 L525.5,395.49 L526.5,395.43 L527.5,395.24 L528.5,394.84 L529.5,394.32 L530.5,393.76 L531.5,393.19 L532.5,392.53 L533.5,391.70 L534.5,390.71 L535.5,389.65 L536.5,388.59 L537.5,387.52 L538.5,386.54 L539.5,385.76 L540.5,385.21 L541.5,384.77 L542.5,384.45 L543.5,384.11 L544.5,383.59 L545.5,382.85 L546.5,382.08 L547.5,381.49 L548.5,381.19 L549.5,381.10 L550.5,381.29 L551.5,381.79 L552.5,382.51 L553.5,383.23 L554.5,383.81 L555.5,384.20 L556.5,384.47 L557.5,384.76 L558.5,385.18 L559.5,385.69 L560.5,386.13 L561.5,386.49 L562.5,386.93 L563.5,387.54 L564.5,388.20 L565.5,388.73 L566.5,389.14 L567.5,389.57 L568.5,390.08 L569.5,390.66 L570.5,391.34 L571.5,392.18 L572.5,393.20 L573.5,394.38 L574.5,395.64 L575.5,396.75 L576.5,397.58 L577.5,398.24 L578.5,398.96 L579.5,399.92 L580.5,401.02 L581.5,401.97 L582.5,402.69 L583.5,403.37 L584.5,404.04 L585.5,404.65 L586.5,405.32 L587.5,406.14 L588.5,406.99 L589.5,407.77 L590.5,408.52 L591.5,409.25 L592.5,409.91 L593.5,410.44 L594.5,410.91 L595.5,411.35 L596.5,411.79 L597.5,412.29 L598.5,412.86 L599.5,413.46 L600.5,413.99 L601.5,414.43 L602.5,414.88 L603.5,415.39 L604.5,415.83 L605.5,416.13 L606.5,416.30 L607.5,416.38 L608.5,416.44 L609.5,416.54 L610.5,416.73 L611.5,416.96 L612.5,417.11 L613.5,417.14 L614.5,417.12 L615.5,417.18 L616.5,417.34 L617.5,417.55 L618.5,417.75 L619.5,417.93 L620.5,418.12 L621.5,418.38 L622.5,418.69 L623.5,418.95 L624.5,419.09 L625.5,419.20 L626.5,419.47 L627.5,419.96 L628.5,420.52 L629.5,420.96 L630.5,421.35 L631.5,421.89 L632.5,422.69 L633.5,423.72 L634.5,424.82 L635.5,425.89 L636.5,426.88 L637.5,427.83 L638.5,428.71 L639.5,429.51 L640.5,430.26 L641.5,431.07 L642.5,431.96 L643.5,432.84 L644.5,433.59 L645.5,434.19 L646.5,434.74 L647.5,435.29 L648.5,435.76 L649.5,436.02 L650.5,436.14 L651.5,436.31 L652.5,436.63 L653.5,437.06 L654.5,437.44 L655.5,437.63 L656.5,437.71 L657.5,437.87 L658.5,438.19 L659.5,438.56 L660.5,438.78 L661.5,438.88 L662.5,438.99 L663.5,439.18 L664.5,439.42 L665.5,439.68 L666.5,439.87 L667.5,439.97 L668.5,440.04 L669.5,440.11 L670.5,440.15 L671.5,440.17 L672.5,440.19" stroke="#ff7f0e" stroke-width="2.5" fill="none" stroke-linejoin="round"/><path d="M444.5,423.89 L445.5,423.57 L446.5,423.30 L447.5,423.11 L448.5,422.97 L449.5,422.83 L450.5,422.61 L451.5,422.28 L452.5,421.88 L453.5,421.43 L454.5,420.96 L455.5,420.57 L456.5,420.24 L457.5,419.87 L458.5,419.39 L459.5,418.86 L460.5,418.33 L461.5,417.88 L462.5,417.55 L463.5,417.21 L464.5,416.70 L465.5,416.03 L466.5,415.38 L467.5,414.84 L468.5,414.36 L469.5,413.88 L470.5,413.40 L471.5,412.91 L472.5,412.36 L473.5,411.75 L474.5,411.11 L475.5,410.55 L476.5,410.14 L477.5,409.79 L478.5,409.36 L479.5,408.77 L480.5,408.13 L481.5,407.49 L482.5,406.84 L483.5,406.16 L484.5,405.41 L485.5,404.61 L486.5,403.76 L487.5,402.85 L488.5,401.90 L489.5,401.04 L490.5,400.36 L491.5,399.76 L492.5,399.03 L493.5,398.15 L494.5,397.22 L495.5,396.29 L496.5,395.42 L497.5,394.78 L498.5,394.37 L499.5,393.99 L500.5,393.43 L501.5,392.69 L502.5,391.85 L503.5,391.00 L504.5,390.23 L505.5,389.56 L506.5,388.95 L507.5,388.41 L508.5,388.04 L509.5,387.74 L510.5,387.28 L511.5,386.56 L512.5,385.72 L513.5,384.98 L514.5,384.36 L515.5,383.72 L516.5,382.98 L517.5,382.24 L518.5,381.65 L519.5,381.17 L520.5,380.62 L521.5,379.92 L522.5,379.18 L523.5,378.46 L524.5,377.71 L525.5,376.93 L526.5,376.24 L527.5,375.73 L528.5,375.35 L529.5,375.03 L530.5,374.70 L531.5,374.33 L532.5,373.96 L533.5,373.53 L534.5,373.03 L535.5,372.55 L536.5,372.20 L537.5,372.02 L538.5,372.03 L539.5,372.25 L540.5,372.65 L541.5,373.24 L542.5,374.03 L543.5,374.98 L544.5,375.99 L545.5,376.98 L546.5,377.91 L547.5,378.64 L548.5,379.03 L549.5,379.30 L550.5,379.65 L551.5,380.16 L552.5,380.68 L553.5,381.17 L554.5,381.68 L555.5,382.30 L556.5,383.03 L557.5,383.66 L558.5,383.96 L559.5,383.93 L560.5,383.83 L561.5,383.84 L562.5,384.04 L563.5,384.37 L564.5,384.72 L565.5,385.04 L566.5,385.34 L567.5,385.63 L568.5,385.91 L569.5,386.17 L570.5,386.45 L571.5,386.76 L572.5,387.08 L573.5,387.39 L574.5,387.72 L575.5,388.17 L576.5,388.73 L577.5,389.29 L578.5,389.75 L579.5,390.15 L580.5,390.59 L581.5,391.11 L582.5,391.65 L583.5,392.20 L584.5,392.75 L585.5,393.23 L586.5,393.60 L587.5,393.89 L588.5,394.19 L589.5,394.51 L590.5,394.82 L591.5,395.13 L592.5,395.44 L593.5,395.68 L594.5,395.85 L595.5,396.06 L596.5,396.37 L597.5,396.78 L598.5,397.15 L599.5,397.45 L600.5,397.70 L601.5,397.89 L602.5,397.99 L603.5,398.04 L604.5,398.11 L605.5,398.29 L606.5,398.59 L607.5,398.91 L608.5,399.19 L609.5,399.42 L610.5,399.63 L611.5,399.85 L612.5,400.14 L613.5,400.45 L614.5,400.65 L615.5,400.73 L616.5,400.87 L617.5,401.24 L618.5,401.78 L619.5,402.32 L620.5,402.81 L621.5,403.34 L622.5,403.88 L623.5,404.29 L624.5,404.57 L625.5,404.87 L626.5,405.35 L627.5,405.98 L628.5,406.54 L629.5,406.93 L630.5,407.30 L631.5,407.78 L632.5,408.36 L633.5,408.95 L634.5,409.52 L635.5,410.11 L636.5,410.74 L637.5,411.26 L638.5,411.52 L639.5,411.65 L640.5,411.86 L641.5,412.19 L642.5,412.58 L643.5,413.05 L644.5,413.58 L645.5,414.04 L646.5,414.33 L647.5,414.55 L648.5,414.84 L649.5,415.14 L650.5,415.35 L651.5,415.54 L652.5,415.86 L653.5,416.34 L654.5,416.91 L655.5,417.37 L656.5,417.60 L657.5,417.63 L658.5,417.62 L659.5,417.62 L660.5,417.74 L661.5,418.12 L662.5,418.66 L663.5,419.07 L664.5,419.20 L665.5,419.20 L666.5,419.27 L667.5,419.44 L668.5,419.65 L669.5,419.88 L670.5,420.12 L671.5,420.36 L672.5,420.55" stroke="#ffbb78" stroke-width="2.5" fill="none" stroke-linejoin="round"/><path d="M444.5,404.73 L445.5,404.72 L446.5,404.78 L447.5,404.84 L448.5,404.83 L449.5,404.75 L450.5,404.53 L451.5,404.21 L452.5,403.89 L453.5,403.66 L454.5,403.57 L455.5,403.53 L456.5,403.37 L457.5,403.08 L458.5,402.82 L459.5,402.69 L460.5,402.60 L461.5,402.39 L462.5,402.06 L463.5,401.74 L464.5,401.53 L465.5,401.29 L466.5,400.84 L467.5,400.21 L468.5,399.65 L469.5,399.38 L470.5,399.32 L471.5,399.25 L472.5,399.03 L473.5,398.72 L474.5,398.41 L475.5,398.09 L476.5,397.76 L477.5,397.49 L478.5,397.25 L479.5,396.94 L480.5,396.46 L481.5,395.76 L482.5,395.03 L483.5,394.51 L484.5,394.24 L485.5,394.12 L486.5,393.86 L487.5,393.23 L488.5,392.39 L489.5,391.72 L490.5,391.27 L491.5,390.82 L492.5,390.19 L493.5,389.42 L494.5,388.55 L495.5,387.60 L496.5,386.62 L497.5,385.52 L498.5,384.36 L499.5,383.32 L500.5,382.38 L501.5,381.30 L502.5,380.04 L503.5,378.84 L504.5,377.89 L505.5,377.15 L506.5,376.48 L507.5,375.79 L508.5,374.99 L509.5,374.13 L510.5,373.33 L511.5,372.64 L512.5,372.02 L513.5,371.43 L514.5,370.89 L515.5,370.41 L516.5,369.93 L517.5,369.41 L518.5,368.89 L519.5,368.52 L520.5,368.33 L521.5,368.09 L522.5,367.57 L523.5,366.89 L524.5,366.28 L525.5,365.81 L526.5,365.44 L527.5,365.12 L528.5,364.85 L529.5,364.64 L530.5,364.47 L531.5,364.29 L532.5,364.12 L533.5,364.04 L534.5,364.18 L535.5,364.49 L536.5,364.87 L537.5,365.22 L538.5,365.61 L539.5,366.05 L540.5,366.47 L541.5,366.82 L542.5,367.16 L543.5,367.51 L544.5,367.87 L545.5,368.28 L546.5,368.82 L547.5,369.53 L548.5,370.29 L549.5,370.96 L550.5,371.60 L551.5,372.20 L552.5,372.62 L553.5,372.82 L554.5,373.01 L555.5,373.38 L556.5,373.98 L557.5,374.63 L558.5,375.10 L559.5,375.34 L560.5,375.50 L561.5,375.89 L562.5,376.55 L563.5,377.19 L564.5,377.58 L565.5,377.85 L566.5,378.18 L567.5,378.53 L568.5,378.70 L569.5,378.57 L570.5,378.27 L571.5,378.11 L572.5,378.16 L573.5,378.23 L574.5,378.13 L575.5,377.89 L576.5,377.62 L577.5,377.42 L578.5,377.35 L579.5,377.50 L580.5,377.82 L581.5,378.05 L582.5,377.91 L583.5,377.42 L584.5,376.85 L585.5,376.45 L586.5,376.39 L587.5,376.49 L588.5,376.37 L589.5,375.95 L590.5,375.53 L591.5,375.30 L592.5,375.23 L593.5,375.23 L594.5,375.26 L595.5,375.33 L596.5,375.38 L597.5,375.41 L598.5,375.48 L599.5,375.62 L600.5,375.76 L601.5,376.00 L602.5,376.41 L603.5,376.99 L604.5,377.69 L605.5,378.44 L606.5,379.16 L607.5,379.74 L608.5,380.24 L609.5,380.83 L610.5,381.62 L611.5,382.52 L612.5,383.33 L613.5,383.95 L614.5,384.42 L615.5,384.82 L616.5,385.28 L617.5,385.92 L618.5,386.72 L619.5,387.56 L620.5,388.37 L621.5,389.20 L622.5,390.03 L623.5,390.74 L624.5,391.18 L625.5,391.38 L626.5,391.54 L627.5,391.88 L628.5,392.41 L629.5,392.91 L630.5,393.19 L631.5,393.32 L632.5,393.48 L633.5,393.76 L634.5,394.16 L635.5,394.65 L636.5,395.21 L637.5,395.68 L638.5,395.92 L639.5,396.04 L640.5,396.24 L641.5,396.60 L642.5,397.00 L643.5,397.27 L644.5,397.29 L645.5,397.24 L646.5,397.36 L647.5,397.60 L648.5,397.71 L649.5,397.68 L650.5,397.75 L651.5,398.05 L652.5,398.47 L653.5,398.87 L654.5,399.18 L655.5,399.37 L656.5,399.43 L657.5,399.45 L658.5,399.61 L659.5,399.87 L660.5,400.06 L661.5,400.15 L662.5,400.15 L663.5,400.06 L664.5,399.97 L665.5,400.01 L666.5,400.12 L667.5,400.16 L668.5,400.14 L669.5,400.24 L670.5,400.48 L671.5,400.65 L672.5,400.66" stroke="#2ca02c" stroke-width="2.5" fill="none" stroke-linejoin="round"/><path d="M444.5,384.90 L445.5,384.77 L446.5,384.70 L447.5,384.75 L448.5,384.71 L449.5,384.54 L450.5,384.45 L451.5,384.58 L452.5,384.80 L453.5,384.92 L454.5,384.91 L455.5,384.84 L456.5,384.74 L457.5,384.59 L458.5,384.42 L459.5,384.20 L460.5,383.95 L461.5,383.78 L462.5,383.68 L463.5,383.54 L464.5,383.41 L465.5,383.37 L466.5,383.35 L467.5,383.22 L468.5,382.99 L469.5,382.78 L470.5,382.68 L471.5,382.66 L472.5,382.56 L473.5,382.31 L474.5,381.94 L475.5,381.56 L476.5,381.20 L477.5,380.82 L478.5,380.40 L479.5,379.97 L480.5,379.50 L481.5,378.93 L482.5,378.34 L483.5,377.76 L484.5,377.19 L485.5,376.67 L486.5,376.24 L487.5,375.82 L488.5,375.35 L489.5,374.84 L490.5,374.33 L491.5,373.77 L492.5,373.17 L493.5,372.51 L494.5,371.86 L495.5,371.36 L496.5,371.03 L497.5,370.69 L498.5,370.16 L499.5,369.43 L500.5,368.64 L501.5,367.96 L502.5,367.42 L503.5,366.96 L504.5,366.55 L505.5,366.17 L506.5,365.77 L507.5,365.28 L508.5,364.71 L509.5,364.14 L510.5,363.66 L511.5,363.29 L512.5,362.94 L513.5,362.49 L514.5,361.89 L515.5,361.26 L516.5,360.86 L517.5,360.73 L518.5,360.72 L519.5,360.71 L520.5,360.70 L521.5,360.62 L522.5,360.45 L523.5,360.22 L524.5,360.00 L525.5,359.89 L526.5,359.93 L527.5,360.04 L528.5,360.08 L529.5,360.02 L530.5,359.95 L531.5,359.97 L532.5,360.01 L533.5,360.00 L534.5,359.98 L535.5,360.07 L536.5,360.32 L537.5,360.65 L538.5,360.88 L539.5,360.98 L540.5,361.11 L541.5,361.31 L542.5,361.45 L543.5,361.49 L544.5,361.49 L545.5,361.50 L546.5,361.54 L547.5,361.64 L548.5,361.75 L549.5,361.84 L550.5,361.93 L551.5,362.14 L552.5,362.53 L553.5,363.05 L554.5,363.56 L555.5,363.96 L556.5,364.31 L557.5,364.65 L558.5,365.03 L559.5,365.49 L560.5,366.06 L561.5,366.64 L562.5,367.08 L563.5,367.35 L564.5,367.40 L565.5,367.29 L566.5,367.11 L567.5,366.93 L568.5,366.78 L569.5,366.60 L570.5,366.35 L571.5,366.00 L572.5,365.67 L573.5,365.44 L574.5,365.25 L575.5,365.01 L576.5,364.70 L577.5,364.43 L578.5,364.34 L579.5,364.36 L580.5,364.31 L581.5,364.14 L582.5,363.89 L583.5,363.59 L584.5,363.18 L585.5,362.70 L586.5,362.24 L587.5,361.84 L588.5,361.48 L589.5,361.13 L590.5,360.79 L591.5,360.48 L592.5,360.27 L593.5,360.15 L594.5,360.02 L595.5,359.87 L596.5,359.84 L597.5,360.03 L598.5,360.38 L599.5,360.75 L600.5,361.07 L601.5,361.38 L602.5,361.71 L603.5,362.07 L604.5,362.48 L605.5,362.93 L606.5,363.40 L607.5,363.92 L608.5,364.52 L609.5,365.16 L610.5,365.72 L611.5,366.10 L612.5,366.28 L613.5,366.43 L614.5,366.79 L615.5,367.41 L616.5,368.20 L617.5,368.94 L618.5,369.53 L619.5,369.98 L620.5,370.42 L621.5,370.99 L622.5,371.72 L623.5,372.42 L624.5,372.96 L625.5,373.38 L626.5,373.74 L627.5,374.11 L628.5,374.56 L629.5,375.10 L630.5,375.66 L631.5,376.07 L632.5,376.28 L633.5,376.49 L634.5,376.92 L635.5,377.50 L636.5,377.99 L637.5,378.29 L638.5,378.48 L639.5,378.71 L640.5,379.07 L641.5,379.51 L642.5,379.96 L643.5,380.34 L644.5,380.66 L645.5,380.97 L646.5,381.16 L647.5,381.19 L648.5,381.14 L649.5,381.12 L650.5,381.20 L651.5,381.43 L652.5,381.79 L653.5,382.21 L654.5,382.56 L655.5,382.77 L656.5,382.89 L657.5,383.00 L658.5,383.19 L659.5,383.50 L660.5,383.91 L661.5,384.28 L662.5,384.53 L663.5,384.61 L664.5,384.50 L665.5,384.30 L666.5,384.14 L667.5,384.10 L668.5,384.09 L669.5,384.05 L670.5,383.95 L671.5,383.81 L672.5,383.70" stroke="#98df8a" stroke-width="2.5" fill="none" stroke-linejoin="round"/><path d="M444.5,366.66 L445.5,366.29 L446.5,365.85 L447.5,365.54 L448.5,365.36 L449.5,365.31 L450.5,365.43 L451.5,365.63 L452.5,365.73 L453.5,365.66 L454.5,365.50 L455.5,365.41 L456.5,365.38 L457.5,365.33 L458.5,365.21 L459.5,365.02 L460.5,364.74 L461.5,364.47 L462.5,364.38 L463.5,364.45 L464.5,364.46 L465.5,364.29 L466.5,363.97 L467.5,363.63 L468.5,363.36 L469.5,363.16 L470.5,363.01 L471.5,362.92 L472.5,362.89 L473.5,362.88 L474.5,362.78 L475.5,362.54 L476.5,362.22 L477.5,361.93 L478.5,361.63 L479.5,361.23 L480.5,360.82 L481.5,360.52 L482.5,360.24 L483.5,359.91 L484.5,359.58 L485.5,359.33 L486.5,359.11 L487.5,358.83 L488.5,358.45 L489.5,357.96 L490.5,357.33 L491.5,356.63 L492.5,356.04 L493.5,355.69 L494.5,355.50 L495.5,355.30 L496.5,355.00 L497.5,354.55 L498.5,354.06 L499.5,353.72 L500.5,353.56 L501.5,353.38 L502.5,353.07 L503.5,352.75 L504.5,352.55 L505.5,352.36 L506.5,352.04 L507.5,351.70 L508.5,351.51 L509.5,351.51 L510.5,351.68 L511.5,351.89 L512.5,351.98 L513.5,351.81 L514.5,351.45 L515.5,351.12 L516.5,350.98 L517.5,351.04 L518.5,351.13 L519.5,351.14 L520.5,351.10 L521.5,351.11 L522.5,351.18 L523.5,351.34 L524.5,351.60 L525.5,351.96 L526.5,352.36 L527.5,352.76 L528.5,353.14 L529.5,353.53 L530.5,353.96 L531.5,354.33 L532.5,354.59 L533.5,354.78 L534.5,354.92 L535.5,354.96 L536.5,354.92 L537.5,354.90 L538.5,354.98 L539.5,355.17 L540.5,355.43 L541.5,355.67 L542.5,355.84 L543.5,356.06 L544.5,356.33 L545.5,356.58 L546.5,356.72 L547.5,356.75 L548.5,356.63 L549.5,356.40 L550.5,356.18 L551.5,356.09 L552.5,356.11 L553.5,356.14 L554.5,356.05 L555.5,355.81 L556.5,355.43 L557.5,354.99 L558.5,354.52 L559.5,354.03 L560.5,353.57 L561.5,353.22 L562.5,352.95 L563.5,352.61 L564.5,352.14 L565.5,351.63 L566.5,351.22 L567.5,350.95 L568.5,350.75 L569.5,350.53 L570.5,350.28 L571.5,349.94 L572.5,349.52 L573.5,349.05 L574.5,348.66 L575.5,348.40 L576.5,348.17 L577.5,347.88 L578.5,347.57 L579.5,347.32 L580.5,347.18 L581.5,347.07 L582.5,346.91 L583.5,346.73 L584.5,346.59 L585.5,346.45 L586.5,346.25 L587.5,346.04 L588.5,345.97 L589.5,346.08 L590.5,346.17 L591.5,346.11 L592.5,346.07 L593.5,346.17 L594.5,346.20 L595.5,345.97 L596.5,345.64 L597.5,345.47 L598.5,345.53 L599.5,345.66 L600.5,345.70 L601.5,345.69 L602.5,345.79 L603.5,346.18 L604.5,346.76 L605.5,347.26 L606.5,347.54 L607.5,347.73 L608.5,348.02 L609.5,348.41 L610.5,348.87 L611.5,349.40 L612.5,349.95 L613.5,350.47 L614.5,350.96 L615.5,351.44 L616.5,351.87 L617.5,352.18 L618.5,352.41 L619.5,352.70 L620.5,353.04 L621.5,353.34 L622.5,353.59 L623.5,353.82 L624.5,354.02 L625.5,354.26 L626.5,354.73 L627.5,355.49 L628.5,356.28 L629.5,356.84 L630.5,357.15 L631.5,357.37 L632.5,357.64 L633.5,357.99 L634.5,358.36 L635.5,358.71 L636.5,359.05 L637.5,359.43 L638.5,359.87 L639.5,360.34 L640.5,360.73 L641.5,360.99 L642.5,361.10 L643.5,361.07 L644.5,361.06 L645.5,361.26 L646.5,361.67 L647.5,362.13 L648.5,362.50 L649.5,362.79 L650.5,363.06 L651.5,363.35 L652.5,363.67 L653.5,364.03 L654.5,364.41 L655.5,364.75 L656.5,365.08 L657.5,365.40 L658.5,365.65 L659.5,365.82 L660.5,365.95 L661.5,366.16 L662.5,366.49 L663.5,366.97 L664.5,367.55 L665.5,368.05 L666.5,368.32 L667.5,368.45 L668.5,368.62 L669.5,368.88 L670.5,369.10 L671.5,369.18 L672.5,369.23" stroke="#d62728" stroke-width="2.5" fill="none" stroke-linejoin="round"/><path d="M444.5,347.36 L445.5,346.86 L446.5,346.27 L447.5,345.78 L448.5,345.55 L449.5,345.64 L450.5,345.83 L451.5,345.78 L452.5,345.49 L453.5,345.23 L454.5,345.13 L455.5,345.14 L456.5,345.23 L457.5,345.29 L458.5,345.17 L459.5,344.79 L460.5,344.21 L461.5,343.64 L462.5,343.27 L463.5,343.14 L464.5,343.12 L465.5,343.12 L466.5,343.08 L467.5,343.02 L468.5,342.97 L469.5,342.90 L470.5,342.82 L471.5,342.77 L472.5,342.70 L473.5,342.57 L474.5,342.42 L475.5,342.32 L476.5,342.27 L477.5,342.25 L478.5,342.18 L479.5,342.02 L480.5,341.83 L481.5,341.70 L482.5,341.64 L483.5,341.63 L484.5,341.63 L485.5,341.62 L486.5,341.57 L487.5,341.47 L488.5,341.27 L489.5,341.11 L490.5,341.13 L491.5,341.30 L492.5,341.48 L493.5,341.57 L494.5,341.57 L495.5,341.53 L496.5,341.41 L497.5,341.17 L498.5,340.84 L499.5,340.61 L500.5,340.62 L501.5,340.79 L502.5,340.93 L503.5,340.94 L504.5,340.89 L505.5,340.91 L506.5,340.95 L507.5,340.93 L508.5,340.89 L509.5,340.94 L510.5,341.09 L511.5,341.29 L512.5,341.47 L513.5,341.64 L514.5,341.81 L515.5,342.00 L516.5,342.26 L517.5,342.65 L518.5,343.06 L519.5,343.33 L520.5,343.39 L521.5,343.37 L522.5,343.51 L523.5,343.92 L524.5,344.36 L525.5,344.66 L526.5,344.89 L527.5,345.14 L528.5,345.45 L529.5,345.81 L530.5,346.25 L531.5,346.66 L532.5,346.99 L533.5,347.28 L534.5,347.53 L535.5,347.68 L536.5,347.74 L537.5,347.75 L538.5,347.80 L539.5,347.94 L540.5,348.06 L541.5,348.03 L542.5,347.85 L543.5,347.59 L544.5,347.30 L545.5,347.03 L546.5,346.84 L547.5,346.71 L548.5,346.61 L549.5,346.45 L550.5,346.12 L551.5,345.57 L552.5,344.88 L553.5,344.20 L554.5,343.63 L555.5,343.19 L556.5,342.82 L557.5,342.40 L558.5,341.91 L559.5,341.37 L560.5,340.84 L561.5,340.31 L562.5,339.74 L563.5,339.11 L564.5,338.37 L565.5,337.41 L566.5,336.29 L567.5,335.21 L568.5,334.33 L569.5,333.69 L570.5,333.21 L571.5,332.84 L572.5,332.55 L573.5,332.41 L574.5,332.43 L575.5,332.54 L576.5,332.63 L577.5,332.65 L578.5,332.64 L579.5,332.56 L580.5,332.41 L581.5,332.29 L582.5,332.26 L583.5,332.28 L584.5,332.30 L585.5,332.36 L586.5,332.48 L587.5,332.59 L588.5,332.58 L589.5,332.49 L590.5,332.44 L591.5,332.41 L592.5,332.27 L593.5,332.03 L594.5,331.95 L595.5,332.16 L596.5,332.44 L597.5,332.56 L598.5,332.53 L599.5,332.50 L600.5,332.52 L601.5,332.62 L602.5,332.79 L603.5,332.98 L604.5,333.14 L605.5,333.24 L606.5,333.29 L607.5,333.32 L608.5,333.41 L609.5,333.62 L610.5,333.97 L611.5,334.36 L612.5,334.64 L613.5,334.77 L614.5,334.93 L615.5,335.22 L616.5,335.57 L617.5,335.87 L618.5,336.13 L619.5,336.38 L620.5,336.59 L621.5,336.67 L622.5,336.71 L623.5,336.85 L624.5,337.18 L625.5,337.62 L626.5,338.08 L627.5,338.48 L628.5,338.80 L629.5,339.05 L630.5,339.22 L631.5,339.41 L632.5,339.71 L633.5,340.13 L634.5,340.47 L635.5,340.63 L636.5,340.74 L637.5,340.95 L638.5,341.33 L639.5,341.81 L640.5,342.30 L641.5,342.67 L642.5,342.87 L643.5,342.97 L644.5,343.19 L645.5,343.64 L646.5,344.25 L647.5,344.85 L648.5,345.30 L649.5,345.53 L650.5,345.57 L651.5,345.56 L652.5,345.69 L653.5,346.06 L654.5,346.53 L655.5,346.92 L656.5,347.18 L657.5,347.35 L658.5,347.53 L659.5,347.80 L660.5,348.16 L661.5,348.53 L662.5,348.80 L663.5,349.04 L664.5,349.41 L665.5,349.89 L666.5,350.30 L667.5,350.57 L668.5,350.81 L669.5,351.06 L670.5,351.26 L671.5,351.42 L672.5,351.66" stroke="#ff9896" stroke-width="2.5" fill="none" stroke-linejoin="round"/><path d="M444.5,329.05 L445.5,328.70 L446.5,328.46 L447.5,328.28 L448.5,328.16 L449.5,328.06 L450.5,327.92 L451.5,327.80 L452.5,327.70 L453.5,327.50 L454.5,327.14 L455.5,326.68 L456.5,326.21 L457.5,325.83 L458.5,325.59 L459.5,325.55 L460.5,325.67 L461.5,325.79 L462.5,325.64 L463.5,325.22 L464.5,324.77 L465.5,324.54 L466.5,324.52 L467.5,324.50 L468.5,324.36 L469.5,324.16 L470.5,324.03 L471.5,324.04 L472.5,324.10 L473.5,324.13 L474.5,324.17 L475.5,324.29 L476.5,324.45 L477.5,324.45 L478.5,324.17 L479.5,323.74 L480.5,323.40 L481.5,323.22 L482.5,323.18 L483.5,323.32 L484.5,323.61 L485.5,323.88 L486.5,324.00 L487.5,324.06 L488.5,324.13 L489.5,324.24 L490.5,324.37 L491.5,324.49 L492.5,324.56 L493.5,324.69 L494.5,324.93 L495.5,325.20 L496.5,325.37 L497.5,325.50 L498.5,325.83 L499.5,326.35 L500.5,326.81 L501.5,327.03 L502.5,327.18 L503.5,327.52 L504.5,327.99 L505.5,328.36 L506.5,328.70 L507.5,329.19 L508.5,329.76 L509.5,330.20 L510.5,330.46 L511.5,330.69 L512.5,330.99 L513.5,331.34 L514.5,331.72 L515.5,332.07 L516.5,332.34 L517.5,332.57 L518.5,332.84 L519.5,333.15 L520.5,333.42 L521.5,333.66 L522.5,334.02 L523.5,334.53 L524.5,335.13 L525.5,335.65 L526.5,335.96 L527.5,336.07 L528.5,336.08 L529.5,336.13 L530.5,336.24 L531.5,336.34 L532.5,336.38 L533.5,336.35 L534.5,336.30 L535.5,336.25 L536.5,336.22 L537.5,336.23 L538.5,336.22 L539.5,336.09 L540.5,335.84 L541.5,335.62 L542.5,335.48 L543.5,335.35 L544.5,335.19 L545.5,334.95 L546.5,334.70 L547.5,334.50 L548.5,334.38 L549.5,334.19 L550.5,333.74 L551.5,333.03 L552.5,332.28 L553.5,331.71 L554.5,331.29 L555.5,330.84 L556.5,330.28 L557.5,329.74 L558.5,329.32 L559.5,328.97 L560.5,328.61 L561.5,328.20 L562.5,327.67 L563.5,327.06 L564.5,326.36 L565.5,325.56 L566.5,324.71 L567.5,323.89 L568.5,323.15 L569.5,322.45 L570.5,321.74 L571.5,321.05 L572.5,320.47 L573.5,320.05 L574.5,319.85 L575.5,319.85 L576.5,319.91 L577.5,319.80 L578.5,319.59 L579.5,319.41 L580.5,319.30 L581.5,319.26 L582.5,319.25 L583.5,319.28 L584.5,319.34 L585.5,319.43 L586.5,319.45 L587.5,319.30 L588.5,319.07 L589.5,318.90 L590.5,318.80 L591.5,318.70 L592.5,318.57 L593.5,318.43 L594.5,318.29 L595.5,318.14 L596.5,318.04 L597.5,318.10 L598.5,318.33 L599.5,318.67 L600.5,319.00 L601.5,319.17 L602.5,319.07 L603.5,318.83 L604.5,318.65 L605.5,318.63 L606.5,318.73 L607.5,318.83 L608.5,318.87 L609.5,318.90 L610.5,318.97 L611.5,319.01 L612.5,318.94 L613.5,318.81 L614.5,318.71 L615.5,318.67 L616.5,318.65 L617.5,318.61 L618.5,318.55 L619.5,318.49 L620.5,318.50 L621.5,318.54 L622.5,318.53 L623.5,318.48 L624.5,318.48 L625.5,318.66 L626.5,318.98 L627.5,319.34 L628.5,319.65 L629.5,319.86 L630.5,319.98 L631.5,320.04 L632.5,320.18 L633.5,320.51 L634.5,321.07 L635.5,321.75 L636.5,322.39 L637.5,322.91 L638.5,323.36 L639.5,323.77 L640.5,324.17 L641.5,324.60 L642.5,325.03 L643.5,325.42 L644.5,325.77 L645.5,326.15 L646.5,326.68 L647.5,327.34 L648.5,327.97 L649.5,328.34 L650.5,328.48 L651.5,328.61 L652.5,328.89 L653.5,329.31 L654.5,329.79 L655.5,330.25 L656.5,330.70 L657.5,331.17 L658.5,331.55 L659.5,331.77 L660.5,331.84 L661.5,331.88 L662.5,332.03 L663.5,332.39 L664.5,332.94 L665.5,333.56 L666.5,334.01 L667.5,334.25 L668.5,334.49 L669.5,334.80 L670.5,335.07 L671.5,335.28 L672.5,335.50" stroke="#9467bd" stroke-width="2.5" fill="none" stroke-linejoin="round"/><path d="M444.5,312.59 L445.5,312.23 L446.5,311.91 L447.5,311.57 L448.5,311.15 L449.5,310.71 L450.5,310.32 L451.5,309.92 L452.5,309.45 L453.5,309.00 L454.5,308.72 L455.5,308.66 L456.5,308.66 L457.5,308.54 L458.5,308.33 L459.5,308.23 L460.5,308.21 L461.5,308.06 L462.5,307.74 L463.5,307.44 L464.5,307.36 L465.5,307.49 L466.5,307.62 L467.5,307.56 L468.5,307.37 L469.5,307.21 L470.5,307.14 L471.5,307.17 L472.5,307.26 L473.5,307.40 L474.5,307.48 L475.5,307.47 L476.5,307.42 L477.5,307.36 L478.5,307.29 L479.5,307.24 L480.5,307.30 L481.5,307.49 L482.5,307.73 L483.5,307.88 L484.5,307.92 L485.5,307.95 L486.5,308.09 L487.5,308.39 L488.5,308.75 L489.5,309.06 L490.5,309.39 L491.5,309.78 L492.5,310.20 L493.5,310.55 L494.5,310.85 L495.5,311.24 L496.5,311.81 L497.5,312.37 L498.5,312.70 L499.5,312.84 L500.5,312.97 L501.5,313.24 L502.5,313.61 L503.5,313.98 L504.5,314.33 L505.5,314.71 L506.5,315.08 L507.5,315.43 L508.5,315.83 L509.5,316.29 L510.5,316.72 L511.5,317.05 L512.5,317.37 L513.5,317.76 L514.5,318.16 L515.5,318.56 L516.5,319.09 L517.5,319.73 L518.5,320.35 L519.5,320.89 L520.5,321.43 L521.5,321.98 L522.5,322.44 L523.5,322.74 L524.5,322.99 L525.5,323.29 L526.5,323.67 L527.5,324.02 L528.5,324.22 L529.5,324.25 L530.5,324.23 L531.5,324.24 L532.5,324.32 L533.5,324.41 L534.5,324.43 L535.5,324.37 L536.5,324.28 L537.5,324.14 L538.5,323.85 L539.5,323.49 L540.5,323.27 L541.5,323.19 L542.5,323.04 L543.5,322.69 L544.5,322.19 L545.5,321.72 L546.5,321.37 L547.5,321.05 L548.5,320.61 L549.5,320.02 L550.5,319.37 L551.5,318.71 L552.5,318.00 L553.5,317.37 L554.5,316.97 L555.5,316.68 L556.5,316.20 L557.5,315.58 L558.5,315.05 L559.5,314.69 L560.5,314.36 L561.5,314.04 L562.5,313.71 L563.5,313.37 L564.5,313.03 L565.5,312.73 L566.5,312.52 L567.5,312.37 L568.5,312.24 L569.5,312.07 L570.5,311.77 L571.5,311.34 L572.5,310.85 L573.5,310.44 L574.5,310.06 L575.5,309.63 L576.5,309.24 L577.5,309.09 L578.5,309.08 L579.5,308.98 L580.5,308.64 L581.5,308.11 L582.5,307.49 L583.5,306.83 L584.5,306.24 L585.5,305.81 L586.5,305.55 L587.5,305.39 L588.5,305.26 L589.5,305.04 L590.5,304.62 L591.5,304.11 L592.5,303.71 L593.5,303.48 L594.5,303.34 L595.5,303.17 L596.5,302.95 L597.5,302.74 L598.5,302.63 L599.5,302.59 L600.5,302.55 L601.5,302.49 L602.5,302.51 L603.5,302.66 L604.5,302.81 L605.5,302.77 L606.5,302.57 L607.5,302.48 L608.5,302.63 L609.5,302.91 L610.5,303.17 L611.5,303.31 L612.5,303.23 L613.5,303.03 L614.5,302.91 L615.5,302.86 L616.5,302.78 L617.5,302.78 L618.5,302.95 L619.5,303.23 L620.5,303.47 L621.5,303.64 L622.5,303.86 L623.5,304.15 L624.5,304.37 L625.5,304.38 L626.5,304.26 L627.5,304.10 L628.5,303.91 L629.5,303.72 L630.5,303.64 L631.5,303.70 L632.5,303.85 L633.5,304.04 L634.5,304.25 L635.5,304.45 L636.5,304.63 L637.5,304.85 L638.5,305.23 L639.5,305.80 L640.5,306.39 L641.5,306.84 L642.5,307.14 L643.5,307.35 L644.5,307.56 L645.5,307.93 L646.5,308.51 L647.5,309.17 L648.5,309.75 L649.5,310.24 L650.5,310.73 L651.5,311.25 L652.5,311.71 L653.5,312.02 L654.5,312.21 L655.5,312.43 L656.5,312.78 L657.5,313.20 L658.5,313.65 L659.5,314.04 L660.5,314.31 L661.5,314.46 L662.5,314.57 L663.5,314.76 L664.5,315.07 L665.5,315.43 L666.5,315.72 L667.5,315.97 L668.5,316.20 L669.5,316.39 L670.5,316.59 L671.5,316.92 L672.5,317.31" stroke="#c5b0d5" stroke-width="2.5" fill="none" stroke-linejoin="round"/><path d="M444.5,297.85 L445.5,297.79 L446.5,297.75 L447.5,297.73 L448.5,297.73 L449.5,297.67 L450.5,297.47 L451.5,297.17 L452.5,296.88 L453.5,296.68 L454.5,296.61 L455.5,296.63 L456.5,296.61 L457.5,296.46 L458.5,296.24 L459.5,296.04 L460.5,295.86 L461.5,295.64 L462.5,295.36 L463.5,295.01 L464.5,294.62 L465.5,294.37 L466.5,294.39 L467.5,294.47 L468.5,294.28 L469.5,293.87 L470.5,293.53 L471.5,293.29 L472.5,293.01 L473.5,292.73 L474.5,292.55 L475.5,292.57 L476.5,292.68 L477.5,292.73 L478.5,292.69 L479.5,292.64 L480.5,292.68 L481.5,292.91 L482.5,293.29 L483.5,293.76 L484.5,294.19 L485.5,294.48 L486.5,294.62 L487.5,294.82 L488.5,295.17 L489.5,295.55 L490.5,295.87 L491.5,296.13 L492.5,296.44 L493.5,296.86 L494.5,297.36 L495.5,297.81 L496.5,298.11 L497.5,298.39 L498.5,298.75 L499.5,299.13 L500.5,299.43 L501.5,299.69 L502.5,300.03 L503.5,300.51 L504.5,301.08 L505.5,301.56 L506.5,301.93 L507.5,302.25 L508.5,302.63 L509.5,303.09 L510.5,303.64 L511.5,304.12 L512.5,304.38 L513.5,304.48 L514.5,304.57 L515.5,304.80 L516.5,305.13 L517.5,305.50 L518.5,305.83 L519.5,306.09 L520.5,306.32 L521.5,306.58 L522.5,306.83 L523.5,307.01 L524.5,307.12 L525.5,307.24 L526.5,307.48 L527.5,307.83 L528.5,308.15 L529.5,308.37 L530.5,308.52 L531.5,308.63 L532.5,308.69 L533.5,308.76 L534.5,308.86 L535.5,308.89 L536.5,308.71 L537.5,308.45 L538.5,308.28 L539.5,308.21 L540.5,308.13 L541.5,307.97 L542.5,307.75 L543.5,307.56 L544.5,307.41 L545.5,307.18 L546.5,306.90 L547.5,306.65 L548.5,306.36 L549.5,305.96 L550.5,305.47 L551.5,304.93 L552.5,304.29 L553.5,303.56 L554.5,302.81 L555.5,302.08 L556.5,301.48 L557.5,301.07 L558.5,300.84 L559.5,300.72 L560.5,300.66 L561.5,300.57 L562.5,300.38 L563.5,300.07 L564.5,299.67 L565.5,299.29 L566.5,298.99 L567.5,298.67 L568.5,298.16 L569.5,297.52 L570.5,296.98 L571.5,296.69 L572.5,296.64 L573.5,296.62 L574.5,296.45 L575.5,296.07 L576.5,295.59 L577.5,295.13 L578.5,294.63 L579.5,294.06 L580.5,293.60 L581.5,293.44 L582.5,293.55 L583.5,293.65 L584.5,293.52 L585.5,293.20 L586.5,292.72 L587.5,292.14 L588.5,291.61 L589.5,291.19 L590.5,290.77 L591.5,290.37 L592.5,290.12 L593.5,289.98 L594.5,289.81 L595.5,289.59 L596.5,289.33 L597.5,288.98 L598.5,288.62 L599.5,288.30 L600.5,288.04 L601.5,287.84 L602.5,287.75 L603.5,287.82 L604.5,287.97 L605.5,288.07 L606.5,288.13 L607.5,288.24 L608.5,288.32 L609.5,288.25 L610.5,288.07 L611.5,287.91 L612.5,287.79 L613.5,287.69 L614.5,287.59 L615.5,287.52 L616.5,287.53 L617.5,287.65 L618.5,287.90 L619.5,288.18 L620.5,288.43 L621.5,288.62 L622.5,288.73 L623.5,288.72 L624.5,288.62 L625.5,288.53 L626.5,288.50 L627.5,288.42 L628.5,288.26 L629.5,288.14 L630.5,288.16 L631.5,288.32 L632.5,288.54 L633.5,288.67 L634.5,288.65 L635.5,288.53 L636.5,288.40 L637.5,288.38 L638.5,288.51 L639.5,288.71 L640.5,288.87 L641.5,288.98 L642.5,289.07 L643.5,289.16 L644.5,289.19 L645.5,289.10 L646.5,288.94 L647.5,288.88 L648.5,289.01 L649.5,289.32 L650.5,289.71 L651.5,290.07 L652.5,290.27 L653.5,290.32 L654.5,290.38 L655.5,290.57 L656.5,290.82 L657.5,291.02 L658.5,291.14 L659.5,291.24 L660.5,291.35 L661.5,291.53 L662.5,291.82 L663.5,292.24 L664.5,292.67 L665.5,293.01 L666.5,293.28 L667.5,293.59 L668.5,293.97 L669.5,294.23 L670.5,294.37 L671.5,294.61 L672.5,294.96" stroke="#8c564b" stroke-width="2.5" fill="none" stroke-linejoin="round"/></g><path d="M496.5,29.3 L561.5,189 L626,29.5" stroke="#000" stroke-width="1" stroke-dasharray="3.5 2.2" fill="none"/><path d="M475.3,292.6 L557.2,417.9 L640.5,291.5" stroke="#000" stroke-width="1" stroke-dasharray="3.5 2.2" fill="none"/><rect x="444.5" y="9" width="228.29999999999995" height="209.5" fill="none" stroke="#000" stroke-width="1.75"/><rect x="444.5" y="277.1" width="228.29999999999995" height="209.2" fill="none" stroke="#000" stroke-width="1.75"/><line x1="444.5" y1="218.50" x2="449.5" y2="218.50" stroke="#000" stroke-width="1.5"/><text x="437.8" y="223.50" font-size="11.3" text-anchor="end" fill="#262626" font-weight="normal" font-style="normal" stroke="#262626" stroke-width="0.1" textLength="32" lengthAdjust="spacingAndGlyphs">0.000</text><line x1="444.5" y1="189.43" x2="449.5" y2="189.43" stroke="#000" stroke-width="1.5"/><text x="437.8" y="194.43" font-size="11.3" text-anchor="end" fill="#262626" font-weight="normal" font-style="normal" stroke="#262626" stroke-width="0.1" textLength="32" lengthAdjust="spacingAndGlyphs">0.025</text><line x1="444.5" y1="160.36" x2="449.5" y2="160.36" stroke="#000" stroke-width="1.5"/><text x="437.8" y="165.36" font-size="11.3" text-anchor="end" fill="#262626" font-weight="normal" font-style="normal" stroke="#262626" stroke-width="0.1" textLength="32" lengthAdjust="spacingAndGlyphs">0.050</text><line x1="444.5" y1="131.29" x2="449.5" y2="131.29" stroke="#000" stroke-width="1.5"/><text x="437.8" y="136.29" font-size="11.3" text-anchor="end" fill="#262626" font-weight="normal" font-style="normal" stroke="#262626" stroke-width="0.1" textLength="32" lengthAdjust="spacingAndGlyphs">0.075</text><line x1="444.5" y1="102.21" x2="449.5" y2="102.21" stroke="#000" stroke-width="1.5"/><text x="437.8" y="107.21" font-size="11.3" text-anchor="end" fill="#262626" font-weight="normal" font-style="normal" stroke="#262626" stroke-width="0.1" textLength="32" lengthAdjust="spacingAndGlyphs">0.100</text><line x1="444.5" y1="73.14" x2="449.5" y2="73.14" stroke="#000" stroke-width="1.5"/><text x="437.8" y="78.14" font-size="11.3" text-anchor="end" fill="#262626" font-weight="normal" font-style="normal" stroke="#262626" stroke-width="0.1" textLength="32" lengthAdjust="spacingAndGlyphs">0.125</text><line x1="444.5" y1="44.07" x2="449.5" y2="44.07" stroke="#000" stroke-width="1.5"/><text x="437.8" y="49.07" font-size="11.3" text-anchor="end" fill="#262626" font-weight="normal" font-style="normal" stroke="#262626" stroke-width="0.1" textLength="32" lengthAdjust="spacingAndGlyphs">0.150</text><line x1="444.5" y1="15.00" x2="449.5" y2="15.00" stroke="#000" stroke-width="1.5"/><text x="437.8" y="20.00" font-size="11.3" text-anchor="end" fill="#262626" font-weight="normal" font-style="normal" stroke="#262626" stroke-width="0.1" textLength="32" lengthAdjust="spacingAndGlyphs">0.175</text><line x1="444.50" y1="218.5" x2="444.50" y2="213.5" stroke="#000" stroke-width="1.5"/><text x="444.50" y="233.7" font-size="11.3" text-anchor="middle" fill="#262626" font-weight="normal" font-style="normal" stroke="#262626" stroke-width="0.1" textLength="33.9" lengthAdjust="spacingAndGlyphs">−0.13</text><line x1="550.50" y1="218.5" x2="550.50" y2="213.5" stroke="#000" stroke-width="1.5"/><text x="550.50" y="233.7" font-size="11.3" text-anchor="middle" fill="#262626" font-weight="normal" font-style="normal" stroke="#262626" stroke-width="0.1" textLength="25" lengthAdjust="spacingAndGlyphs">0.00</text><line x1="672.80" y1="218.5" x2="672.80" y2="213.5" stroke="#000" stroke-width="1.5"/><text x="672.80" y="233.7" font-size="11.3" text-anchor="middle" fill="#262626" font-weight="normal" font-style="normal" stroke="#262626" stroke-width="0.1" textLength="25" lengthAdjust="spacingAndGlyphs">0.15</text><line x1="444.5" y1="277.10" x2="449.5" y2="277.10" stroke="#000" stroke-width="1.5"/><text x="437.8" y="282.10" font-size="11.3" text-anchor="end" fill="#262626" font-weight="normal" font-style="normal" stroke="#262626" stroke-width="0.1" textLength="32" lengthAdjust="spacingAndGlyphs">0.200</text><line x1="444.5" y1="306.99" x2="449.5" y2="306.99" stroke="#000" stroke-width="1.5"/><text x="437.8" y="311.99" font-size="11.3" text-anchor="end" fill="#262626" font-weight="normal" font-style="normal" stroke="#262626" stroke-width="0.1" textLength="32" lengthAdjust="spacingAndGlyphs">0.175</text><line x1="444.5" y1="336.87" x2="449.5" y2="336.87" stroke="#000" stroke-width="1.5"/><text x="437.8" y="341.87" font-size="11.3" text-anchor="end" fill="#262626" font-weight="normal" font-style="normal" stroke="#262626" stroke-width="0.1" textLength="32" lengthAdjust="spacingAndGlyphs">0.150</text><line x1="444.5" y1="366.76" x2="449.5" y2="366.76" stroke="#000" stroke-width="1.5"/><text x="437.8" y="371.76" font-size="11.3" text-anchor="end" fill="#262626" font-weight="normal" font-style="normal" stroke="#262626" stroke-width="0.1" textLength="32" lengthAdjust="spacingAndGlyphs">0.125</text><line x1="444.5" y1="396.64" x2="449.5" y2="396.64" stroke="#000" stroke-width="1.5"/><text x="437.8" y="401.64" font-size="11.3" text-anchor="end" fill="#262626" font-weight="normal" font-style="normal" stroke="#262626" stroke-width="0.1" textLength="32" lengthAdjust="spacingAndGlyphs">0.100</text><line x1="444.5" y1="426.53" x2="449.5" y2="426.53" stroke="#000" stroke-width="1.5"/><text x="437.8" y="431.53" font-size="11.3" text-anchor="end" fill="#262626" font-weight="normal" font-style="normal" stroke="#262626" stroke-width="0.1" textLength="32" lengthAdjust="spacingAndGlyphs">0.075</text><line x1="444.5" y1="456.41" x2="449.5" y2="456.41" stroke="#000" stroke-width="1.5"/><text x="437.8" y="461.41" font-size="11.3" text-anchor="end" fill="#262626" font-weight="normal" font-style="normal" stroke="#262626" stroke-width="0.1" textLength="32" lengthAdjust="spacingAndGlyphs">0.050</text><line x1="444.5" y1="486.30" x2="449.5" y2="486.30" stroke="#000" stroke-width="1.5"/><text x="437.8" y="491.30" font-size="11.3" text-anchor="end" fill="#262626" font-weight="normal" font-style="normal" stroke="#262626" stroke-width="0.1" textLength="32" lengthAdjust="spacingAndGlyphs">0.025</text><line x1="444.50" y1="486.3" x2="444.50" y2="481.3" stroke="#000" stroke-width="1.5"/><text x="444.50" y="501.5" font-size="11.3" text-anchor="middle" fill="#262626" font-weight="normal" font-style="normal" stroke="#262626" stroke-width="0.1" textLength="33.9" lengthAdjust="spacingAndGlyphs">−0.15</text><line x1="566.80" y1="486.3" x2="566.80" y2="481.3" stroke="#000" stroke-width="1.5"/><text x="566.80" y="501.5" font-size="11.3" text-anchor="middle" fill="#262626" font-weight="normal" font-style="normal" stroke="#262626" stroke-width="0.1" textLength="25" lengthAdjust="spacingAndGlyphs">0.00</text><line x1="672.80" y1="486.3" x2="672.80" y2="481.3" stroke="#000" stroke-width="1.5"/><text x="672.80" y="501.5" font-size="11.3" text-anchor="middle" fill="#262626" font-weight="normal" font-style="normal" stroke="#262626" stroke-width="0.1" textLength="25" lengthAdjust="spacingAndGlyphs">0.13</text><text x="453" y="21.9" font-size="11" text-anchor="start" fill="#111" font-weight="normal" font-style="normal" stroke="#111" stroke-width="0.1" textLength="17.6" lengthAdjust="spacingAndGlyphs"><tspan font-style="italic">N</tspan>-1</text><text x="453" y="289.5" font-size="11" text-anchor="start" fill="#111" font-weight="normal" font-style="normal" stroke="#111" stroke-width="0.1" textLength="8.4" lengthAdjust="spacingAndGlyphs"><tspan font-style="italic">N</tspan></text><text x="538.8" y="23.2" font-size="11" text-anchor="start" fill="#8c564b" font-weight="normal" font-style="normal" stroke="#8c564b" stroke-width="0.1" textLength="50.5" lengthAdjust="spacingAndGlyphs"><tspan font-style="italic">B</tspan> = 1.80 T</text><text x="539.7" y="206.6" font-size="11" text-anchor="start" fill="#1f77b4" font-weight="normal" font-style="normal" stroke="#1f77b4" stroke-width="0.1" textLength="50.3" lengthAdjust="spacingAndGlyphs"><tspan font-style="italic">B</tspan> = 1.00 T</text><text x="513.4" y="292.5" font-size="11" text-anchor="start" fill="#8c564b" font-weight="normal" font-style="normal" stroke="#8c564b" stroke-width="0.1" textLength="50.3" lengthAdjust="spacingAndGlyphs"><tspan font-style="italic">B</tspan> = 2.00 T</text><text x="541.5" y="451.8" font-size="11" text-anchor="start" fill="#1f77b4" font-weight="normal" font-style="normal" stroke="#1f77b4" stroke-width="0.1" textLength="50.4" lengthAdjust="spacingAndGlyphs"><tspan font-style="italic">B</tspan> = 1.00 T</text><text x="559.3" y="251.9" font-size="11.3" text-anchor="middle" fill="#262626" stroke="#262626" stroke-width="0.1" textLength="49" lengthAdjust="spacingAndGlyphs"><tspan font-style="italic">V</tspan><tspan font-size="8" dy="2.5">sd</tspan><tspan dy="-2.5"> [mV]</tspan></text><text x="559.3" y="519.7" font-size="11.3" text-anchor="middle" fill="#262626" stroke="#262626" stroke-width="0.1" textLength="49" lengthAdjust="spacingAndGlyphs"><tspan font-style="italic">V</tspan><tspan font-size="8" dy="2.5">sd</tspan><tspan dy="-2.5"> [mV]</tspan></text><text transform="translate(396,113) rotate(-90)" font-size="11.3" text-anchor="middle" fill="#262626" stroke="#262626" stroke-width="0.1" textLength="52" lengthAdjust="spacingAndGlyphs"><tspan font-style="italic">G</tspan> [2e<tspan dy="-4.5" font-size="8.5">2</tspan><tspan dy="4.5">/h]</tspan></text><text transform="translate(396,383) rotate(-90)" font-size="11.3" text-anchor="middle" fill="#262626" stroke="#262626" stroke-width="0.1" textLength="52" lengthAdjust="spacingAndGlyphs"><tspan font-style="italic">G</tspan> [2e<tspan dy="-4.5" font-size="8.5">2</tspan><tspan dy="4.5">/h]</tspan></text><text x="-0.6" y="9.8" font-size="13" text-anchor="start" fill="#000" font-weight="bold" font-style="normal" >a</text><text x="390.4" y="9.7" font-size="13" text-anchor="start" fill="#000" font-weight="bold" font-style="normal" >b</text><text x="-0.5" y="277.6" font-size="13" text-anchor="start" fill="#000" font-weight="bold" font-style="normal" >c</text><text x="390.4" y="277.5" font-size="13" text-anchor="start" fill="#000" font-weight="bold" font-style="normal" >d</text><text x="78.2" y="550.8" font-size="13" text-anchor="start" fill="#000" font-weight="bold" font-style="normal" >e</text><text x="389.6" y="549.8" font-size="13" text-anchor="start" fill="#000" font-weight="bold" font-style="normal" >f</text><g transform="translate(0,0)"><text x="125.4" y="553" font-size="10.8" text-anchor="start" fill="#111" font-weight="normal" font-style="normal" stroke="#111" stroke-width="0.1" textLength="171.6" lengthAdjust="spacingAndGlyphs">Even electron, <tspan font-style="italic">S</tspan> ≥ 1/2, ZnO, <tspan font-style="italic">B</tspan> = 0</text><path d="M121.7,640.1 L121.7,657 Q152,654.5 176,650 L183,646 L183,636.5 Z" fill="#67ad2b"/><path d="M121.7,640.1 L137.6,627.4 L171,627.6 Q183,628.5 183,636.5 Q158,637.5 121.7,640.1 Z" fill="#8fcd55"/><ellipse cx="184" cy="647" rx="5" ry="2.6" fill="#444" opacity="0.75"/><path d="M244,636 L244,646.2 Q262,651 283.7,654.4 L304.8,653.2 L304.8,638 Q275,633.5 250,632 Z" fill="#67ad2b"/><path d="M244,631 Q250,627 268,626.4 L283.7,626.4 L304.8,638 Q275,633.5 244,631 Z" fill="#8fcd55"/><path d="M304.8,653.2 L308,654.5 L304.8,656 Z" fill="#444"/><ellipse cx="215.4" cy="632.8" rx="55.2" ry="24" fill="#fdc440" opacity="0.64"/><ellipse cx="214.5" cy="620" rx="17" ry="11.5" fill="#fbbf3a" opacity="0.5"/><ellipse cx="213" cy="645.5" rx="19" ry="11" fill="#fbbf3a" opacity="0.5"/><ellipse cx="177" cy="634" rx="17" ry="12" fill="#fbbf3a" opacity="0.5"/><ellipse cx="253" cy="632" rx="17.5" ry="11" fill="#fbbf3a" opacity="0.5"/><ellipse cx="171.2" cy="636.8" rx="11.8" ry="8.8" fill="#c9b128" opacity="0.5"/><ellipse cx="256.6" cy="636" rx="14" ry="9.6" fill="#c9b128" opacity="0.45"/><path d="M214.5,630.2 L220.2,632.7 L214.5,635.2 L208.8,632.7 Z" fill="#fff"/><text x="147.5" y="652.6" font-size="11.5" text-anchor="middle" fill="#fff" font-weight="normal" font-style="normal" stroke="#fff" stroke-width="0.1" textLength="22.6" lengthAdjust="spacingAndGlyphs">Lead</text><text x="280.5" y="649.7" font-size="11.5" text-anchor="middle" fill="#fff" font-weight="normal" font-style="normal" stroke="#fff" stroke-width="0.1" textLength="22.8" lengthAdjust="spacingAndGlyphs">Lead</text><path d="M174.2,578.8 Q212.2,786 251.6,578.8" stroke="#000" stroke-width="2.4" fill="none"/><text x="212.2" y="578.5" font-size="10.8" text-anchor="middle" fill="#111" font-weight="normal" font-style="normal" stroke="#111" stroke-width="0.1" textLength="17.6" lengthAdjust="spacingAndGlyphs">Dot</text><text x="148.3" y="609" font-size="10.8" text-anchor="start" fill="#111" font-weight="normal" font-style="normal" stroke="#111" stroke-width="0.1" textLength="61" lengthAdjust="spacingAndGlyphs">Kondo state</text><line x1="193.3" y1="615.6" x2="231.8" y2="615.6" stroke="#000" stroke-width="1.8"/><line x1="194.1" y1="640.2" x2="231.8" y2="640.2" stroke="#000" stroke-width="1.8"/><rect x="219.2" y="600.8" width="3.6" height="31.5" fill="#b8281c"/><path d="M214.9,600.8 L221,592 L227.1,600.8 Z" fill="#d83a26"/><rect x="203.39999999999998" y="626.2" width="3.6" height="32.39999999999998" fill="#b8281c"/><path d="M199.1,626.2 L205.2,617.4 L211.29999999999998,626.2 Z" fill="#d83a26"/><circle cx="221" cy="615.6" r="7.8" fill="url(#ball)"/><circle cx="205.2" cy="640.7" r="7.8" fill="url(#ball)"/></g><g transform="translate(316.5,0)"><text x="125.4" y="553" font-size="10.8" text-anchor="start" fill="#111" font-weight="normal" font-style="normal" stroke="#111" stroke-width="0.1" textLength="171.6" lengthAdjust="spacingAndGlyphs">Even electron, <tspan font-style="italic">S</tspan> ≥ 1/2, ZnO, <tspan font-style="italic">B</tspan> ≠ 0</text><path d="M121.7,640.1 L121.7,657 Q152,654.5 176,650 L183,646 L183,636.5 Z" fill="#67ad2b"/><path d="M121.7,640.1 L137.6,627.4 L171,627.6 Q183,628.5 183,636.5 Q158,637.5 121.7,640.1 Z" fill="#8fcd55"/><ellipse cx="184" cy="647" rx="5" ry="2.6" fill="#444" opacity="0.75"/><path d="M244,636 L244,646.2 Q262,651 283.7,654.4 L304.8,653.2 L304.8,638 Q275,633.5 250,632 Z" fill="#67ad2b"/><path d="M244,631 Q250,627 268,626.4 L283.7,626.4 L304.8,638 Q275,633.5 244,631 Z" fill="#8fcd55"/><path d="M304.8,653.2 L308,654.5 L304.8,656 Z" fill="#444"/><ellipse cx="215.4" cy="632.8" rx="55.2" ry="24" fill="#fdc440" opacity="0.64"/><ellipse cx="214.5" cy="620" rx="17" ry="11.5" fill="#fbbf3a" opacity="0.5"/><ellipse cx="213" cy="645.5" rx="19" ry="11" fill="#fbbf3a" opacity="0.5"/><ellipse cx="177" cy="634" rx="17" ry="12" fill="#fbbf3a" opacity="0.5"/><ellipse cx="253" cy="632" rx="17.5" ry="11" fill="#fbbf3a" opacity="0.5"/><ellipse cx="171.2" cy="636.8" rx="11.8" ry="8.8" fill="#c9b128" opacity="0.5"/><ellipse cx="256.6" cy="636" rx="14" ry="9.6" fill="#c9b128" opacity="0.45"/><path d="M214.5,630.2 L220.2,632.7 L214.5,635.2 L208.8,632.7 Z" fill="#fff"/><text x="147.5" y="652.6" font-size="11.5" text-anchor="middle" fill="#fff" font-weight="normal" font-style="normal" stroke="#fff" stroke-width="0.1" textLength="22.6" lengthAdjust="spacingAndGlyphs">Lead</text><text x="280.5" y="649.7" font-size="11.5" text-anchor="middle" fill="#fff" font-weight="normal" font-style="normal" stroke="#fff" stroke-width="0.1" textLength="22.8" lengthAdjust="spacingAndGlyphs">Lead</text><path d="M174.2,578.8 Q212.2,786 251.6,578.8" stroke="#000" stroke-width="2.4" fill="none"/><text x="212.2" y="578.5" font-size="10.8" text-anchor="middle" fill="#111" font-weight="normal" font-style="normal" stroke="#111" stroke-width="0.1" textLength="17.6" lengthAdjust="spacingAndGlyphs">Dot</text><text x="144.3" y="602" font-size="10.8" text-anchor="start" fill="#111" font-weight="normal" font-style="normal" stroke="#111" stroke-width="0.1" textLength="61" lengthAdjust="spacingAndGlyphs">Kondo state</text><line x1="193.4" y1="604.9" x2="232" y2="604.9" stroke="#ff0000" stroke-width="2.2"/><line x1="193.4" y1="618" x2="232" y2="618" stroke="#1010ff" stroke-width="2.2"/><line x1="193.4" y1="634.3" x2="232" y2="634.3" stroke="#ff0000" stroke-width="2.2"/><line x1="193.4" y1="646.9" x2="232" y2="646.9" stroke="#1010ff" stroke-width="2.2"/><path d="M201.7,626 L201.7,633.5 M198.7,628.5 L201.7,633.5 L204.7,628.5" stroke="#000" stroke-width="0.9" fill="none"/><path d="M201.7,655 L201.7,648 M198.7,653 L201.7,648 L204.7,653" stroke="#000" stroke-width="0.9" fill="none"/><text x="213.5" y="643.5" font-size="10.5" text-anchor="middle" fill="#111" font-weight="normal" font-style="italic" stroke="#111" stroke-width="0.1" >gμB</text></g>
</svg></body></html>
